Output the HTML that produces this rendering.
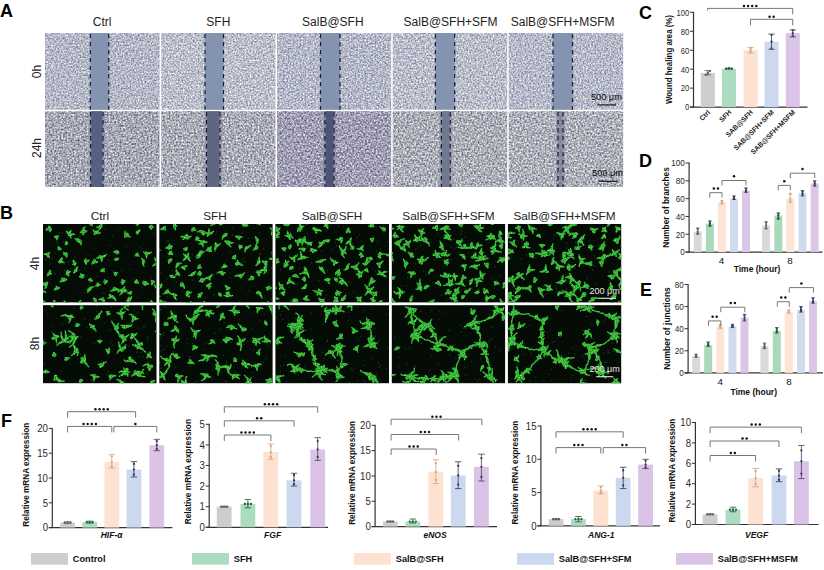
<!DOCTYPE html>
<html><head><meta charset="utf-8"><style>
html,body{margin:0;padding:0;background:#fff;}
body{width:824px;height:570px;overflow:hidden;}
svg{display:block;font-family:"Liberation Sans", sans-serif;}
</style></head><body>
<svg width="824" height="570" viewBox="0 0 824 570">
<defs>
<filter id="ta0" x="0" y="0" width="100%" height="100%" color-interpolation-filters="sRGB">
<feTurbulence type="fractalNoise" baseFrequency="0.6" numOctaves="2" seed="1" result="n"/>
<feColorMatrix in="n" type="matrix" values="0.8 0 0 0 0.306  0.8 0 0 0 0.322  0.680 0 0 0 0.440  0 0 0 0 1"/>
<feGaussianBlur stdDeviation="0.5"/>
<feComposite in2="SourceGraphic" operator="in"/>
</filter>
<filter id="ta1" x="0" y="0" width="100%" height="100%" color-interpolation-filters="sRGB">
<feTurbulence type="fractalNoise" baseFrequency="0.6" numOctaves="2" seed="8" result="n"/>
<feColorMatrix in="n" type="matrix" values="0.8 0 0 0 0.337  0.8 0 0 0 0.349  0.680 0 0 0 0.456  0 0 0 0 1"/>
<feGaussianBlur stdDeviation="0.5"/>
<feComposite in2="SourceGraphic" operator="in"/>
</filter>
<filter id="ta2" x="0" y="0" width="100%" height="100%" color-interpolation-filters="sRGB">
<feTurbulence type="fractalNoise" baseFrequency="0.6" numOctaves="2" seed="15" result="n"/>
<feColorMatrix in="n" type="matrix" values="0.8 0 0 0 0.306  0.8 0 0 0 0.322  0.680 0 0 0 0.444  0 0 0 0 1"/>
<feGaussianBlur stdDeviation="0.5"/>
<feComposite in2="SourceGraphic" operator="in"/>
</filter>
<filter id="ta3" x="0" y="0" width="100%" height="100%" color-interpolation-filters="sRGB">
<feTurbulence type="fractalNoise" baseFrequency="0.6" numOctaves="2" seed="22" result="n"/>
<feColorMatrix in="n" type="matrix" values="0.8 0 0 0 0.329  0.8 0 0 0 0.345  0.680 0 0 0 0.456  0 0 0 0 1"/>
<feGaussianBlur stdDeviation="0.5"/>
<feComposite in2="SourceGraphic" operator="in"/>
</filter>
<filter id="ta4" x="0" y="0" width="100%" height="100%" color-interpolation-filters="sRGB">
<feTurbulence type="fractalNoise" baseFrequency="0.6" numOctaves="2" seed="29" result="n"/>
<feColorMatrix in="n" type="matrix" values="0.8 0 0 0 0.314  0.8 0 0 0 0.329  0.680 0 0 0 0.448  0 0 0 0 1"/>
<feGaussianBlur stdDeviation="0.5"/>
<feComposite in2="SourceGraphic" operator="in"/>
</filter>
<filter id="ta5" x="0" y="0" width="100%" height="100%" color-interpolation-filters="sRGB">
<feTurbulence type="fractalNoise" baseFrequency="0.55" numOctaves="2" seed="36" result="n"/>
<feColorMatrix in="n" type="matrix" values="0.95 0 0 0 0.176  0.95 0 0 0 0.184  0.807 0 0 0 0.306  0 0 0 0 1"/>
<feGaussianBlur stdDeviation="0.5"/>
<feComposite in2="SourceGraphic" operator="in"/>
</filter>
<filter id="ta6" x="0" y="0" width="100%" height="100%" color-interpolation-filters="sRGB">
<feTurbulence type="fractalNoise" baseFrequency="0.55" numOctaves="2" seed="43" result="n"/>
<feColorMatrix in="n" type="matrix" values="0.95 0 0 0 0.192  0.95 0 0 0 0.200  0.807 0 0 0 0.314  0 0 0 0 1"/>
<feGaussianBlur stdDeviation="0.5"/>
<feComposite in2="SourceGraphic" operator="in"/>
</filter>
<filter id="ta7" x="0" y="0" width="100%" height="100%" color-interpolation-filters="sRGB">
<feTurbulence type="fractalNoise" baseFrequency="0.55" numOctaves="2" seed="50" result="n"/>
<feColorMatrix in="n" type="matrix" values="0.95 0 0 0 0.152  0.95 0 0 0 0.145  0.807 0 0 0 0.302  0 0 0 0 1"/>
<feGaussianBlur stdDeviation="0.5"/>
<feComposite in2="SourceGraphic" operator="in"/>
</filter>
<filter id="ta8" x="0" y="0" width="100%" height="100%" color-interpolation-filters="sRGB">
<feTurbulence type="fractalNoise" baseFrequency="0.55" numOctaves="2" seed="57" result="n"/>
<feColorMatrix in="n" type="matrix" values="0.95 0 0 0 0.200  0.95 0 0 0 0.207  0.807 0 0 0 0.318  0 0 0 0 1"/>
<feGaussianBlur stdDeviation="0.5"/>
<feComposite in2="SourceGraphic" operator="in"/>
</filter>
<filter id="ta9" x="0" y="0" width="100%" height="100%" color-interpolation-filters="sRGB">
<feTurbulence type="fractalNoise" baseFrequency="0.55" numOctaves="2" seed="64" result="n"/>
<feColorMatrix in="n" type="matrix" values="0.95 0 0 0 0.207  0.95 0 0 0 0.215  0.807 0 0 0 0.326  0 0 0 0 1"/>
<feGaussianBlur stdDeviation="0.5"/>
<feComposite in2="SourceGraphic" operator="in"/>
</filter>
<filter id="tb0" x="0" y="0" width="100%" height="100%" color-interpolation-filters="sRGB">
<feTurbulence type="fractalNoise" baseFrequency="0.11" numOctaves="3" seed="5" result="n"/>
<feColorMatrix in="n" type="matrix" values="0 0 0 0 0  1 0 0 0 0  0 0 0 0 0  0 0 0 0 1" result="g"/>
<feComponentTransfer in="g" result="t">
<feFuncG type="linear" slope="7" intercept="-3.85"/>
</feComponentTransfer>
<feColorMatrix in="t" type="matrix" values="0 0.3 0 0 0.01  0 0.9 0 0 0.03  0 0.25 0 0 0.01  0 0 0 0 1"/>
<feComposite in2="SourceGraphic" operator="in"/>
</filter>
<filter id="tb1" x="0" y="0" width="100%" height="100%" color-interpolation-filters="sRGB">
<feTurbulence type="fractalNoise" baseFrequency="0.11" numOctaves="3" seed="18" result="n"/>
<feColorMatrix in="n" type="matrix" values="0 0 0 0 0  1 0 0 0 0  0 0 0 0 0  0 0 0 0 1" result="g"/>
<feComponentTransfer in="g" result="t">
<feFuncG type="linear" slope="7" intercept="-3.85"/>
</feComponentTransfer>
<feColorMatrix in="t" type="matrix" values="0 0.3 0 0 0.01  0 0.9 0 0 0.03  0 0.25 0 0 0.01  0 0 0 0 1"/>
<feComposite in2="SourceGraphic" operator="in"/>
</filter>
<filter id="tb2" x="0" y="0" width="100%" height="100%" color-interpolation-filters="sRGB">
<feTurbulence type="fractalNoise" baseFrequency="0.11" numOctaves="3" seed="31" result="n"/>
<feColorMatrix in="n" type="matrix" values="0 0 0 0 0  1 0 0 0 0  0 0 0 0 0  0 0 0 0 1" result="g"/>
<feComponentTransfer in="g" result="t">
<feFuncG type="linear" slope="7" intercept="-3.85"/>
</feComponentTransfer>
<feColorMatrix in="t" type="matrix" values="0 0.3 0 0 0.01  0 0.9 0 0 0.03  0 0.25 0 0 0.01  0 0 0 0 1"/>
<feComposite in2="SourceGraphic" operator="in"/>
</filter>
<filter id="tb3" x="0" y="0" width="100%" height="100%" color-interpolation-filters="sRGB">
<feTurbulence type="fractalNoise" baseFrequency="0.11" numOctaves="3" seed="44" result="n"/>
<feColorMatrix in="n" type="matrix" values="0 0 0 0 0  1 0 0 0 0  0 0 0 0 0  0 0 0 0 1" result="g"/>
<feComponentTransfer in="g" result="t">
<feFuncG type="linear" slope="7" intercept="-3.85"/>
</feComponentTransfer>
<feColorMatrix in="t" type="matrix" values="0 0.3 0 0 0.01  0 0.9 0 0 0.03  0 0.25 0 0 0.01  0 0 0 0 1"/>
<feComposite in2="SourceGraphic" operator="in"/>
</filter>
<filter id="tb4" x="0" y="0" width="100%" height="100%" color-interpolation-filters="sRGB">
<feTurbulence type="fractalNoise" baseFrequency="0.11" numOctaves="3" seed="57" result="n"/>
<feColorMatrix in="n" type="matrix" values="0 0 0 0 0  1 0 0 0 0  0 0 0 0 0  0 0 0 0 1" result="g"/>
<feComponentTransfer in="g" result="t">
<feFuncG type="linear" slope="7" intercept="-3.85"/>
</feComponentTransfer>
<feColorMatrix in="t" type="matrix" values="0 0.3 0 0 0.01  0 0.9 0 0 0.03  0 0.25 0 0 0.01  0 0 0 0 1"/>
<feComposite in2="SourceGraphic" operator="in"/>
</filter>
<filter id="tb5" x="0" y="0" width="100%" height="100%" color-interpolation-filters="sRGB">
<feTurbulence type="fractalNoise" baseFrequency="0.11" numOctaves="3" seed="70" result="n"/>
<feColorMatrix in="n" type="matrix" values="0 0 0 0 0  1 0 0 0 0  0 0 0 0 0  0 0 0 0 1" result="g"/>
<feComponentTransfer in="g" result="t">
<feFuncG type="linear" slope="7" intercept="-3.85"/>
</feComponentTransfer>
<feColorMatrix in="t" type="matrix" values="0 0.3 0 0 0.01  0 0.9 0 0 0.03  0 0.25 0 0 0.01  0 0 0 0 1"/>
<feComposite in2="SourceGraphic" operator="in"/>
</filter>
<filter id="tb6" x="0" y="0" width="100%" height="100%" color-interpolation-filters="sRGB">
<feTurbulence type="fractalNoise" baseFrequency="0.11" numOctaves="3" seed="83" result="n"/>
<feColorMatrix in="n" type="matrix" values="0 0 0 0 0  1 0 0 0 0  0 0 0 0 0  0 0 0 0 1" result="g"/>
<feComponentTransfer in="g" result="t">
<feFuncG type="linear" slope="7" intercept="-3.85"/>
</feComponentTransfer>
<feColorMatrix in="t" type="matrix" values="0 0.3 0 0 0.01  0 0.9 0 0 0.03  0 0.25 0 0 0.01  0 0 0 0 1"/>
<feComposite in2="SourceGraphic" operator="in"/>
</filter>
<filter id="tb7" x="0" y="0" width="100%" height="100%" color-interpolation-filters="sRGB">
<feTurbulence type="fractalNoise" baseFrequency="0.11" numOctaves="3" seed="96" result="n"/>
<feColorMatrix in="n" type="matrix" values="0 0 0 0 0  1 0 0 0 0  0 0 0 0 0  0 0 0 0 1" result="g"/>
<feComponentTransfer in="g" result="t">
<feFuncG type="linear" slope="7" intercept="-3.85"/>
</feComponentTransfer>
<feColorMatrix in="t" type="matrix" values="0 0.3 0 0 0.01  0 0.9 0 0 0.03  0 0.25 0 0 0.01  0 0 0 0 1"/>
<feComposite in2="SourceGraphic" operator="in"/>
</filter>
<filter id="tb8" x="0" y="0" width="100%" height="100%" color-interpolation-filters="sRGB">
<feTurbulence type="fractalNoise" baseFrequency="0.11" numOctaves="3" seed="109" result="n"/>
<feColorMatrix in="n" type="matrix" values="0 0 0 0 0  1 0 0 0 0  0 0 0 0 0  0 0 0 0 1" result="g"/>
<feComponentTransfer in="g" result="t">
<feFuncG type="linear" slope="7" intercept="-3.85"/>
</feComponentTransfer>
<feColorMatrix in="t" type="matrix" values="0 0.3 0 0 0.01  0 0.9 0 0 0.03  0 0.25 0 0 0.01  0 0 0 0 1"/>
<feComposite in2="SourceGraphic" operator="in"/>
</filter>
<filter id="tb9" x="0" y="0" width="100%" height="100%" color-interpolation-filters="sRGB">
<feTurbulence type="fractalNoise" baseFrequency="0.11" numOctaves="3" seed="122" result="n"/>
<feColorMatrix in="n" type="matrix" values="0 0 0 0 0  1 0 0 0 0  0 0 0 0 0  0 0 0 0 1" result="g"/>
<feComponentTransfer in="g" result="t">
<feFuncG type="linear" slope="7" intercept="-3.85"/>
</feComponentTransfer>
<feColorMatrix in="t" type="matrix" values="0 0.3 0 0 0.01  0 0.9 0 0 0.03  0 0.25 0 0 0.01  0 0 0 0 1"/>
<feComposite in2="SourceGraphic" operator="in"/>
</filter>
<filter id="cb" x="0" y="0" width="100%" height="100%" filterUnits="userSpaceOnUse" color-interpolation-filters="sRGB">
<feGaussianBlur in="SourceGraphic" stdDeviation="0.45" result="b"/>
<feTurbulence type="fractalNoise" baseFrequency="0.8" numOctaves="1" seed="9" result="n"/>
<feColorMatrix in="n" type="matrix" values="1.4 0 0 0 -0.2  1.4 0 0 0 -0.2  1.4 0 0 0 -0.2  0 0 0 0 1" result="nc"/>
<feComposite in="b" in2="nc" operator="arithmetic" k1="0.8" k2="0.5" k3="0" k4="0"/>
</filter>
</defs>
<text x="0.00" y="16.60" font-size="18" font-weight="bold" text-anchor="start" fill="#000">A</text>
<text x="0.00" y="218.60" font-size="18" font-weight="bold" text-anchor="start" fill="#000">B</text>
<text x="639.00" y="19.10" font-size="18" font-weight="bold" text-anchor="start" fill="#000">C</text>
<text x="639.00" y="167.10" font-size="18" font-weight="bold" text-anchor="start" fill="#000">D</text>
<text x="640.00" y="295.60" font-size="18" font-weight="bold" text-anchor="start" fill="#000">E</text>
<text x="1.00" y="426.60" font-size="18" font-weight="bold" text-anchor="start" fill="#000">F</text>
<text x="102.20" y="25.60" font-size="12" text-anchor="middle" fill="#222">Ctrl</text>
<text x="218.30" y="25.60" font-size="12" text-anchor="middle" fill="#222">SFH</text>
<text x="332.80" y="25.60" font-size="12" text-anchor="middle" fill="#222">SalB@SFH</text>
<text x="450.50" y="25.60" font-size="12" text-anchor="middle" fill="#222">SalB@SFH+SFM</text>
<text x="562.70" y="25.60" font-size="12" text-anchor="middle" fill="#222">SalB@SFH+MSFM</text>
<text x="41.00" y="71.50" font-size="12" text-anchor="middle" fill="#222" transform="rotate(-90 41 71.5)">0h</text>
<text x="41.00" y="148.00" font-size="12" text-anchor="middle" fill="#222" transform="rotate(-90 41 148)">24h</text>
<rect x="45.00" y="33.00" width="114.60" height="76.70" fill="#b9bed2" filter="url(#ta0)"/>
<rect x="90.30" y="33.00" width="18.50" height="76.70" fill="#8493b0"/>
<line x1="90.30" y1="33.00" x2="90.30" y2="109.70" stroke="#161b36" stroke-width="1.2" stroke-dasharray="4.3 3.7" stroke-dashoffset="-0.9"/>
<line x1="108.80" y1="33.00" x2="108.80" y2="109.70" stroke="#161b36" stroke-width="1.2" stroke-dasharray="4.3 3.7" stroke-dashoffset="-0.9"/>
<rect x="161.20" y="33.00" width="114.30" height="76.70" fill="#b9bed2" filter="url(#ta1)"/>
<rect x="205.00" y="33.00" width="18.50" height="76.70" fill="#8493b0"/>
<line x1="205.00" y1="33.00" x2="205.00" y2="109.70" stroke="#161b36" stroke-width="1.2" stroke-dasharray="4.3 3.7" stroke-dashoffset="-0.9"/>
<line x1="223.50" y1="33.00" x2="223.50" y2="109.70" stroke="#161b36" stroke-width="1.2" stroke-dasharray="4.3 3.7" stroke-dashoffset="-0.9"/>
<rect x="277.00" y="33.00" width="114.20" height="76.70" fill="#b9bed2" filter="url(#ta2)"/>
<rect x="320.50" y="33.00" width="19.50" height="76.70" fill="#8493b0"/>
<line x1="320.50" y1="33.00" x2="320.50" y2="109.70" stroke="#161b36" stroke-width="1.2" stroke-dasharray="4.3 3.7" stroke-dashoffset="-0.9"/>
<line x1="340.00" y1="33.00" x2="340.00" y2="109.70" stroke="#161b36" stroke-width="1.2" stroke-dasharray="4.3 3.7" stroke-dashoffset="-0.9"/>
<rect x="392.70" y="33.00" width="114.50" height="76.70" fill="#b9bed2" filter="url(#ta3)"/>
<rect x="435.40" y="33.00" width="19.30" height="76.70" fill="#8493b0"/>
<line x1="435.40" y1="33.00" x2="435.40" y2="109.70" stroke="#161b36" stroke-width="1.2" stroke-dasharray="4.3 3.7" stroke-dashoffset="-0.9"/>
<line x1="454.70" y1="33.00" x2="454.70" y2="109.70" stroke="#161b36" stroke-width="1.2" stroke-dasharray="4.3 3.7" stroke-dashoffset="-0.9"/>
<rect x="508.70" y="33.00" width="114.50" height="76.70" fill="#b9bed2" filter="url(#ta4)"/>
<rect x="553.00" y="33.00" width="19.50" height="76.70" fill="#8493b0"/>
<line x1="553.00" y1="33.00" x2="553.00" y2="109.70" stroke="#161b36" stroke-width="1.2" stroke-dasharray="4.3 3.7" stroke-dashoffset="-0.9"/>
<line x1="572.50" y1="33.00" x2="572.50" y2="109.70" stroke="#161b36" stroke-width="1.2" stroke-dasharray="4.3 3.7" stroke-dashoffset="-0.9"/>
<rect x="45.00" y="111.20" width="114.60" height="75.80" fill="#b9bed2" filter="url(#ta5)"/>
<rect x="88.70" y="111.20" width="16.30" height="75.80" fill="#80869c" opacity="0.45"/>
<rect x="91.30" y="111.20" width="11.10" height="75.80" fill="#566080" opacity="1"/>
<line x1="90.70" y1="111.20" x2="90.70" y2="187.00" stroke="#161b36" stroke-width="1.2" stroke-dasharray="4.3 3.7" stroke-dashoffset="-0.9"/>
<line x1="103.00" y1="111.20" x2="103.00" y2="187.00" stroke="#161b36" stroke-width="1.2" stroke-dasharray="4.3 3.7" stroke-dashoffset="-0.9"/>
<rect x="161.20" y="111.20" width="114.30" height="75.80" fill="#b9bed2" filter="url(#ta6)"/>
<rect x="204.50" y="111.20" width="17.50" height="75.80" fill="#80869c" opacity="0.45"/>
<rect x="207.10" y="111.20" width="12.30" height="75.80" fill="#5e6684" opacity="1"/>
<line x1="206.50" y1="111.20" x2="206.50" y2="187.00" stroke="#161b36" stroke-width="1.2" stroke-dasharray="4.3 3.7" stroke-dashoffset="-0.9"/>
<line x1="220.00" y1="111.20" x2="220.00" y2="187.00" stroke="#161b36" stroke-width="1.2" stroke-dasharray="4.3 3.7" stroke-dashoffset="-0.9"/>
<rect x="277.00" y="111.20" width="114.20" height="75.80" fill="#b9bed2" filter="url(#ta7)"/>
<rect x="323.00" y="111.20" width="13.00" height="75.80" fill="#80869c" opacity="0.45"/>
<rect x="325.60" y="111.20" width="7.80" height="75.80" fill="#4e5476" opacity="1"/>
<line x1="325.00" y1="111.20" x2="325.00" y2="187.00" stroke="#161b36" stroke-width="1.2" stroke-dasharray="4.3 3.7" stroke-dashoffset="-0.9"/>
<line x1="334.00" y1="111.20" x2="334.00" y2="187.00" stroke="#161b36" stroke-width="1.2" stroke-dasharray="4.3 3.7" stroke-dashoffset="-0.9"/>
<rect x="392.70" y="111.20" width="114.50" height="75.80" fill="#b9bed2" filter="url(#ta8)"/>
<rect x="439.40" y="111.20" width="12.80" height="75.80" fill="#80869c" opacity="0.45"/>
<rect x="442.00" y="111.20" width="7.60" height="75.80" fill="#727890" opacity="1"/>
<line x1="441.40" y1="111.20" x2="441.40" y2="187.00" stroke="#161b36" stroke-width="1.2" stroke-dasharray="4.3 3.7" stroke-dashoffset="-0.9"/>
<line x1="450.20" y1="111.20" x2="450.20" y2="187.00" stroke="#161b36" stroke-width="1.2" stroke-dasharray="4.3 3.7" stroke-dashoffset="-0.9"/>
<rect x="508.70" y="111.20" width="114.50" height="75.80" fill="#b9bed2" filter="url(#ta9)"/>
<rect x="556.00" y="111.20" width="9.00" height="75.80" fill="#80869c" opacity="0.45"/>
<rect x="558.60" y="111.20" width="3.80" height="75.80" fill="#6e748e" opacity="0.45"/>
<line x1="558.00" y1="111.20" x2="558.00" y2="187.00" stroke="#161b36" stroke-width="1.2" stroke-dasharray="4.3 3.7" stroke-dashoffset="-0.9"/>
<line x1="563.00" y1="111.20" x2="563.00" y2="187.00" stroke="#161b36" stroke-width="1.2" stroke-dasharray="4.3 3.7" stroke-dashoffset="-0.9"/>
<text x="621.80" y="100.30" font-size="9.2" text-anchor="end" fill="#0a0a0a">500 μm</text>
<line x1="597.20" y1="104.90" x2="615.90" y2="104.90" stroke="#111" stroke-width="1.1"/>
<text x="623.00" y="176.40" font-size="9.2" text-anchor="end" fill="#0a0a0a">500 μm</text>
<line x1="598.80" y1="181.30" x2="617.50" y2="181.30" stroke="#111" stroke-width="1.1"/>
<text x="100.00" y="219.80" font-size="11.8" text-anchor="middle" fill="#222">Ctrl</text>
<text x="215.00" y="219.80" font-size="11.8" text-anchor="middle" fill="#222">SFH</text>
<text x="332.00" y="219.80" font-size="11.8" text-anchor="middle" fill="#222">SalB@SFH</text>
<text x="448.50" y="219.80" font-size="11.8" text-anchor="middle" fill="#222">SalB@SFH+SFM</text>
<text x="564.50" y="219.80" font-size="11.8" text-anchor="middle" fill="#222">SalB@SFH+MSFM</text>
<text x="39.00" y="263.50" font-size="12" text-anchor="middle" fill="#222" transform="rotate(-90 39 263.5)">4h</text>
<text x="39.00" y="343.50" font-size="12" text-anchor="middle" fill="#222" transform="rotate(-90 39 343.5)">8h</text>
<rect x="43.00" y="224.00" width="113.50" height="78.40" fill="#050b05"/>
<svg x="43.00" y="224.00" width="113.50" height="78.40" overflow="hidden"><path d="M37 12h0M74 6h0M61 29h0M7 40h0M4 34h0M8 7h0M48 65h0M14 18h0M71 74h0M66 31h0M111 4h0M97 23h0M16 9h0M35 64h0M21 46h0M73 29h0M62 5h0M7 16h0M77 34h0M36 46h0M51 24h0M90 55h0M28 45h0M60 69h0M83 23h0M111 9h0M47 59h0M17 38h0M4 52h0M87 45h0M99 25h0M79 47h0M66 36h0M95 74h0M54 52h0M7 55h0M73 78h0M93 22h0M44 52h0M3 36h0M19 9h0M7 60h0M15 19h0M44 68h0M9 35h0M62 69h0M93 68h0M32 33h0M41 69h0M109 12h0M20 18h0M26 38h0M67 21h0M0 33h0M42 44h0M108 54h0M59 48h0M77 4h0M102 61h0M99 63h0M45 31h0M12 50h0M7 5h0M24 13h0M39 4h0M0 12h0M12 29h0M3 69h0M70 12h0M29 27h0" stroke="#3d5a3d" stroke-width="1.4" stroke-linecap="round" opacity="0.6"/><g filter="url(#cb)" fill="none" stroke="#40cc40" stroke-linecap="round" stroke-linejoin="round"><path d="M40.5 7.4L39.4 7.7L38.3 8.1L37.3 8.4M40.5 7.4L40.4 6.1L40.5 5.1L40.8 4.2L41.5 3.3L42.4 2.8M40.5 7.4L41.7 7.3L42.9 7.3L43.8 7.6M40.5 7.4L40.5 8.3L40.4 9.5L39.8 10.6M93.6 58.0L94.7 58.4L95.5 59.2M93.6 58.0L92.5 58.3L91.6 58.2M93.6 58.0L93.5 56.8L93.4 55.6M110.1 57.9L109.0 57.2L108.5 56.4M110.1 57.9L109.5 58.8L109.0 59.6L108.8 60.8M59.9 75.8L59.9 74.8L60.0 73.8M59.9 75.8L60.5 76.7L61.2 77.6M59.9 75.8L58.9 75.5L57.8 75.2L56.7 75.4L56.0 75.8M17.6 37.0L18.7 37.4L19.4 38.1L20.2 38.5L21.2 38.6M17.6 37.0L17.5 38.0L16.9 38.9M17.6 37.0L16.5 37.6L15.6 38.0M17.6 37.0L18.0 35.8L18.6 35.0L19.3 34.2M17.6 37.0L18.2 36.1L18.6 35.2L18.6 33.9M73.9 27.9L75.0 28.2L75.9 29.0M73.9 27.9L73.6 28.9L73.7 29.9M73.9 27.9L72.9 27.6L71.9 27.7L70.7 27.8M114.7 63.5L115.6 64.3L116.3 65.4L116.8 66.6M114.7 63.5L113.8 62.9L112.9 62.5L112.1 61.9L111.7 61.0M23.6 19.3L22.9 20.0L22.1 20.6M23.6 19.3L23.3 18.4L22.8 17.5M31.7 39.2L30.9 38.4L30.7 37.3L30.2 36.3M31.7 39.2L32.1 40.2L32.0 41.5M31.7 39.2L31.0 39.9L29.9 40.4M115.2 79.9L116.2 79.7L117.4 79.9L118.3 80.2L119.4 80.3M115.2 79.9L114.2 79.9L113.1 79.3L112.2 78.9M42.6 37.1L42.8 38.0L42.9 39.1L43.2 40.2M42.6 37.1L42.5 36.1L42.7 34.9M42.6 37.1L43.7 37.1L44.8 36.8L45.9 36.1M58.3 33.2L58.7 34.4L58.8 35.5L58.3 36.6M58.3 33.2L58.5 34.2L58.9 35.0L58.9 36.2L58.8 37.3M58.3 33.2L57.1 33.5L56.0 33.6L54.9 33.5L53.8 34.0M58.3 33.2L57.4 32.4L56.4 31.9M58.3 33.2L59.3 32.7L60.4 32.3L61.5 32.1L62.3 31.5L63.1 30.6M64.8 -1.9L65.9 -2.5L66.7 -3.3M64.8 -1.9L64.0 -1.4L63.4 -0.5M64.8 -1.9L63.6 -2.4L62.9 -3.2M108.2 3.3L107.9 4.3L107.9 5.3M108.2 3.3L107.2 3.2L106.2 2.6M108.2 3.3L107.8 2.3L107.1 1.6M108.2 3.3L108.7 2.1L108.8 1.2M108.2 3.3L109.2 2.9L110.1 3.0M87.3 69.1L88.0 68.4L88.7 67.7M87.3 69.1L86.1 69.2L84.8 69.2M62.6 57.7L61.8 58.0L60.8 58.0M62.6 57.7L61.9 56.8L61.6 55.8M62.6 57.7L63.6 57.2L64.2 56.5M62.6 57.7L62.5 58.7L61.8 59.8M13.7 13.2L12.8 12.8L11.6 12.7M13.7 13.2L14.5 12.6L15.5 12.1M13.7 13.2L13.9 14.3L13.7 15.6M104.2 29.5L105.0 29.2L106.3 29.0L107.4 28.9L108.3 28.2M104.2 29.5L103.6 30.6L103.4 31.5L103.6 32.6L103.5 33.9M104.2 29.5L103.1 29.3L102.2 29.1L101.3 28.7L100.6 27.7M104.2 29.5L103.2 28.8L102.5 28.2M59.7 46.2L60.4 45.5L61.1 44.5M59.7 46.2L60.3 46.9L61.1 47.7M59.7 46.2L58.5 46.5L57.8 47.1M80.2 57.6L80.2 58.6L79.8 59.5L79.1 60.3M80.2 57.6L78.9 57.9L78.0 58.1M80.2 57.6L79.8 56.4L79.2 55.5M80.2 57.6L81.1 57.5L82.0 57.0M102.6 58.8L101.7 59.1L100.7 59.3L99.7 59.5M102.6 58.8L101.6 58.6L100.8 58.1L100.4 57.2M102.6 58.8L103.4 59.5L104.5 59.8L105.7 59.9M46.1 65.5L45.5 66.3L45.1 67.4L45.0 68.4M46.1 65.5L46.6 64.5L47.4 63.9L48.5 63.4L49.7 63.2L50.8 62.5M94.4 8.2L95.3 7.6L96.1 6.9L96.8 5.9M94.4 8.2L94.2 9.2L94.4 10.1M35.9 79.7L36.4 80.8L36.8 81.7M35.9 79.7L36.4 78.6L37.2 77.8L37.7 76.6M26.3 9.9L27.2 10.6L27.9 11.3M26.3 9.9L26.5 11.2L27.0 12.1L27.7 13.2L28.4 13.8M26.3 9.9L25.6 9.4L24.8 8.8L23.9 8.0L23.4 7.2M26.3 9.9L26.6 9.1L26.8 8.2L27.4 7.5L28.4 6.7M26.3 9.9L27.3 10.2L28.2 10.5L29.3 10.3L30.4 10.2L31.5 10.3M3.1 59.9L2.2 60.0L1.2 59.8L0.0 60.2L-1.1 60.7L-2.2 61.3M3.1 59.9L2.0 59.7L0.8 59.4L-0.3 59.5L-1.4 59.8M3.1 59.9L4.1 59.0L4.5 58.0M3.1 59.9L3.4 60.8L3.2 62.1L3.0 63.0L2.5 63.9L1.5 64.5M23.1 30.7L22.1 30.7L20.9 30.3M23.1 30.7L22.3 30.1L21.3 29.3L20.6 28.3M23.1 30.7L23.3 29.7L23.6 28.8M23.1 30.7L23.4 31.8L23.7 33.0M93.9 30.8L93.1 31.2L92.2 31.6M93.9 30.8L94.2 30.0L94.7 29.0M93.9 30.8L95.0 31.4L95.9 32.3M114.3 38.5L113.9 37.5L113.2 36.6L112.6 35.6L112.0 34.7L111.9 33.6M114.3 38.5L115.4 38.5L116.4 38.2L117.4 38.0L118.4 37.7M114.3 38.5L113.8 39.3L112.7 40.0L111.8 40.6L110.7 41.2L109.8 41.9M24.5 48.9L25.5 48.4L26.5 48.1L27.1 47.4M24.5 48.9L25.1 49.9L25.2 50.8L25.7 51.9M24.5 48.9L23.9 49.6L23.3 50.5M53.8 8.4L52.7 7.9L51.5 7.7L50.8 7.1L50.1 6.1M53.8 8.4L54.7 8.9L55.6 9.3L56.5 9.2L57.4 8.7M53.8 8.4L52.9 9.1L52.0 9.6L51.1 10.3M57.8 2.4L58.2 1.4L58.9 0.6M57.8 2.4L58.3 1.6L58.8 0.5M57.8 2.4L57.4 3.3L56.9 4.3L56.1 5.1L55.6 6.1M57.8 2.4L56.9 2.5L56.0 3.0L54.7 3.2L53.7 3.1M36.3 17.2L35.3 16.8L34.4 16.1L33.5 15.7L32.7 15.2L32.1 14.4M36.3 17.2L35.7 16.3L35.0 15.7M36.3 17.2L37.3 16.7L38.2 16.5M36.3 17.2L37.3 17.9L37.8 18.6L38.1 19.9L37.9 20.8M36.3 17.2L37.2 18.0L37.7 19.0L37.9 20.2M47.6 -1.2L48.2 -0.2L48.7 0.6L49.0 1.8M47.6 -1.2L47.2 -0.3L47.2 0.9M47.6 -1.2L47.9 -2.2L48.1 -3.3L48.1 -4.5M80.1 66.7L79.4 67.4L78.8 68.4L78.4 69.3L77.9 70.0L76.9 70.8M80.1 66.7L79.1 66.3L77.8 66.1L76.6 66.4L75.8 67.0L75.1 68.0M80.1 66.7L80.3 65.7L80.5 64.6L81.0 63.5L81.6 62.6M80.1 66.7L81.1 66.2L82.1 66.0L83.3 65.8M80.1 66.7L81.2 67.2L82.2 67.4L83.4 67.3L84.3 67.6M16.2 24.7L17.1 25.0L18.2 25.1M16.2 24.7L15.7 23.9L15.4 22.8M23.6 79.8L24.2 80.9L24.9 81.8M23.6 79.8L22.6 79.2L21.8 78.2L21.2 77.1M73.7 35.3L74.5 34.8L75.5 34.5M73.7 35.3L72.5 35.6L71.3 35.4M-1.7 67.2L-0.5 67.4L0.5 67.5L1.6 67.7L2.6 68.2M-1.7 67.2L-2.6 66.6L-3.0 65.7L-3.3 64.7L-3.3 63.7M85.6 76.3L86.8 75.8L87.6 74.9L88.0 73.8L88.8 72.8M85.6 76.3L84.6 77.0L83.5 77.8M85.6 76.3L85.5 75.2L85.7 74.3L86.1 73.2M39.8 52.2L38.6 52.7L37.7 52.8L36.5 52.4M39.8 52.2L39.2 51.2L38.4 50.8L37.8 49.8M39.8 52.2L40.1 51.3L40.6 50.4M39.8 52.2L39.5 53.1L38.7 54.0M20.6 55.5L19.5 54.8L18.5 54.3M20.6 55.5L21.6 55.7L22.7 55.5L23.7 55.6M20.6 55.5L20.9 56.5L21.2 57.5M20.6 55.5L19.7 56.1L18.9 56.5L18.2 57.4L17.1 57.9M54.9 60.9L54.8 59.9L54.8 58.8M54.9 60.9L55.9 60.8L57.2 60.8M54.9 60.9L53.9 61.4L53.0 62.0M32.8 46.5L31.9 47.2L31.5 48.0L30.7 48.7M32.8 46.5L33.2 45.5L33.5 44.5L34.0 43.5L34.7 42.9M72.7 49.8L73.3 49.1L74.1 48.6M72.7 49.8L72.4 50.7L72.6 51.6M72.7 49.8L71.9 49.0L71.0 48.2M47.3 55.7L48.4 56.5L49.2 57.1M47.3 55.7L46.4 55.7L45.6 56.2M11.5 78.6L12.4 79.4L13.2 79.9M11.5 78.6L11.4 77.4L10.7 76.4M52.0 75.7L51.3 74.7L50.4 74.2M52.0 75.7L52.3 76.8L53.0 77.6L53.6 78.4M14.3 64.3L13.6 63.2L13.2 62.2M14.3 64.3L15.4 64.0L16.5 64.0M14.3 64.3L13.3 64.7L12.4 65.3L11.3 65.5M68.9 72.6L67.8 72.0L67.0 71.1L66.2 70.5M68.9 72.6L70.1 73.1L71.0 73.8L71.6 74.7L72.3 75.6L72.9 76.5M68.9 72.6L67.9 72.8L67.0 73.4L65.9 73.9L65.0 74.2M4.5 30.6L5.3 30.0L5.8 29.2L6.6 28.5M4.5 30.6L4.8 31.5L5.7 32.5L6.4 33.1M4.5 30.6L3.4 30.2L2.3 30.1L1.4 30.3M100.5 38.0L101.1 37.1L101.7 36.3M100.5 38.0L100.1 39.0L100.2 39.9L100.5 41.1L100.9 42.3M100.5 38.0L100.0 36.9L99.8 36.0L99.4 35.1L98.5 34.2M83.1 11.5L84.1 11.8L85.3 12.0L86.2 12.6L87.2 12.7M83.1 11.5L82.3 12.3L81.6 13.2M83.1 11.5L82.7 10.6L82.1 9.6L81.9 8.4L82.0 7.3M6.3 49.2L6.8 48.5L7.0 47.2L6.9 46.2M6.3 49.2L7.4 49.6L8.5 49.7M6.3 49.2L5.5 50.0L5.1 50.7L4.5 51.6M51.5 37.7L52.6 38.0L53.6 38.1L54.6 37.8M51.5 37.7L50.7 38.2L49.7 39.0L49.3 40.1M51.5 37.7L50.3 37.9L49.4 38.3M51.5 37.7L51.4 36.8L51.1 35.5M51.5 37.7L51.9 36.8L52.6 35.9M6.5 4.4L6.2 3.2L5.8 2.4M6.5 4.4L7.6 4.8L8.5 5.5M6.5 4.4L6.5 5.7L7.0 6.6L7.2 7.5M6.5 4.4L5.2 4.6L4.2 5.3L3.2 6.0M108.4 78.8L108.4 77.6L108.3 76.4M108.4 78.8L108.8 79.8L109.2 80.8M108.4 78.8L107.7 79.5L107.4 80.4M94.6 -0.5L94.5 0.5L94.3 1.5M94.6 -0.5L93.6 -0.4L92.4 -0.5M94.6 -0.5L95.6 -1.0L96.3 -1.7M1.3 78.9L1.0 80.1L0.2 81.2M1.3 78.9L0.8 78.0L0.7 76.7M1.3 78.9L2.4 79.0L3.3 79.1M72.7 65.3L73.7 65.4L74.9 65.6L75.9 65.9L76.9 66.2M72.7 65.3L71.5 65.6L70.6 66.2L69.5 66.4L68.5 66.8L67.6 67.2" stroke-width="1.4"/><path d="M40.5 7.4L39.4 7.7L38.3 8.1M40.5 7.4L40.4 6.1L40.5 5.1L40.8 4.2M40.5 7.4L41.7 7.3L42.9 7.3M40.5 7.4L40.5 8.3L40.4 9.5M93.6 58.0L94.7 58.4M93.6 58.0L92.5 58.3M93.6 58.0L93.5 56.8M110.1 57.9L109.0 57.2M110.1 57.9L109.5 58.8L109.0 59.6M59.9 75.8L59.9 74.8M59.9 75.8L60.5 76.7M59.9 75.8L58.9 75.5L57.8 75.2M17.6 37.0L18.7 37.4L19.4 38.1M17.6 37.0L17.5 38.0M17.6 37.0L16.5 37.6M17.6 37.0L18.0 35.8L18.6 35.0M17.6 37.0L18.2 36.1L18.6 35.2M73.9 27.9L75.0 28.2M73.9 27.9L73.6 28.9M73.9 27.9L72.9 27.6L71.9 27.7M114.7 63.5L115.6 64.3L116.3 65.4M114.7 63.5L113.8 62.9L112.9 62.5M23.6 19.3L22.9 20.0M23.6 19.3L23.3 18.4M31.7 39.2L30.9 38.4L30.7 37.3M31.7 39.2L32.1 40.2M31.7 39.2L31.0 39.9M115.2 79.9L116.2 79.7L117.4 79.9M115.2 79.9L114.2 79.9L113.1 79.3M42.6 37.1L42.8 38.0L42.9 39.1M42.6 37.1L42.5 36.1M42.6 37.1L43.7 37.1L44.8 36.8M58.3 33.2L58.7 34.4L58.8 35.5M58.3 33.2L58.5 34.2L58.9 35.0M58.3 33.2L57.1 33.5L56.0 33.6M58.3 33.2L57.4 32.4M58.3 33.2L59.3 32.7L60.4 32.3L61.5 32.1M64.8 -1.9L65.9 -2.5M64.8 -1.9L64.0 -1.4M64.8 -1.9L63.6 -2.4M108.2 3.3L107.9 4.3M108.2 3.3L107.2 3.2M108.2 3.3L107.8 2.3M108.2 3.3L108.7 2.1M108.2 3.3L109.2 2.9M87.3 69.1L88.0 68.4M87.3 69.1L86.1 69.2M62.6 57.7L61.8 58.0M62.6 57.7L61.9 56.8M62.6 57.7L63.6 57.2M62.6 57.7L62.5 58.7M13.7 13.2L12.8 12.8M13.7 13.2L14.5 12.6M13.7 13.2L13.9 14.3M104.2 29.5L105.0 29.2L106.3 29.0M104.2 29.5L103.6 30.6L103.4 31.5M104.2 29.5L103.1 29.3L102.2 29.1M104.2 29.5L103.2 28.8M59.7 46.2L60.4 45.5M59.7 46.2L60.3 46.9M59.7 46.2L58.5 46.5M80.2 57.6L80.2 58.6L79.8 59.5M80.2 57.6L78.9 57.9M80.2 57.6L79.8 56.4M80.2 57.6L81.1 57.5M102.6 58.8L101.7 59.1L100.7 59.3M102.6 58.8L101.6 58.6L100.8 58.1M102.6 58.8L103.4 59.5L104.5 59.8M46.1 65.5L45.5 66.3L45.1 67.4M46.1 65.5L46.6 64.5L47.4 63.9L48.5 63.4M94.4 8.2L95.3 7.6L96.1 6.9M94.4 8.2L94.2 9.2M35.9 79.7L36.4 80.8M35.9 79.7L36.4 78.6L37.2 77.8M26.3 9.9L27.2 10.6M26.3 9.9L26.5 11.2L27.0 12.1M26.3 9.9L25.6 9.4L24.8 8.8M26.3 9.9L26.6 9.1L26.8 8.2M26.3 9.9L27.3 10.2L28.2 10.5L29.3 10.3M3.1 59.9L2.2 60.0L1.2 59.8L0.0 60.2M3.1 59.9L2.0 59.7L0.8 59.4M3.1 59.9L4.1 59.0M3.1 59.9L3.4 60.8L3.2 62.1L3.0 63.0M23.1 30.7L22.1 30.7M23.1 30.7L22.3 30.1L21.3 29.3M23.1 30.7L23.3 29.7M23.1 30.7L23.4 31.8M93.9 30.8L93.1 31.2M93.9 30.8L94.2 30.0M93.9 30.8L95.0 31.4M114.3 38.5L113.9 37.5L113.2 36.6L112.6 35.6M114.3 38.5L115.4 38.5L116.4 38.2M114.3 38.5L113.8 39.3L112.7 40.0L111.8 40.6M24.5 48.9L25.5 48.4L26.5 48.1M24.5 48.9L25.1 49.9L25.2 50.8M24.5 48.9L23.9 49.6M53.8 8.4L52.7 7.9L51.5 7.7M53.8 8.4L54.7 8.9L55.6 9.3M53.8 8.4L52.9 9.1L52.0 9.6M57.8 2.4L58.2 1.4M57.8 2.4L58.3 1.6M57.8 2.4L57.4 3.3L56.9 4.3M57.8 2.4L56.9 2.5L56.0 3.0M36.3 17.2L35.3 16.8L34.4 16.1L33.5 15.7M36.3 17.2L35.7 16.3M36.3 17.2L37.3 16.7M36.3 17.2L37.3 17.9L37.8 18.6M36.3 17.2L37.2 18.0L37.7 19.0M47.6 -1.2L48.2 -0.2L48.7 0.6M47.6 -1.2L47.2 -0.3M47.6 -1.2L47.9 -2.2L48.1 -3.3M80.1 66.7L79.4 67.4L78.8 68.4L78.4 69.3M80.1 66.7L79.1 66.3L77.8 66.1L76.6 66.4M80.1 66.7L80.3 65.7L80.5 64.6M80.1 66.7L81.1 66.2L82.1 66.0M80.1 66.7L81.2 67.2L82.2 67.4M16.2 24.7L17.1 25.0M16.2 24.7L15.7 23.9M23.6 79.8L24.2 80.9M23.6 79.8L22.6 79.2L21.8 78.2M73.7 35.3L74.5 34.8M73.7 35.3L72.5 35.6M-1.7 67.2L-0.5 67.4L0.5 67.5M-1.7 67.2L-2.6 66.6L-3.0 65.7M85.6 76.3L86.8 75.8L87.6 74.9M85.6 76.3L84.6 77.0M85.6 76.3L85.5 75.2L85.7 74.3M39.8 52.2L38.6 52.7L37.7 52.8M39.8 52.2L39.2 51.2L38.4 50.8M39.8 52.2L40.1 51.3M39.8 52.2L39.5 53.1M20.6 55.5L19.5 54.8M20.6 55.5L21.6 55.7L22.7 55.5M20.6 55.5L20.9 56.5M20.6 55.5L19.7 56.1L18.9 56.5M54.9 60.9L54.8 59.9M54.9 60.9L55.9 60.8M54.9 60.9L53.9 61.4M32.8 46.5L31.9 47.2L31.5 48.0M32.8 46.5L33.2 45.5L33.5 44.5M72.7 49.8L73.3 49.1M72.7 49.8L72.4 50.7M72.7 49.8L71.9 49.0M47.3 55.7L48.4 56.5M47.3 55.7L46.4 55.7M11.5 78.6L12.4 79.4M11.5 78.6L11.4 77.4M52.0 75.7L51.3 74.7M52.0 75.7L52.3 76.8L53.0 77.6M14.3 64.3L13.6 63.2M14.3 64.3L15.4 64.0M14.3 64.3L13.3 64.7L12.4 65.3M68.9 72.6L67.8 72.0L67.0 71.1M68.9 72.6L70.1 73.1L71.0 73.8L71.6 74.7M68.9 72.6L67.9 72.8L67.0 73.4M4.5 30.6L5.3 30.0L5.8 29.2M4.5 30.6L4.8 31.5L5.7 32.5M4.5 30.6L3.4 30.2L2.3 30.1M100.5 38.0L101.1 37.1M100.5 38.0L100.1 39.0L100.2 39.9M100.5 38.0L100.0 36.9L99.8 36.0M83.1 11.5L84.1 11.8L85.3 12.0M83.1 11.5L82.3 12.3M83.1 11.5L82.7 10.6L82.1 9.6M6.3 49.2L6.8 48.5L7.0 47.2M6.3 49.2L7.4 49.6M6.3 49.2L5.5 50.0L5.1 50.7M51.5 37.7L52.6 38.0L53.6 38.1M51.5 37.7L50.7 38.2L49.7 39.0M51.5 37.7L50.3 37.9M51.5 37.7L51.4 36.8M51.5 37.7L51.9 36.8M6.5 4.4L6.2 3.2M6.5 4.4L7.6 4.8M6.5 4.4L6.5 5.7L7.0 6.6M6.5 4.4L5.2 4.6L4.2 5.3M108.4 78.8L108.4 77.6M108.4 78.8L108.8 79.8M108.4 78.8L107.7 79.5M94.6 -0.5L94.5 0.5M94.6 -0.5L93.6 -0.4M94.6 -0.5L95.6 -1.0M1.3 78.9L1.0 80.1M1.3 78.9L0.8 78.0M1.3 78.9L2.4 79.0M72.7 65.3L73.7 65.4L74.9 65.6M72.7 65.3L71.5 65.6L70.6 66.2L69.5 66.4" stroke-width="2.3"/><path d="M40.5 7.4h0M39.5 7.7h0M93.6 58.0h0M110.1 57.9h0M59.9 75.8h0M17.6 37.0h0M73.9 27.9h0M114.7 63.5h0M113.3 62.7h0M23.6 19.3h0M31.7 39.2h0M115.2 79.9h0M114.6 79.4h0M42.6 37.1h0M58.3 33.2h0M64.8 -1.9h0M108.2 3.3h0M87.3 69.1h0M62.6 57.7h0M13.7 13.2h0M104.2 29.5h0M59.7 46.2h0M80.2 57.6h0M102.6 58.8h0M102.1 60.2h0M46.1 65.5h0M46.7 65.4h0M94.4 8.2h0M35.9 79.7h0M36.1 79.3h0M26.3 9.9h0M26.4 10.4h0M3.1 59.9h0M2.0 60.8h0M23.1 30.7h0M93.9 30.8h0M114.3 38.5h0M115.1 38.1h0M24.5 48.9h0M24.8 47.9h0M53.8 8.4h0M54.2 8.1h0M57.8 2.4h0M36.3 17.2h0M34.9 15.9h0M47.6 -1.2h0M80.1 66.7h0M79.2 66.1h0M16.2 24.7h0M23.6 79.8h0M73.7 35.3h0M-1.7 67.2h0M-2.2 65.7h0M85.6 76.3h0M39.8 52.2h0M20.6 55.5h0M54.9 60.9h0M32.8 46.5h0M72.7 49.8h0M47.3 55.7h0M11.5 78.6h0M52.0 75.7h0M14.3 64.3h0M68.9 72.6h0M69.0 72.7h0M4.5 30.6h0M100.5 38.0h0M83.1 11.5h0M84.1 10.4h0M6.3 49.2h0M51.5 37.7h0M6.5 4.4h0M108.4 78.8h0M94.6 -0.5h0M1.3 78.9h0M72.7 65.3h0M71.5 64.6h0" stroke-width="3.6"/></g></svg>
<rect x="159.30" y="224.00" width="113.30" height="78.40" fill="#050b05"/>
<svg x="159.30" y="224.00" width="113.30" height="78.40" overflow="hidden"><path d="M15 64h0M100 30h0M31 15h0M9 17h0M23 67h0M22 15h0M105 72h0M12 25h0M112 31h0M71 54h0M73 4h0M82 64h0M51 27h0M82 78h0M107 16h0M86 38h0M112 76h0M55 71h0M100 9h0M46 74h0M27 34h0M71 28h0M89 14h0M68 43h0M3 62h0M90 67h0M22 42h0M17 58h0M70 70h0M15 20h0M8 73h0M73 11h0M84 35h0M46 61h0M83 38h0M33 30h0M44 15h0M20 44h0M110 46h0M46 2h0M104 25h0M33 56h0M100 9h0M8 17h0M113 40h0M12 51h0M57 8h0M8 29h0M110 34h0M112 29h0M37 8h0M69 13h0M108 49h0M2 49h0M54 52h0M68 9h0M54 50h0M10 69h0M81 15h0M9 32h0M71 49h0M13 47h0M62 14h0M57 49h0M83 9h0M8 55h0M112 44h0M101 30h0M18 52h0M31 67h0" stroke="#3d5a3d" stroke-width="1.4" stroke-linecap="round" opacity="0.6"/><g filter="url(#cb)" fill="none" stroke="#40cc40" stroke-linecap="round" stroke-linejoin="round"><path d="M86.1 1.3L87.4 1.3L88.6 1.5M86.1 1.3L84.9 1.7L84.1 2.3M86.1 1.3L85.2 0.8L84.0 0.8L83.0 0.7M86.1 1.3L86.9 1.1L88.0 0.4M99.4 38.0L98.9 39.2L98.3 39.9L97.4 40.6L96.8 41.6M99.4 38.0L99.5 37.0L99.8 35.8L99.9 34.6L99.9 33.3M99.4 38.0L100.3 37.9L101.5 37.7M109.0 63.9L108.5 65.0L107.8 65.9M109.0 63.9L108.1 63.9L107.0 63.4M109.0 63.9L109.6 62.9L110.5 62.3M109.0 63.9L110.1 64.0L111.0 64.2L112.1 63.9M81.7 51.7L81.6 52.7L81.6 54.0M81.7 51.7L80.8 51.9L79.8 51.6M81.7 51.7L80.6 51.4L79.4 51.4L78.1 51.6L77.0 51.8L76.0 52.2M81.7 51.7L82.6 51.2L83.4 50.7L84.2 50.0L85.1 49.1M99.3 48.8L99.4 49.8L99.6 50.8L100.1 51.9M99.3 48.8L98.2 48.4L97.0 48.1M99.3 48.8L98.9 47.7L98.1 47.0M99.3 48.8L100.2 48.5L101.3 48.1L102.5 47.7M40.6 70.7L41.0 71.6L41.3 72.8M40.6 70.7L40.2 71.7L39.4 72.6L39.2 73.6M40.6 70.7L39.7 70.9L38.7 70.8M40.6 70.7L41.2 69.9L42.0 69.3L43.1 68.9M65.2 11.4L64.4 12.0L63.7 13.0L63.3 13.9L63.1 15.1M65.2 11.4L66.0 10.6L66.9 10.3L68.0 9.9M105.9 38.4L107.1 37.9L108.1 37.9M105.9 38.4L106.2 39.4L106.9 40.4L107.0 41.5L107.7 42.5M105.9 38.4L104.9 38.2L104.0 37.6L103.5 36.9M97.4 23.7L96.3 24.1L95.7 24.8L94.9 25.6L94.0 26.1M97.4 23.7L97.2 22.7L97.0 21.6L97.0 20.4L97.4 19.4M24.5 43.6L23.3 43.6L22.2 43.5M24.5 43.6L25.4 43.1L26.0 42.4L26.9 42.0L28.1 42.1M24.5 43.6L24.9 44.6L25.8 45.4M12.6 52.3L13.6 52.9L14.8 53.0L15.9 52.6M12.6 52.3L11.4 52.1L10.5 51.7M61.4 -1.0L62.4 -0.4L62.9 0.5M61.4 -1.0L61.2 -0.1L61.0 1.2M61.4 -1.0L61.2 -2.1L61.4 -3.0L61.3 -4.1M11.2 29.5L11.9 28.5L12.1 27.3M11.2 29.5L12.1 29.9L13.3 29.8M11.2 29.5L12.3 29.9L13.4 30.5M11.2 29.5L10.3 29.6L9.2 29.7M11.2 29.5L10.8 28.6L10.8 27.4M18.4 49.4L17.4 50.0L16.6 50.9M18.4 49.4L17.9 48.3L17.3 47.4L16.9 46.6L16.9 45.3M18.4 49.4L19.1 50.0L19.7 50.7L20.3 51.6M4.5 4.4L5.0 3.4L5.8 2.7M4.5 4.4L5.5 5.2L6.4 5.9M4.5 4.4L3.5 4.7L2.7 5.1L1.8 5.2L0.6 5.7M11.0 36.4L11.7 35.5L12.5 35.1M11.0 36.4L10.4 37.1L9.7 38.1L9.5 39.2M11.0 36.4L9.8 36.3L8.9 36.5M-1.3 26.0L-0.4 25.9L0.7 26.2M-1.3 26.0L-2.2 26.6L-3.3 27.0M-1.3 26.0L-0.9 24.9L-0.8 24.0L-1.2 22.9M108.1 79.9L108.6 78.7L108.7 77.7M108.1 79.9L107.8 80.8L107.5 82.0L107.0 83.0M15.3 1.8L15.6 0.8L15.9 -0.5L15.7 -1.5L15.5 -2.5M15.3 1.8L16.5 1.8L17.6 1.8M15.3 1.8L15.2 3.0L15.5 4.0L16.1 5.0L16.4 5.9M15.3 1.8L15.1 0.8L14.8 -0.3L14.1 -1.3M57.0 21.9L56.5 21.0L56.4 19.8L56.2 18.8M57.0 21.9L58.0 21.6L58.9 21.2L59.8 20.4L60.8 19.6M57.0 21.9L56.5 22.7L56.2 23.7L56.1 24.7L55.8 25.7L55.6 26.9M65.3 42.1L65.1 41.1L65.2 40.1M65.3 42.1L66.5 42.4L67.7 42.3M65.3 42.1L64.3 42.7L63.3 43.2L62.3 43.6M40.4 49.3L41.4 49.3L42.4 49.8M40.4 49.3L40.7 50.6L40.8 51.7M40.4 49.3L39.5 50.1L38.8 50.8M40.4 49.3L39.4 49.6L38.4 49.7M40.4 49.3L40.4 48.2L40.2 47.3M68.5 64.3L69.6 64.3L70.7 63.8M68.5 64.3L67.8 65.2L67.3 66.0M68.5 64.3L67.8 63.4L67.0 62.5L66.0 61.7M92.4 54.1L91.5 54.7L90.7 55.2L89.6 55.8M92.4 54.1L92.1 53.2L92.1 52.1M92.4 54.1L93.0 54.8L93.8 55.5M15.5 71.4L14.9 70.6L14.1 70.1L13.1 69.9L11.9 70.2M15.5 71.4L16.5 71.4L17.5 71.1M15.5 71.4L15.3 72.6L15.5 73.6L16.1 74.5L16.9 75.4M78.3 39.3L79.6 39.5L80.6 40.0L81.4 40.5L82.3 40.8L83.4 41.4M78.3 39.3L77.9 40.5L77.5 41.4M78.3 39.3L78.2 38.4L78.4 37.5L78.2 36.4M40.7 29.8L40.8 31.0L40.4 32.1L39.6 33.1L38.4 33.7L37.5 34.3M40.7 29.8L39.6 30.4L38.8 31.0L38.0 31.6L36.9 32.3M40.7 29.8L41.2 29.0L42.1 28.2L43.1 27.8L44.1 27.7L45.3 27.5M40.7 29.8L41.6 29.4L42.7 28.8L43.4 28.0M60.8 70.5L60.9 71.4L61.6 72.4M60.8 70.5L60.0 69.7L59.3 68.9M33.9 5.3L34.7 5.8L35.7 5.8L36.6 5.8M33.9 5.3L33.2 6.2L32.6 7.1M33.9 5.3L34.3 4.4L35.3 3.7M43.6 18.2L44.7 18.2L45.7 18.1L46.9 18.3L47.9 17.9M43.6 18.2L43.1 19.3L43.1 20.5L43.6 21.6L44.0 22.8M43.6 18.2L42.6 18.8L41.9 19.4L40.6 19.8L39.6 19.9M43.6 18.2L42.7 17.8L41.7 17.1L40.7 17.0L39.8 17.1M43.6 18.2L44.2 17.5L45.1 16.7M49.9 9.3L49.2 10.1L48.5 11.1L48.2 12.3M49.9 9.3L48.9 9.4L47.8 9.1L46.6 9.0L45.6 8.7M49.9 9.3L49.7 8.1L49.8 7.2L49.8 5.9L49.5 4.9M49.9 9.3L51.2 9.4L52.4 9.0L53.2 8.1L54.1 7.3M1.1 61.7L0.7 62.8L0.3 63.9L-0.1 64.7M1.1 61.7L0.1 60.9L-1.0 60.8M1.1 61.7L0.4 60.9L-0.5 60.3M1.1 61.7L1.8 61.0L2.6 60.0M1.1 61.7L1.2 62.7L1.5 63.6M113.6 8.7L114.7 8.1L115.9 7.5L116.5 6.9L116.9 5.9L117.0 5.0M113.6 8.7L113.6 9.8L113.7 10.7L113.7 11.9L113.1 13.0M113.6 8.7L112.8 9.6L112.3 10.7M113.6 8.7L113.7 7.4L113.4 6.3L112.9 5.2L111.9 4.5L110.9 4.2M97.9 15.7L97.8 16.6L98.1 17.8L98.3 19.1M97.9 15.7L97.4 14.8L96.7 13.8L96.1 13.0M113.7 34.8L112.4 34.6L111.4 34.8L110.2 34.9M113.7 34.8L114.8 34.3L115.5 33.7M87.6 23.6L86.6 24.3L86.1 25.5L85.8 26.7L85.4 27.7M87.6 23.6L88.7 23.1L89.4 22.5L90.5 22.1L91.3 21.4M115.6 28.5L115.7 27.6L115.7 26.6M115.6 28.5L116.6 28.9L117.6 28.9L118.6 28.4M115.6 28.5L114.7 28.6L113.7 28.3L112.7 28.4M33.7 49.8L34.5 49.2L35.3 48.5L36.4 47.8M33.7 49.8L32.9 50.7L31.8 51.3L30.5 51.5L29.6 51.4M26.6 25.3L25.8 25.7L24.8 26.3M26.6 25.3L25.5 24.7L24.5 24.6M26.6 25.3L27.2 24.2L27.7 23.3M8.1 67.8L7.1 67.4L6.0 67.2M8.1 67.8L8.2 66.6L8.5 65.5M8.1 67.8L9.3 68.2L10.3 68.7L11.0 69.2L11.8 70.0M8.1 67.8L7.0 68.6L6.0 68.8L5.0 69.5L4.0 70.1M8.1 67.8L7.1 68.5L6.1 69.0M62.2 48.4L61.1 48.2L60.1 48.2L59.1 48.4L58.3 49.0M62.2 48.4L63.2 48.6L64.2 48.8L65.1 48.7L66.0 48.8M106.0 45.4L104.8 45.7L103.5 45.8L102.5 45.8L101.4 46.4L100.5 46.8M106.0 45.4L105.6 44.3L105.5 43.3L105.4 42.4M106.0 45.4L106.4 44.3L106.2 43.3M106.0 45.4L106.6 46.4L106.6 47.5M106.0 45.4L106.1 46.6L105.8 47.8L105.5 48.7L104.8 49.5M79.5 13.4L80.4 13.1L81.7 13.1L82.7 13.0M79.5 13.4L79.8 14.4L79.7 15.4M79.5 13.4L78.4 13.1L77.4 12.6L76.3 12.4M44.5 79.6L45.5 80.1L46.3 80.6M44.5 79.6L43.7 80.3L43.0 80.9M44.5 79.6L44.5 78.6L45.0 77.6M28.0 69.9L28.8 70.8L29.2 72.0L29.8 72.9M28.0 69.9L27.5 70.7L27.3 71.9M28.0 69.9L28.1 68.9L28.3 67.8L28.2 66.9M28.0 69.9L29.1 69.4L30.0 68.5L31.1 68.3L32.2 68.5M37.9 14.9L37.1 15.6L36.2 16.1M37.9 14.9L37.6 13.7L37.7 12.6M37.9 14.9L38.9 14.5L39.8 13.9M37.9 14.9L38.7 15.9L39.8 16.3M69.0 71.0L70.2 71.6L71.3 71.6L72.4 71.7L73.4 71.5M69.0 71.0L68.6 72.0L68.1 73.0M69.0 71.0L68.0 71.7L66.9 71.8L65.9 71.7L64.7 71.4M69.0 71.0L68.3 70.0L67.5 69.5L66.7 68.9M69.0 71.0L69.1 70.1L69.4 69.0L69.5 67.9M100.4 69.2L100.9 69.9L101.3 71.1L101.7 72.0L102.2 72.9L102.8 73.9M100.4 69.2L99.3 69.0L98.1 69.0L97.2 68.8M23.2 60.4L23.8 61.2L24.2 62.4L24.9 63.3L25.1 64.3M23.2 60.4L22.4 59.4L21.8 58.4M30.3 80.5L29.2 79.7L28.2 79.2L27.1 78.9M30.3 80.5L30.5 79.5L31.3 78.6L31.6 77.6M30.3 80.5L31.5 80.7L32.6 80.7L33.5 80.2M30.3 80.5L29.6 81.1L28.7 81.3M98.7 -1.9L98.5 -3.0L98.1 -3.9L98.0 -5.1L97.4 -6.2M98.7 -1.9L99.3 -2.7L100.1 -3.5M98.7 -1.9L99.5 -1.0L100.2 -0.0L100.6 0.8M98.7 -1.9L98.2 -0.9L97.5 -0.2M98.7 -1.9L97.8 -1.3L97.2 -0.4M68.7 18.0L69.3 19.1L69.7 20.3L70.1 21.1L70.8 21.9L71.6 22.7M68.7 18.0L67.5 17.8L66.4 17.6L65.4 16.9M68.7 18.0L69.6 18.0L70.5 18.3L71.4 18.7L72.3 18.8L73.3 18.7L74.2 18.9M27.6 32.7L26.6 32.3L25.7 31.3L25.0 30.8L24.2 29.9M27.6 32.7L28.2 31.7L28.6 30.9L28.9 30.0L29.5 29.2M27.6 32.7L28.4 33.3L29.2 34.1L29.6 35.3L30.1 36.3L31.1 37.1M27.6 32.7L26.9 33.7L25.9 34.4L25.1 35.3L24.6 36.0L23.7 36.5M49.8 53.8L50.4 52.9L51.2 52.3L52.1 51.6L52.7 50.5M49.8 53.8L50.0 54.9L50.6 55.9M49.8 53.8L48.7 54.0L47.5 54.2L46.5 54.4L45.6 55.0M18.1 40.7L17.8 41.6L17.2 42.6L16.6 43.3M18.1 40.7L18.7 39.9L19.9 39.5L21.0 39.5L22.1 39.1M39.9 42.9L41.0 43.4L42.0 43.6M39.9 42.9L39.4 43.6L38.5 44.4M39.9 42.9L40.3 41.7L40.7 40.7M10.1 23.1L11.2 23.1L12.3 22.6L13.1 22.3M10.1 23.1L10.9 23.9L11.9 24.6M10.1 23.1L9.9 24.3L10.0 25.4M10.1 23.1L8.9 23.3L7.7 23.7L6.5 24.0M10.1 23.1L9.9 22.2L10.1 21.3L10.4 20.1M43.0 56.2L42.0 56.9L41.2 57.1L40.1 57.4M43.0 56.2L42.3 55.5L41.6 54.7M43.0 56.2L43.8 55.4L44.7 55.1L45.5 54.5M43.0 56.2L44.1 56.3L45.2 56.4M43.0 56.2L43.1 57.5L43.2 58.5M27.2 12.4L28.4 12.6L29.6 12.8L30.7 12.5L31.9 12.4M27.2 12.4L26.5 13.1L25.8 14.1L24.8 14.8L23.8 15.5M27.2 12.4L26.0 12.8L24.7 12.8L23.8 12.9L22.6 12.7L21.6 12.5M27.2 12.4L27.2 11.4L27.6 10.3M27.2 12.4L28.1 12.6L28.9 13.3M1.1 78.9L1.0 77.7L0.5 76.5L-0.1 75.8M1.1 78.9L2.3 78.8L3.2 78.9L4.2 78.4L5.3 78.3L6.2 77.8M1.1 78.9L0.5 79.7L-0.5 80.3L-1.0 81.2M83.0 80.6L83.7 81.3L84.3 82.3M83.0 80.6L82.1 80.4L81.3 79.8L80.8 79.0L80.0 78.3M83.0 80.6L83.6 79.8L84.6 79.1L85.6 78.8M49.3 61.7L50.4 62.3L51.5 62.4M49.3 61.7L49.5 62.6L50.0 63.7L50.0 64.9M49.3 61.7L48.2 62.0L47.5 62.6M49.3 61.7L48.5 61.4L47.5 61.4M49.3 61.7L50.0 60.6L50.9 59.7L51.9 59.3M-2.3 73.1L-1.4 72.7L-0.4 72.3L0.6 72.3M-2.3 73.1L-1.4 74.0L-0.4 74.5M-2.3 73.1L-3.4 73.4L-4.4 74.2M75.0 33.1L75.3 32.1L76.1 31.2M75.0 33.1L75.7 32.5L76.7 32.1M75.0 33.1L75.6 34.3L76.1 35.0M75.0 33.1L73.8 33.7L73.1 34.5M81.0 22.9L82.1 23.0L83.0 23.1M81.0 22.9L80.8 24.0L80.4 24.9M81.0 22.9L80.4 21.9L80.0 21.0M81.0 22.9L81.9 22.3L82.8 21.5M53.2 -1.2L52.6 -2.1L51.8 -2.7M53.2 -1.2L52.8 -2.1L52.3 -3.0L52.1 -4.2M53.2 -1.2L54.2 -1.2L55.2 -1.6L56.0 -2.4M53.2 -1.2L54.0 -0.3L55.1 0.3M53.2 -1.2L52.9 -0.3L52.5 0.9L51.8 1.7M50.5 26.1L49.3 26.3L48.2 26.4L47.1 26.2M50.5 26.1L51.0 24.9L51.3 23.7L51.7 22.5M50.5 26.1L51.3 26.8L52.0 27.4M43.7 8.3L42.8 7.5L41.7 7.2L40.5 7.3L39.3 7.5L38.4 7.7M43.7 8.3L44.9 8.2L45.9 8.4M43.7 8.3L44.7 9.1L45.1 10.3M43.7 8.3L43.1 8.9L42.4 9.6" stroke-width="1.4"/><path d="M86.1 1.3L87.4 1.3M86.1 1.3L84.9 1.7M86.1 1.3L85.2 0.8L84.0 0.8M86.1 1.3L86.9 1.1M99.4 38.0L98.9 39.2L98.3 39.9M99.4 38.0L99.5 37.0L99.8 35.8M99.4 38.0L100.3 37.9M109.0 63.9L108.5 65.0M109.0 63.9L108.1 63.9M109.0 63.9L109.6 62.9M109.0 63.9L110.1 64.0L111.0 64.2M81.7 51.7L81.6 52.7M81.7 51.7L80.8 51.9M81.7 51.7L80.6 51.4L79.4 51.4L78.1 51.6M81.7 51.7L82.6 51.2L83.4 50.7M99.3 48.8L99.4 49.8L99.6 50.8M99.3 48.8L98.2 48.4M99.3 48.8L98.9 47.7M99.3 48.8L100.2 48.5L101.3 48.1M40.6 70.7L41.0 71.6M40.6 70.7L40.2 71.7L39.4 72.6M40.6 70.7L39.7 70.9M40.6 70.7L41.2 69.9L42.0 69.3M65.2 11.4L64.4 12.0L63.7 13.0M65.2 11.4L66.0 10.6L66.9 10.3M105.9 38.4L107.1 37.9M105.9 38.4L106.2 39.4L106.9 40.4M105.9 38.4L104.9 38.2L104.0 37.6M97.4 23.7L96.3 24.1L95.7 24.8M97.4 23.7L97.2 22.7L97.0 21.6M24.5 43.6L23.3 43.6M24.5 43.6L25.4 43.1L26.0 42.4M24.5 43.6L24.9 44.6M12.6 52.3L13.6 52.9L14.8 53.0M12.6 52.3L11.4 52.1M61.4 -1.0L62.4 -0.4M61.4 -1.0L61.2 -0.1M61.4 -1.0L61.2 -2.1L61.4 -3.0M11.2 29.5L11.9 28.5M11.2 29.5L12.1 29.9M11.2 29.5L12.3 29.9M11.2 29.5L10.3 29.6M11.2 29.5L10.8 28.6M18.4 49.4L17.4 50.0M18.4 49.4L17.9 48.3L17.3 47.4M18.4 49.4L19.1 50.0L19.7 50.7M4.5 4.4L5.0 3.4M4.5 4.4L5.5 5.2M4.5 4.4L3.5 4.7L2.7 5.1M11.0 36.4L11.7 35.5M11.0 36.4L10.4 37.1L9.7 38.1M11.0 36.4L9.8 36.3M-1.3 26.0L-0.4 25.9M-1.3 26.0L-2.2 26.6M-1.3 26.0L-0.9 24.9L-0.8 24.0M108.1 79.9L108.6 78.7M108.1 79.9L107.8 80.8L107.5 82.0M15.3 1.8L15.6 0.8L15.9 -0.5M15.3 1.8L16.5 1.8M15.3 1.8L15.2 3.0L15.5 4.0M15.3 1.8L15.1 0.8L14.8 -0.3M57.0 21.9L56.5 21.0L56.4 19.8M57.0 21.9L58.0 21.6L58.9 21.2M57.0 21.9L56.5 22.7L56.2 23.7L56.1 24.7M65.3 42.1L65.1 41.1M65.3 42.1L66.5 42.4M65.3 42.1L64.3 42.7L63.3 43.2M40.4 49.3L41.4 49.3M40.4 49.3L40.7 50.6M40.4 49.3L39.5 50.1M40.4 49.3L39.4 49.6M40.4 49.3L40.4 48.2M68.5 64.3L69.6 64.3M68.5 64.3L67.8 65.2M68.5 64.3L67.8 63.4L67.0 62.5M92.4 54.1L91.5 54.7L90.7 55.2M92.4 54.1L92.1 53.2M92.4 54.1L93.0 54.8M15.5 71.4L14.9 70.6L14.1 70.1M15.5 71.4L16.5 71.4M15.5 71.4L15.3 72.6L15.5 73.6M78.3 39.3L79.6 39.5L80.6 40.0L81.4 40.5M78.3 39.3L77.9 40.5M78.3 39.3L78.2 38.4L78.4 37.5M40.7 29.8L40.8 31.0L40.4 32.1L39.6 33.1M40.7 29.8L39.6 30.4L38.8 31.0M40.7 29.8L41.2 29.0L42.1 28.2L43.1 27.8M40.7 29.8L41.6 29.4L42.7 28.8M60.8 70.5L60.9 71.4M60.8 70.5L60.0 69.7M33.9 5.3L34.7 5.8L35.7 5.8M33.9 5.3L33.2 6.2M33.9 5.3L34.3 4.4M43.6 18.2L44.7 18.2L45.7 18.1M43.6 18.2L43.1 19.3L43.1 20.5M43.6 18.2L42.6 18.8L41.9 19.4M43.6 18.2L42.7 17.8L41.7 17.1M43.6 18.2L44.2 17.5M49.9 9.3L49.2 10.1L48.5 11.1M49.9 9.3L48.9 9.4L47.8 9.1M49.9 9.3L49.7 8.1L49.8 7.2M49.9 9.3L51.2 9.4L52.4 9.0M1.1 61.7L0.7 62.8L0.3 63.9M1.1 61.7L0.1 60.9M1.1 61.7L0.4 60.9M1.1 61.7L1.8 61.0M1.1 61.7L1.2 62.7M113.6 8.7L114.7 8.1L115.9 7.5L116.5 6.9M113.6 8.7L113.6 9.8L113.7 10.7M113.6 8.7L112.8 9.6M113.6 8.7L113.7 7.4L113.4 6.3L112.9 5.2M97.9 15.7L97.8 16.6L98.1 17.8M97.9 15.7L97.4 14.8L96.7 13.8M113.7 34.8L112.4 34.6L111.4 34.8M113.7 34.8L114.8 34.3M87.6 23.6L86.6 24.3L86.1 25.5M87.6 23.6L88.7 23.1L89.4 22.5M115.6 28.5L115.7 27.6M115.6 28.5L116.6 28.9L117.6 28.9M115.6 28.5L114.7 28.6L113.7 28.3M33.7 49.8L34.5 49.2L35.3 48.5M33.7 49.8L32.9 50.7L31.8 51.3M26.6 25.3L25.8 25.7M26.6 25.3L25.5 24.7M26.6 25.3L27.2 24.2M8.1 67.8L7.1 67.4M8.1 67.8L8.2 66.6M8.1 67.8L9.3 68.2L10.3 68.7M8.1 67.8L7.0 68.6L6.0 68.8M8.1 67.8L7.1 68.5M62.2 48.4L61.1 48.2L60.1 48.2M62.2 48.4L63.2 48.6L64.2 48.8M106.0 45.4L104.8 45.7L103.5 45.8L102.5 45.8M106.0 45.4L105.6 44.3L105.5 43.3M106.0 45.4L106.4 44.3M106.0 45.4L106.6 46.4M106.0 45.4L106.1 46.6L105.8 47.8M79.5 13.4L80.4 13.1L81.7 13.1M79.5 13.4L79.8 14.4M79.5 13.4L78.4 13.1L77.4 12.6M44.5 79.6L45.5 80.1M44.5 79.6L43.7 80.3M44.5 79.6L44.5 78.6M28.0 69.9L28.8 70.8L29.2 72.0M28.0 69.9L27.5 70.7M28.0 69.9L28.1 68.9L28.3 67.8M28.0 69.9L29.1 69.4L30.0 68.5M37.9 14.9L37.1 15.6M37.9 14.9L37.6 13.7M37.9 14.9L38.9 14.5M37.9 14.9L38.7 15.9M69.0 71.0L70.2 71.6L71.3 71.6M69.0 71.0L68.6 72.0M69.0 71.0L68.0 71.7L66.9 71.8M69.0 71.0L68.3 70.0L67.5 69.5M69.0 71.0L69.1 70.1L69.4 69.0M100.4 69.2L100.9 69.9L101.3 71.1L101.7 72.0M100.4 69.2L99.3 69.0L98.1 69.0M23.2 60.4L23.8 61.2L24.2 62.4M23.2 60.4L22.4 59.4M30.3 80.5L29.2 79.7L28.2 79.2M30.3 80.5L30.5 79.5L31.3 78.6M30.3 80.5L31.5 80.7L32.6 80.7M30.3 80.5L29.6 81.1M98.7 -1.9L98.5 -3.0L98.1 -3.9M98.7 -1.9L99.3 -2.7M98.7 -1.9L99.5 -1.0L100.2 -0.0M98.7 -1.9L98.2 -0.9M98.7 -1.9L97.8 -1.3M68.7 18.0L69.3 19.1L69.7 20.3L70.1 21.1M68.7 18.0L67.5 17.8L66.4 17.6M68.7 18.0L69.6 18.0L70.5 18.3L71.4 18.7M27.6 32.7L26.6 32.3L25.7 31.3M27.6 32.7L28.2 31.7L28.6 30.9M27.6 32.7L28.4 33.3L29.2 34.1L29.6 35.3M27.6 32.7L26.9 33.7L25.9 34.4L25.1 35.3M49.8 53.8L50.4 52.9L51.2 52.3M49.8 53.8L50.0 54.9M49.8 53.8L48.7 54.0L47.5 54.2M18.1 40.7L17.8 41.6L17.2 42.6M18.1 40.7L18.7 39.9L19.9 39.5M39.9 42.9L41.0 43.4M39.9 42.9L39.4 43.6M39.9 42.9L40.3 41.7M10.1 23.1L11.2 23.1L12.3 22.6M10.1 23.1L10.9 23.9M10.1 23.1L9.9 24.3M10.1 23.1L8.9 23.3L7.7 23.7M10.1 23.1L9.9 22.2L10.1 21.3M43.0 56.2L42.0 56.9L41.2 57.1M43.0 56.2L42.3 55.5M43.0 56.2L43.8 55.4L44.7 55.1M43.0 56.2L44.1 56.3M43.0 56.2L43.1 57.5M27.2 12.4L28.4 12.6L29.6 12.8M27.2 12.4L26.5 13.1L25.8 14.1M27.2 12.4L26.0 12.8L24.7 12.8L23.8 12.9M27.2 12.4L27.2 11.4M27.2 12.4L28.1 12.6M1.1 78.9L1.0 77.7L0.5 76.5M1.1 78.9L2.3 78.8L3.2 78.9L4.2 78.4M1.1 78.9L0.5 79.7L-0.5 80.3M83.0 80.6L83.7 81.3M83.0 80.6L82.1 80.4L81.3 79.8M83.0 80.6L83.6 79.8L84.6 79.1M49.3 61.7L50.4 62.3M49.3 61.7L49.5 62.6L50.0 63.7M49.3 61.7L48.2 62.0M49.3 61.7L48.5 61.4M49.3 61.7L50.0 60.6L50.9 59.7M-2.3 73.1L-1.4 72.7L-0.4 72.3M-2.3 73.1L-1.4 74.0M-2.3 73.1L-3.4 73.4M75.0 33.1L75.3 32.1M75.0 33.1L75.7 32.5M75.0 33.1L75.6 34.3M75.0 33.1L73.8 33.7M81.0 22.9L82.1 23.0M81.0 22.9L80.8 24.0M81.0 22.9L80.4 21.9M81.0 22.9L81.9 22.3M53.2 -1.2L52.6 -2.1M53.2 -1.2L52.8 -2.1L52.3 -3.0M53.2 -1.2L54.2 -1.2L55.2 -1.6M53.2 -1.2L54.0 -0.3M53.2 -1.2L52.9 -0.3L52.5 0.9M50.5 26.1L49.3 26.3L48.2 26.4M50.5 26.1L51.0 24.9L51.3 23.7M50.5 26.1L51.3 26.8M43.7 8.3L42.8 7.5L41.7 7.2L40.5 7.3M43.7 8.3L44.9 8.2M43.7 8.3L44.7 9.1M43.7 8.3L43.1 8.9" stroke-width="2.3"/><path d="M86.1 1.3h0M99.4 38.0h0M109.0 63.9h0M81.7 51.7h0M81.6 52.3h0M99.3 48.8h0M40.6 70.7h0M65.2 11.4h0M66.4 10.7h0M105.9 38.4h0M106.4 39.7h0M97.4 23.7h0M96.9 24.3h0M24.5 43.6h0M12.6 52.3h0M61.4 -1.0h0M11.2 29.5h0M18.4 49.4h0M4.5 4.4h0M11.0 36.4h0M-1.3 26.0h0M108.1 79.9h0M15.3 1.8h0M57.0 21.9h0M57.2 21.1h0M65.3 42.1h0M40.4 49.3h0M68.5 64.3h0M92.4 54.1h0M93.4 53.8h0M15.5 71.4h0M78.3 39.3h0M77.3 39.7h0M40.7 29.8h0M41.4 28.1h0M60.8 70.5h0M33.9 5.3h0M43.6 18.2h0M49.9 9.3h0M1.1 61.7h0M113.6 8.7h0M113.9 7.5h0M97.9 15.7h0M113.7 34.8h0M87.6 23.6h0M115.6 28.5h0M116.0 27.9h0M33.7 49.8h0M33.4 50.3h0M26.6 25.3h0M8.1 67.8h0M62.2 48.4h0M63.2 49.9h0M106.0 45.4h0M79.5 13.4h0M44.5 79.6h0M28.0 69.9h0M37.9 14.9h0M69.0 71.0h0M68.3 69.6h0M100.4 69.2h0M98.8 68.6h0M23.2 60.4h0M22.2 61.3h0M30.3 80.5h0M98.7 -1.9h0M68.7 18.0h0M68.4 19.1h0M27.6 32.7h0M27.7 32.9h0M49.8 53.8h0M18.1 40.7h0M18.5 40.4h0M39.9 42.9h0M10.1 23.1h0M43.0 56.2h0M27.2 12.4h0M28.3 13.9h0M1.1 78.9h0M2.0 77.9h0M83.0 80.6h0M82.2 81.8h0M49.3 61.7h0M-2.3 73.1h0M75.0 33.1h0M81.0 22.9h0M53.2 -1.2h0M50.5 26.1h0M49.4 24.7h0M43.7 8.3h0M44.2 9.7h0" stroke-width="3.6"/></g></svg>
<rect x="275.40" y="224.00" width="113.60" height="78.40" fill="#050b05"/>
<svg x="275.40" y="224.00" width="113.60" height="78.40" overflow="hidden"><path d="M63 2h0M110 22h0M73 14h0M42 56h0M105 25h0M23 5h0M56 25h0M3 11h0M64 51h0M74 58h0M32 10h0M80 48h0M68 3h0M12 60h0M14 31h0M79 45h0M83 0h0M61 22h0M77 20h0M101 27h0M24 44h0M14 63h0M5 46h0M83 25h0M31 59h0M63 15h0M104 32h0M46 27h0M94 39h0M86 17h0M4 70h0M30 13h0M32 23h0M51 71h0M66 15h0M15 76h0M12 40h0M24 13h0M42 35h0M102 18h0M60 18h0M100 47h0M78 68h0M36 39h0M44 57h0M110 7h0M34 19h0M51 7h0M9 25h0M71 46h0M27 7h0M84 11h0M81 43h0M108 2h0M12 2h0M96 35h0M15 8h0M52 46h0M18 44h0M22 60h0M73 25h0M64 59h0M22 4h0M63 54h0M47 40h0M10 32h0M31 43h0M112 18h0M57 54h0M82 14h0" stroke="#3d5a3d" stroke-width="1.4" stroke-linecap="round" opacity="0.6"/><g filter="url(#cb)" fill="none" stroke="#40cc40" stroke-linecap="round" stroke-linejoin="round"><path d="M104.0 31.1L104.1 30.1L104.5 29.2L104.6 28.1M104.0 31.1L104.9 30.5L106.1 30.0L107.2 30.1L108.1 29.9M104.0 31.1L104.5 32.1L104.6 33.1L104.8 34.0M83.8 50.6L83.9 51.7L83.8 52.7L83.8 53.9M83.8 50.6L82.5 50.6L81.3 50.3M83.8 50.6L84.2 49.6L84.3 48.6L84.0 47.7L83.4 47.0L82.6 46.3M83.8 50.6L84.6 50.1L85.5 49.5L86.2 48.8L86.9 48.1L87.7 47.2M20.0 51.6L19.0 51.9L18.0 52.0L16.9 51.9M20.0 51.6L21.0 52.1L22.1 52.8L23.1 53.0M83.8 75.0L84.4 74.2L85.2 73.6L86.2 73.3M83.8 75.0L84.7 75.9L85.0 77.2L85.4 78.2M83.8 75.0L82.9 75.9L82.5 77.0M83.8 75.0L83.3 74.3L82.2 73.8L81.1 73.6M59.5 38.2L58.6 37.3L57.5 37.0L56.5 36.1L55.6 35.2L55.1 34.1M59.5 38.2L60.5 38.5L61.4 38.6L62.6 38.4M59.5 38.2L59.0 39.4L58.7 40.3L58.6 41.4M63.1 47.6L61.9 47.9L61.2 48.5L60.4 49.5L60.1 50.5M63.1 47.6L63.5 46.5L64.1 45.6M63.1 47.6L63.9 48.3L64.5 49.3L64.7 50.3L64.4 51.2M63.1 47.6L63.2 48.7L63.1 49.9L62.7 51.0L62.0 52.0M95.1 34.2L93.9 34.4L93.0 34.4M95.1 34.2L96.0 34.9L96.8 35.4M96.1 57.2L96.1 56.1L96.0 54.9L96.5 53.7M96.1 57.2L97.0 56.3L97.8 55.3M96.1 57.2L97.0 57.7L98.0 57.8L99.0 57.3L99.9 56.6M96.1 57.2L95.4 58.1L94.8 59.2L94.2 60.0L93.8 61.2L93.7 62.2M77.9 80.8L78.7 81.5L79.7 82.1L80.9 82.4M77.9 80.8L77.2 79.9L76.8 79.0M77.9 80.8L78.8 80.1L79.7 79.4M46.7 45.7L47.5 46.5L48.1 47.5L48.5 48.4L49.3 49.2M46.7 45.7L45.8 45.2L44.9 44.5L44.2 43.8L43.9 42.8M91.1 46.2L91.8 47.1L92.7 48.0M91.1 46.2L89.8 46.2L88.9 46.0M91.1 46.2L91.2 45.1L91.3 44.2M1.2 12.3L2.3 12.8L3.5 13.0M1.2 12.3L0.3 13.1L-0.5 13.6M1.2 12.3L0.2 12.7L-0.6 13.3L-1.4 14.2M1.2 12.3L1.5 11.4L2.0 10.3L2.3 9.3M14.3 57.6L14.2 56.5L13.9 55.6L14.1 54.7L14.6 53.9M14.3 57.6L15.4 58.0L16.6 58.2L17.5 58.8L18.2 59.5L19.2 60.1M14.3 57.6L13.6 58.2L12.5 58.8L11.7 59.7M7.6 69.1L6.6 69.3L5.6 69.0M7.6 69.1L8.6 68.5L9.5 67.9M7.6 69.1L7.9 70.3L8.4 71.5M65.5 -3.0L66.5 -2.2L67.6 -2.0M65.5 -3.0L64.2 -3.2L63.4 -3.6M65.5 -3.0L65.4 -4.2L65.7 -5.0M86.1 31.5L85.5 30.8L85.2 29.7M86.1 31.5L86.0 30.3L85.5 29.5L84.7 28.7M86.1 31.5L86.8 32.1L88.0 32.3M86.1 31.5L86.1 32.5L85.7 33.5M86.1 31.5L85.3 30.9L84.0 30.7M1.7 36.8L2.0 35.7L2.6 34.9M1.7 36.8L2.7 37.5L3.5 38.3M1.7 36.8L1.4 38.0L1.3 39.2M1.7 36.8L1.0 35.7L0.2 35.2M68.5 74.5L67.9 75.4L66.8 76.1L65.6 76.5M68.5 74.5L68.8 73.4L69.6 72.4L70.2 71.2M108.8 5.0L109.4 5.8L110.0 6.5M108.8 5.0L107.9 4.5L106.7 4.3L105.8 3.8L104.8 3.0M74.1 17.8L74.5 19.0L74.8 20.2L75.4 21.0L76.2 21.5M74.1 17.8L72.9 17.9L72.1 18.5L71.5 19.3L70.6 19.8M74.1 17.8L74.8 16.7L75.2 15.6L75.5 14.8L75.9 13.8M97.8 76.4L98.9 76.5L100.1 76.6M97.8 76.4L98.3 77.5L98.4 78.5L98.2 79.7L98.1 80.6M97.8 76.4L97.1 75.7L96.2 75.1L95.6 74.5M97.8 76.4L97.6 75.2L97.6 74.1L97.9 73.0M11.4 0.3L12.1 1.0L12.8 1.6M11.4 0.3L10.2 0.6L9.1 0.6L8.2 0.2M11.4 0.3L11.5 -0.7L11.5 -1.8L11.9 -2.8M11.4 0.3L12.6 0.1L13.5 -0.2L14.4 -0.8L15.5 -0.9L16.8 -1.1M96.7 15.7L95.9 15.1L95.0 14.5M96.7 15.7L97.4 14.9L98.0 13.8M96.7 15.7L96.7 16.7L96.6 17.9M67.3 27.4L66.7 28.3L66.5 29.6L66.9 30.7L67.4 31.6L68.1 32.5L68.9 33.4M67.3 27.4L66.7 26.4L65.8 25.7L65.4 24.7L64.9 23.8L64.2 22.8L64.0 21.8M67.3 27.4L68.1 26.9L69.0 26.3L69.8 25.6L70.1 24.4L70.6 23.3L70.8 22.1M67.3 27.4L68.4 27.9L69.3 28.3L70.1 28.9L70.9 29.8M30.5 47.9L30.7 46.9L30.6 45.7L30.3 44.7L29.5 43.8M30.5 47.9L31.4 48.7L32.1 49.7L32.7 50.5L32.9 51.5L33.3 52.5L33.5 53.4M30.5 47.9L29.7 48.4L28.4 48.5L27.4 48.8L26.6 49.4L25.4 49.6L24.4 50.0M30.5 47.9L30.0 47.0L29.6 46.1L29.6 45.0L29.2 44.1L29.0 43.2M104.0 40.5L104.0 41.5L104.1 42.8L104.4 43.6M104.0 40.5L103.1 40.1L102.2 39.6L101.3 39.3M104.0 40.5L104.6 39.5L105.6 38.8L106.7 38.2L107.5 37.3M1.8 5.8L2.8 5.3L3.7 5.0L4.5 4.3M1.8 5.8L2.2 7.0L2.9 7.9L3.3 8.7L3.4 9.6L3.6 10.5M1.8 5.8L0.9 6.0L-0.3 6.2L-1.5 5.9M1.8 5.8L0.9 5.0L0.2 4.0L-0.6 3.1L-1.3 2.5M46.1 19.7L45.9 20.6L45.3 21.4L44.3 22.2L43.7 23.0L42.9 23.8M46.1 19.7L45.2 19.5L44.4 18.9L43.6 18.2M46.1 19.7L47.2 19.4L48.1 18.7L48.8 17.7L49.6 16.8L50.1 16.0M52.5 55.6L51.5 55.5L50.3 55.7L49.2 55.8M52.5 55.6L53.5 55.2L54.7 55.5M52.5 55.6L52.8 56.4L52.9 57.5L53.3 58.6L54.0 59.5M93.4 65.8L92.6 66.7L92.4 67.7L91.6 68.7L91.2 69.6L90.5 70.3L89.8 70.9M93.4 65.8L92.5 65.0L91.8 64.2L91.5 63.1L90.9 62.3L90.2 61.7L89.6 60.8M93.4 65.8L94.5 65.1L95.3 64.8L96.6 64.6L97.6 63.8L98.5 63.0M93.4 65.8L94.3 66.3L95.2 67.2L95.8 68.0L96.8 68.7M93.4 65.8L93.4 66.7L93.9 67.9L94.5 68.6L95.4 69.4L96.4 70.2L96.9 71.0M14.4 22.9L14.1 23.9L14.2 24.9M14.4 22.9L14.8 21.8L15.5 20.9M100.0 69.7L99.2 69.2L98.5 68.6L97.4 68.0M100.0 69.7L100.6 68.8L101.6 68.2M100.0 69.7L100.4 70.6L100.8 71.5M100.0 69.7L99.3 70.3L98.6 71.3L97.9 72.3M77.3 23.3L76.2 22.7L75.2 22.0M77.3 23.3L77.7 24.3L77.8 25.5M77.3 23.3L76.4 24.2L75.8 24.9M40.4 5.9L41.5 5.9L42.6 6.0L43.9 6.2L44.8 6.6L45.9 7.1M40.4 5.9L40.8 6.9L40.9 8.1L40.8 9.2M40.4 5.9L39.7 5.2L38.6 4.8M18.3 34.6L18.9 35.5L19.1 36.6L18.9 37.7M18.3 34.6L17.1 34.8L16.2 34.5L15.1 33.9L14.4 33.1M18.3 34.6L18.7 33.6L19.6 32.7L20.4 32.1L21.2 31.4L21.9 30.9M19.7 76.1L18.7 75.8L17.6 75.5M19.7 76.1L20.6 76.4L21.5 76.3M19.7 76.1L18.9 76.6L18.2 77.3L17.2 77.8L16.3 78.2L15.5 79.1M-1.6 64.2L-0.4 64.4L0.8 64.6M-1.6 64.2L-1.5 65.3L-1.4 66.4M-1.6 64.2L-2.6 64.1L-3.9 64.1M-1.6 64.2L-0.4 64.0L0.6 63.3M52.6 16.9L51.6 17.0L50.5 16.7L49.2 16.8L48.0 16.8M52.6 16.9L53.4 16.3L54.1 15.8M29.0 55.2L28.0 55.0L26.8 55.4M29.0 55.2L28.6 54.0L28.6 53.0M29.0 55.2L29.1 54.2L29.3 53.1M29.0 55.2L29.2 56.4L29.2 57.5M72.9 6.0L71.9 6.8L71.4 7.7L71.4 8.9M72.9 6.0L73.0 5.0L73.0 3.9M72.9 6.0L73.3 7.0L74.1 7.8L74.9 8.6M-0.1 74.6L-0.6 73.6L-1.1 72.8L-1.1 71.7M-0.1 74.6L1.0 74.6L2.2 74.7L3.4 74.6M-0.1 74.6L-1.0 75.1L-1.6 76.1L-1.8 77.1M38.0 26.5L37.4 25.6L36.4 24.9L35.5 24.6M38.0 26.5L39.2 26.4L40.2 26.4L41.3 26.8M38.0 26.5L38.8 27.1L39.9 27.3M38.0 26.5L37.8 27.6L37.2 28.5M38.0 26.5L37.0 26.6L36.0 26.7L34.8 26.6M45.9 76.7L47.1 76.5L47.8 75.9L48.5 75.2M45.9 76.7L46.9 77.5L48.0 77.9L49.2 77.9M45.9 76.7L45.5 77.7L45.5 78.9L45.7 79.8M45.9 76.7L45.0 76.0L44.1 75.1L43.7 74.1M8.6 24.9L7.5 24.8L6.4 24.1M8.6 24.9L9.5 24.3L10.6 24.2M8.6 24.9L8.9 25.9L9.6 27.0M105.3 78.3L105.8 77.1L106.2 76.3M105.3 78.3L105.7 79.1L105.6 80.2M105.3 78.3L104.3 78.3L103.2 78.2M91.1 38.9L90.1 39.5L88.9 39.6L88.1 39.9L86.8 39.9M91.1 38.9L91.1 37.8L91.4 36.6L91.6 35.6L91.8 34.6L91.7 33.5M91.1 38.9L92.1 38.2L92.9 37.7L94.0 37.2L95.0 36.7M91.1 38.9L90.8 39.9L89.9 40.8L89.3 41.6M79.0 43.2L79.6 42.5L80.5 41.8L81.4 41.4L82.2 40.7L82.9 39.9L83.5 38.8M79.0 43.2L79.8 43.9L80.9 44.2L82.0 44.8L82.6 45.7L82.7 46.9L83.0 48.1M79.0 43.2L77.8 43.1L76.6 42.7L75.6 42.7M29.3 -2.5L30.4 -1.8L31.0 -1.1L31.5 0.0M29.3 -2.5L28.6 -1.7L27.9 -0.9M29.3 -2.5L29.3 -3.8L29.6 -5.0L30.1 -5.9M65.7 15.7L65.9 16.6L65.9 17.6L65.6 18.7M65.7 15.7L64.5 15.6L63.3 15.6L62.2 15.5L61.0 15.4M65.7 15.7L66.3 14.9L67.2 14.0M60.9 75.6L61.8 76.4L62.3 77.4L62.4 78.6M60.9 75.6L61.6 76.5L62.4 77.5M60.9 75.6L60.2 76.6L59.3 77.1L58.3 77.3M60.9 75.6L60.3 74.8L59.8 73.6L59.6 72.7M60.9 75.6L61.4 74.7L62.2 73.7M29.4 63.4L29.9 62.6L30.3 61.5L30.7 60.4M29.4 63.4L28.5 63.8L27.5 64.2L26.6 64.5M96.8 1.2L95.6 1.4L94.4 1.9L93.6 2.4M96.8 1.2L97.3 0.0L97.8 -1.1L98.3 -2.3M96.8 1.2L97.7 1.9L98.4 2.6M96.8 1.2L96.2 2.3L95.8 3.2M26.9 33.8L26.2 32.9L26.0 31.9L25.8 30.6L25.6 29.6L25.4 28.5L25.2 27.6M26.9 33.8L27.7 33.5L28.9 33.5L30.0 33.6L31.1 33.4L32.4 33.4M26.9 33.8L25.8 34.2L25.0 34.7L24.0 34.8L23.2 35.2L22.5 35.8M45.1 37.2L46.1 37.0L47.2 36.4L48.1 36.0L49.1 35.8L50.3 35.7M45.1 37.2L44.0 37.2L42.9 37.6L41.6 37.7L40.6 38.2M22.4 18.1L22.9 16.9L23.6 16.2L24.1 15.1M22.4 18.1L23.4 18.1L24.7 17.8L25.8 17.4M22.4 18.1L22.6 19.3L22.7 20.4L22.6 21.7M22.4 18.1L21.4 17.6L20.6 17.0L20.0 16.2M22.4 18.1L22.0 17.3L21.7 16.3M60.8 55.5L60.1 54.9L59.5 53.8M60.8 55.5L61.1 56.5L61.6 57.4M51.2 1.5L51.7 0.6L52.0 -0.4M51.2 1.5L51.4 2.5L52.0 3.4L52.4 4.6M51.2 1.5L50.0 2.0L48.9 2.5M51.2 1.5L50.4 0.5L49.4 -0.2M43.5 68.3L44.2 69.1L45.0 70.0L45.4 71.0M43.5 68.3L42.8 69.2L42.2 70.1L41.8 71.1M43.5 68.3L42.6 67.9L41.7 67.8L40.6 67.7L39.6 67.5L38.9 66.8L37.7 66.4M43.5 68.3L43.4 67.1L43.7 66.1L43.3 64.9M43.5 68.3L44.3 67.9L45.3 67.1L46.4 66.7L47.6 66.6M28.9 16.0L29.6 17.0L30.2 18.1L30.8 19.2M28.9 16.0L28.2 17.0L27.5 17.9L27.0 18.9L26.8 20.0L26.7 21.1M28.9 16.0L28.0 15.8L26.8 15.9L25.9 15.9L24.6 15.8L23.7 15.6M28.9 16.0L27.8 15.8L26.7 15.5L25.5 15.3L24.6 14.9M28.9 16.0L29.0 15.0L29.2 13.7L29.0 12.4M34.5 19.5L35.7 19.1L36.5 18.3M34.5 19.5L35.3 20.2L35.9 21.3M34.5 19.5L33.7 20.2L32.6 20.5M34.5 19.5L33.8 19.1L32.7 19.0L31.4 18.7M28.1 25.2L29.0 25.0L29.9 24.5M28.1 25.2L28.1 26.4L28.5 27.3M28.1 25.2L27.1 24.8L25.8 24.6L24.6 24.8L23.7 25.0M106.4 49.8L105.4 50.0L104.4 49.9L103.2 50.1L102.0 50.2M106.4 49.8L105.7 49.0L104.6 48.5L103.8 47.7L103.3 46.9M106.4 49.8L107.5 49.2L108.3 48.3L109.2 47.9L110.4 47.7L111.3 47.8M106.4 49.8L107.2 50.3L108.0 51.2L108.8 51.7L109.9 52.2L110.8 52.6M116.4 31.7L115.4 31.9L114.3 31.8L113.2 31.2L112.0 30.8L110.9 30.5L109.9 30.2L109.0 30.2M116.4 31.7L117.5 31.9L118.7 32.2L119.9 32.4M15.9 43.9L17.0 43.9L17.9 43.5M15.9 43.9L14.9 44.3L14.2 45.0M15.9 43.9L16.5 43.2L17.3 42.7M62.1 68.6L63.2 68.5L64.5 68.7L65.7 68.4M62.1 68.6L62.6 69.4L63.5 70.3L64.2 71.1M62.1 68.6L61.6 69.4L61.2 70.2L60.8 71.2M62.1 68.6L61.1 68.8L60.2 69.4M62.1 68.6L61.9 67.6L61.2 66.8M86.0 24.1L86.4 23.3L87.2 22.7L87.9 21.6M86.0 24.1L86.4 25.0L87.1 25.9L87.4 26.9M86.0 24.1L85.0 24.9L84.1 25.1L82.9 25.0L81.7 24.6M72.1 43.6L72.2 42.5L72.6 41.5L73.3 40.7L73.9 39.6M72.1 43.6L71.6 44.6L70.8 45.2L69.9 45.5L68.7 45.7M30.1 74.8L30.5 73.6L31.0 72.6L31.6 71.5M30.1 74.8L31.1 75.4L32.0 75.8L32.9 75.8L33.9 75.9M30.1 74.8L29.1 74.5L28.0 74.8M14.1 12.0L13.1 11.9L12.1 12.1L10.9 11.8L9.6 11.6M14.1 12.0L13.3 11.4L12.7 10.3L12.3 9.3L12.4 8.2L12.1 7.2M14.1 12.0L14.7 10.9L15.4 9.8M14.1 12.0L15.1 12.2L16.3 12.7L17.1 13.3L17.7 14.1M14.1 12.0L14.0 13.1L14.2 14.4L14.7 15.3M6.0 62.8L5.2 62.2L4.5 61.2L4.1 60.0L3.8 58.8M6.0 62.8L6.5 61.8L7.3 61.2M6.0 62.8L6.6 61.8L7.1 60.8M6.0 62.8L6.9 63.7L7.7 64.7L8.7 65.3L9.7 66.1M6.0 62.8L5.6 63.7L4.7 64.4L4.1 65.3M67.4 57.6L68.2 58.3L69.3 58.6L70.1 59.3L70.6 60.0L71.2 61.0L72.0 61.8M67.4 57.6L66.3 57.4L65.2 57.4L64.1 58.0L63.5 58.8M67.4 57.6L67.4 56.6L66.9 55.6L66.1 54.8L65.0 54.3L64.0 53.5M89.2 80.1L88.2 80.8L87.7 81.8L87.2 82.8L86.6 83.6M89.2 80.1L88.6 79.4L87.7 79.0L86.5 78.5L85.4 78.5M89.2 80.1L90.3 79.6L91.5 79.5L92.7 79.6L93.9 79.3L94.9 79.3M89.2 80.1L90.5 80.2L91.5 80.1L92.5 79.6M89.2 80.1L89.6 81.3L90.1 82.4L90.5 83.6L91.3 84.6M24.7 3.9L25.0 2.7L25.0 1.4L24.5 0.4L24.3 -0.6L24.0 -1.8M24.7 3.9L25.6 3.3L26.5 3.0L27.6 2.5L28.5 2.0M24.7 3.9L24.2 5.1L24.3 6.1L24.6 7.3M24.7 3.9L23.7 4.7L22.8 5.6L22.5 6.5L22.2 7.6M10.5 40.5L10.5 41.5L10.1 42.4L9.5 43.1M10.5 40.5L9.6 41.0L9.2 41.9L9.0 42.8M10.5 40.5L9.6 40.4L8.7 39.8M10.5 40.5L10.5 39.5L10.6 38.4L10.5 37.3L10.2 36.1M10.5 40.5L11.2 39.6L11.8 38.5L12.6 37.9L13.3 37.1" stroke-width="1.4"/><path d="M104.0 31.1L104.1 30.1L104.5 29.2M104.0 31.1L104.9 30.5L106.1 30.0M104.0 31.1L104.5 32.1L104.6 33.1M83.8 50.6L83.9 51.7L83.8 52.7M83.8 50.6L82.5 50.6M83.8 50.6L84.2 49.6L84.3 48.6L84.0 47.7M83.8 50.6L84.6 50.1L85.5 49.5L86.2 48.8M20.0 51.6L19.0 51.9L18.0 52.0M20.0 51.6L21.0 52.1L22.1 52.8M83.8 75.0L84.4 74.2L85.2 73.6M83.8 75.0L84.7 75.9L85.0 77.2M83.8 75.0L82.9 75.9M83.8 75.0L83.3 74.3L82.2 73.8M59.5 38.2L58.6 37.3L57.5 37.0L56.5 36.1M59.5 38.2L60.5 38.5L61.4 38.6M59.5 38.2L59.0 39.4L58.7 40.3M63.1 47.6L61.9 47.9L61.2 48.5M63.1 47.6L63.5 46.5M63.1 47.6L63.9 48.3L64.5 49.3M63.1 47.6L63.2 48.7L63.1 49.9M95.1 34.2L93.9 34.4M95.1 34.2L96.0 34.9M96.1 57.2L96.1 56.1L96.0 54.9M96.1 57.2L97.0 56.3M96.1 57.2L97.0 57.7L98.0 57.8M96.1 57.2L95.4 58.1L94.8 59.2L94.2 60.0M77.9 80.8L78.7 81.5L79.7 82.1M77.9 80.8L77.2 79.9M77.9 80.8L78.8 80.1M46.7 45.7L47.5 46.5L48.1 47.5M46.7 45.7L45.8 45.2L44.9 44.5M91.1 46.2L91.8 47.1M91.1 46.2L89.8 46.2M91.1 46.2L91.2 45.1M1.2 12.3L2.3 12.8M1.2 12.3L0.3 13.1M1.2 12.3L0.2 12.7L-0.6 13.3M1.2 12.3L1.5 11.4L2.0 10.3M14.3 57.6L14.2 56.5L13.9 55.6M14.3 57.6L15.4 58.0L16.6 58.2L17.5 58.8M14.3 57.6L13.6 58.2L12.5 58.8M7.6 69.1L6.6 69.3M7.6 69.1L8.6 68.5M7.6 69.1L7.9 70.3M65.5 -3.0L66.5 -2.2M65.5 -3.0L64.2 -3.2M65.5 -3.0L65.4 -4.2M86.1 31.5L85.5 30.8M86.1 31.5L86.0 30.3L85.5 29.5M86.1 31.5L86.8 32.1M86.1 31.5L86.1 32.5M86.1 31.5L85.3 30.9M1.7 36.8L2.0 35.7M1.7 36.8L2.7 37.5M1.7 36.8L1.4 38.0M1.7 36.8L1.0 35.7M68.5 74.5L67.9 75.4L66.8 76.1M68.5 74.5L68.8 73.4L69.6 72.4M108.8 5.0L109.4 5.8M108.8 5.0L107.9 4.5L106.7 4.3M74.1 17.8L74.5 19.0L74.8 20.2M74.1 17.8L72.9 17.9L72.1 18.5M74.1 17.8L74.8 16.7L75.2 15.6M97.8 76.4L98.9 76.5M97.8 76.4L98.3 77.5L98.4 78.5M97.8 76.4L97.1 75.7L96.2 75.1M97.8 76.4L97.6 75.2L97.6 74.1M11.4 0.3L12.1 1.0M11.4 0.3L10.2 0.6L9.1 0.6M11.4 0.3L11.5 -0.7L11.5 -1.8M11.4 0.3L12.6 0.1L13.5 -0.2L14.4 -0.8M96.7 15.7L95.9 15.1M96.7 15.7L97.4 14.9M96.7 15.7L96.7 16.7M67.3 27.4L66.7 28.3L66.5 29.6L66.9 30.7M67.3 27.4L66.7 26.4L65.8 25.7L65.4 24.7M67.3 27.4L68.1 26.9L69.0 26.3L69.8 25.6M67.3 27.4L68.4 27.9L69.3 28.3M30.5 47.9L30.7 46.9L30.6 45.7M30.5 47.9L31.4 48.7L32.1 49.7L32.7 50.5M30.5 47.9L29.7 48.4L28.4 48.5L27.4 48.8M30.5 47.9L30.0 47.0L29.6 46.1L29.6 45.0M104.0 40.5L104.0 41.5L104.1 42.8M104.0 40.5L103.1 40.1L102.2 39.6M104.0 40.5L104.6 39.5L105.6 38.8M1.8 5.8L2.8 5.3L3.7 5.0M1.8 5.8L2.2 7.0L2.9 7.9L3.3 8.7M1.8 5.8L0.9 6.0L-0.3 6.2M1.8 5.8L0.9 5.0L0.2 4.0M46.1 19.7L45.9 20.6L45.3 21.4L44.3 22.2M46.1 19.7L45.2 19.5L44.4 18.9M46.1 19.7L47.2 19.4L48.1 18.7L48.8 17.7M52.5 55.6L51.5 55.5L50.3 55.7M52.5 55.6L53.5 55.2M52.5 55.6L52.8 56.4L52.9 57.5M93.4 65.8L92.6 66.7L92.4 67.7L91.6 68.7M93.4 65.8L92.5 65.0L91.8 64.2L91.5 63.1M93.4 65.8L94.5 65.1L95.3 64.8L96.6 64.6M93.4 65.8L94.3 66.3L95.2 67.2M93.4 65.8L93.4 66.7L93.9 67.9L94.5 68.6M14.4 22.9L14.1 23.9M14.4 22.9L14.8 21.8M100.0 69.7L99.2 69.2L98.5 68.6M100.0 69.7L100.6 68.8M100.0 69.7L100.4 70.6M100.0 69.7L99.3 70.3L98.6 71.3M77.3 23.3L76.2 22.7M77.3 23.3L77.7 24.3M77.3 23.3L76.4 24.2M40.4 5.9L41.5 5.9L42.6 6.0L43.9 6.2M40.4 5.9L40.8 6.9L40.9 8.1M40.4 5.9L39.7 5.2M18.3 34.6L18.9 35.5L19.1 36.6M18.3 34.6L17.1 34.8L16.2 34.5M18.3 34.6L18.7 33.6L19.6 32.7L20.4 32.1M19.7 76.1L18.7 75.8M19.7 76.1L20.6 76.4M19.7 76.1L18.9 76.6L18.2 77.3L17.2 77.8M-1.6 64.2L-0.4 64.4M-1.6 64.2L-1.5 65.3M-1.6 64.2L-2.6 64.1M-1.6 64.2L-0.4 64.0M52.6 16.9L51.6 17.0L50.5 16.7M52.6 16.9L53.4 16.3M29.0 55.2L28.0 55.0M29.0 55.2L28.6 54.0M29.0 55.2L29.1 54.2M29.0 55.2L29.2 56.4M72.9 6.0L71.9 6.8L71.4 7.7M72.9 6.0L73.0 5.0M72.9 6.0L73.3 7.0L74.1 7.8M-0.1 74.6L-0.6 73.6L-1.1 72.8M-0.1 74.6L1.0 74.6L2.2 74.7M-0.1 74.6L-1.0 75.1L-1.6 76.1M38.0 26.5L37.4 25.6L36.4 24.9M38.0 26.5L39.2 26.4L40.2 26.4M38.0 26.5L38.8 27.1M38.0 26.5L37.8 27.6M38.0 26.5L37.0 26.6L36.0 26.7M45.9 76.7L47.1 76.5L47.8 75.9M45.9 76.7L46.9 77.5L48.0 77.9M45.9 76.7L45.5 77.7L45.5 78.9M45.9 76.7L45.0 76.0L44.1 75.1M8.6 24.9L7.5 24.8M8.6 24.9L9.5 24.3M8.6 24.9L8.9 25.9M105.3 78.3L105.8 77.1M105.3 78.3L105.7 79.1M105.3 78.3L104.3 78.3M91.1 38.9L90.1 39.5L88.9 39.6M91.1 38.9L91.1 37.8L91.4 36.6L91.6 35.6M91.1 38.9L92.1 38.2L92.9 37.7M91.1 38.9L90.8 39.9L89.9 40.8M79.0 43.2L79.6 42.5L80.5 41.8L81.4 41.4M79.0 43.2L79.8 43.9L80.9 44.2L82.0 44.8M79.0 43.2L77.8 43.1L76.6 42.7M29.3 -2.5L30.4 -1.8L31.0 -1.1M29.3 -2.5L28.6 -1.7M29.3 -2.5L29.3 -3.8L29.6 -5.0M65.7 15.7L65.9 16.6L65.9 17.6M65.7 15.7L64.5 15.6L63.3 15.6M65.7 15.7L66.3 14.9M60.9 75.6L61.8 76.4L62.3 77.4M60.9 75.6L61.6 76.5M60.9 75.6L60.2 76.6L59.3 77.1M60.9 75.6L60.3 74.8L59.8 73.6M60.9 75.6L61.4 74.7M29.4 63.4L29.9 62.6L30.3 61.5M29.4 63.4L28.5 63.8L27.5 64.2M96.8 1.2L95.6 1.4L94.4 1.9M96.8 1.2L97.3 0.0L97.8 -1.1M96.8 1.2L97.7 1.9M96.8 1.2L96.2 2.3M26.9 33.8L26.2 32.9L26.0 31.9L25.8 30.6M26.9 33.8L27.7 33.5L28.9 33.5L30.0 33.6M26.9 33.8L25.8 34.2L25.0 34.7L24.0 34.8M45.1 37.2L46.1 37.0L47.2 36.4L48.1 36.0M45.1 37.2L44.0 37.2L42.9 37.6M22.4 18.1L22.9 16.9L23.6 16.2M22.4 18.1L23.4 18.1L24.7 17.8M22.4 18.1L22.6 19.3L22.7 20.4M22.4 18.1L21.4 17.6L20.6 17.0M22.4 18.1L22.0 17.3M60.8 55.5L60.1 54.9M60.8 55.5L61.1 56.5M51.2 1.5L51.7 0.6M51.2 1.5L51.4 2.5L52.0 3.4M51.2 1.5L50.0 2.0M51.2 1.5L50.4 0.5M43.5 68.3L44.2 69.1L45.0 70.0M43.5 68.3L42.8 69.2L42.2 70.1M43.5 68.3L42.6 67.9L41.7 67.8L40.6 67.7M43.5 68.3L43.4 67.1L43.7 66.1M43.5 68.3L44.3 67.9L45.3 67.1M28.9 16.0L29.6 17.0L30.2 18.1M28.9 16.0L28.2 17.0L27.5 17.9L27.0 18.9M28.9 16.0L28.0 15.8L26.8 15.9L25.9 15.9M28.9 16.0L27.8 15.8L26.7 15.5M28.9 16.0L29.0 15.0L29.2 13.7M34.5 19.5L35.7 19.1M34.5 19.5L35.3 20.2M34.5 19.5L33.7 20.2M34.5 19.5L33.8 19.1L32.7 19.0M28.1 25.2L29.0 25.0M28.1 25.2L28.1 26.4M28.1 25.2L27.1 24.8L25.8 24.6M106.4 49.8L105.4 50.0L104.4 49.9M106.4 49.8L105.7 49.0L104.6 48.5M106.4 49.8L107.5 49.2L108.3 48.3L109.2 47.9M106.4 49.8L107.2 50.3L108.0 51.2L108.8 51.7M116.4 31.7L115.4 31.9L114.3 31.8L113.2 31.2L112.0 30.8M116.4 31.7L117.5 31.9L118.7 32.2M15.9 43.9L17.0 43.9M15.9 43.9L14.9 44.3M15.9 43.9L16.5 43.2M62.1 68.6L63.2 68.5L64.5 68.7M62.1 68.6L62.6 69.4L63.5 70.3M62.1 68.6L61.6 69.4L61.2 70.2M62.1 68.6L61.1 68.8M62.1 68.6L61.9 67.6M86.0 24.1L86.4 23.3L87.2 22.7M86.0 24.1L86.4 25.0L87.1 25.9M86.0 24.1L85.0 24.9L84.1 25.1M72.1 43.6L72.2 42.5L72.6 41.5M72.1 43.6L71.6 44.6L70.8 45.2M30.1 74.8L30.5 73.6L31.0 72.6M30.1 74.8L31.1 75.4L32.0 75.8M30.1 74.8L29.1 74.5M14.1 12.0L13.1 11.9L12.1 12.1M14.1 12.0L13.3 11.4L12.7 10.3L12.3 9.3M14.1 12.0L14.7 10.9M14.1 12.0L15.1 12.2L16.3 12.7M14.1 12.0L14.0 13.1L14.2 14.4M6.0 62.8L5.2 62.2L4.5 61.2M6.0 62.8L6.5 61.8M6.0 62.8L6.6 61.8M6.0 62.8L6.9 63.7L7.7 64.7M6.0 62.8L5.6 63.7L4.7 64.4M67.4 57.6L68.2 58.3L69.3 58.6L70.1 59.3M67.4 57.6L66.3 57.4L65.2 57.4M67.4 57.6L67.4 56.6L66.9 55.6L66.1 54.8M89.2 80.1L88.2 80.8L87.7 81.8M89.2 80.1L88.6 79.4L87.7 79.0M89.2 80.1L90.3 79.6L91.5 79.5L92.7 79.6M89.2 80.1L90.5 80.2L91.5 80.1M89.2 80.1L89.6 81.3L90.1 82.4M24.7 3.9L25.0 2.7L25.0 1.4L24.5 0.4M24.7 3.9L25.6 3.3L26.5 3.0M24.7 3.9L24.2 5.1L24.3 6.1M24.7 3.9L23.7 4.7L22.8 5.6M10.5 40.5L10.5 41.5L10.1 42.4M10.5 40.5L9.6 41.0L9.2 41.9M10.5 40.5L9.6 40.4M10.5 40.5L10.5 39.5L10.6 38.4M10.5 40.5L11.2 39.6L11.8 38.5" stroke-width="2.3"/><path d="M104.0 31.1h0M103.9 32.4h0M83.8 50.6h0M85.1 51.7h0M20.0 51.6h0M83.8 75.0h0M59.5 38.2h0M59.7 38.3h0M63.1 47.6h0M95.1 34.2h0M96.1 57.2h0M95.8 58.5h0M77.9 80.8h0M46.7 45.7h0M46.0 44.2h0M91.1 46.2h0M1.2 12.3h0M14.3 57.6h0M13.9 57.5h0M7.6 69.1h0M65.5 -3.0h0M86.1 31.5h0M1.7 36.8h0M68.5 74.5h0M67.2 75.3h0M108.8 5.0h0M108.4 5.7h0M74.1 17.8h0M97.8 76.4h0M11.4 0.3h0M11.6 -0.8h0M96.7 15.7h0M67.3 27.4h0M67.2 29.0h0M30.5 47.9h0M30.4 48.7h0M104.0 40.5h0M1.8 5.8h0M0.9 4.2h0M46.1 19.7h0M46.6 19.3h0M52.5 55.6h0M93.4 65.8h0M93.4 66.4h0M14.4 22.9h0M100.0 69.7h0M77.3 23.3h0M40.4 5.9h0M38.6 4.5h0M18.3 34.6h0M19.7 76.1h0M21.1 76.4h0M-1.6 64.2h0M52.6 16.9h0M29.0 55.2h0M72.9 6.0h0M-0.1 74.6h0M38.0 26.5h0M45.9 76.7h0M8.6 24.9h0M105.3 78.3h0M91.1 38.9h0M79.0 43.2h0M80.3 44.4h0M29.3 -2.5h0M65.7 15.7h0M65.4 14.6h0M60.9 75.6h0M29.4 63.4h0M96.8 1.2h0M26.9 33.8h0M28.2 33.2h0M45.1 37.2h0M45.5 37.3h0M22.4 18.1h0M60.8 55.5h0M51.2 1.5h0M43.5 68.3h0M44.6 69.6h0M28.9 16.0h0M27.1 16.7h0M34.5 19.5h0M28.1 25.2h0M106.4 49.8h0M105.2 49.2h0M116.4 31.7h0M116.2 32.1h0M15.9 43.9h0M62.1 68.6h0M62.2 69.6h0M86.0 24.1h0M72.1 43.6h0M30.1 74.8h0M14.1 12.0h0M6.0 62.8h0M67.4 57.6h0M66.4 59.1h0M89.2 80.1h0M88.2 80.3h0M24.7 3.9h0M25.4 4.6h0M10.5 40.5h0M11.5 40.6h0" stroke-width="3.6"/></g></svg>
<rect x="391.80" y="224.00" width="113.30" height="78.40" fill="#050b05"/>
<svg x="391.80" y="224.00" width="113.30" height="78.40" overflow="hidden"><path d="M62 15h0M29 22h0M67 68h0M60 62h0M36 33h0M84 67h0M18 24h0M16 17h0M73 13h0M80 65h0M109 52h0M64 24h0M77 29h0M33 37h0M11 4h0M10 62h0M104 37h0M86 57h0M47 63h0M32 47h0M57 39h0M53 51h0M67 28h0M105 57h0M16 54h0M55 76h0M57 8h0M91 57h0M103 43h0M88 48h0M42 3h0M40 46h0M54 50h0M75 22h0M74 65h0M87 65h0M25 58h0M46 9h0M24 25h0M87 3h0M24 40h0M52 5h0M9 67h0M101 55h0M27 59h0M80 32h0M35 51h0M43 36h0M17 20h0M59 35h0M59 12h0M69 10h0M67 22h0M65 23h0M11 3h0M87 18h0M59 23h0M0 59h0M70 7h0M15 62h0M75 76h0M50 71h0M20 70h0M30 14h0M72 17h0M58 75h0M14 28h0M92 2h0M30 39h0M1 4h0" stroke="#3d5a3d" stroke-width="1.4" stroke-linecap="round" opacity="0.6"/><g filter="url(#cb)" fill="none" stroke="#40cc40" stroke-linecap="round" stroke-linejoin="round"><path d="M86.3 3.9L87.5 3.8L88.7 4.0L89.7 4.0L90.6 3.8L91.7 4.0M86.3 3.9L86.8 5.0L87.3 6.1L88.2 6.8L89.0 7.4L90.0 7.8M86.3 3.9L85.1 3.6L84.0 2.8L83.1 2.5L82.5 1.7M86.3 3.9L85.5 3.3L84.8 2.3L84.4 1.2M86.3 3.9L86.8 2.8L87.6 2.2L88.1 1.4L88.4 0.5L88.8 -0.7M104.0 58.9L103.3 58.2L102.3 57.7M104.0 58.9L105.0 58.9L106.2 59.4L107.3 60.0M104.0 58.9L103.5 60.1L103.6 61.1M54.1 37.7L53.2 37.2L52.4 36.2M54.1 37.7L54.6 36.9L55.5 36.1L56.3 35.7M54.1 37.7L55.0 37.8L55.9 38.5L56.9 38.9M54.1 37.7L54.2 38.6L54.7 39.3L54.9 40.2L55.3 41.2M54.1 37.7L53.4 38.6L52.7 39.4M39.4 78.4L40.2 77.4L40.9 76.8L41.8 76.3L42.7 76.3M39.4 78.4L39.4 79.5L38.9 80.6L38.7 81.8L38.4 83.1M39.4 78.4L38.2 78.2L37.3 78.2L36.3 78.7M9.0 3.4L10.2 3.2L11.1 2.8L12.3 2.6M9.0 3.4L9.1 4.3L9.3 5.3L9.9 6.2L10.6 7.3L11.4 7.9M9.0 3.4L8.0 3.5L7.0 4.2L6.0 4.9L5.4 5.6M9.0 3.4L8.3 2.8L7.5 2.3L6.3 2.1L5.3 2.4M29.6 8.0L30.6 8.1L31.8 8.6L32.8 9.1M29.6 8.0L29.4 9.3L29.8 10.3L29.9 11.4M29.6 8.0L29.3 9.1L29.0 10.4M29.6 8.0L28.5 7.3L27.5 6.4L26.7 6.0M29.6 8.0L29.8 6.9L30.4 6.1L31.2 5.4L32.0 4.5M-1.6 32.6L-1.1 33.7L-0.1 34.4L0.6 35.3L1.2 36.4L1.6 37.3M-1.6 32.6L-2.5 33.2L-3.3 33.8L-3.7 34.6L-4.0 35.8L-4.4 36.7L-4.8 37.6L-5.7 38.3M-1.6 32.6L-1.0 31.8L-0.4 30.6L0.0 29.7L0.6 28.7M79.2 57.6L78.9 58.7L78.6 59.6L78.0 60.4M79.2 57.6L79.7 56.5L80.3 55.6L81.1 54.9M50.1 22.6L48.9 22.8L48.0 23.0M50.1 22.6L49.5 21.7L49.3 20.7L48.8 19.9M50.1 22.6L50.3 21.3L49.9 20.1L49.1 19.2L48.8 18.2L48.3 17.2M50.1 22.6L50.6 23.4L50.9 24.4L51.2 25.4L52.1 26.4M50.1 22.6L50.2 23.6L50.5 24.6L50.8 25.5M0.1 54.0L0.8 53.4L1.9 53.0L3.1 52.7M0.1 54.0L1.0 54.6L2.3 54.8M0.1 54.0L-0.6 53.4L-1.0 52.3L-0.9 51.2M1.2 77.8L0.9 76.6L0.3 75.5L-0.2 74.6L-0.8 73.5L-1.4 72.7L-1.5 71.6M1.2 77.8L2.2 78.3L3.4 78.5L4.3 78.9L5.1 79.8M1.2 77.8L0.6 78.7L-0.2 79.6L-1.4 80.0L-2.6 79.9L-3.6 79.7M10.9 24.4L9.7 24.3L8.6 24.8M10.9 24.4L11.2 23.5L12.0 22.7L12.9 22.0L13.7 21.1M10.9 24.4L11.9 24.7L12.9 25.5L13.7 25.9M10.9 24.4L11.5 25.1L12.5 26.0L13.0 26.8L13.8 27.4M102.6 25.3L102.2 26.5L102.2 27.4L101.9 28.3L101.0 29.2L100.3 30.2M102.6 25.3L101.9 24.7L100.9 24.3L99.7 24.2L98.8 24.0M102.6 25.3L102.6 24.4L102.8 23.2L103.1 22.2L103.6 21.2L103.7 20.1L103.7 18.8L104.0 17.6M102.6 25.3L103.0 26.2L103.9 26.8L104.9 27.2L106.1 27.5L107.4 27.4L108.6 27.6L109.4 28.2M73.0 23.1L74.0 23.7L75.1 23.9L76.4 23.8L77.4 24.0L78.4 23.8M73.0 23.1L72.1 23.7L71.0 23.9L70.1 24.0L69.0 23.6L67.8 23.7L66.7 23.3M73.0 23.1L72.7 22.2L72.5 20.9M16.0 19.4L16.8 18.7L17.6 18.1L18.4 17.3L18.7 16.4M16.0 19.4L16.1 20.3L16.5 21.3L16.9 22.2L17.5 23.2M16.0 19.4L14.9 19.8L13.7 20.2L12.7 20.4L11.4 20.4M16.0 19.4L15.5 18.2L14.7 17.5L14.0 16.9M71.6 31.7L70.4 31.4L69.3 30.9L68.1 30.9M71.6 31.7L72.3 32.5L73.2 33.1M71.6 31.7L71.5 32.7L71.9 33.6L72.6 34.5L73.3 35.1M6.0 19.1L4.9 18.7L3.8 18.8L2.8 19.0M6.0 19.1L7.2 18.6L7.9 17.9L8.4 16.8L9.1 16.2L10.0 15.9L10.9 15.3L11.8 15.0L12.8 14.8M6.0 19.1L6.3 20.1L6.8 20.8L7.6 21.4L8.1 22.4L8.8 23.1L9.8 23.5L11.1 23.7M8.1 68.6L8.8 68.1L9.6 67.7L10.9 67.5M8.1 68.6L9.3 68.8L10.3 68.8L11.4 68.8L12.4 68.2M8.1 68.6L7.9 69.8L8.0 70.9L8.0 71.9L7.8 72.9L7.7 74.1M8.1 68.6L6.8 68.8L5.8 69.3L4.8 69.5L3.7 69.2L2.8 68.3L2.2 67.5M8.1 68.6L8.3 67.5L8.1 66.3L7.8 65.4L7.2 64.5L6.2 63.8M55.7 13.3L54.8 12.4L53.8 11.7L52.7 11.3M55.7 13.3L56.0 12.4L56.1 11.5L55.8 10.3L55.7 9.4L55.1 8.7L53.9 8.1M55.7 13.3L56.8 13.0L57.8 12.2L58.7 11.4M55.7 13.3L56.5 13.9L57.1 14.7L58.1 15.4L59.2 15.7M55.7 13.3L54.6 13.9L53.5 14.1L52.3 13.8M29.6 37.1L30.6 36.7L31.9 36.5L32.7 36.2L33.7 35.7L34.6 35.0L35.2 34.3L36.3 33.7M29.6 37.1L30.1 38.2L30.2 39.1L29.9 40.1M29.6 37.1L28.6 36.5L27.7 35.7L26.6 35.4L25.6 35.3M29.6 37.1L29.4 35.9L29.4 34.8L29.7 33.7L30.4 32.8L31.2 32.2M62.1 74.4L62.2 73.4L62.8 72.3L62.9 71.0L63.1 70.1L63.8 69.3M62.1 74.4L62.9 75.4L63.6 76.0L64.5 76.4L65.7 76.7M62.1 74.4L62.4 75.5L63.0 76.6L63.4 77.5L64.2 78.2L64.6 79.1L65.3 79.7M62.1 74.4L60.9 74.5L60.0 74.6L59.0 74.2L58.3 73.6M62.1 74.4L61.5 73.5L61.2 72.6L61.3 71.6L61.3 70.3L61.6 69.3M62.6 52.5L62.3 51.5L62.4 50.5L62.4 49.6M62.6 52.5L63.8 52.4L64.8 52.0L65.8 51.6M62.6 52.5L62.7 53.4L63.3 54.4L63.3 55.3L63.6 56.5M82.4 32.8L83.4 33.2L84.6 33.5L85.7 34.0L86.4 34.7M82.4 32.8L81.6 33.2L80.5 33.3L79.5 33.3M82.4 32.8L82.3 31.6L82.6 30.6L83.4 29.7L84.0 28.8M82.4 32.8L83.1 32.1L83.4 31.1L84.1 30.2M72.4 42.0L72.6 42.9L73.1 44.0L73.0 45.2L72.7 46.3M72.4 42.0L71.5 41.6L70.4 41.6L69.4 41.9M72.4 42.0L73.6 41.6L74.7 41.1M89.6 50.9L89.0 50.0L88.8 48.9L88.5 47.8L88.4 46.8M89.6 50.9L90.5 51.0L91.4 50.8L92.3 50.0L93.3 49.7M89.6 50.9L89.9 51.8L90.6 52.7L91.0 54.0L90.9 55.0M89.6 50.9L89.2 52.2L89.2 53.2L89.5 54.1M112.2 35.4L111.1 35.8L110.2 35.8L109.0 35.9L107.9 36.1L107.0 36.8L106.3 37.6L105.8 38.4M112.2 35.4L111.3 35.1L110.2 34.7L109.4 34.2L108.3 33.9L107.4 33.6M112.2 35.4L112.8 34.6L113.4 33.8L114.3 33.0M99.4 12.3L98.7 13.0L97.9 13.4L97.1 14.4L96.2 14.9L95.3 15.2L94.5 15.9M99.4 12.3L98.4 12.4L97.5 12.1L96.2 12.2L94.9 12.2M99.4 12.3L99.2 11.1L99.1 10.1L99.1 9.1M99.4 12.3L100.2 12.9L101.1 13.3L102.0 14.1L102.9 14.5L103.6 15.3M99.4 12.3L99.8 13.1L100.7 13.7L101.6 14.4L102.6 14.6L103.7 15.0M93.6 67.0L94.8 67.2L95.7 67.9L96.4 68.9M93.6 67.0L93.5 67.9L93.4 68.9L93.0 69.8M93.6 67.0L92.6 67.6L91.9 68.5M93.6 67.0L93.0 66.3L92.6 65.2L92.3 64.3M93.6 67.0L94.6 66.4L95.7 66.1M44.3 3.3L45.1 3.8L45.9 4.7M44.3 3.3L44.8 4.2L45.1 5.3L45.1 6.3M44.3 3.3L43.0 3.6L41.8 3.7L40.8 4.1M44.3 3.3L44.7 2.1L45.3 1.4M56.4 68.8L55.4 68.8L54.4 69.1L53.6 70.0M56.4 68.8L57.6 68.6L58.5 68.0L59.3 67.5M94.7 41.1L95.1 42.1L95.8 43.0L96.2 43.8M94.7 41.1L93.8 40.2L93.0 39.3M95.7 -2.8L94.8 -2.1L94.1 -1.5L92.9 -1.0M95.7 -2.8L94.5 -2.9L93.3 -2.7L92.2 -2.6L91.3 -2.7L90.2 -2.9L89.1 -2.9M95.7 -2.8L96.0 -3.6L95.9 -4.7L95.5 -6.0L95.6 -6.9L95.2 -8.1L94.3 -8.9M95.7 -2.8L96.6 -2.5L97.5 -1.9L98.4 -1.4L99.0 -0.4L100.0 0.2L101.3 0.4M39.6 46.2L40.7 46.1L41.6 46.4M39.6 46.2L38.8 46.9L37.8 47.6L37.3 48.5L37.2 49.8M34.9 62.6L36.2 62.2L37.4 61.9M34.9 62.6L34.2 63.6L33.1 64.4L32.2 64.6M34.9 62.6L33.9 62.8L32.8 62.6M24.7 15.7L25.4 14.8L26.4 14.1L27.3 13.4L28.3 13.2L29.2 12.6M24.7 15.7L25.5 15.5L26.7 15.6L27.7 16.0L28.6 16.1L29.7 16.3M24.7 15.7L25.2 16.6L25.7 17.7M24.7 15.7L23.5 16.1L22.5 16.4L21.7 16.7M24.7 15.7L24.4 14.6L24.3 13.7L23.7 12.7L23.3 11.8L23.1 10.8M68.8 1.1L69.9 0.6L70.6 -0.3L71.2 -1.1L71.4 -2.4M68.8 1.1L69.3 2.0L70.3 2.7M68.8 1.1L67.9 0.7L67.1 -0.2L66.9 -1.4L66.3 -2.3M71.6 53.2L70.9 53.8L70.3 54.9L69.9 55.9M71.6 53.2L71.3 52.1L71.2 51.1M71.6 53.2L72.7 53.2L73.6 53.6L74.4 54.0M32.4 16.5L33.5 17.0L34.3 17.7L35.3 18.5L36.4 18.8L37.0 19.5L37.4 20.5L37.4 21.7M32.4 16.5L31.6 15.9L30.8 15.4L30.1 14.4L29.3 13.4L28.8 12.7L28.0 12.2M94.9 75.1L94.6 74.0L94.8 72.8L94.6 71.8M94.9 75.1L95.8 74.4L96.7 74.0L97.4 73.4M94.9 75.1L94.6 76.3L94.9 77.5M28.4 63.4L27.6 64.4L26.7 64.9L25.5 65.2L24.2 65.1M28.4 63.4L27.9 62.4L27.1 61.5L26.6 60.7L26.0 59.9L25.2 59.4M28.4 63.4L28.5 62.3L28.4 61.3L28.4 60.2L28.0 59.0L28.0 58.1L28.1 57.1L28.0 56.0L28.2 55.1M28.4 63.4L28.8 64.5L29.3 65.7L29.2 66.8M113.5 61.0L113.0 59.9L112.9 58.9M113.5 61.0L114.2 61.8L114.6 62.9L114.7 64.2M113.5 61.0L112.5 61.8L111.8 62.8L111.4 63.9M44.8 30.6L46.0 30.2L46.7 29.7L47.2 28.9M44.8 30.6L45.5 31.3L46.2 31.9L47.2 32.5L48.1 33.2L49.3 33.4M44.8 30.6L44.9 31.8L45.2 32.7L45.1 33.6M44.8 30.6L43.6 30.5L42.4 30.7L41.3 31.2M44.8 30.6L44.7 29.7L44.2 28.8L43.6 27.9L43.4 26.7M3.4 11.6L3.2 10.5L2.9 9.3L2.9 8.1M3.4 11.6L4.6 11.9L5.5 12.4L6.7 12.7M3.4 11.6L3.0 12.4L2.5 13.4M3.4 11.6L3.5 12.5L4.1 13.3M3.4 11.6L2.2 11.7L1.1 12.0M19.1 75.4L18.9 76.5L18.7 77.6M19.1 75.4L19.3 74.3L19.5 73.4L20.0 72.6L20.8 72.0M67.0 18.8L67.7 19.8L68.4 20.8L69.1 21.4L69.8 22.3M67.0 18.8L65.9 18.6L64.9 18.3M67.0 18.8L66.4 18.1L65.5 17.2L64.8 16.5M67.0 18.8L67.9 18.6L68.8 18.0L69.6 17.3L70.1 16.1L70.2 15.2M71.1 72.7L72.0 72.4L72.9 71.7M71.1 72.7L70.7 73.7L70.1 74.6M20.4 49.6L21.4 49.5L22.5 49.3L23.7 49.5M20.4 49.6L19.9 50.4L19.6 51.4L19.2 52.5L18.8 53.4M20.4 49.6L19.5 49.4L18.6 48.8L17.3 48.5L16.3 48.5M20.4 49.6L19.5 48.7L18.3 48.2L17.2 48.0M110.0 78.9L109.7 77.9L109.2 76.8L108.6 76.0L108.1 75.0M110.0 78.9L110.8 79.3L111.6 80.1L111.9 81.0L112.8 81.9M115.1 0.0L114.5 -0.8L113.7 -1.3L112.8 -1.7M115.1 0.0L115.8 -1.0L116.7 -1.5M115.1 0.0L115.8 0.8L116.3 1.6L117.0 2.4M115.1 0.0L114.5 0.8L114.1 2.0M100.6 72.8L100.7 73.9L101.2 75.0M100.6 72.8L99.7 73.1L98.6 73.2L97.6 73.9L96.8 74.8M100.6 72.8L101.7 72.8L102.6 72.4L103.5 72.5M79.9 21.7L80.6 22.3L81.5 23.2L82.6 23.5L83.6 24.2L84.3 24.9M79.9 21.7L79.6 20.6L79.8 19.4L79.9 18.5M89.8 34.8L88.9 34.2L88.1 33.4L87.5 32.6L87.0 31.8M89.8 34.8L90.2 33.9L90.9 33.4L92.1 32.8L92.9 32.3L94.1 32.0M89.8 34.8L90.8 35.2L91.9 35.3L92.8 35.1L93.9 34.6L95.0 34.3L96.2 34.5M89.8 34.8L88.9 35.5L87.7 35.9L86.6 36.3L85.7 36.7L84.7 36.8L83.8 36.9M64.5 67.9L65.0 66.8L65.4 65.8L66.1 65.1L66.6 64.2L67.2 63.3M64.5 67.9L64.2 68.8L64.0 70.0L63.4 71.1L63.0 72.3L62.5 73.1M52.6 30.7L53.2 29.9L53.9 28.9L54.3 27.7L54.4 26.8M52.6 30.7L53.8 31.0L54.9 31.3L55.8 31.5L56.7 31.3L57.4 30.7L58.4 30.2M52.6 30.7L51.4 31.1L50.4 30.9L49.3 30.4L48.5 29.8M19.8 32.0L21.0 32.2L21.9 32.8M19.8 32.0L19.1 31.3L18.7 30.4L18.0 29.6L17.2 29.1L16.4 28.3M15.0 39.2L14.6 40.0L14.2 40.9L13.6 41.9L13.4 42.8L13.8 43.9M15.0 39.2L14.3 38.4L13.4 37.9L12.7 37.2L12.3 36.3L11.7 35.3M46.6 59.0L47.5 59.7L48.3 60.7L48.7 61.7M46.6 59.0L45.7 59.3L44.8 59.2L43.7 59.2M46.6 59.0L46.5 57.9L46.5 57.0M52.7 4.4L53.3 3.3L53.8 2.5M52.7 4.4L53.3 3.7L54.1 2.8L55.0 2.4L55.9 2.5L56.8 2.4M52.7 4.4L53.8 4.4L54.9 4.1L56.2 4.3L57.2 4.9L58.4 5.4M52.7 4.4L53.0 5.4L53.2 6.3L53.5 7.2L54.0 8.4L54.9 9.4M52.7 4.4L51.5 4.5L50.2 4.7L49.1 5.0L48.2 5.6M82.3 42.3L81.2 42.3L80.0 42.3L79.0 42.5L78.0 43.2M82.3 42.3L83.2 42.1L84.3 42.2L85.5 41.8L86.4 41.0L87.6 40.7M82.3 42.3L83.0 43.1L83.7 43.8L84.6 44.5L85.5 44.9M85.2 68.5L84.2 68.7L83.0 68.7M85.2 68.5L86.1 67.6L86.9 66.8M85.2 68.5L86.4 68.3L87.4 68.4M109.5 22.5L108.3 21.9L107.4 21.4M109.5 22.5L109.6 21.3L109.4 20.0M109.5 22.5L110.0 21.5L110.3 20.5L110.6 19.6M109.5 22.5L109.8 23.6L109.7 24.7M86.0 21.2L85.5 22.2L85.0 23.1L84.7 24.2M86.0 21.2L86.0 20.0L85.8 19.0M86.0 21.2L87.1 21.6L88.1 21.5L89.1 21.3L90.1 21.5M89.5 28.6L89.3 27.7L89.3 26.8L89.5 25.5L89.7 24.5M89.5 28.6L90.5 28.6L91.5 28.6M89.5 28.6L89.5 29.8L89.8 30.7L90.4 31.8L91.1 32.7M108.6 9.1L108.2 8.1L108.0 7.0M108.6 9.1L109.4 9.8L110.3 10.3M108.6 9.1L107.9 10.2L107.7 11.3L107.1 12.4L107.0 13.3M58.3 59.1L57.8 58.3L57.4 57.1L57.4 56.1L57.0 55.3L56.7 54.3L56.2 53.4M58.3 59.1L59.1 58.1L59.8 57.2L60.4 56.4L60.7 55.2M58.3 59.1L59.4 59.4L60.4 60.1L61.6 60.4M58.3 59.1L57.8 59.8L56.7 60.5L56.0 61.4M58.3 59.1L57.3 59.3L56.3 59.9L55.1 60.2L54.2 60.9L53.3 61.4L52.1 61.6M86.1 56.4L86.5 55.5L87.4 54.5L88.2 53.8L88.8 53.1M86.1 56.4L87.0 56.8L88.2 56.9L89.3 57.4L90.3 57.5M86.1 56.4L85.5 57.1L85.1 58.2L85.0 59.4L85.3 60.3L85.2 61.3L84.6 62.3M74.6 67.6L75.5 67.1L76.6 66.4L77.6 65.8L78.2 65.0L78.8 64.3M74.6 67.6L73.5 67.7L72.7 68.2M55.0 52.0L56.0 52.3L57.2 52.3L58.2 52.1L59.4 52.1L60.6 51.8L61.8 51.7M55.0 52.0L53.9 52.0L53.0 52.4L51.7 52.3L50.5 52.2L49.5 52.0L48.6 51.3M69.0 59.1L70.1 59.4L70.9 60.1L71.4 61.0L72.3 61.7L73.4 62.1M69.0 59.1L68.2 59.6L67.2 59.8L66.1 59.6L64.8 59.7L63.7 59.9M69.0 59.1L69.2 58.0L69.9 56.9L70.4 56.0L71.1 55.4L71.5 54.3M-1.3 4.3L-2.1 3.7L-3.0 3.2M-1.3 4.3L-0.2 4.6L0.8 4.6L1.9 4.8M80.1 80.7L79.2 81.3L78.2 81.7L77.3 81.8L76.2 81.8L75.1 81.6M80.1 80.7L80.8 79.9L81.1 78.9M80.1 80.7L80.2 81.7L80.5 82.9L80.4 84.0L80.0 84.9L79.3 85.5L78.8 86.7M108.4 16.2L107.1 16.3L106.0 16.7L104.8 17.0L103.6 17.5M108.4 16.2L108.5 15.1L109.0 13.9L109.2 13.0M108.4 16.2L109.5 16.5L110.7 17.0L111.5 17.5L112.2 18.2" stroke-width="1.4"/><path d="M86.3 3.9L87.5 3.8L88.7 4.0L89.7 4.0M86.3 3.9L86.8 5.0L87.3 6.1L88.2 6.8M86.3 3.9L85.1 3.6L84.0 2.8M86.3 3.9L85.5 3.3L84.8 2.3M86.3 3.9L86.8 2.8L87.6 2.2L88.1 1.4M104.0 58.9L103.3 58.2M104.0 58.9L105.0 58.9L106.2 59.4M104.0 58.9L103.5 60.1M54.1 37.7L53.2 37.2M54.1 37.7L54.6 36.9L55.5 36.1M54.1 37.7L55.0 37.8L55.9 38.5M54.1 37.7L54.2 38.6L54.7 39.3M54.1 37.7L53.4 38.6M39.4 78.4L40.2 77.4L40.9 76.8M39.4 78.4L39.4 79.5L38.9 80.6M39.4 78.4L38.2 78.2L37.3 78.2M9.0 3.4L10.2 3.2L11.1 2.8M9.0 3.4L9.1 4.3L9.3 5.3L9.9 6.2M9.0 3.4L8.0 3.5L7.0 4.2M9.0 3.4L8.3 2.8L7.5 2.3M29.6 8.0L30.6 8.1L31.8 8.6M29.6 8.0L29.4 9.3L29.8 10.3M29.6 8.0L29.3 9.1M29.6 8.0L28.5 7.3L27.5 6.4M29.6 8.0L29.8 6.9L30.4 6.1M-1.6 32.6L-1.1 33.7L-0.1 34.4L0.6 35.3M-1.6 32.6L-2.5 33.2L-3.3 33.8L-3.7 34.6L-4.0 35.8M-1.6 32.6L-1.0 31.8L-0.4 30.6M79.2 57.6L78.9 58.7L78.6 59.6M79.2 57.6L79.7 56.5L80.3 55.6M50.1 22.6L48.9 22.8M50.1 22.6L49.5 21.7L49.3 20.7M50.1 22.6L50.3 21.3L49.9 20.1L49.1 19.2M50.1 22.6L50.6 23.4L50.9 24.4M50.1 22.6L50.2 23.6L50.5 24.6M0.1 54.0L0.8 53.4L1.9 53.0M0.1 54.0L1.0 54.6M0.1 54.0L-0.6 53.4L-1.0 52.3M1.2 77.8L0.9 76.6L0.3 75.5L-0.2 74.6M1.2 77.8L2.2 78.3L3.4 78.5M1.2 77.8L0.6 78.7L-0.2 79.6L-1.4 80.0M10.9 24.4L9.7 24.3M10.9 24.4L11.2 23.5L12.0 22.7M10.9 24.4L11.9 24.7L12.9 25.5M10.9 24.4L11.5 25.1L12.5 26.0M102.6 25.3L102.2 26.5L102.2 27.4L101.9 28.3M102.6 25.3L101.9 24.7L100.9 24.3M102.6 25.3L102.6 24.4L102.8 23.2L103.1 22.2L103.6 21.2M102.6 25.3L103.0 26.2L103.9 26.8L104.9 27.2L106.1 27.5M73.0 23.1L74.0 23.7L75.1 23.9L76.4 23.8M73.0 23.1L72.1 23.7L71.0 23.9L70.1 24.0M73.0 23.1L72.7 22.2M16.0 19.4L16.8 18.7L17.6 18.1M16.0 19.4L16.1 20.3L16.5 21.3M16.0 19.4L14.9 19.8L13.7 20.2M16.0 19.4L15.5 18.2L14.7 17.5M71.6 31.7L70.4 31.4L69.3 30.9M71.6 31.7L72.3 32.5M71.6 31.7L71.5 32.7L71.9 33.6M6.0 19.1L4.9 18.7L3.8 18.8M6.0 19.1L7.2 18.6L7.9 17.9L8.4 16.8L9.1 16.2M6.0 19.1L6.3 20.1L6.8 20.8L7.6 21.4L8.1 22.4M8.1 68.6L8.8 68.1L9.6 67.7M8.1 68.6L9.3 68.8L10.3 68.8M8.1 68.6L7.9 69.8L8.0 70.9L8.0 71.9M8.1 68.6L6.8 68.8L5.8 69.3L4.8 69.5M8.1 68.6L8.3 67.5L8.1 66.3L7.8 65.4M55.7 13.3L54.8 12.4L53.8 11.7M55.7 13.3L56.0 12.4L56.1 11.5L55.8 10.3M55.7 13.3L56.8 13.0L57.8 12.2M55.7 13.3L56.5 13.9L57.1 14.7M55.7 13.3L54.6 13.9L53.5 14.1M29.6 37.1L30.6 36.7L31.9 36.5L32.7 36.2L33.7 35.7M29.6 37.1L30.1 38.2L30.2 39.1M29.6 37.1L28.6 36.5L27.7 35.7M29.6 37.1L29.4 35.9L29.4 34.8L29.7 33.7M62.1 74.4L62.2 73.4L62.8 72.3L62.9 71.0M62.1 74.4L62.9 75.4L63.6 76.0M62.1 74.4L62.4 75.5L63.0 76.6L63.4 77.5M62.1 74.4L60.9 74.5L60.0 74.6M62.1 74.4L61.5 73.5L61.2 72.6L61.3 71.6M62.6 52.5L62.3 51.5L62.4 50.5M62.6 52.5L63.8 52.4L64.8 52.0M62.6 52.5L62.7 53.4L63.3 54.4M82.4 32.8L83.4 33.2L84.6 33.5M82.4 32.8L81.6 33.2L80.5 33.3M82.4 32.8L82.3 31.6L82.6 30.6M82.4 32.8L83.1 32.1L83.4 31.1M72.4 42.0L72.6 42.9L73.1 44.0M72.4 42.0L71.5 41.6L70.4 41.6M72.4 42.0L73.6 41.6M89.6 50.9L89.0 50.0L88.8 48.9M89.6 50.9L90.5 51.0L91.4 50.8M89.6 50.9L89.9 51.8L90.6 52.7M89.6 50.9L89.2 52.2L89.2 53.2M112.2 35.4L111.1 35.8L110.2 35.8L109.0 35.9L107.9 36.1M112.2 35.4L111.3 35.1L110.2 34.7L109.4 34.2M112.2 35.4L112.8 34.6L113.4 33.8M99.4 12.3L98.7 13.0L97.9 13.4L97.1 14.4M99.4 12.3L98.4 12.4L97.5 12.1M99.4 12.3L99.2 11.1L99.1 10.1M99.4 12.3L100.2 12.9L101.1 13.3L102.0 14.1M99.4 12.3L99.8 13.1L100.7 13.7L101.6 14.4M93.6 67.0L94.8 67.2L95.7 67.9M93.6 67.0L93.5 67.9L93.4 68.9M93.6 67.0L92.6 67.6M93.6 67.0L93.0 66.3L92.6 65.2M93.6 67.0L94.6 66.4M44.3 3.3L45.1 3.8M44.3 3.3L44.8 4.2L45.1 5.3M44.3 3.3L43.0 3.6L41.8 3.7M44.3 3.3L44.7 2.1M56.4 68.8L55.4 68.8L54.4 69.1M56.4 68.8L57.6 68.6L58.5 68.0M94.7 41.1L95.1 42.1L95.8 43.0M94.7 41.1L93.8 40.2M95.7 -2.8L94.8 -2.1L94.1 -1.5M95.7 -2.8L94.5 -2.9L93.3 -2.7L92.2 -2.6M95.7 -2.8L96.0 -3.6L95.9 -4.7L95.5 -6.0M95.7 -2.8L96.6 -2.5L97.5 -1.9L98.4 -1.4M39.6 46.2L40.7 46.1M39.6 46.2L38.8 46.9L37.8 47.6M34.9 62.6L36.2 62.2M34.9 62.6L34.2 63.6L33.1 64.4M34.9 62.6L33.9 62.8M24.7 15.7L25.4 14.8L26.4 14.1L27.3 13.4M24.7 15.7L25.5 15.5L26.7 15.6L27.7 16.0M24.7 15.7L25.2 16.6M24.7 15.7L23.5 16.1L22.5 16.4M24.7 15.7L24.4 14.6L24.3 13.7L23.7 12.7M68.8 1.1L69.9 0.6L70.6 -0.3M68.8 1.1L69.3 2.0M68.8 1.1L67.9 0.7L67.1 -0.2M71.6 53.2L70.9 53.8L70.3 54.9M71.6 53.2L71.3 52.1M71.6 53.2L72.7 53.2L73.6 53.6M32.4 16.5L33.5 17.0L34.3 17.7L35.3 18.5L36.4 18.8M32.4 16.5L31.6 15.9L30.8 15.4L30.1 14.4M94.9 75.1L94.6 74.0L94.8 72.8M94.9 75.1L95.8 74.4L96.7 74.0M94.9 75.1L94.6 76.3M28.4 63.4L27.6 64.4L26.7 64.9M28.4 63.4L27.9 62.4L27.1 61.5L26.6 60.7M28.4 63.4L28.5 62.3L28.4 61.3L28.4 60.2L28.0 59.0M28.4 63.4L28.8 64.5L29.3 65.7M113.5 61.0L113.0 59.9M113.5 61.0L114.2 61.8L114.6 62.9M113.5 61.0L112.5 61.8L111.8 62.8M44.8 30.6L46.0 30.2L46.7 29.7M44.8 30.6L45.5 31.3L46.2 31.9L47.2 32.5M44.8 30.6L44.9 31.8L45.2 32.7M44.8 30.6L43.6 30.5L42.4 30.7M44.8 30.6L44.7 29.7L44.2 28.8M3.4 11.6L3.2 10.5L2.9 9.3M3.4 11.6L4.6 11.9L5.5 12.4M3.4 11.6L3.0 12.4M3.4 11.6L3.5 12.5M3.4 11.6L2.2 11.7M19.1 75.4L18.9 76.5M19.1 75.4L19.3 74.3L19.5 73.4M67.0 18.8L67.7 19.8L68.4 20.8M67.0 18.8L65.9 18.6M67.0 18.8L66.4 18.1L65.5 17.2M67.0 18.8L67.9 18.6L68.8 18.0L69.6 17.3M71.1 72.7L72.0 72.4M71.1 72.7L70.7 73.7M20.4 49.6L21.4 49.5L22.5 49.3M20.4 49.6L19.9 50.4L19.6 51.4M20.4 49.6L19.5 49.4L18.6 48.8M20.4 49.6L19.5 48.7L18.3 48.2M110.0 78.9L109.7 77.9L109.2 76.8M110.0 78.9L110.8 79.3L111.6 80.1M115.1 0.0L114.5 -0.8L113.7 -1.3M115.1 0.0L115.8 -1.0M115.1 0.0L115.8 0.8L116.3 1.6M115.1 0.0L114.5 0.8M100.6 72.8L100.7 73.9M100.6 72.8L99.7 73.1L98.6 73.2M100.6 72.8L101.7 72.8L102.6 72.4M79.9 21.7L80.6 22.3L81.5 23.2L82.6 23.5M79.9 21.7L79.6 20.6L79.8 19.4M89.8 34.8L88.9 34.2L88.1 33.4M89.8 34.8L90.2 33.9L90.9 33.4L92.1 32.8M89.8 34.8L90.8 35.2L91.9 35.3L92.8 35.1M89.8 34.8L88.9 35.5L87.7 35.9L86.6 36.3M64.5 67.9L65.0 66.8L65.4 65.8L66.1 65.1M64.5 67.9L64.2 68.8L64.0 70.0L63.4 71.1M52.6 30.7L53.2 29.9L53.9 28.9M52.6 30.7L53.8 31.0L54.9 31.3L55.8 31.5M52.6 30.7L51.4 31.1L50.4 30.9M19.8 32.0L21.0 32.2M19.8 32.0L19.1 31.3L18.7 30.4L18.0 29.6M15.0 39.2L14.6 40.0L14.2 40.9L13.6 41.9M15.0 39.2L14.3 38.4L13.4 37.9L12.7 37.2M46.6 59.0L47.5 59.7L48.3 60.7M46.6 59.0L45.7 59.3L44.8 59.2M46.6 59.0L46.5 57.9M52.7 4.4L53.3 3.3M52.7 4.4L53.3 3.7L54.1 2.8L55.0 2.4M52.7 4.4L53.8 4.4L54.9 4.1L56.2 4.3M52.7 4.4L53.0 5.4L53.2 6.3L53.5 7.2M52.7 4.4L51.5 4.5L50.2 4.7M82.3 42.3L81.2 42.3L80.0 42.3M82.3 42.3L83.2 42.1L84.3 42.2L85.5 41.8M82.3 42.3L83.0 43.1L83.7 43.8M85.2 68.5L84.2 68.7M85.2 68.5L86.1 67.6M85.2 68.5L86.4 68.3M109.5 22.5L108.3 21.9M109.5 22.5L109.6 21.3M109.5 22.5L110.0 21.5L110.3 20.5M109.5 22.5L109.8 23.6M86.0 21.2L85.5 22.2L85.0 23.1M86.0 21.2L86.0 20.0M86.0 21.2L87.1 21.6L88.1 21.5M89.5 28.6L89.3 27.7L89.3 26.8M89.5 28.6L90.5 28.6M89.5 28.6L89.5 29.8L89.8 30.7M108.6 9.1L108.2 8.1M108.6 9.1L109.4 9.8M108.6 9.1L107.9 10.2L107.7 11.3M58.3 59.1L57.8 58.3L57.4 57.1L57.4 56.1M58.3 59.1L59.1 58.1L59.8 57.2M58.3 59.1L59.4 59.4L60.4 60.1M58.3 59.1L57.8 59.8L56.7 60.5M58.3 59.1L57.3 59.3L56.3 59.9L55.1 60.2M86.1 56.4L86.5 55.5L87.4 54.5M86.1 56.4L87.0 56.8L88.2 56.9M86.1 56.4L85.5 57.1L85.1 58.2L85.0 59.4M74.6 67.6L75.5 67.1L76.6 66.4L77.6 65.8M74.6 67.6L73.5 67.7M55.0 52.0L56.0 52.3L57.2 52.3L58.2 52.1M55.0 52.0L53.9 52.0L53.0 52.4L51.7 52.3M69.0 59.1L70.1 59.4L70.9 60.1L71.4 61.0M69.0 59.1L68.2 59.6L67.2 59.8L66.1 59.6M69.0 59.1L69.2 58.0L69.9 56.9L70.4 56.0M-1.3 4.3L-2.1 3.7M-1.3 4.3L-0.2 4.6L0.8 4.6M80.1 80.7L79.2 81.3L78.2 81.7L77.3 81.8M80.1 80.7L80.8 79.9M80.1 80.7L80.2 81.7L80.5 82.9L80.4 84.0M108.4 16.2L107.1 16.3L106.0 16.7M108.4 16.2L108.5 15.1L109.0 13.9M108.4 16.2L109.5 16.5L110.7 17.0" stroke-width="2.3"/><path d="M86.3 3.9h0M85.8 2.8h0M104.0 58.9h0M54.1 37.7h0M39.4 78.4h0M37.9 79.2h0M9.0 3.4h0M29.6 8.0h0M-1.6 32.6h0M-3.9 30.4h0M-0.5 33.1h0M79.2 57.6h0M50.1 22.6h0M49.5 22.8h0M0.1 54.0h0M1.2 77.8h0M1.0 77.4h0M10.9 24.4h0M102.6 25.3h0M100.3 27.5h0M101.6 23.5h0M73.0 23.1h0M72.7 21.5h0M16.0 19.4h0M71.6 31.7h0M6.0 19.1h0M5.1 19.6h0M6.2 18.1h0M8.1 68.6h0M7.7 69.1h0M9.2 67.8h0M55.7 13.3h0M57.1 14.5h0M29.6 37.1h0M30.7 35.7h0M28.2 38.1h0M62.1 74.4h0M63.8 74.1h0M62.6 52.5h0M82.4 32.8h0M72.4 42.0h0M89.6 50.9h0M112.2 35.4h0M112.1 34.7h0M110.4 37.1h0M99.4 12.3h0M101.5 12.4h0M98.6 14.1h0M93.6 67.0h0M44.3 3.3h0M56.4 68.8h0M57.4 69.0h0M56.3 66.9h0M94.7 41.1h0M95.5 40.3h0M95.7 -2.8h0M94.8 -3.3h0M94.8 -4.0h0M39.6 46.2h0M34.9 62.6h0M24.7 15.7h0M26.0 14.8h0M68.8 1.1h0M71.6 53.2h0M32.4 16.5h0M34.2 15.5h0M33.2 14.9h0M94.9 75.1h0M28.4 63.4h0M27.1 63.7h0M29.0 63.5h0M113.5 61.0h0M112.5 59.9h0M44.8 30.6h0M43.4 30.6h0M45.9 30.3h0M3.4 11.6h0M19.1 75.4h0M67.0 18.8h0M67.8 17.9h0M71.1 72.7h0M20.4 49.6h0M21.5 48.9h0M110.0 78.9h0M115.1 0.0h0M100.6 72.8h0M79.9 21.7h0M79.3 23.2h0M89.8 34.8h0M88.5 33.9h0M64.5 67.9h0M66.2 68.1h0M63.9 66.4h0M52.6 30.7h0M51.0 30.1h0M51.9 29.9h0M19.8 32.0h0M19.9 30.1h0M15.0 39.2h0M13.9 40.4h0M46.6 59.0h0M52.7 4.4h0M54.0 3.7h0M82.3 42.3h0M83.0 42.1h0M85.2 68.5h0M109.5 22.5h0M86.0 21.2h0M89.5 28.6h0M88.7 28.7h0M108.6 9.1h0M58.3 59.1h0M59.4 57.5h0M58.4 61.0h0M86.1 56.4h0M86.0 56.9h0M84.2 55.5h0M74.6 67.6h0M74.6 68.2h0M55.0 52.0h0M57.0 51.2h0M53.2 50.1h0M69.0 59.1h0M69.8 58.9h0M-1.3 4.3h0M80.1 80.7h0M80.3 82.3h0M108.4 16.2h0M109.4 17.7h0M108.7 17.3h0" stroke-width="3.6"/></g></svg>
<rect x="507.90" y="224.00" width="113.30" height="78.40" fill="#050b05"/>
<svg x="507.90" y="224.00" width="113.30" height="78.40" overflow="hidden"><path d="M25 26h0M68 18h0M101 32h0M24 1h0M105 53h0M89 60h0M82 17h0M101 48h0M79 55h0M85 46h0M5 63h0M67 43h0M62 1h0M11 53h0M59 54h0M29 5h0M37 21h0M72 23h0M97 37h0M39 70h0M78 64h0M14 17h0M59 19h0M62 68h0M44 36h0M86 17h0M4 34h0M6 72h0M10 17h0M67 44h0M65 12h0M61 11h0M95 76h0M68 19h0M63 28h0M56 10h0M13 35h0M43 60h0M16 64h0M87 35h0M112 5h0M59 65h0M77 20h0M58 1h0M35 62h0M44 33h0M101 57h0M72 17h0M86 42h0M48 64h0M19 31h0M63 41h0M59 58h0M76 15h0M36 71h0M46 11h0M49 67h0M17 12h0M28 34h0M15 20h0M52 10h0M53 53h0M61 38h0M86 32h0M4 59h0M72 30h0M83 64h0M59 24h0M59 52h0M22 64h0" stroke="#3d5a3d" stroke-width="1.4" stroke-linecap="round" opacity="0.6"/><g filter="url(#cb)" fill="none" stroke="#40cc40" stroke-linecap="round" stroke-linejoin="round"><path d="M33.6 21.5L34.3 22.5L34.6 23.6M33.6 21.5L32.6 21.1L31.8 20.4M33.6 21.5L34.5 21.3L35.6 21.2L36.8 21.0M3.9 56.3L4.4 55.3L4.7 54.1L5.1 53.0L5.3 52.1M3.9 56.3L4.5 57.3L4.7 58.3L5.1 59.4L5.5 60.6L6.1 61.5L6.6 62.6M3.9 56.3L3.0 56.8L2.2 57.2L1.2 57.3L0.1 57.2L-0.9 57.0M3.9 56.3L2.6 56.6L1.4 56.4L0.4 56.8L-0.8 57.2L-1.7 57.1L-2.8 56.7L-3.9 56.3M3.9 56.3L3.6 55.1L3.6 54.0L4.2 53.0L4.9 52.1M113.5 45.2L112.3 45.6L111.3 45.4M113.5 45.2L113.8 44.0L114.0 43.0L114.7 41.9L115.4 41.0M113.5 45.2L114.5 45.0L115.2 44.3L115.8 43.3M113.5 45.2L112.7 46.0L111.6 46.2L110.6 46.8M-0.5 9.9L-1.5 9.8L-2.6 9.8L-3.5 9.5L-4.3 8.7L-5.1 7.7L-5.6 6.8L-6.1 6.0M-0.5 9.9L0.2 9.3L1.4 8.9L2.4 8.6L3.5 8.9L4.6 9.0L5.7 9.1L6.9 9.2M-0.5 9.9L-0.1 11.2L0.4 12.3L1.1 13.2L2.2 13.7L3.3 13.7M105.7 73.1L106.5 73.9L107.2 74.6M105.7 73.1L104.9 73.9L104.2 74.7L103.0 75.2L102.1 75.3M105.7 73.1L104.8 72.8L103.5 72.9M105.7 73.1L106.0 71.8L106.4 70.9L107.1 69.9L107.4 68.9M105.7 73.1L106.5 72.6L107.5 71.8L108.1 70.9M113.3 34.0L114.1 34.5L115.1 34.9M113.3 34.0L113.9 35.1L114.8 36.1L115.3 37.3L115.7 38.5M113.3 34.0L112.3 34.0L111.3 33.6L110.1 33.6M113.3 34.0L113.1 32.8L112.6 31.7L112.3 30.7L111.6 29.9L110.7 29.5M37.4 46.2L37.9 45.2L37.9 44.0L37.8 43.1L37.9 41.9L37.8 40.8M37.4 46.2L38.2 47.1L39.4 47.6L40.4 48.2M37.4 46.2L36.2 46.7L35.3 47.4L34.3 47.6L33.2 47.8L32.1 47.7M23.7 4.6L22.7 3.9L21.8 3.2L21.3 2.4L20.9 1.4L20.1 0.6M23.7 4.6L24.6 4.5L25.8 4.5L27.0 4.7L28.1 5.3M23.7 4.6L24.2 5.7L24.4 6.6L24.7 7.5L24.8 8.7L25.1 9.6M96.2 33.5L95.9 34.4L95.6 35.2L95.0 35.9L94.1 36.7L93.3 37.0L92.5 37.5L91.8 38.1L91.4 39.0M96.2 33.5L95.2 33.4L94.2 33.4L93.2 33.9L91.9 34.1L90.8 33.8L89.9 34.0L89.2 34.5M96.2 33.5L97.3 33.1L98.0 32.4L98.9 32.1L100.1 31.9L101.1 31.3L101.8 30.7L102.4 29.8M30.9 11.5L29.6 11.6L28.7 11.9M30.9 11.5L31.7 12.4L32.4 13.3M64.2 -0.1L63.4 0.6L62.5 1.3L61.7 1.6L60.8 2.1M64.2 -0.1L63.9 -1.1L63.1 -2.0L62.4 -2.9L62.0 -3.8M64.2 -0.1L64.7 -0.9L65.5 -1.8L66.1 -2.7L66.7 -3.7L67.0 -4.7M64.2 -0.1L65.2 0.5L66.1 1.0L67.4 1.1L68.6 0.8M41.1 64.0L42.1 64.7L43.1 65.4L44.3 65.7M41.1 64.0L40.5 64.7L39.4 65.2L38.5 66.1M41.1 64.0L40.5 63.2L39.8 62.4L39.1 61.6L38.2 61.2L36.9 61.1M41.1 64.0L41.7 63.3L42.1 62.1L42.5 61.3M114.3 57.7L114.9 58.8L115.6 59.5L116.6 60.3L117.6 60.8M114.3 57.7L113.4 58.4L112.7 59.2L112.1 60.1L111.5 61.0L111.4 62.2L111.7 63.1L112.1 64.4L112.5 65.3M114.3 57.7L113.6 56.7L113.0 55.6L112.2 54.9L111.6 53.8L111.0 53.1M50.8 42.2L50.1 41.4L49.4 40.7L48.6 39.6M50.8 42.2L51.9 42.2L53.1 42.5L54.2 42.4L55.1 42.5L56.3 42.9M50.8 42.2L51.3 43.3L51.3 44.2L51.2 45.3L51.5 46.5M106.7 29.1L107.3 30.2L107.9 31.2L108.3 32.4M106.7 29.1L105.9 29.5L105.0 29.9L104.3 30.9L103.2 31.4L102.2 31.5M106.7 29.1L105.9 28.3L105.5 27.4L104.9 26.5L104.5 25.6M106.7 29.1L107.8 28.5L108.9 27.9L109.5 27.1L110.4 26.4L111.6 25.9M42.6 -0.1L41.6 0.4L40.5 0.7M42.6 -0.1L42.0 -1.0L41.6 -1.9L41.2 -2.9L40.5 -3.9M42.6 -0.1L43.6 -0.2L44.6 -0.4M42.6 -0.1L42.4 0.8L41.9 1.7M101.3 -1.1L101.1 0.2L100.4 1.2L99.4 2.0M101.3 -1.1L101.2 -2.0L101.0 -3.0L100.6 -4.0L100.3 -5.0M81.3 39.7L80.3 39.6L79.1 39.3L78.0 39.6L76.9 39.4L76.1 38.9L75.4 38.3M81.3 39.7L82.1 39.1L83.1 38.5L83.9 37.8M-1.4 35.1L-1.6 36.2L-2.0 37.1L-2.4 38.3L-2.6 39.2L-2.8 40.3L-3.1 41.5M-1.4 35.1L-2.2 35.8L-3.1 36.4L-3.5 37.2L-4.5 38.1M-1.4 35.1L-2.2 34.2L-3.0 33.4L-3.5 32.5L-4.3 31.9L-5.4 31.5L-6.4 30.8M-1.4 35.1L-0.9 34.0L-0.8 32.9L-1.1 31.9L-1.4 30.9L-1.7 30.0M111.6 78.5L112.4 78.0L113.5 77.8L114.4 77.5L115.5 77.7M111.6 78.5L112.5 78.4L113.6 78.8M111.6 78.5L110.4 78.8L109.2 78.7M27.0 56.2L28.0 55.6L29.1 55.0M27.0 56.2L28.1 55.9L29.1 55.3M27.0 56.2L26.3 57.1L25.8 57.9M27.0 56.2L26.8 57.2L26.9 58.5M27.0 56.2L27.0 55.1L26.9 54.2L26.4 53.5M5.4 19.7L4.6 19.3L3.6 18.6L2.7 18.3L1.7 17.8M5.4 19.7L5.8 18.5L6.0 17.2L6.8 16.2M5.4 19.7L5.8 20.6L6.7 21.4L7.8 21.9L8.6 22.8M17.5 22.0L17.6 21.0L18.0 19.9L18.6 19.0L18.7 17.9M17.5 22.0L18.6 22.6L19.7 23.2L21.0 23.5L22.0 23.7M17.5 22.0L16.8 22.7L15.6 23.2L14.5 23.3M9.8 72.9L11.0 72.7L11.8 72.2L12.5 71.3M9.8 72.9L8.6 72.8L7.7 73.0L7.0 73.7M108.4 16.4L109.5 16.0L110.6 15.4L111.3 14.4L111.7 13.3L111.7 12.1M108.4 16.4L107.5 16.3L106.5 16.3L105.6 16.7M15.0 11.5L15.0 12.6L15.4 13.7L15.7 14.7L15.7 16.0M15.0 11.5L13.9 11.4L12.9 11.1L11.8 10.6L10.9 9.9M15.0 11.5L13.9 11.4L13.1 11.0L12.1 10.7M15.0 11.5L15.2 10.4L15.6 9.5L15.7 8.4L15.4 7.3L15.1 6.3L14.7 5.4M15.0 11.5L15.7 12.0L16.9 12.3L18.2 12.3L19.3 11.9M96.1 12.2L95.3 12.9L94.5 13.9L93.6 14.3M96.1 12.2L96.4 11.1L96.6 10.1M96.1 12.2L96.9 13.0L97.6 13.9M66.8 63.6L66.9 64.7L66.4 65.8L66.4 67.1L66.2 68.3L65.7 69.5M66.8 63.6L65.8 62.8L65.0 62.2L64.4 61.2L63.6 60.5L63.3 59.6M66.8 63.6L67.5 62.8L68.6 62.0L69.3 61.3L70.1 60.7M66.8 63.6L67.9 63.6L68.9 63.8L70.2 63.8L71.4 63.3M23.0 31.8L22.4 31.1L22.0 30.2L21.8 29.2M23.0 31.8L23.3 30.9L23.9 30.1L24.7 29.2M23.0 31.8L23.9 32.1L24.6 32.7L25.6 33.5M62.2 29.9L63.1 30.1L63.8 30.7L64.5 31.4M62.2 29.9L62.4 30.8L62.9 31.8L63.8 32.7L64.6 33.2L65.6 33.9L66.1 34.8M62.2 29.9L61.0 29.5L60.0 29.2L59.0 29.3L58.0 28.9L57.0 28.1M62.2 29.9L62.0 28.8L61.6 27.7L61.3 26.5L60.9 25.6M62.2 29.9L62.5 28.8L63.0 27.7L63.1 26.7L62.9 25.6L62.7 24.7M59.7 4.3L58.9 3.7L58.0 3.3L56.8 3.3L55.7 3.4L54.5 3.8M59.7 4.3L60.6 3.8L61.6 3.3L62.4 2.6L63.2 1.9L64.1 1.1L64.8 0.3M59.7 4.3L60.5 3.5L61.5 2.6L62.2 1.6L62.9 0.7L63.2 -0.4M59.7 4.3L59.8 5.6L59.8 6.5L59.9 7.4L60.5 8.3L61.2 9.2L62.0 9.8L63.3 10.1M59.7 4.3L59.0 5.0L58.1 5.9L57.4 6.6L56.7 7.4L56.1 8.1L55.2 8.9L54.7 10.1M115.3 22.2L116.0 21.5L116.3 20.4L116.4 19.5M115.3 22.2L115.9 23.2L116.1 24.2L116.4 25.3M115.3 22.2L115.2 23.2L115.7 24.3L115.9 25.6L116.5 26.3L117.4 26.9L118.1 27.8M32.9 65.9L33.9 65.9L34.8 65.9L35.8 65.7L36.9 66.1M32.9 65.9L32.5 67.1L32.3 68.0L32.6 69.0L33.2 69.9L33.8 70.6L34.4 71.3L34.7 72.2L35.1 73.4M32.9 65.9L32.1 65.1L31.2 64.6L30.2 64.0M2.7 27.5L1.8 28.0L0.9 28.8L0.3 29.7M2.7 27.5L2.2 26.6L1.5 25.8L0.8 25.2M2.7 27.5L3.7 26.7L4.7 26.1M2.7 27.5L3.8 27.4L4.7 27.7L5.6 28.5M2.7 27.5L2.2 28.4L1.4 29.2M10.9 3.7L9.9 4.0L8.7 4.4M10.9 3.7L9.6 3.6L8.5 3.9L7.5 4.3M10.9 3.7L10.6 2.7L10.6 1.7M10.9 3.7L11.8 3.2L12.6 2.8M10.9 3.7L10.7 4.9L10.9 5.8L11.3 7.0L11.8 8.0M11.7 51.5L10.8 52.3L10.1 53.2L9.0 53.6L8.1 54.4L7.3 55.1L6.6 55.7L5.5 56.3M11.7 51.5L11.1 50.5L10.9 49.4L11.0 48.5M11.7 51.5L12.9 51.1L13.6 50.5L14.6 50.0L15.5 49.6M11.7 51.5L12.6 51.8L13.3 52.5L13.7 53.4L14.4 54.0L15.5 54.7L16.1 55.7M103.5 52.9L103.6 54.0L103.8 55.0M103.5 52.9L102.3 52.5L101.1 52.2L100.1 52.4M103.5 52.9L102.4 52.6L101.3 51.9M103.5 52.9L103.5 51.8L103.7 50.7M103.5 52.9L104.6 52.8L105.6 52.5L106.6 52.0M94.9 23.2L94.9 24.4L95.1 25.4L94.9 26.7M94.9 23.2L94.0 23.6L93.0 23.9L91.9 24.4L90.9 25.1M94.9 23.2L95.1 22.0L95.5 20.8L95.6 19.8L95.8 18.9L96.6 17.9M94.9 23.2L95.5 22.1L96.3 21.5L97.3 21.0M60.4 44.1L60.8 45.0L61.5 45.7L62.3 46.3M60.4 44.1L60.1 43.2L60.3 42.1L60.6 41.0L60.5 40.1M60.4 44.1L61.5 43.8L62.5 43.4L63.7 42.9L64.8 42.5L65.8 41.7L66.6 41.2L67.6 40.5M45.5 37.7L46.6 38.1L47.6 38.4L48.6 39.1L49.0 39.9M45.5 37.7L44.9 38.8L44.1 39.5L43.8 40.3M45.5 37.7L45.1 36.6L45.0 35.6L45.3 34.4L46.0 33.5M71.1 59.1L70.1 59.0L69.0 59.0L67.8 58.7M71.1 59.1L71.1 60.3L71.2 61.3L71.6 62.2L71.7 63.4L72.0 64.4L72.6 65.5L72.6 66.7M53.3 11.4L54.3 10.8L55.1 10.2L56.0 10.1L57.1 9.7M53.3 11.4L53.6 12.6L53.6 13.6L53.5 14.5L53.2 15.6M53.3 11.4L52.5 10.3L51.8 9.8L50.7 9.3L49.6 9.2L48.6 8.9M78.0 62.4L77.8 61.4L77.4 60.5L77.1 59.5L76.5 58.4M78.0 62.4L78.9 62.7L79.9 62.7L81.0 62.1M78.0 62.4L78.6 63.2L79.5 63.9L80.1 64.5M78.0 62.4L77.0 62.7L75.9 62.8L75.0 63.1L73.8 63.5M78.0 62.4L77.1 61.9L76.0 61.6M75.5 70.9L75.2 70.0L75.0 68.7M75.5 70.9L76.3 70.2L77.0 69.5M75.5 70.9L76.5 71.6L77.4 71.8M75.5 70.9L74.7 71.8L74.1 72.7L73.4 73.6L72.5 74.1L71.5 74.8M73.6 36.3L74.1 35.5L74.9 35.0L76.0 34.8L77.1 34.5M73.6 36.3L73.6 37.3L73.2 38.5L72.5 39.4L71.8 40.2L71.4 41.0L71.3 42.1M73.6 36.3L72.7 35.5L71.9 34.5L71.7 33.5L71.3 32.3L70.9 31.2M54.3 57.6L55.4 57.4L56.3 57.1L57.2 56.6L57.8 55.9M54.3 57.6L53.3 57.6L52.1 58.0L51.0 58.5L49.8 58.8L48.5 58.5M54.3 57.6L54.5 56.3L54.6 55.4L54.7 54.4L54.6 53.4L54.9 52.3L55.3 51.5M1.2 70.9L1.4 72.0L2.0 73.0L2.5 73.7L3.1 74.7L3.7 75.5L4.5 76.0M1.2 70.9L0.9 70.0L0.4 69.2M1.2 70.9L2.3 71.0L3.3 71.5L4.5 71.6L5.3 71.9M103.6 62.6L103.1 61.5L102.8 60.7L102.6 59.6L102.4 58.6M103.6 62.6L103.8 63.7L103.8 64.7L103.8 65.6M103.6 62.6L102.7 63.3L101.8 63.8L101.1 64.9M5.5 77.6L5.5 78.6L5.2 79.7L5.3 80.8L5.5 82.0L5.1 83.2L4.6 84.3L4.4 85.2L4.3 86.2M5.5 77.6L4.5 77.8L3.6 78.3L2.9 79.3M5.5 77.6L6.5 76.8L7.4 76.0L8.3 75.6L9.1 74.8L10.1 74.4M96.5 5.4L95.6 4.7L94.7 4.2M96.5 5.4L97.0 4.6L97.6 3.5M96.5 5.4L97.1 6.4L97.8 7.1L98.8 7.8M96.5 5.4L95.7 6.0L95.0 6.8L94.0 7.4M73.0 15.6L73.4 16.5L73.7 17.6L74.1 18.6L74.7 19.4L75.2 20.5L75.8 21.3M73.0 15.6L72.1 16.0L71.4 16.9L70.7 17.6L70.3 18.7L70.3 19.9L70.4 20.9M73.0 15.6L73.3 14.7L73.9 13.9L74.6 13.4L75.4 12.4L76.0 11.5L76.7 10.9M92.8 81.0L93.3 82.0L93.9 82.8L94.1 83.7M92.8 81.0L91.7 81.5L90.6 81.4L89.3 81.5M92.8 81.0L93.8 81.0L94.7 81.4M61.0 70.7L60.1 69.8L59.2 69.1L58.3 68.2L57.5 67.7L56.3 67.4L55.4 67.1L54.3 66.6M61.0 70.7L61.3 69.9L61.9 69.1L62.9 68.6L63.9 68.0L64.7 67.6M61.0 70.7L62.1 70.3L63.3 70.1L64.5 70.4L65.7 70.5L66.8 70.8L67.7 71.6L68.4 72.7L69.2 73.3M61.0 70.7L61.2 72.0L61.8 72.9L61.9 74.0L62.3 75.0L62.7 76.1L63.2 77.0L63.9 77.6L64.9 78.2M61.0 70.7L60.2 71.3L59.2 71.9L58.0 72.1L57.1 72.4M85.9 6.2L85.2 5.5L84.4 5.1L83.5 4.7L82.7 3.7M85.9 6.2L86.9 6.0L87.7 5.5L89.0 5.2L89.8 4.6M85.9 6.2L86.4 7.1L86.5 8.0L86.7 9.3M85.9 6.2L85.4 7.3L85.0 8.2M85.9 6.2L84.8 5.9L83.7 5.3L82.5 5.0M11.2 65.2L12.0 64.4L13.2 63.9L14.4 63.6L15.3 63.5M11.2 65.2L10.5 66.3L9.5 67.1L8.6 67.8L7.9 68.5L7.5 69.4M11.2 65.2L10.2 65.0L9.1 64.9L8.0 64.7M85.1 75.8L85.9 74.9L87.0 74.2L88.1 73.8L89.1 74.0M85.1 75.8L84.0 76.2L83.0 76.8L81.9 77.0L80.9 77.4M20.8 64.4L21.5 63.7L22.3 62.9L23.1 62.3M20.8 64.4L21.6 65.2L22.2 66.0L22.6 67.0L23.4 68.0M20.8 64.4L19.7 64.4L18.4 64.4L17.2 64.3L16.0 64.5L14.8 65.1M109.8 4.9L109.5 6.0L108.7 7.0L108.2 7.9M109.8 4.9L109.3 4.0L108.6 3.3L107.8 2.8M109.8 4.9L110.8 4.9L111.7 5.2L112.9 5.3L114.0 5.6L114.9 5.9L115.7 6.5M70.5 75.9L69.8 75.3L68.8 74.5M70.5 75.9L71.7 75.6L72.7 75.8L73.5 76.4M70.5 75.9L69.9 76.7L69.6 77.6L69.5 78.7M51.5 69.1L50.7 69.8L50.3 70.6L50.3 71.8M51.5 69.1L52.4 68.8L53.3 68.8L54.5 69.0L55.5 68.8M35.1 30.0L34.6 30.8L34.1 31.7L33.7 32.6M35.1 30.0L34.2 29.8L32.9 29.9L31.7 29.6L30.4 29.7L29.4 29.4L28.4 29.1L27.4 29.2M35.1 30.0L35.0 29.0L34.6 27.8L34.1 26.6L33.7 25.5M35.1 30.0L36.0 29.4L37.1 28.7L38.2 28.6L39.1 28.8L40.1 28.9M35.1 30.0L36.2 30.5L37.2 30.7L38.2 30.9L39.1 31.3L40.2 31.3M103.4 80.1L102.5 80.5L101.2 80.8L100.0 81.1M103.4 80.1L104.4 79.4L105.5 79.1M103.4 80.1L104.6 80.6L105.5 81.4L106.5 81.7L107.6 81.7M82.7 22.9L81.7 23.4L80.7 23.6M82.7 22.9L81.8 22.2L80.6 21.6M82.7 22.9L82.6 21.8L82.8 20.6M82.7 22.9L84.0 22.9L85.1 22.3M82.7 22.9L83.0 23.9L83.4 24.9L83.8 26.0M-1.5 78.2L-0.9 77.5L-0.3 76.6L0.4 75.8L1.3 75.4M-1.5 78.2L-0.3 78.2L0.5 78.5L1.7 78.4L2.8 78.0L3.8 77.5L4.7 77.5M-1.5 78.2L-1.1 79.0L-0.3 79.8L0.5 80.3L1.2 81.1M-1.5 78.2L-2.4 77.4L-3.0 76.4L-3.2 75.5L-3.2 74.4L-2.7 73.2M-1.5 78.2L-1.3 77.2L-0.6 76.3L0.1 75.6L0.6 74.4L1.1 73.7M108.1 48.7L108.6 47.7L109.2 46.7L110.2 45.9L111.1 45.0L112.2 44.5L112.9 44.0M108.1 48.7L108.8 49.6L109.3 50.7L109.3 51.7L109.7 52.6L110.0 53.5L110.8 54.3M108.1 48.7L107.4 49.4L107.1 50.3L106.6 51.5L106.0 52.6L105.7 53.8L105.1 54.7M108.1 48.7L107.1 48.3L106.5 47.7L105.9 46.7M56.7 35.1L55.9 35.6L55.0 35.9L54.3 36.5L53.3 36.7M56.7 35.1L56.1 34.4L55.8 33.6L55.4 32.4L55.4 31.3L55.1 30.4L55.1 29.3L55.4 28.2M56.7 35.1L56.4 34.1L56.5 32.8L56.9 31.8L56.9 30.7L56.5 29.7L56.0 28.8M56.7 35.1L57.9 35.2L59.1 34.9L59.8 34.3L60.6 33.6L61.6 33.3L62.4 32.9L63.2 32.0M56.7 35.1L56.9 36.3L57.1 37.6L56.9 38.6L57.0 39.7M63.0 53.9L61.9 53.4L60.9 53.1L60.0 53.0L59.0 53.2L57.8 53.4M63.0 53.9L63.1 52.8L62.8 51.7L62.3 50.6L61.7 49.5M63.0 53.9L63.9 54.2L64.8 55.0L65.4 55.7L66.4 56.5L67.1 57.4L67.9 57.9M63.0 53.9L63.1 54.8L63.0 56.1L62.9 57.3L62.4 58.4L61.9 59.1M21.0 45.9L20.9 45.0L21.0 44.0L21.4 42.9L21.6 42.0L21.6 40.8M21.0 45.9L22.2 46.2L23.2 46.0L24.4 46.1L25.6 45.7L26.6 45.8M21.0 45.9L20.2 46.6L19.8 47.6L19.8 48.6L19.2 49.5L18.5 50.4M66.8 10.6L66.4 11.5L66.0 12.5L65.7 13.4L64.9 14.2M66.8 10.6L66.0 10.0L65.0 9.7L64.0 9.7L63.0 10.0L62.2 10.6L61.3 11.3M66.8 10.6L67.8 10.1L68.8 9.9L69.8 10.1M69.2 24.3L68.1 24.7L67.2 24.8M69.2 24.3L68.2 23.6L67.1 22.9M69.2 24.3L70.2 23.6L71.1 23.0L72.3 22.8L73.1 22.2M69.2 24.3L70.5 24.6L71.5 25.2M43.7 25.8L42.7 25.6L41.5 26.0L40.4 26.5L39.6 27.1L38.9 27.8L38.3 28.9M43.7 25.8L43.8 24.7L44.1 23.8L44.0 22.8L44.4 21.8L44.8 20.7L45.2 19.8M43.7 25.8L44.6 26.1L45.7 26.8L46.5 27.7M43.7 25.8L44.4 26.5L44.8 27.7L44.8 28.6L45.3 29.6L45.6 30.8M43.7 25.8L43.6 26.7L43.1 27.6L42.9 28.8L42.4 29.9L41.8 30.9M93.6 39.3L92.8 38.5L92.0 38.1M93.6 39.3L93.6 38.2L94.2 37.2M93.6 39.3L94.7 38.7L95.4 38.1M93.6 39.3L93.7 40.3L93.8 41.4L93.7 42.3" stroke-width="1.4"/><path d="M33.6 21.5L34.3 22.5M33.6 21.5L32.6 21.1M33.6 21.5L34.5 21.3L35.6 21.2M3.9 56.3L4.4 55.3L4.7 54.1M3.9 56.3L4.5 57.3L4.7 58.3L5.1 59.4M3.9 56.3L3.0 56.8L2.2 57.2L1.2 57.3M3.9 56.3L2.6 56.6L1.4 56.4L0.4 56.8L-0.8 57.2M3.9 56.3L3.6 55.1L3.6 54.0M113.5 45.2L112.3 45.6M113.5 45.2L113.8 44.0L114.0 43.0M113.5 45.2L114.5 45.0L115.2 44.3M113.5 45.2L112.7 46.0L111.6 46.2M-0.5 9.9L-1.5 9.8L-2.6 9.8L-3.5 9.5L-4.3 8.7M-0.5 9.9L0.2 9.3L1.4 8.9L2.4 8.6L3.5 8.9M-0.5 9.9L-0.1 11.2L0.4 12.3L1.1 13.2M105.7 73.1L106.5 73.9M105.7 73.1L104.9 73.9L104.2 74.7M105.7 73.1L104.8 72.8M105.7 73.1L106.0 71.8L106.4 70.9M105.7 73.1L106.5 72.6L107.5 71.8M113.3 34.0L114.1 34.5M113.3 34.0L113.9 35.1L114.8 36.1M113.3 34.0L112.3 34.0L111.3 33.6M113.3 34.0L113.1 32.8L112.6 31.7L112.3 30.7M37.4 46.2L37.9 45.2L37.9 44.0L37.8 43.1M37.4 46.2L38.2 47.1L39.4 47.6M37.4 46.2L36.2 46.7L35.3 47.4L34.3 47.6M23.7 4.6L22.7 3.9L21.8 3.2L21.3 2.4M23.7 4.6L24.6 4.5L25.8 4.5M23.7 4.6L24.2 5.7L24.4 6.6L24.7 7.5M96.2 33.5L95.9 34.4L95.6 35.2L95.0 35.9L94.1 36.7M96.2 33.5L95.2 33.4L94.2 33.4L93.2 33.9L91.9 34.1M96.2 33.5L97.3 33.1L98.0 32.4L98.9 32.1L100.1 31.9M30.9 11.5L29.6 11.6M30.9 11.5L31.7 12.4M64.2 -0.1L63.4 0.6L62.5 1.3M64.2 -0.1L63.9 -1.1L63.1 -2.0M64.2 -0.1L64.7 -0.9L65.5 -1.8L66.1 -2.7M64.2 -0.1L65.2 0.5L66.1 1.0M41.1 64.0L42.1 64.7L43.1 65.4M41.1 64.0L40.5 64.7L39.4 65.2M41.1 64.0L40.5 63.2L39.8 62.4L39.1 61.6M41.1 64.0L41.7 63.3L42.1 62.1M114.3 57.7L114.9 58.8L115.6 59.5M114.3 57.7L113.4 58.4L112.7 59.2L112.1 60.1L111.5 61.0M114.3 57.7L113.6 56.7L113.0 55.6L112.2 54.9M50.8 42.2L50.1 41.4L49.4 40.7M50.8 42.2L51.9 42.2L53.1 42.5L54.2 42.4M50.8 42.2L51.3 43.3L51.3 44.2M106.7 29.1L107.3 30.2L107.9 31.2M106.7 29.1L105.9 29.5L105.0 29.9L104.3 30.9M106.7 29.1L105.9 28.3L105.5 27.4M106.7 29.1L107.8 28.5L108.9 27.9L109.5 27.1M42.6 -0.1L41.6 0.4M42.6 -0.1L42.0 -1.0L41.6 -1.9M42.6 -0.1L43.6 -0.2M42.6 -0.1L42.4 0.8M101.3 -1.1L101.1 0.2L100.4 1.2M101.3 -1.1L101.2 -2.0L101.0 -3.0M81.3 39.7L80.3 39.6L79.1 39.3L78.0 39.6M81.3 39.7L82.1 39.1L83.1 38.5M-1.4 35.1L-1.6 36.2L-2.0 37.1L-2.4 38.3M-1.4 35.1L-2.2 35.8L-3.1 36.4M-1.4 35.1L-2.2 34.2L-3.0 33.4L-3.5 32.5M-1.4 35.1L-0.9 34.0L-0.8 32.9L-1.1 31.9M111.6 78.5L112.4 78.0L113.5 77.8M111.6 78.5L112.5 78.4M111.6 78.5L110.4 78.8M27.0 56.2L28.0 55.6M27.0 56.2L28.1 55.9M27.0 56.2L26.3 57.1M27.0 56.2L26.8 57.2M27.0 56.2L27.0 55.1L26.9 54.2M5.4 19.7L4.6 19.3L3.6 18.6M5.4 19.7L5.8 18.5L6.0 17.2M5.4 19.7L5.8 20.6L6.7 21.4M17.5 22.0L17.6 21.0L18.0 19.9M17.5 22.0L18.6 22.6L19.7 23.2M17.5 22.0L16.8 22.7L15.6 23.2M9.8 72.9L11.0 72.7L11.8 72.2M9.8 72.9L8.6 72.8L7.7 73.0M108.4 16.4L109.5 16.0L110.6 15.4L111.3 14.4M108.4 16.4L107.5 16.3L106.5 16.3M15.0 11.5L15.0 12.6L15.4 13.7M15.0 11.5L13.9 11.4L12.9 11.1M15.0 11.5L13.9 11.4L13.1 11.0M15.0 11.5L15.2 10.4L15.6 9.5L15.7 8.4M15.0 11.5L15.7 12.0L16.9 12.3M96.1 12.2L95.3 12.9L94.5 13.9M96.1 12.2L96.4 11.1M96.1 12.2L96.9 13.0M66.8 63.6L66.9 64.7L66.4 65.8L66.4 67.1M66.8 63.6L65.8 62.8L65.0 62.2L64.4 61.2M66.8 63.6L67.5 62.8L68.6 62.0M66.8 63.6L67.9 63.6L68.9 63.8M23.0 31.8L22.4 31.1L22.0 30.2M23.0 31.8L23.3 30.9L23.9 30.1M23.0 31.8L23.9 32.1L24.6 32.7M62.2 29.9L63.1 30.1L63.8 30.7M62.2 29.9L62.4 30.8L62.9 31.8L63.8 32.7M62.2 29.9L61.0 29.5L60.0 29.2L59.0 29.3M62.2 29.9L62.0 28.8L61.6 27.7M62.2 29.9L62.5 28.8L63.0 27.7L63.1 26.7M59.7 4.3L58.9 3.7L58.0 3.3L56.8 3.3M59.7 4.3L60.6 3.8L61.6 3.3L62.4 2.6M59.7 4.3L60.5 3.5L61.5 2.6L62.2 1.6M59.7 4.3L59.8 5.6L59.8 6.5L59.9 7.4L60.5 8.3M59.7 4.3L59.0 5.0L58.1 5.9L57.4 6.6L56.7 7.4M115.3 22.2L116.0 21.5L116.3 20.4M115.3 22.2L115.9 23.2L116.1 24.2M115.3 22.2L115.2 23.2L115.7 24.3L115.9 25.6M32.9 65.9L33.9 65.9L34.8 65.9M32.9 65.9L32.5 67.1L32.3 68.0L32.6 69.0L33.2 69.9M32.9 65.9L32.1 65.1L31.2 64.6M2.7 27.5L1.8 28.0L0.9 28.8M2.7 27.5L2.2 26.6L1.5 25.8M2.7 27.5L3.7 26.7M2.7 27.5L3.8 27.4L4.7 27.7M2.7 27.5L2.2 28.4M10.9 3.7L9.9 4.0M10.9 3.7L9.6 3.6L8.5 3.9M10.9 3.7L10.6 2.7M10.9 3.7L11.8 3.2M10.9 3.7L10.7 4.9L10.9 5.8M11.7 51.5L10.8 52.3L10.1 53.2L9.0 53.6L8.1 54.4M11.7 51.5L11.1 50.5L10.9 49.4M11.7 51.5L12.9 51.1L13.6 50.5M11.7 51.5L12.6 51.8L13.3 52.5L13.7 53.4M103.5 52.9L103.6 54.0M103.5 52.9L102.3 52.5L101.1 52.2M103.5 52.9L102.4 52.6M103.5 52.9L103.5 51.8M103.5 52.9L104.6 52.8L105.6 52.5M94.9 23.2L94.9 24.4L95.1 25.4M94.9 23.2L94.0 23.6L93.0 23.9M94.9 23.2L95.1 22.0L95.5 20.8L95.6 19.8M94.9 23.2L95.5 22.1L96.3 21.5M60.4 44.1L60.8 45.0L61.5 45.7M60.4 44.1L60.1 43.2L60.3 42.1M60.4 44.1L61.5 43.8L62.5 43.4L63.7 42.9L64.8 42.5M45.5 37.7L46.6 38.1L47.6 38.4M45.5 37.7L44.9 38.8L44.1 39.5M45.5 37.7L45.1 36.6L45.0 35.6M71.1 59.1L70.1 59.0L69.0 59.0M71.1 59.1L71.1 60.3L71.2 61.3L71.6 62.2L71.7 63.4M53.3 11.4L54.3 10.8L55.1 10.2M53.3 11.4L53.6 12.6L53.6 13.6M53.3 11.4L52.5 10.3L51.8 9.8L50.7 9.3M78.0 62.4L77.8 61.4L77.4 60.5M78.0 62.4L78.9 62.7L79.9 62.7M78.0 62.4L78.6 63.2L79.5 63.9M78.0 62.4L77.0 62.7L75.9 62.8M78.0 62.4L77.1 61.9M75.5 70.9L75.2 70.0M75.5 70.9L76.3 70.2M75.5 70.9L76.5 71.6M75.5 70.9L74.7 71.8L74.1 72.7L73.4 73.6M73.6 36.3L74.1 35.5L74.9 35.0M73.6 36.3L73.6 37.3L73.2 38.5L72.5 39.4M73.6 36.3L72.7 35.5L71.9 34.5L71.7 33.5M54.3 57.6L55.4 57.4L56.3 57.1M54.3 57.6L53.3 57.6L52.1 58.0L51.0 58.5M54.3 57.6L54.5 56.3L54.6 55.4L54.7 54.4M1.2 70.9L1.4 72.0L2.0 73.0L2.5 73.7M1.2 70.9L0.9 70.0M1.2 70.9L2.3 71.0L3.3 71.5M103.6 62.6L103.1 61.5L102.8 60.7M103.6 62.6L103.8 63.7L103.8 64.7M103.6 62.6L102.7 63.3L101.8 63.8M5.5 77.6L5.5 78.6L5.2 79.7L5.3 80.8L5.5 82.0M5.5 77.6L4.5 77.8L3.6 78.3M5.5 77.6L6.5 76.8L7.4 76.0L8.3 75.6M96.5 5.4L95.6 4.7M96.5 5.4L97.0 4.6M96.5 5.4L97.1 6.4L97.8 7.1M96.5 5.4L95.7 6.0L95.0 6.8M73.0 15.6L73.4 16.5L73.7 17.6L74.1 18.6M73.0 15.6L72.1 16.0L71.4 16.9L70.7 17.6M73.0 15.6L73.3 14.7L73.9 13.9L74.6 13.4M92.8 81.0L93.3 82.0L93.9 82.8M92.8 81.0L91.7 81.5L90.6 81.4M92.8 81.0L93.8 81.0M61.0 70.7L60.1 69.8L59.2 69.1L58.3 68.2L57.5 67.7M61.0 70.7L61.3 69.9L61.9 69.1L62.9 68.6M61.0 70.7L62.1 70.3L63.3 70.1L64.5 70.4L65.7 70.5M61.0 70.7L61.2 72.0L61.8 72.9L61.9 74.0L62.3 75.0M61.0 70.7L60.2 71.3L59.2 71.9M85.9 6.2L85.2 5.5L84.4 5.1M85.9 6.2L86.9 6.0L87.7 5.5M85.9 6.2L86.4 7.1L86.5 8.0M85.9 6.2L85.4 7.3M85.9 6.2L84.8 5.9L83.7 5.3M11.2 65.2L12.0 64.4L13.2 63.9M11.2 65.2L10.5 66.3L9.5 67.1L8.6 67.8M11.2 65.2L10.2 65.0L9.1 64.9M85.1 75.8L85.9 74.9L87.0 74.2M85.1 75.8L84.0 76.2L83.0 76.8M20.8 64.4L21.5 63.7L22.3 62.9M20.8 64.4L21.6 65.2L22.2 66.0M20.8 64.4L19.7 64.4L18.4 64.4L17.2 64.3M109.8 4.9L109.5 6.0L108.7 7.0M109.8 4.9L109.3 4.0L108.6 3.3M109.8 4.9L110.8 4.9L111.7 5.2L112.9 5.3M70.5 75.9L69.8 75.3M70.5 75.9L71.7 75.6L72.7 75.8M70.5 75.9L69.9 76.7L69.6 77.6M51.5 69.1L50.7 69.8L50.3 70.6M51.5 69.1L52.4 68.8L53.3 68.8M35.1 30.0L34.6 30.8L34.1 31.7M35.1 30.0L34.2 29.8L32.9 29.9L31.7 29.6L30.4 29.7M35.1 30.0L35.0 29.0L34.6 27.8M35.1 30.0L36.0 29.4L37.1 28.7L38.2 28.6M35.1 30.0L36.2 30.5L37.2 30.7L38.2 30.9M103.4 80.1L102.5 80.5L101.2 80.8M103.4 80.1L104.4 79.4M103.4 80.1L104.6 80.6L105.5 81.4M82.7 22.9L81.7 23.4M82.7 22.9L81.8 22.2M82.7 22.9L82.6 21.8M82.7 22.9L84.0 22.9M82.7 22.9L83.0 23.9L83.4 24.9M-1.5 78.2L-0.9 77.5L-0.3 76.6M-1.5 78.2L-0.3 78.2L0.5 78.5L1.7 78.4M-1.5 78.2L-1.1 79.0L-0.3 79.8M-1.5 78.2L-2.4 77.4L-3.0 76.4L-3.2 75.5M-1.5 78.2L-1.3 77.2L-0.6 76.3L0.1 75.6M108.1 48.7L108.6 47.7L109.2 46.7L110.2 45.9M108.1 48.7L108.8 49.6L109.3 50.7L109.3 51.7M108.1 48.7L107.4 49.4L107.1 50.3L106.6 51.5M108.1 48.7L107.1 48.3L106.5 47.7M56.7 35.1L55.9 35.6L55.0 35.9M56.7 35.1L56.1 34.4L55.8 33.6L55.4 32.4L55.4 31.3M56.7 35.1L56.4 34.1L56.5 32.8L56.9 31.8M56.7 35.1L57.9 35.2L59.1 34.9L59.8 34.3L60.6 33.6M56.7 35.1L56.9 36.3L57.1 37.6M63.0 53.9L61.9 53.4L60.9 53.1L60.0 53.0M63.0 53.9L63.1 52.8L62.8 51.7M63.0 53.9L63.9 54.2L64.8 55.0L65.4 55.7M63.0 53.9L63.1 54.8L63.0 56.1L62.9 57.3M21.0 45.9L20.9 45.0L21.0 44.0L21.4 42.9M21.0 45.9L22.2 46.2L23.2 46.0L24.4 46.1M21.0 45.9L20.2 46.6L19.8 47.6L19.8 48.6M66.8 10.6L66.4 11.5L66.0 12.5M66.8 10.6L66.0 10.0L65.0 9.7L64.0 9.7M66.8 10.6L67.8 10.1L68.8 9.9M69.2 24.3L68.1 24.7M69.2 24.3L68.2 23.6M69.2 24.3L70.2 23.6L71.1 23.0M69.2 24.3L70.5 24.6M43.7 25.8L42.7 25.6L41.5 26.0L40.4 26.5M43.7 25.8L43.8 24.7L44.1 23.8L44.0 22.8M43.7 25.8L44.6 26.1L45.7 26.8M43.7 25.8L44.4 26.5L44.8 27.7L44.8 28.6M43.7 25.8L43.6 26.7L43.1 27.6L42.9 28.8M93.6 39.3L92.8 38.5M93.6 39.3L93.6 38.2M93.6 39.3L94.7 38.7M93.6 39.3L93.7 40.3L93.8 41.4" stroke-width="2.3"/><path d="M33.6 21.5h0M3.9 56.3h0M2.0 54.7h0M5.4 57.0h0M113.5 45.2h0M-0.5 9.9h0M-2.0 9.1h0M0.1 9.6h0M105.7 73.1h0M113.3 34.0h0M37.4 46.2h0M38.2 47.3h0M23.7 4.6h0M22.3 4.4h0M96.2 33.5h0M96.3 31.5h0M96.0 32.4h0M30.9 11.5h0M64.2 -0.1h0M63.9 0.8h0M41.1 64.0h0M40.8 65.5h0M114.3 57.7h0M113.9 58.0h0M115.9 57.4h0M50.8 42.2h0M49.3 43.8h0M106.7 29.1h0M106.3 29.8h0M42.6 -0.1h0M101.3 -1.1h0M102.3 -1.9h0M81.3 39.7h0M82.8 40.4h0M-1.4 35.1h0M0.4 34.3h0M111.6 78.5h0M27.0 56.2h0M5.4 19.7h0M17.5 22.0h0M19.5 20.0h0M17.6 20.4h0M9.8 72.9h0M108.4 16.4h0M108.2 15.5h0M109.4 18.3h0M15.0 11.5h0M13.7 13.3h0M96.1 12.2h0M66.8 63.6h0M67.4 64.9h0M23.0 31.8h0M24.7 31.1h0M62.2 29.9h0M60.9 30.0h0M64.4 30.6h0M59.7 4.3h0M58.6 5.6h0M58.0 3.2h0M115.3 22.2h0M116.3 21.6h0M114.4 22.2h0M32.9 65.9h0M33.2 67.8h0M31.5 65.0h0M2.7 27.5h0M10.9 3.7h0M11.7 51.5h0M10.1 50.2h0M103.5 52.9h0M94.9 23.2h0M94.3 21.8h0M92.8 24.1h0M60.4 44.1h0M60.2 43.2h0M61.1 42.0h0M45.5 37.7h0M71.1 59.1h0M70.8 58.7h0M71.6 58.0h0M53.3 11.4h0M54.3 12.5h0M54.7 10.2h0M78.0 62.4h0M79.3 61.8h0M75.5 70.9h0M76.9 69.7h0M73.6 36.3h0M74.3 38.3h0M73.3 38.1h0M54.3 57.6h0M53.5 58.7h0M52.8 58.2h0M1.2 70.9h0M2.5 69.3h0M103.6 62.6h0M102.5 64.1h0M5.5 77.6h0M5.4 78.8h0M4.5 79.6h0M96.5 5.4h0M73.0 15.6h0M72.8 17.6h0M74.7 13.8h0M92.8 81.0h0M61.0 70.7h0M59.3 70.1h0M62.0 72.6h0M85.9 6.2h0M11.2 65.2h0M10.9 63.8h0M85.1 75.8h0M84.5 74.8h0M20.8 64.4h0M22.2 62.9h0M109.8 4.9h0M109.7 4.9h0M110.8 4.8h0M70.5 75.9h0M51.5 69.1h0M35.1 30.0h0M37.1 31.5h0M36.4 27.8h0M103.4 80.1h0M104.0 80.4h0M82.7 22.9h0M-1.5 78.2h0M0.3 79.4h0M108.1 48.7h0M106.7 48.0h0M56.7 35.1h0M58.2 35.5h0M55.0 37.1h0M63.0 53.9h0M61.4 53.2h0M65.2 55.8h0M21.0 45.9h0M21.1 47.0h0M66.8 10.6h0M67.3 12.4h0M67.9 9.9h0M69.2 24.3h0M43.7 25.8h0M42.4 27.0h0M93.6 39.3h0" stroke-width="3.6"/></g></svg>
<rect x="43.00" y="305.20" width="113.50" height="78.00" fill="#050b05"/>
<svg x="43.00" y="305.20" width="113.50" height="78.00" overflow="hidden"><path d="M2 34h0M38 32h0M105 32h0M19 19h0M1 58h0M57 32h0M59 56h0M101 21h0M95 7h0M97 52h0M2 5h0M24 56h0M51 38h0M68 2h0M95 66h0M88 35h0M86 41h0M48 75h0M25 13h0M54 6h0M9 27h0M100 51h0M18 66h0M107 66h0M61 18h0M74 8h0M105 57h0M110 62h0M98 47h0M42 14h0M95 23h0M104 68h0M101 70h0M27 53h0M88 18h0M90 40h0M8 21h0M9 26h0M64 69h0M27 48h0M65 66h0M5 8h0M48 19h0M59 7h0M91 5h0M29 38h0M101 22h0M104 33h0M77 58h0M50 21h0M82 77h0M67 25h0M83 63h0M94 47h0M66 72h0M111 53h0M31 3h0M87 70h0M63 3h0M38 49h0M33 77h0M70 40h0M105 35h0M83 69h0M68 37h0M99 77h0M44 22h0M88 18h0M32 20h0M52 73h0" stroke="#3d5a3d" stroke-width="1.4" stroke-linecap="round" opacity="0.6"/><g filter="url(#cb)" fill="none" stroke="#40cc40" stroke-linecap="round" stroke-linejoin="round"><path d="M107.2 62.0L107.1 63.2L106.6 64.3L106.0 65.3M107.2 62.0L106.8 60.9L106.0 60.1L105.3 59.5L104.4 59.2L103.2 59.3L102.0 59.5L101.0 60.2L99.9 60.6M55.4 11.6L54.6 12.5L53.5 13.0L52.6 13.4L51.6 13.8M55.4 11.6L55.5 10.6L56.0 9.6L56.5 8.8L57.4 7.9L58.1 6.9L58.6 6.0M59.0 60.0L59.6 59.4L60.3 58.6L61.1 57.6L62.1 57.1L63.2 56.5M59.0 60.0L58.5 60.9L57.6 61.5L56.6 61.7M59.0 60.0L58.2 59.6L57.3 59.4L56.1 59.5L55.0 59.1M82.4 66.7L82.1 65.6L81.9 64.6L81.2 63.8L80.7 62.9M82.4 66.7L83.5 66.7L84.6 66.6L85.6 66.7L86.8 66.7M82.4 66.7L83.3 67.3L84.0 67.9L84.4 69.1L84.6 70.2L84.7 71.2M82.4 66.7L81.8 67.5L81.2 68.3L80.1 68.8L79.0 69.5L78.2 70.2L77.2 70.5L76.3 71.4M82.4 66.7L81.3 66.5L80.2 66.3L79.1 65.9L78.0 66.0L77.1 66.4L76.3 67.1M49.5 21.6L48.7 20.9L47.9 20.4L47.3 19.4L46.5 18.9M49.5 21.6L50.5 21.1L51.1 20.1M49.5 21.6L50.2 22.6L50.8 23.4L51.8 24.0L52.5 24.7L52.9 25.8M49.5 21.6L48.6 21.7L47.5 22.3M90.5 13.6L90.2 12.6L89.7 11.4L89.4 10.5L88.6 9.6L87.6 9.2L86.4 9.3M90.5 13.6L91.7 14.0L92.8 13.9L93.9 13.6L95.1 13.5M90.5 13.6L90.2 14.8L89.5 15.8L89.3 16.7M90.4 30.7L90.1 29.6L89.5 28.9L88.7 28.5M90.4 30.7L91.3 30.0L92.3 29.4L93.3 28.8L93.9 28.1M90.4 30.7L89.5 31.1L88.6 32.1L88.1 32.9M68.8 71.1L68.0 71.7L67.6 72.6L67.5 73.8L67.0 74.5M68.8 71.1L69.7 70.8L70.7 70.7L71.6 70.5L72.9 70.5M30.4 32.5L29.7 33.6L29.0 34.3L28.5 35.4L27.7 36.2L27.0 37.0L26.5 38.0M30.4 32.5L29.2 32.1L28.2 31.7L27.1 31.2L26.1 31.0M30.4 32.5L31.1 31.8L31.5 30.6L31.2 29.5L30.7 28.8L29.7 28.2L28.8 27.4L27.7 26.7L26.6 26.3L25.8 25.5M30.4 32.5L31.3 32.0L32.5 32.0L33.5 32.1L34.4 31.7L35.4 31.6M30.4 32.5L31.2 33.4L31.6 34.6L31.6 35.9L31.0 36.9L30.5 38.0L30.1 39.0L29.1 39.8L28.2 40.6L27.3 41.0L26.6 41.7M13.7 73.6L14.6 73.9L15.6 74.6L16.7 75.3L17.5 75.6L18.4 75.9L19.4 76.0L20.4 76.0L21.3 75.8M13.7 73.6L12.6 73.9L11.7 74.3L10.6 74.3M51.9 71.8L51.1 72.7L50.7 73.9L50.8 74.9L50.4 75.8M51.9 71.8L50.9 71.1L50.1 70.4L49.0 70.0L47.8 69.7M51.9 71.8L51.9 70.9L52.4 69.8M51.9 71.8L52.3 70.8L52.4 69.8M51.9 71.8L53.2 71.6L54.1 71.7L55.3 71.8L56.2 71.5M87.2 55.0L86.1 55.4L85.0 55.7L83.9 56.1L82.9 56.2L81.9 55.6L81.3 54.9M87.2 55.0L88.5 54.9L89.5 55.3L90.4 55.9L91.2 56.9L92.2 57.3L93.1 58.3M98.7 -2.7L98.4 -3.7L98.4 -4.9L98.8 -6.0M98.7 -2.7L99.0 -1.6L99.3 -0.3L99.4 0.8L99.5 1.9L99.3 3.2L99.6 4.3M41.3 54.7L41.6 53.7L41.5 52.6L41.6 51.6L41.8 50.4L41.8 49.3M41.3 54.7L41.3 55.8L41.7 56.7L42.3 57.7L43.1 58.3L43.6 59.1L44.4 60.0L44.9 60.9L45.6 61.6M95.8 39.9L96.4 39.2L97.1 38.5L98.1 38.0L99.0 37.6M95.8 39.9L96.0 41.1L96.5 42.0L97.1 42.6L97.9 43.3L99.0 43.6L99.8 44.1L100.5 44.9L101.2 45.8L101.8 46.4L102.7 47.1M95.8 39.9L94.7 40.2L93.6 40.5L92.6 40.3L91.7 40.3L90.5 39.8L89.6 39.3M95.8 39.9L95.7 39.0L95.1 37.9L94.6 36.9L94.1 36.1L93.6 35.3L92.7 34.4L92.1 33.5L91.5 32.8M32.6 44.5L33.5 45.2L34.4 46.0L34.9 47.1L34.9 48.3L34.6 49.3L34.2 50.4M32.6 44.5L32.2 45.3L32.0 46.2L31.7 47.3L31.1 48.3L30.4 48.9L29.4 49.4L28.6 50.3M32.6 44.5L32.2 43.5L32.1 42.5L31.5 41.5L30.9 40.8L30.7 39.9M78.4 8.8L79.3 8.2L80.5 7.7L81.2 6.9L82.1 6.3M78.4 8.8L78.8 10.0L78.7 10.9L78.7 11.9L79.0 13.0L79.3 13.9M78.4 8.8L77.1 8.7L75.9 8.4L74.9 8.0L73.9 7.6M78.4 8.8L78.0 7.9L77.8 7.0L78.0 6.0L78.3 4.9L79.0 3.9L79.7 3.2M78.9 43.8L78.2 43.0L77.3 42.2L76.6 41.1L76.5 40.0L76.3 38.7L75.7 37.6L75.4 36.6M78.9 43.8L79.9 43.2L80.9 42.6L81.7 41.7L82.3 40.6L82.9 39.6M78.9 43.8L77.9 44.4L77.0 44.6L76.0 45.3L75.3 45.9L74.7 47.0L74.2 47.9M83.2 -2.9L82.8 -1.8L82.3 -1.0L81.8 -0.2L81.6 0.9L81.9 2.1L82.4 3.0L83.3 3.9L84.4 4.3L85.3 4.8M83.2 -2.9L82.6 -3.7L82.0 -4.4L81.0 -5.3L80.7 -6.3M83.2 -2.9L84.1 -3.2L84.9 -3.9L85.6 -4.7L86.5 -5.0L87.6 -5.3M72.7 23.6L73.4 24.3L73.8 25.4L74.3 26.3L75.1 26.9L75.6 27.8L76.3 28.7L76.9 29.4L77.4 30.6M72.7 23.6L72.2 22.8L71.9 21.6L71.3 20.5L71.0 19.4L70.4 18.7L69.6 18.0L69.0 16.9L68.8 15.9M72.7 23.6L73.3 22.6L73.9 21.7L74.3 20.7L74.5 19.8L75.1 18.9L75.5 18.1M12.8 31.5L12.2 30.7L11.3 29.9L10.8 29.0L10.2 28.2M12.8 31.5L12.7 32.6L12.7 33.6L12.9 34.4L13.5 35.5L13.6 36.5L13.6 37.6M113.3 10.2L114.2 10.6L115.3 11.0L116.1 12.0L116.8 12.7M113.3 10.2L113.3 11.4L113.3 12.4L113.0 13.7L112.8 14.7L112.8 15.8L112.8 16.9M113.3 10.2L112.6 9.5L112.1 8.4L111.7 7.4L111.2 6.5L111.0 5.4L110.4 4.5L109.4 3.8M26.7 11.8L27.6 11.7L28.7 11.7L29.6 11.8L30.8 12.0M26.7 11.8L27.2 12.7L27.2 13.6L27.1 14.6L26.8 15.7L26.3 16.6L26.0 17.5M26.7 11.8L25.9 11.5L25.1 10.9L24.1 10.6L23.3 10.2L22.1 10.0L21.1 10.0L20.0 10.3L19.0 10.7L18.1 10.7M21.4 35.5L20.7 36.1L19.7 36.4L18.4 36.7L17.5 37.4L16.3 37.8L15.5 38.5L14.7 39.3L14.0 40.2M21.4 35.5L20.4 35.6L19.3 36.2L18.4 37.0L17.4 37.5L16.5 38.1L15.4 38.6M21.4 35.5L20.6 34.9L19.9 34.2L19.5 33.4L18.9 32.3L18.4 31.2L18.4 30.3L18.5 29.1L18.2 27.9L18.0 26.8M21.4 35.5L22.2 34.8L22.7 33.6L23.0 32.4L22.9 31.4L22.8 30.1L22.8 29.2L22.6 28.1L22.4 27.0L22.4 25.8M21.4 35.5L22.5 36.0L23.4 36.5L24.6 36.8L25.5 36.7L26.5 36.3L27.4 35.4L28.2 34.5M80.9 33.2L79.8 33.0L78.7 32.5L77.8 31.7L76.9 30.9L76.3 30.0L76.2 29.0L75.6 27.9M80.9 33.2L81.8 32.7L82.7 32.0L83.5 31.4L84.2 30.8L85.1 30.0L85.9 29.2M80.9 33.2L80.6 34.4L80.3 35.5L80.0 36.5L79.4 37.5L78.6 37.9M78.2 77.7L78.0 76.7L77.4 75.8L76.6 75.3L75.9 74.8L74.8 74.7L73.8 74.2M78.2 77.7L78.3 78.7L78.1 80.0L77.7 81.2L77.9 82.1L78.2 83.4L78.2 84.6L78.0 85.7M-2.2 37.0L-2.4 38.3L-3.1 39.2L-3.3 40.1L-4.1 41.0L-5.1 41.7L-6.2 42.0L-7.2 42.3L-8.2 42.4L-9.4 42.6M-2.2 37.0L-3.0 36.3L-3.5 35.2L-4.2 34.3L-5.0 33.5L-6.0 32.8L-7.2 32.4M-2.2 37.0L-1.1 36.9L-0.0 37.0L0.9 37.2L1.8 37.5L3.0 37.7M94.2 68.7L95.0 67.9L96.1 67.3L97.2 67.0L98.4 67.0L99.5 67.6L100.6 67.8M94.2 68.7L95.4 68.9L96.3 68.8L97.2 68.3L98.0 67.9L98.7 67.0L99.3 65.9L99.9 64.9L100.8 64.2M94.2 68.7L94.6 69.5L95.3 70.2L96.2 70.7L97.4 70.8L98.4 70.9L99.5 71.3L100.7 71.5L101.8 71.6M94.2 68.7L93.0 68.5L91.8 68.6L90.9 69.3L89.7 69.9L88.8 70.8M82.4 21.8L81.5 21.3L80.3 20.8L79.3 20.6L78.1 20.1M82.4 21.8L83.4 21.3L84.3 20.6L85.5 20.4L86.7 20.5L87.8 20.1L88.8 19.3M82.4 21.8L83.4 21.8L84.3 21.5L85.3 21.4L86.3 21.1L87.2 21.1L88.1 21.4M82.4 21.8L81.1 22.1L80.2 22.1L79.2 22.2M3.0 66.4L3.9 66.8L5.1 67.0L6.2 67.0M3.0 66.4L1.9 66.9L1.0 66.8L0.1 67.1L-0.8 67.4M38.7 2.2L37.9 3.0L37.5 4.1M38.7 2.2L38.8 1.2L38.4 0.2M37.6 75.5L37.4 76.4L37.3 77.7M37.6 75.5L38.6 75.1L39.7 75.1M56.6 36.0L57.7 36.0L58.8 35.8M56.6 36.0L56.7 37.0L56.7 37.9M56.6 36.0L55.7 35.8L54.5 35.9M53.7 -2.3L53.4 -3.4L53.0 -4.5M53.7 -2.3L54.6 -2.5L55.9 -2.7M53.7 -2.3L54.1 -1.1L54.1 -0.2M53.7 -2.3L53.5 -1.1L53.4 -0.0M53.7 -2.3L52.8 -3.1L52.3 -3.9M11.1 49.4L10.2 50.0L9.8 50.8M11.1 49.4L11.1 48.2L10.6 47.3M11.1 49.4L12.2 49.3L13.1 49.6M11.1 49.4L11.7 50.2L11.8 51.2M8.8 -0.3L9.4 0.6L9.6 1.7M8.8 -0.3L9.0 -1.2L9.5 -2.2M108.7 77.0L108.2 77.8L107.5 78.9M108.7 77.0L109.6 76.2L110.6 75.8L111.6 75.2M114.8 41.5L115.0 42.7L114.6 43.8M114.8 41.5L115.0 40.2L114.9 39.2M114.8 41.5L114.8 40.3L114.6 39.1M114.8 41.5L115.5 42.1L116.7 42.6M114.7 26.2L114.8 25.0L115.3 24.0M114.7 26.2L115.5 26.8L116.5 26.9M114.7 26.2L113.4 25.9L112.5 26.2M-2.9 16.9L-2.5 15.8L-2.4 14.8M-2.9 16.9L-3.0 18.2L-3.3 19.3M-2.9 16.9L-3.2 16.0L-3.4 15.0M65.4 46.4L65.1 47.5L65.3 48.6M65.4 46.4L64.5 45.7L63.8 44.9L62.9 44.0M65.4 46.4L65.7 45.3L66.1 44.1L66.2 43.1M65.4 8.0L64.5 7.3L63.4 6.7M65.4 8.0L65.5 7.0L65.7 6.0M65.4 8.0L66.2 8.4L67.1 9.0M65.4 8.0L65.0 8.9L64.6 9.7M106.2 50.1L105.3 50.9L104.6 51.7L104.1 52.8M106.2 50.1L105.4 49.3L104.4 48.9M106.2 50.1L106.5 48.9L106.8 47.8L106.9 46.9M106.2 50.1L107.0 51.0L107.6 51.8L108.4 52.3M23.8 53.6L24.9 53.1L26.1 52.6M23.8 53.6L22.8 54.4L21.8 54.8M23.8 53.6L23.1 52.9L22.0 52.4M34.6 20.0L33.8 20.5L32.8 21.1M34.6 20.0L33.9 19.0L33.3 18.4M34.6 20.0L35.6 19.6L36.7 19.4M70.2 -2.8L69.3 -3.6L68.5 -4.2L67.5 -4.4M70.2 -2.8L70.6 -1.8L71.0 -0.9" stroke-width="1.4"/><path d="M107.2 62.0L107.1 63.2L106.6 64.3M107.2 62.0L106.8 60.9L106.0 60.1L105.3 59.5L104.4 59.2M55.4 11.6L54.6 12.5L53.5 13.0M55.4 11.6L55.5 10.6L56.0 9.6L56.5 8.8M59.0 60.0L59.6 59.4L60.3 58.6L61.1 57.6M59.0 60.0L58.5 60.9L57.6 61.5M59.0 60.0L58.2 59.6L57.3 59.4M82.4 66.7L82.1 65.6L81.9 64.6M82.4 66.7L83.5 66.7L84.6 66.6M82.4 66.7L83.3 67.3L84.0 67.9L84.4 69.1M82.4 66.7L81.8 67.5L81.2 68.3L80.1 68.8L79.0 69.5M82.4 66.7L81.3 66.5L80.2 66.3L79.1 65.9M49.5 21.6L48.7 20.9L47.9 20.4M49.5 21.6L50.5 21.1M49.5 21.6L50.2 22.6L50.8 23.4L51.8 24.0M49.5 21.6L48.6 21.7M90.5 13.6L90.2 12.6L89.7 11.4L89.4 10.5M90.5 13.6L91.7 14.0L92.8 13.9M90.5 13.6L90.2 14.8L89.5 15.8M90.4 30.7L90.1 29.6L89.5 28.9M90.4 30.7L91.3 30.0L92.3 29.4M90.4 30.7L89.5 31.1L88.6 32.1M68.8 71.1L68.0 71.7L67.6 72.6M68.8 71.1L69.7 70.8L70.7 70.7M30.4 32.5L29.7 33.6L29.0 34.3L28.5 35.4M30.4 32.5L29.2 32.1L28.2 31.7M30.4 32.5L31.1 31.8L31.5 30.6L31.2 29.5L30.7 28.8L29.7 28.2M30.4 32.5L31.3 32.0L32.5 32.0L33.5 32.1M30.4 32.5L31.2 33.4L31.6 34.6L31.6 35.9L31.0 36.9L30.5 38.0M13.7 73.6L14.6 73.9L15.6 74.6L16.7 75.3L17.5 75.6M13.7 73.6L12.6 73.9L11.7 74.3M51.9 71.8L51.1 72.7L50.7 73.9M51.9 71.8L50.9 71.1L50.1 70.4M51.9 71.8L51.9 70.9M51.9 71.8L52.3 70.8M51.9 71.8L53.2 71.6L54.1 71.7M87.2 55.0L86.1 55.4L85.0 55.7L83.9 56.1M87.2 55.0L88.5 54.9L89.5 55.3L90.4 55.9M98.7 -2.7L98.4 -3.7L98.4 -4.9M98.7 -2.7L99.0 -1.6L99.3 -0.3L99.4 0.8M41.3 54.7L41.6 53.7L41.5 52.6L41.6 51.6M41.3 54.7L41.3 55.8L41.7 56.7L42.3 57.7L43.1 58.3M95.8 39.9L96.4 39.2L97.1 38.5M95.8 39.9L96.0 41.1L96.5 42.0L97.1 42.6L97.9 43.3L99.0 43.6M95.8 39.9L94.7 40.2L93.6 40.5L92.6 40.3M95.8 39.9L95.7 39.0L95.1 37.9L94.6 36.9L94.1 36.1M32.6 44.5L33.5 45.2L34.4 46.0L34.9 47.1M32.6 44.5L32.2 45.3L32.0 46.2L31.7 47.3L31.1 48.3M32.6 44.5L32.2 43.5L32.1 42.5L31.5 41.5M78.4 8.8L79.3 8.2L80.5 7.7M78.4 8.8L78.8 10.0L78.7 10.9L78.7 11.9M78.4 8.8L77.1 8.7L75.9 8.4M78.4 8.8L78.0 7.9L77.8 7.0L78.0 6.0M78.9 43.8L78.2 43.0L77.3 42.2L76.6 41.1L76.5 40.0M78.9 43.8L79.9 43.2L80.9 42.6L81.7 41.7M78.9 43.8L77.9 44.4L77.0 44.6L76.0 45.3M83.2 -2.9L82.8 -1.8L82.3 -1.0L81.8 -0.2L81.6 0.9L81.9 2.1M83.2 -2.9L82.6 -3.7L82.0 -4.4M83.2 -2.9L84.1 -3.2L84.9 -3.9L85.6 -4.7M72.7 23.6L73.4 24.3L73.8 25.4L74.3 26.3L75.1 26.9M72.7 23.6L72.2 22.8L71.9 21.6L71.3 20.5L71.0 19.4M72.7 23.6L73.3 22.6L73.9 21.7L74.3 20.7M12.8 31.5L12.2 30.7L11.3 29.9M12.8 31.5L12.7 32.6L12.7 33.6L12.9 34.4M113.3 10.2L114.2 10.6L115.3 11.0M113.3 10.2L113.3 11.4L113.3 12.4L113.0 13.7M113.3 10.2L112.6 9.5L112.1 8.4L111.7 7.4L111.2 6.5M26.7 11.8L27.6 11.7L28.7 11.7M26.7 11.8L27.2 12.7L27.2 13.6L27.1 14.6M26.7 11.8L25.9 11.5L25.1 10.9L24.1 10.6L23.3 10.2L22.1 10.0M21.4 35.5L20.7 36.1L19.7 36.4L18.4 36.7L17.5 37.4M21.4 35.5L20.4 35.6L19.3 36.2L18.4 37.0M21.4 35.5L20.6 34.9L19.9 34.2L19.5 33.4L18.9 32.3L18.4 31.2M21.4 35.5L22.2 34.8L22.7 33.6L23.0 32.4L22.9 31.4L22.8 30.1M21.4 35.5L22.5 36.0L23.4 36.5L24.6 36.8L25.5 36.7M80.9 33.2L79.8 33.0L78.7 32.5L77.8 31.7L76.9 30.9M80.9 33.2L81.8 32.7L82.7 32.0L83.5 31.4M80.9 33.2L80.6 34.4L80.3 35.5L80.0 36.5M78.2 77.7L78.0 76.7L77.4 75.8L76.6 75.3M78.2 77.7L78.3 78.7L78.1 80.0L77.7 81.2L77.9 82.1M-2.2 37.0L-2.4 38.3L-3.1 39.2L-3.3 40.1L-4.1 41.0L-5.1 41.7M-2.2 37.0L-3.0 36.3L-3.5 35.2L-4.2 34.3M-2.2 37.0L-1.1 36.9L-0.0 37.0L0.9 37.2M94.2 68.7L95.0 67.9L96.1 67.3L97.2 67.0M94.2 68.7L95.4 68.9L96.3 68.8L97.2 68.3L98.0 67.9M94.2 68.7L94.6 69.5L95.3 70.2L96.2 70.7L97.4 70.8M94.2 68.7L93.0 68.5L91.8 68.6L90.9 69.3M82.4 21.8L81.5 21.3L80.3 20.8M82.4 21.8L83.4 21.3L84.3 20.6L85.5 20.4M82.4 21.8L83.4 21.8L84.3 21.5L85.3 21.4M82.4 21.8L81.1 22.1L80.2 22.1M3.0 66.4L3.9 66.8L5.1 67.0M3.0 66.4L1.9 66.9L1.0 66.8M38.7 2.2L37.9 3.0M38.7 2.2L38.8 1.2M37.6 75.5L37.4 76.4M37.6 75.5L38.6 75.1M56.6 36.0L57.7 36.0M56.6 36.0L56.7 37.0M56.6 36.0L55.7 35.8M53.7 -2.3L53.4 -3.4M53.7 -2.3L54.6 -2.5M53.7 -2.3L54.1 -1.1M53.7 -2.3L53.5 -1.1M53.7 -2.3L52.8 -3.1M11.1 49.4L10.2 50.0M11.1 49.4L11.1 48.2M11.1 49.4L12.2 49.3M11.1 49.4L11.7 50.2M8.8 -0.3L9.4 0.6M8.8 -0.3L9.0 -1.2M108.7 77.0L108.2 77.8M108.7 77.0L109.6 76.2L110.6 75.8M114.8 41.5L115.0 42.7M114.8 41.5L115.0 40.2M114.8 41.5L114.8 40.3M114.8 41.5L115.5 42.1M114.7 26.2L114.8 25.0M114.7 26.2L115.5 26.8M114.7 26.2L113.4 25.9M-2.9 16.9L-2.5 15.8M-2.9 16.9L-3.0 18.2M-2.9 16.9L-3.2 16.0M65.4 46.4L65.1 47.5M65.4 46.4L64.5 45.7L63.8 44.9M65.4 46.4L65.7 45.3L66.1 44.1M65.4 8.0L64.5 7.3M65.4 8.0L65.5 7.0M65.4 8.0L66.2 8.4M65.4 8.0L65.0 8.9M106.2 50.1L105.3 50.9L104.6 51.7M106.2 50.1L105.4 49.3M106.2 50.1L106.5 48.9L106.8 47.8M106.2 50.1L107.0 51.0L107.6 51.8M23.8 53.6L24.9 53.1M23.8 53.6L22.8 54.4M23.8 53.6L23.1 52.9M34.6 20.0L33.8 20.5M34.6 20.0L33.9 19.0M34.6 20.0L35.6 19.6M70.2 -2.8L69.3 -3.6L68.5 -4.2M70.2 -2.8L70.6 -1.8" stroke-width="2.3"/><path d="M107.2 62.0h0M108.4 61.0h0M105.8 62.0h0M55.4 11.6h0M54.1 12.0h0M55.3 11.4h0M59.0 60.0h0M58.6 59.4h0M82.4 66.7h0M82.0 68.5h0M84.0 64.3h0M49.5 21.6h0M48.8 21.1h0M90.5 13.6h0M91.5 12.7h0M91.6 12.6h0M90.4 30.7h0M89.2 29.7h0M88.6 32.3h0M68.8 71.1h0M67.3 71.2h0M30.4 32.5h0M32.4 33.4h0M30.0 30.6h0M13.7 73.6h0M12.5 71.2h0M16.2 75.5h0M51.9 71.8h0M50.9 70.5h0M87.2 55.0h0M89.1 55.8h0M87.0 52.9h0M98.7 -2.7h0M98.7 -4.1h0M98.0 -2.2h0M41.3 54.7h0M39.1 53.3h0M38.8 56.7h0M95.8 39.9h0M94.9 42.4h0M98.4 39.1h0M32.6 44.5h0M33.8 44.5h0M32.4 46.7h0M78.4 8.8h0M77.9 7.9h0M78.9 43.8h0M78.9 44.9h0M81.5 42.6h0M83.2 -2.9h0M81.1 -2.0h0M84.8 -0.2h0M72.7 23.6h0M73.2 22.6h0M74.5 22.5h0M12.8 31.5h0M14.4 31.3h0M10.2 33.0h0M113.3 10.2h0M114.1 8.4h0M111.1 8.7h0M26.7 11.8h0M26.9 12.9h0M28.3 10.9h0M21.4 35.5h0M24.2 33.1h0M21.1 35.2h0M80.9 33.2h0M82.0 34.5h0M79.5 30.6h0M78.2 77.7h0M79.3 79.5h0M79.5 77.7h0M-2.2 37.0h0M-1.2 35.8h0M-0.2 38.6h0M94.2 68.7h0M92.3 66.6h0M95.1 67.2h0M82.4 21.8h0M80.8 21.5h0M80.6 21.2h0M3.0 66.4h0M2.4 66.2h0M38.7 2.2h0M37.6 75.5h0M56.6 36.0h0M53.7 -2.3h0M11.1 49.4h0M8.8 -0.3h0M108.7 77.0h0M114.8 41.5h0M114.7 26.2h0M-2.9 16.9h0M65.4 46.4h0M65.4 8.0h0M106.2 50.1h0M23.8 53.6h0M34.6 20.0h0M70.2 -2.8h0" stroke-width="3.6"/></g></svg>
<rect x="159.30" y="305.20" width="113.30" height="78.00" fill="#050b05"/>
<svg x="159.30" y="305.20" width="113.30" height="78.00" overflow="hidden"><path d="M31 61h0M88 36h0M53 74h0M94 7h0M85 39h0M53 65h0M67 58h0M67 78h0M2 46h0M47 51h0M4 30h0M94 71h0M58 53h0M101 0h0M66 76h0M30 51h0M4 28h0M84 22h0M76 67h0M16 62h0M104 57h0M7 41h0M93 23h0M107 53h0M65 17h0M102 60h0M28 38h0M5 44h0M105 9h0M38 3h0M43 56h0M72 37h0M31 52h0M64 50h0M14 47h0M67 76h0M96 40h0M60 24h0M56 28h0M62 68h0M74 5h0M44 44h0M94 45h0M55 35h0M2 40h0M108 39h0M84 33h0M33 38h0M1 32h0M46 73h0M52 58h0M91 35h0M101 16h0M75 21h0M67 56h0M47 38h0M96 39h0M45 1h0M93 67h0M91 44h0M34 7h0M37 76h0M20 29h0M33 0h0M2 63h0M28 34h0M92 62h0M7 2h0M21 72h0M62 37h0" stroke="#3d5a3d" stroke-width="1.4" stroke-linecap="round" opacity="0.6"/><g filter="url(#cb)" fill="none" stroke="#40cc40" stroke-linecap="round" stroke-linejoin="round"><path d="M16.6 23.5L16.6 22.5L16.2 21.6L15.5 20.7M16.6 23.5L17.3 24.5L17.9 25.6L18.7 26.2L19.2 27.2M16.6 23.5L15.5 23.9L14.5 24.7L13.8 25.4L12.8 25.8L11.7 25.8M13.6 11.0L14.3 11.9L14.6 12.9L15.1 14.0L15.6 14.9L16.4 15.8L17.5 16.4L18.4 17.1M13.6 11.0L12.8 11.7L11.7 12.3L10.5 12.6L9.4 13.3L8.6 13.8M13.6 11.0L13.2 9.9L13.0 9.0L12.4 7.9L12.0 6.8L11.8 5.8M36.3 42.4L37.4 42.1L38.4 41.8M36.3 42.4L35.5 42.7L34.6 43.3L33.8 43.8L33.1 44.6M33.9 14.4L34.2 13.3L34.6 12.2L35.4 11.4L36.4 11.0L37.6 10.5L38.3 9.8L39.0 9.0M33.9 14.4L35.0 14.0L36.0 13.2L36.7 12.5L37.3 11.5L38.1 10.6L38.8 9.8L39.9 9.3M33.9 14.4L33.9 15.4L33.5 16.3L33.6 17.3L33.5 18.4L33.8 19.4M33.9 14.4L32.9 14.6L31.8 14.2L30.7 14.3L29.7 13.9L28.9 13.3L28.1 12.5L27.4 11.7L27.1 10.7L26.7 9.8M3.8 69.5L2.9 68.9L2.3 68.1L1.7 67.4L1.0 66.4M3.8 69.5L4.8 68.8L5.6 68.1L6.4 67.2L7.0 66.2L7.5 65.2L8.2 64.3L8.6 63.4L9.3 62.5M3.8 69.5L4.2 70.5L4.5 71.6L4.8 72.6L5.0 73.8L5.8 74.8M3.8 69.5L2.9 70.2L2.1 71.0L1.4 71.6L0.2 71.8L-0.6 72.4L-1.4 73.0L-2.3 73.2L-3.3 73.8M87.5 -2.8L87.5 -1.7L87.3 -0.8L87.4 0.5L88.0 1.3M87.5 -2.8L86.7 -3.3L86.0 -4.4L85.1 -5.0L84.0 -5.3L83.1 -5.8M87.5 -2.8L88.2 -3.7L88.4 -4.8L88.2 -5.7L88.3 -7.0M87.5 -2.8L88.7 -2.9L89.7 -2.8L90.7 -2.5L91.6 -2.0L92.8 -1.8L93.8 -2.1M87.5 -2.8L87.4 -1.8L87.3 -0.5L87.8 0.7L88.6 1.5L89.5 2.3L89.8 3.1M96.8 34.9L96.8 36.1L96.9 37.0L96.8 38.1L96.7 39.2L97.1 40.4M96.8 34.9L96.0 34.2L95.1 34.0L94.2 33.4L93.2 32.8M96.8 34.9L97.9 34.6L98.8 34.4L99.7 34.2L100.5 33.7L101.6 33.2L102.7 32.8L103.8 32.4M96.8 34.9L97.9 35.3L98.6 36.0L99.4 36.8L100.1 37.7L100.9 38.2M48.1 51.5L47.3 52.0L46.5 52.6L45.5 53.3L44.8 54.0L43.9 54.6L42.7 55.1L41.7 55.1L40.5 55.3L39.5 55.7M48.1 51.5L47.2 50.6L46.2 50.2L45.2 49.9L44.3 49.9L43.3 50.0L42.1 49.6M48.1 51.5L49.1 51.1L50.2 51.1L51.4 51.0L52.6 51.0L53.6 50.8L54.6 51.0L55.5 51.0L56.7 51.3L57.6 51.7M48.1 51.5L49.2 51.6L50.3 51.4L51.2 50.7L52.4 50.4L53.3 50.1L54.5 50.3L55.6 50.6L56.7 50.5M48.1 51.5L48.5 52.5L48.7 53.5L48.5 54.4L47.9 55.3L47.1 55.9M9.2 56.3L9.4 57.2L9.5 58.3L9.7 59.4L9.9 60.6L9.7 61.8L9.2 62.6L8.5 63.6L8.2 64.6M9.2 56.3L8.4 56.8L7.7 57.7L6.8 58.2L6.0 59.0L5.5 60.1M9.2 56.3L8.6 55.5L7.9 54.9L6.8 54.7L5.9 54.2L4.7 53.8L3.5 53.4L2.6 52.9L2.0 52.2L1.7 50.9M9.2 56.3L9.9 55.3L10.5 54.3L10.9 53.3L11.0 52.1L10.9 51.1L11.3 50.3L12.2 49.6M60.1 61.9L59.6 63.0L59.7 64.0L59.5 64.9L59.2 66.1L59.1 67.2L58.8 68.5L58.7 69.7M60.1 61.9L59.3 61.2L58.8 60.0L58.6 59.1L58.5 57.9L58.0 56.8L57.2 56.1L56.7 55.3L55.8 54.5M60.1 61.9L61.3 62.0L62.3 62.0L63.5 61.6L64.6 61.0L65.7 60.8L66.7 60.6M69.1 62.4L69.0 63.7L68.7 64.8L68.8 65.8L69.2 67.0L69.8 68.0L70.6 68.6L71.1 69.5M69.1 62.4L67.8 62.3L66.9 61.8L65.9 61.7L64.8 62.0L63.6 61.9L62.6 62.2M69.1 62.4L70.1 62.2L71.1 61.4L71.6 60.5L71.7 59.3M16.5 51.2L15.5 50.8L14.9 50.0L14.2 49.3L13.3 48.7L12.2 48.5M16.5 51.2L17.4 51.5L18.6 51.8L19.6 52.0L20.5 52.3M15.2 35.9L15.7 34.9L16.2 33.9L16.7 33.0L17.0 32.2L16.9 30.9M15.2 35.9L16.2 35.6L17.3 35.7L18.4 35.4L19.4 34.7L20.0 33.7M15.2 35.9L15.3 37.0L15.1 38.0L14.6 39.2L14.4 40.3L14.7 41.5L15.0 42.6M15.2 35.9L14.1 35.3L13.1 34.6L12.6 33.8M74.7 70.9L74.2 71.9L73.6 72.6L73.2 73.8M74.7 70.9L73.8 70.6L73.2 69.9L72.3 69.6L71.5 69.2M74.7 70.9L75.7 70.1L76.7 69.8L77.7 69.9L78.7 69.6L79.7 69.8L80.7 69.9M74.7 70.9L75.9 71.1L77.0 71.4L78.1 72.1L79.1 72.7L80.0 73.5M108.1 35.0L107.4 34.5L106.4 34.0L105.6 33.0L105.4 32.0L104.9 30.9M108.1 35.0L109.1 35.3L110.2 35.8L111.1 36.6M108.1 35.0L107.8 36.1L107.7 37.3M108.1 35.0L107.1 35.2L106.1 35.8L105.3 36.3L104.1 36.4L103.0 36.2M74.8 6.4L73.7 5.6L72.6 5.4L71.3 5.4L70.1 5.2M74.8 6.4L74.7 5.2L74.6 4.0L74.6 3.1L75.0 2.2L75.5 1.1L76.2 0.1L76.5 -0.8M74.8 6.4L76.0 6.3L76.9 6.2L77.8 6.1L78.7 5.9L79.7 5.5M74.8 6.4L75.8 6.9L76.9 7.2L78.0 7.3L79.2 7.4L80.2 7.1M74.8 6.4L75.2 7.4L75.2 8.3L75.5 9.3L75.4 10.3M48.7 7.4L49.1 8.4L49.3 9.6L49.6 10.5L49.9 11.6M48.7 7.4L47.9 8.2L47.5 9.4L47.1 10.6M48.7 7.4L48.1 6.3L47.1 5.6L46.3 4.9M48.7 7.4L49.5 6.5L50.5 6.1L51.6 5.9L52.4 5.3M48.7 7.4L49.7 7.5L50.9 7.6L52.0 8.0L52.8 8.4L53.7 8.5L54.8 8.0M89.7 77.5L89.0 76.7L88.7 75.5L88.4 74.3L88.2 73.3L87.7 72.5L86.9 71.8L86.3 71.2L85.5 70.2M89.7 77.5L90.1 76.5L90.3 75.5L90.8 74.6L91.2 73.5L91.8 72.7M89.7 77.5L89.6 78.4L89.4 79.5L89.2 80.7L88.7 81.7L87.9 82.5L87.2 83.4L86.4 83.9L85.5 84.6M62.7 10.9L62.3 12.1L62.0 13.1L61.1 14.0L60.3 14.8M62.7 10.9L61.9 11.6L61.5 12.5M62.7 10.9L62.2 9.9L61.7 8.9M62.7 10.9L63.4 9.9L63.7 9.0L63.6 7.8M62.7 10.9L63.4 11.5L64.5 12.2L65.5 12.8M83.7 24.8L84.7 25.0L85.7 24.9L86.7 24.3M83.7 24.8L83.4 23.9L82.7 22.9L81.9 22.0L81.0 21.1L80.6 20.3L79.8 19.8L79.2 18.8M38.5 5.6L38.6 4.6L39.2 3.7L39.8 3.1L40.4 2.2L41.4 1.4L42.3 1.1L43.2 1.2M38.5 5.6L38.8 4.5L39.3 3.7L40.2 2.8L41.0 2.3L41.9 1.7L42.8 1.5M38.5 5.6L39.7 5.7L40.9 5.9L41.8 5.5L43.0 5.3L44.2 5.2L45.3 5.4L46.3 5.4M38.5 5.6L37.5 6.3L36.6 7.0L35.9 7.5L35.1 8.5L34.3 9.2M46.0 70.6L45.3 69.9L44.5 69.3L43.5 68.9L42.6 68.9L41.4 68.4M46.0 70.6L46.8 70.0L47.8 69.5L49.1 69.5M46.0 70.6L47.1 71.0L48.0 71.2L49.2 71.6L50.3 71.5L51.5 71.9M46.0 70.6L46.1 71.7L45.6 73.0L44.9 73.7L44.2 74.5L43.3 75.0L42.2 75.2M81.1 36.5L81.0 37.4L81.3 38.4L81.7 39.5L82.0 40.7L82.0 42.0L81.7 42.9L81.3 44.0L81.2 45.3M81.1 36.5L80.7 35.6L80.5 34.6L80.2 33.7L79.8 32.7L79.2 31.6L78.3 30.8M81.1 36.5L82.1 35.6L83.0 35.3L84.2 35.1L85.3 34.3L85.9 33.2M97.0 60.7L97.6 60.0L98.7 59.4L99.9 59.0L100.9 59.0L101.9 58.9M97.0 60.7L97.2 62.0L97.5 63.0L97.8 64.3L97.8 65.4M97.0 60.7L95.8 60.3L94.5 60.4L93.6 60.8M85.9 59.5L85.5 58.5L84.9 57.8L84.4 56.8L84.1 55.9L83.2 55.0M85.9 59.5L87.0 59.5L87.9 59.2L89.0 58.9L89.9 59.2L91.0 59.6L91.9 60.1L92.8 60.9M85.9 59.5L86.0 60.6L86.8 61.6L87.7 62.3L88.6 62.6M67.1 34.5L67.8 33.6L68.9 33.0L70.0 33.0L71.1 33.1L72.1 33.5L73.1 34.3M67.1 34.5L68.2 34.5L69.2 34.7L70.1 34.5L70.9 33.9L72.0 33.6M67.1 34.5L65.8 34.6L64.7 34.8L63.6 34.7M-2.6 27.3L-1.7 27.9L-0.6 28.5L0.4 28.9L1.6 29.4M-2.6 27.3L-3.2 28.2L-3.6 29.2L-3.8 30.2L-4.4 31.3L-4.7 32.5L-5.0 33.4M-2.6 27.3L-3.3 27.9L-4.0 28.7L-4.5 29.5L-4.6 30.5L-4.2 31.7M-2.6 27.3L-3.0 26.1L-3.5 25.3L-4.3 24.6L-4.9 23.5M-2.6 27.3L-2.6 26.3L-2.9 25.3L-2.6 24.1L-2.7 22.9L-2.7 21.7L-3.2 20.6L-3.2 19.5M110.4 75.6L109.3 75.5L108.2 75.2L107.2 74.7L106.2 74.7M110.4 75.6L111.3 76.0L112.3 76.7L113.4 76.8L114.7 76.8L115.6 76.7L116.6 76.8M19.6 71.8L19.6 72.7L19.3 73.9L19.0 74.8L18.6 76.0L18.7 77.0L18.7 78.0M19.6 71.8L18.8 71.4L17.6 71.0L16.7 70.7M19.6 71.8L20.7 71.2L21.8 71.0L22.8 70.7L23.9 70.9M43.4 -2.5L44.2 -2.2L45.3 -1.9L46.2 -1.8M43.4 -2.5L44.4 -2.1L45.4 -1.6L46.4 -1.0L47.4 -0.9L48.3 -0.9M43.4 -2.5L42.5 -1.7L41.6 -1.2L40.5 -1.0L39.3 -1.2L38.2 -0.9M43.4 -2.5L42.6 -3.5L41.6 -4.3L40.7 -4.7L40.0 -5.3M112.2 4.2L113.0 5.1L113.3 6.1L113.3 7.2L113.1 8.1L113.1 9.2L113.3 10.2M112.2 4.2L112.2 3.1L112.5 2.1L113.1 1.1L113.9 0.6L114.5 -0.4L115.2 -1.3L115.4 -2.4L115.3 -3.3M27.2 80.2L26.0 80.0L25.0 79.6L24.0 79.2L23.1 78.6L22.4 77.6L22.1 76.7M27.2 80.2L26.3 79.2L25.3 78.5L24.8 77.6L24.1 76.9L23.4 76.4L22.9 75.6L22.1 75.0M27.2 80.2L27.2 79.2L27.0 78.0L26.6 76.9L26.5 75.7L26.5 74.7L26.4 73.6L26.7 72.4L27.4 71.4M27.2 80.2L28.2 80.7L28.8 81.5L29.5 82.0M27.2 80.2L27.4 81.2L27.8 82.4L28.6 83.2M36.1 27.4L35.4 26.7L34.4 25.9L33.6 25.2L33.0 24.6L32.3 23.6L31.8 22.7M36.1 27.4L36.8 26.7L37.5 26.1L38.8 25.8M36.1 27.4L37.1 27.0L38.0 26.4L38.9 25.7L39.8 25.5L40.9 25.1M36.1 27.4L36.1 28.4L36.4 29.5L36.3 30.7L36.5 31.9L36.5 33.0M36.1 27.4L35.7 28.3L35.0 29.1L34.7 30.1L34.3 31.3M71.4 21.2L70.4 21.1L69.3 21.3L68.3 22.0L67.4 22.3M71.4 21.2L72.3 21.6L73.5 21.9L74.5 22.4L75.2 23.0L76.4 23.4L77.4 23.5M115.2 47.3L116.4 47.5L117.4 47.4L118.4 47.0M115.2 47.3L115.4 48.2L115.5 49.2L116.0 50.1M115.2 47.3L115.0 46.3L115.2 45.3M106.3 17.9L106.0 16.9L105.6 15.7M106.3 17.9L107.2 18.8L107.5 19.9M99.2 3.5L100.3 3.3L101.5 3.0L102.7 3.0L103.5 3.4M99.2 3.5L98.6 4.4L98.3 5.5L98.0 6.6L98.2 7.5M99.2 3.5L98.3 3.1L97.2 2.4M-1.3 4.4L-1.5 5.4L-2.1 6.3M-1.3 4.4L-2.4 4.2L-3.1 3.7M-1.3 4.4L-0.4 4.3L0.8 4.4M31.6 57.3L32.8 57.2L33.7 57.6L34.6 58.5M31.6 57.3L30.5 57.6L29.5 57.5L28.3 57.5M31.6 57.3L31.5 56.2L31.0 55.2L30.2 54.2M53.1 35.8L53.9 36.2L54.7 37.2L55.5 37.9M53.1 35.8L52.7 36.8L52.0 37.6L50.8 38.2L49.6 38.6M53.1 35.8L52.1 35.5L51.3 34.9M13.0 -2.5L12.5 -3.3L11.5 -3.8M13.0 -2.5L14.2 -2.9L15.2 -2.9L16.1 -3.2M13.0 -2.5L12.4 -1.6L11.7 -0.9M38.9 80.2L38.7 79.2L38.0 78.2M38.9 80.2L39.0 81.3L38.9 82.6M38.9 80.2L38.0 80.5L36.9 80.3L36.1 79.9M75.8 54.5L76.5 55.2L77.2 56.2M75.8 54.5L75.2 55.3L74.6 56.3M75.8 54.5L75.4 53.5L75.0 52.6M99.3 47.8L99.7 48.7L100.2 49.8M99.3 47.8L98.2 47.9L97.1 47.5M99.3 47.8L99.3 46.8L99.7 45.9L100.2 45.0L100.7 44.0M-2.3 57.7L-3.0 56.8L-3.4 55.9M-2.3 57.7L-1.1 57.4L-0.0 57.2M-2.3 57.7L-1.2 58.1L-0.1 58.7M-2.3 57.7L-3.0 58.2L-3.8 59.0M116.1 66.2L117.1 65.7L118.3 65.8L119.6 66.0M116.1 66.2L116.3 67.4L116.1 68.3M116.1 66.2L114.9 66.2L113.8 65.7M116.1 66.2L117.1 65.4L117.9 64.6L118.3 63.6M6.8 18.8L5.8 18.1L5.4 17.2M6.8 18.8L7.5 18.2L8.3 17.5M6.8 18.8L7.7 19.3L8.9 19.3M6.8 18.8L5.7 19.3L4.5 19.3M59.6 -0.2L60.4 -1.1L61.1 -1.8M59.6 -0.2L58.9 0.7L58.3 1.7L57.5 2.4" stroke-width="1.4"/><path d="M16.6 23.5L16.6 22.5L16.2 21.6M16.6 23.5L17.3 24.5L17.9 25.6M16.6 23.5L15.5 23.9L14.5 24.7L13.8 25.4M13.6 11.0L14.3 11.9L14.6 12.9L15.1 14.0L15.6 14.9M13.6 11.0L12.8 11.7L11.7 12.3L10.5 12.6M13.6 11.0L13.2 9.9L13.0 9.0L12.4 7.9M36.3 42.4L37.4 42.1M36.3 42.4L35.5 42.7L34.6 43.3M33.9 14.4L34.2 13.3L34.6 12.2L35.4 11.4L36.4 11.0M33.9 14.4L35.0 14.0L36.0 13.2L36.7 12.5L37.3 11.5M33.9 14.4L33.9 15.4L33.5 16.3L33.6 17.3M33.9 14.4L32.9 14.6L31.8 14.2L30.7 14.3L29.7 13.9L28.9 13.3M3.8 69.5L2.9 68.9L2.3 68.1M3.8 69.5L4.8 68.8L5.6 68.1L6.4 67.2L7.0 66.2M3.8 69.5L4.2 70.5L4.5 71.6L4.8 72.6M3.8 69.5L2.9 70.2L2.1 71.0L1.4 71.6L0.2 71.8M87.5 -2.8L87.5 -1.7L87.3 -0.8M87.5 -2.8L86.7 -3.3L86.0 -4.4L85.1 -5.0M87.5 -2.8L88.2 -3.7L88.4 -4.8M87.5 -2.8L88.7 -2.9L89.7 -2.8L90.7 -2.5M87.5 -2.8L87.4 -1.8L87.3 -0.5L87.8 0.7M96.8 34.9L96.8 36.1L96.9 37.0L96.8 38.1M96.8 34.9L96.0 34.2L95.1 34.0M96.8 34.9L97.9 34.6L98.8 34.4L99.7 34.2L100.5 33.7M96.8 34.9L97.9 35.3L98.6 36.0L99.4 36.8M48.1 51.5L47.3 52.0L46.5 52.6L45.5 53.3L44.8 54.0L43.9 54.6M48.1 51.5L47.2 50.6L46.2 50.2L45.2 49.9M48.1 51.5L49.1 51.1L50.2 51.1L51.4 51.0L52.6 51.0L53.6 50.8M48.1 51.5L49.2 51.6L50.3 51.4L51.2 50.7L52.4 50.4M48.1 51.5L48.5 52.5L48.7 53.5L48.5 54.4M9.2 56.3L9.4 57.2L9.5 58.3L9.7 59.4L9.9 60.6M9.2 56.3L8.4 56.8L7.7 57.7L6.8 58.2M9.2 56.3L8.6 55.5L7.9 54.9L6.8 54.7L5.9 54.2L4.7 53.8M9.2 56.3L9.9 55.3L10.5 54.3L10.9 53.3L11.0 52.1M60.1 61.9L59.6 63.0L59.7 64.0L59.5 64.9L59.2 66.1M60.1 61.9L59.3 61.2L58.8 60.0L58.6 59.1L58.5 57.9M60.1 61.9L61.3 62.0L62.3 62.0L63.5 61.6M69.1 62.4L69.0 63.7L68.7 64.8L68.8 65.8L69.2 67.0M69.1 62.4L67.8 62.3L66.9 61.8L65.9 61.7M69.1 62.4L70.1 62.2L71.1 61.4M16.5 51.2L15.5 50.8L14.9 50.0L14.2 49.3M16.5 51.2L17.4 51.5L18.6 51.8M15.2 35.9L15.7 34.9L16.2 33.9L16.7 33.0M15.2 35.9L16.2 35.6L17.3 35.7L18.4 35.4M15.2 35.9L15.3 37.0L15.1 38.0L14.6 39.2M15.2 35.9L14.1 35.3L13.1 34.6M74.7 70.9L74.2 71.9L73.6 72.6M74.7 70.9L73.8 70.6L73.2 69.9M74.7 70.9L75.7 70.1L76.7 69.8L77.7 69.9M74.7 70.9L75.9 71.1L77.0 71.4L78.1 72.1M108.1 35.0L107.4 34.5L106.4 34.0L105.6 33.0M108.1 35.0L109.1 35.3L110.2 35.8M108.1 35.0L107.8 36.1M108.1 35.0L107.1 35.2L106.1 35.8L105.3 36.3M74.8 6.4L73.7 5.6L72.6 5.4M74.8 6.4L74.7 5.2L74.6 4.0L74.6 3.1L75.0 2.2M74.8 6.4L76.0 6.3L76.9 6.2L77.8 6.1M74.8 6.4L75.8 6.9L76.9 7.2L78.0 7.3M74.8 6.4L75.2 7.4L75.2 8.3M48.7 7.4L49.1 8.4L49.3 9.6M48.7 7.4L47.9 8.2L47.5 9.4M48.7 7.4L48.1 6.3L47.1 5.6M48.7 7.4L49.5 6.5L50.5 6.1M48.7 7.4L49.7 7.5L50.9 7.6L52.0 8.0M89.7 77.5L89.0 76.7L88.7 75.5L88.4 74.3L88.2 73.3M89.7 77.5L90.1 76.5L90.3 75.5L90.8 74.6M89.7 77.5L89.6 78.4L89.4 79.5L89.2 80.7L88.7 81.7M62.7 10.9L62.3 12.1L62.0 13.1M62.7 10.9L61.9 11.6M62.7 10.9L62.2 9.9M62.7 10.9L63.4 9.9L63.7 9.0M62.7 10.9L63.4 11.5L64.5 12.2M83.7 24.8L84.7 25.0L85.7 24.9M83.7 24.8L83.4 23.9L82.7 22.9L81.9 22.0L81.0 21.1M38.5 5.6L38.6 4.6L39.2 3.7L39.8 3.1L40.4 2.2M38.5 5.6L38.8 4.5L39.3 3.7L40.2 2.8M38.5 5.6L39.7 5.7L40.9 5.9L41.8 5.5L43.0 5.3M38.5 5.6L37.5 6.3L36.6 7.0L35.9 7.5M46.0 70.6L45.3 69.9L44.5 69.3L43.5 68.9M46.0 70.6L46.8 70.0L47.8 69.5M46.0 70.6L47.1 71.0L48.0 71.2L49.2 71.6M46.0 70.6L46.1 71.7L45.6 73.0L44.9 73.7M81.1 36.5L81.0 37.4L81.3 38.4L81.7 39.5L82.0 40.7M81.1 36.5L80.7 35.6L80.5 34.6L80.2 33.7M81.1 36.5L82.1 35.6L83.0 35.3L84.2 35.1M97.0 60.7L97.6 60.0L98.7 59.4L99.9 59.0M97.0 60.7L97.2 62.0L97.5 63.0M97.0 60.7L95.8 60.3L94.5 60.4M85.9 59.5L85.5 58.5L84.9 57.8L84.4 56.8M85.9 59.5L87.0 59.5L87.9 59.2L89.0 58.9L89.9 59.2M85.9 59.5L86.0 60.6L86.8 61.6M67.1 34.5L67.8 33.6L68.9 33.0L70.0 33.0M67.1 34.5L68.2 34.5L69.2 34.7L70.1 34.5M67.1 34.5L65.8 34.6L64.7 34.8M-2.6 27.3L-1.7 27.9L-0.6 28.5M-2.6 27.3L-3.2 28.2L-3.6 29.2L-3.8 30.2M-2.6 27.3L-3.3 27.9L-4.0 28.7L-4.5 29.5M-2.6 27.3L-3.0 26.1L-3.5 25.3M-2.6 27.3L-2.6 26.3L-2.9 25.3L-2.6 24.1L-2.7 22.9M110.4 75.6L109.3 75.5L108.2 75.2M110.4 75.6L111.3 76.0L112.3 76.7L113.4 76.8M19.6 71.8L19.6 72.7L19.3 73.9L19.0 74.8M19.6 71.8L18.8 71.4L17.6 71.0M19.6 71.8L20.7 71.2L21.8 71.0M43.4 -2.5L44.2 -2.2L45.3 -1.9M43.4 -2.5L44.4 -2.1L45.4 -1.6L46.4 -1.0M43.4 -2.5L42.5 -1.7L41.6 -1.2L40.5 -1.0M43.4 -2.5L42.6 -3.5L41.6 -4.3M112.2 4.2L113.0 5.1L113.3 6.1L113.3 7.2M112.2 4.2L112.2 3.1L112.5 2.1L113.1 1.1L113.9 0.6M27.2 80.2L26.0 80.0L25.0 79.6L24.0 79.2M27.2 80.2L26.3 79.2L25.3 78.5L24.8 77.6L24.1 76.9M27.2 80.2L27.2 79.2L27.0 78.0L26.6 76.9L26.5 75.7M27.2 80.2L28.2 80.7L28.8 81.5M27.2 80.2L27.4 81.2L27.8 82.4M36.1 27.4L35.4 26.7L34.4 25.9L33.6 25.2M36.1 27.4L36.8 26.7L37.5 26.1M36.1 27.4L37.1 27.0L38.0 26.4L38.9 25.7M36.1 27.4L36.1 28.4L36.4 29.5L36.3 30.7M36.1 27.4L35.7 28.3L35.0 29.1M71.4 21.2L70.4 21.1L69.3 21.3M71.4 21.2L72.3 21.6L73.5 21.9L74.5 22.4M115.2 47.3L116.4 47.5L117.4 47.4M115.2 47.3L115.4 48.2L115.5 49.2M115.2 47.3L115.0 46.3M106.3 17.9L106.0 16.9M106.3 17.9L107.2 18.8M99.2 3.5L100.3 3.3L101.5 3.0M99.2 3.5L98.6 4.4L98.3 5.5M99.2 3.5L98.3 3.1M-1.3 4.4L-1.5 5.4M-1.3 4.4L-2.4 4.2M-1.3 4.4L-0.4 4.3M31.6 57.3L32.8 57.2L33.7 57.6M31.6 57.3L30.5 57.6L29.5 57.5M31.6 57.3L31.5 56.2L31.0 55.2M53.1 35.8L53.9 36.2L54.7 37.2M53.1 35.8L52.7 36.8L52.0 37.6M53.1 35.8L52.1 35.5M13.0 -2.5L12.5 -3.3M13.0 -2.5L14.2 -2.9L15.2 -2.9M13.0 -2.5L12.4 -1.6M38.9 80.2L38.7 79.2M38.9 80.2L39.0 81.3M38.9 80.2L38.0 80.5L36.9 80.3M75.8 54.5L76.5 55.2M75.8 54.5L75.2 55.3M75.8 54.5L75.4 53.5M99.3 47.8L99.7 48.7M99.3 47.8L98.2 47.9M99.3 47.8L99.3 46.8L99.7 45.9M-2.3 57.7L-3.0 56.8M-2.3 57.7L-1.1 57.4M-2.3 57.7L-1.2 58.1M-2.3 57.7L-3.0 58.2M116.1 66.2L117.1 65.7L118.3 65.8M116.1 66.2L116.3 67.4M116.1 66.2L114.9 66.2M116.1 66.2L117.1 65.4L117.9 64.6M6.8 18.8L5.8 18.1M6.8 18.8L7.5 18.2M6.8 18.8L7.7 19.3M6.8 18.8L5.7 19.3M59.6 -0.2L60.4 -1.1M59.6 -0.2L58.9 0.7L58.3 1.7" stroke-width="2.3"/><path d="M16.6 23.5h0M18.2 25.0h0M13.6 11.0h0M16.0 11.0h0M15.9 13.3h0M36.3 42.4h0M34.8 41.4h0M33.9 14.4h0M35.1 12.7h0M31.7 15.1h0M3.8 69.5h0M3.3 70.7h0M3.5 70.0h0M87.5 -2.8h0M86.4 -4.1h0M86.1 -4.8h0M96.8 34.9h0M95.2 34.4h0M94.6 36.6h0M48.1 51.5h0M45.9 51.2h0M46.5 51.5h0M9.2 56.3h0M10.7 56.3h0M7.4 54.3h0M60.1 61.9h0M57.7 63.2h0M57.7 59.8h0M69.1 62.4h0M67.8 61.7h0M69.9 62.8h0M16.5 51.2h0M17.1 49.9h0M17.7 52.4h0M15.2 35.9h0M15.2 34.5h0M14.7 34.4h0M74.7 70.9h0M74.2 71.1h0M108.1 35.0h0M107.4 34.7h0M74.8 6.4h0M74.2 4.8h0M74.9 5.9h0M48.7 7.4h0M48.5 8.3h0M47.7 9.0h0M89.7 77.5h0M87.6 78.1h0M91.2 78.0h0M62.7 10.9h0M63.4 11.1h0M83.7 24.8h0M85.4 23.9h0M85.7 24.1h0M38.5 5.6h0M37.9 6.9h0M36.5 6.1h0M46.0 70.6h0M46.6 69.9h0M81.1 36.5h0M80.3 38.5h0M78.8 38.5h0M97.0 60.7h0M98.6 60.0h0M85.9 59.5h0M85.4 58.4h0M83.6 58.6h0M67.1 34.5h0M66.7 36.5h0M67.5 33.1h0M-2.6 27.3h0M-4.4 28.9h0M-4.6 26.6h0M110.4 75.6h0M110.8 74.4h0M108.8 77.1h0M19.6 71.8h0M17.5 70.2h0M20.0 72.4h0M43.4 -2.5h0M43.1 -0.6h0M112.2 4.2h0M110.7 1.5h0M114.7 5.3h0M27.2 80.2h0M26.0 81.7h0M29.5 80.8h0M36.1 27.4h0M36.0 27.9h0M71.4 21.2h0M72.1 23.3h0M73.2 21.9h0M115.2 47.3h0M106.3 17.9h0M99.2 3.5h0M-1.3 4.4h0M31.6 57.3h0M53.1 35.8h0M13.0 -2.5h0M38.9 80.2h0M75.8 54.5h0M99.3 47.8h0M-2.3 57.7h0M116.1 66.2h0M6.8 18.8h0M59.6 -0.2h0" stroke-width="3.6"/></g></svg>
<rect x="275.40" y="305.20" width="113.60" height="78.00" fill="#050b05"/>
<svg x="275.40" y="305.20" width="113.60" height="78.00" overflow="hidden"><path d="M88 5h0M36 24h0M91 69h0M112 43h0M7 14h0M74 77h0M76 63h0M47 47h0M4 71h0M82 2h0M86 31h0M73 15h0M82 75h0M62 55h0M105 60h0M95 16h0M17 78h0M1 13h0M90 76h0M111 63h0M5 61h0M5 10h0M63 35h0M20 69h0M100 31h0M7 6h0M39 59h0M52 36h0M87 20h0M89 60h0M10 50h0M104 62h0M88 75h0M101 73h0M15 1h0M96 53h0M37 43h0M73 7h0M8 60h0M20 13h0M5 66h0M36 8h0M24 19h0M48 19h0M52 35h0M68 47h0M29 61h0M41 66h0M103 57h0M99 24h0M97 20h0M79 63h0M23 51h0M77 65h0M55 52h0M101 69h0M37 35h0M27 37h0M38 33h0M103 37h0M29 37h0M31 25h0M111 9h0M76 25h0M104 35h0M96 4h0M11 76h0M49 53h0M50 67h0M83 35h0" stroke="#3d5a3d" stroke-width="1.4" stroke-linecap="round" opacity="0.6"/><g filter="url(#cb)" fill="none" stroke="#40cc40" stroke-linecap="round" stroke-linejoin="round"><path d="M23.7 17.4L23.6 19.0L22.9 20.9L21.9 23.4L22.7 24.8L22.1 27.0L23.1 29.5M22.4 20.3L23.2 19.4L24.0 18.9L24.6 17.9L24.9 17.0M22.4 20.3L23.0 21.4L23.8 22.1L25.0 22.4M22.4 20.3L21.3 20.2L20.1 20.4M22.4 28.8L24.2 31.8L25.9 33.1L26.5 34.3L28.3 35.5L30.5 38.0L32.2 38.9L32.8 40.9L35.2 41.2M28.7 35.9L29.3 36.7L30.0 37.4L30.9 37.7M28.7 35.9L27.6 35.4L26.7 35.0L25.8 34.5L24.7 34.3L23.9 34.1M28.7 35.9L29.0 34.8L28.8 33.9M20.4 63.9L22.2 63.4L23.5 64.6L25.8 65.2L28.1 65.1L30.0 65.2L31.8 66.0L34.2 66.1L35.4 65.7L37.8 66.6L40.3 65.8L42.2 65.7L43.5 65.6M26.0 65.2L25.9 66.3L26.1 67.5M26.0 65.2L25.3 64.3L24.6 63.3L23.9 62.5M26.0 65.2L26.7 64.7L27.2 63.6M52.3 8.1L53.5 5.8L55.9 5.9L58.3 5.2L60.7 4.2L61.9 5.0M59.5 4.7L60.4 4.0L60.9 3.2L61.0 2.0L61.2 0.8M59.5 4.7L58.8 5.4L58.0 6.0L56.9 6.6M59.5 4.7L58.8 4.0L57.8 3.2L57.2 2.3M35.3 41.2L35.0 44.1L36.9 46.0L36.7 47.0L37.1 49.9L38.3 51.1L39.6 53.4L39.1 56.0L40.0 57.1L40.8 59.6L43.0 62.0L42.8 63.6L43.4 65.0M39.1 53.6L40.0 53.8L41.3 53.6M39.1 53.6L38.2 54.1L37.5 54.8M39.1 53.6L39.5 52.4L39.4 51.2L39.7 50.3M41.4 59.4L42.3 60.2L43.4 60.7M41.4 59.4L40.4 59.4L39.3 59.0L38.5 58.6L37.8 57.8M41.4 59.4L42.4 59.0L43.3 58.2M43.4 64.7L45.7 64.6L47.6 65.3L49.8 64.6L51.7 65.2L54.6 65.2L56.6 64.8L58.2 65.5L59.4 66.5L62.0 68.1M48.7 64.4L49.8 64.1L50.8 63.7L51.8 63.1M48.7 64.4L49.4 65.0L49.8 66.0L50.6 66.7L51.5 67.4M48.7 64.4L48.8 65.5L48.7 66.4M48.7 64.4L47.8 63.9L46.9 63.2L46.1 62.3L45.7 61.5M48.7 64.4L48.7 63.4L48.7 62.4L48.6 61.5L48.8 60.3M62.1 42.0L63.0 44.6L65.0 46.6L64.5 48.7L66.2 51.5L66.7 52.5L66.5 54.4L66.4 56.8L65.0 58.9L65.3 62.0L64.0 63.4L63.0 66.0L62.4 67.9M92.2 18.4L93.2 20.2L93.9 23.2L95.5 25.4L95.9 26.6L95.5 28.9L96.1 30.6L95.2 33.2L95.6 36.1L95.9 37.6L95.5 40.6M96.0 34.5L95.5 35.5L95.5 36.5L95.5 37.6M96.0 34.5L95.1 34.2L94.3 33.4L93.3 32.7M96.0 34.5L96.9 33.8L98.1 33.5M96.0 34.5L97.1 34.1L97.9 33.6L98.7 32.8M23.8 17.3L23.2 16.6L22.5 15.5L22.5 14.3L23.0 13.2L23.5 12.2L23.5 10.9L23.1 10.1L22.4 9.2L21.6 8.4L20.5 7.9M23.8 17.3L24.3 16.3L25.0 15.5L25.6 14.4L25.8 13.3L26.0 12.3L26.4 11.2L26.7 10.3M23.8 17.3L24.3 18.2L24.4 19.5L25.1 20.5L25.9 21.5L26.7 22.0L27.7 22.6M20.6 20.0L21.5 20.5L22.2 21.3L22.7 22.3L23.5 23.0L24.6 23.6L25.5 23.9L26.6 24.0M20.6 20.0L20.9 21.0L21.4 22.1L21.2 23.4L21.2 24.3L21.5 25.5L21.2 26.6L21.4 27.8M20.6 20.0L20.1 20.9L19.2 21.6L18.8 22.7L18.7 23.7L18.5 24.9L18.5 26.0M20.6 20.0L19.5 19.4L18.4 19.0L17.2 18.8L16.0 18.9L14.8 18.9L13.6 18.9L12.7 19.0M20.6 20.0L21.2 19.2L22.1 18.3L22.9 17.8L23.5 17.0L24.4 16.3L25.1 15.6L25.9 14.7M23.1 29.5L22.3 30.5L21.6 31.2L20.4 31.8L19.4 32.6M23.1 29.5L23.8 28.4L24.5 27.5L25.5 26.9L26.6 26.6L27.6 25.9L28.6 25.2M20.1 63.3L19.2 62.6L18.3 61.8L17.8 60.9L17.1 60.0L16.2 59.5L15.2 59.0L14.1 59.0L12.9 59.4L12.1 60.1M20.1 63.3L20.7 62.2L21.3 61.5L22.1 60.9L22.9 60.3L23.7 59.2M20.1 63.3L20.0 64.4L19.8 65.3L19.4 66.5L19.3 67.6M20.1 63.3L19.2 64.0L18.3 64.8L17.5 65.5L16.5 65.7L15.4 66.1M19.2 62.8L18.3 62.5L17.4 61.9L16.7 61.0M19.2 62.8L19.6 64.1L20.1 65.1M52.4 7.8L51.2 7.4L50.5 6.8L49.9 6.1L49.6 5.2L49.8 4.1L50.2 3.2L51.2 2.5M52.4 7.8L53.2 7.2L53.6 6.1L54.1 4.9L54.9 3.9M52.4 7.8L52.3 9.0L51.6 10.1L51.3 11.3L51.4 12.4L51.0 13.7L50.7 14.9L50.2 15.7L50.0 16.9M51.4 9.8L51.7 10.7L51.6 12.0L51.1 13.0L50.6 13.7L50.3 14.9M51.4 9.8L51.1 8.7L50.9 7.5L50.4 6.6L49.7 5.6M35.0 41.7L34.3 42.4L34.0 43.2L33.5 44.2L33.4 45.2M35.0 41.7L34.1 40.9L33.5 39.8L32.5 39.2L31.9 38.4L30.8 37.9M35.0 41.7L36.0 41.2L36.8 40.3L37.6 39.3M33.9 41.9L33.5 41.0L32.6 40.3L31.6 39.7L30.8 39.1M33.9 41.9L34.7 42.4L35.5 43.0M33.9 41.9L34.1 43.0L34.7 43.9M33.9 41.9L32.8 41.3L32.0 40.4M44.1 65.2L44.7 66.0L45.5 66.9L46.4 67.8L47.3 68.3L47.9 69.0L48.9 69.4L50.0 69.4M44.1 65.2L43.5 65.9L42.5 66.7L42.0 67.4L41.3 68.2L40.5 68.9L39.7 69.7L38.8 70.6L37.7 71.1L37.0 71.8M44.1 65.2L43.3 64.4L42.8 63.5L42.7 62.6L43.0 61.4L43.6 60.3L44.0 59.1M44.1 65.2L45.0 64.6L46.2 64.4L47.0 64.0L48.2 64.0M43.6 69.0L43.3 67.9L42.7 67.0L41.9 66.5L41.2 65.4L40.7 64.3L40.7 63.0M43.6 69.0L44.5 68.9L45.7 68.9L46.8 68.4M43.6 69.0L43.8 70.1L44.0 71.3L44.7 72.2L45.3 73.3L46.0 74.3L47.0 74.9M62.3 5.1L61.8 4.3L61.4 3.3L60.8 2.2L60.4 1.0L59.7 0.2L59.1 -0.7L58.3 -1.4L57.8 -2.2L57.5 -3.2M62.3 5.1L63.1 4.5L63.9 3.8L64.7 3.1L65.3 2.1L65.4 1.1L65.3 -0.1L65.2 -1.2L64.9 -2.1L64.9 -3.2M62.3 5.1L63.3 5.4L64.2 5.4L65.4 5.4L66.5 5.6L67.5 6.0L68.6 6.6M62.3 5.1L61.5 6.1L60.6 6.8L59.9 7.7L59.6 8.8M62.3 5.1L61.3 5.8L60.7 6.9L60.6 7.8L61.0 8.9M62.6 42.2L62.7 43.5L63.1 44.6L63.0 45.7L62.6 46.8L62.1 48.0L62.1 49.3L61.9 50.3M62.6 42.2L61.7 42.8L61.0 43.5L60.6 44.5L59.7 45.3L58.8 46.0L57.9 46.7L57.4 47.7M62.6 42.2L63.5 41.4L64.4 40.7L65.5 40.3L66.6 40.3L67.7 40.7L68.7 40.9L69.6 41.1M62.6 42.2L63.4 43.1L64.1 44.2L64.7 44.9L65.5 45.6L66.4 46.4M62.3 41.0L61.3 41.5L60.1 41.5L59.1 41.4L58.1 41.1L57.3 40.6L56.5 40.3M62.3 41.0L62.7 40.1L63.3 39.2L64.0 38.5L64.7 37.9M62.3 41.0L63.5 41.5L64.4 41.5L65.3 41.4L66.2 40.9M61.9 67.7L62.2 68.6L62.4 69.9L62.2 71.1L62.2 72.2L62.4 73.3L62.2 74.3L61.7 75.2L60.7 76.0M61.9 67.7L61.6 68.9L61.3 70.1L61.2 71.2L61.7 72.1M61.9 67.7L61.9 66.7L61.9 65.7L61.9 64.6L62.1 63.4L62.0 62.5M61.9 67.7L62.0 66.5L62.4 65.4L62.2 64.3L62.1 63.2L61.7 62.3L61.3 61.2M61.9 67.7L63.0 68.3L63.7 69.2L64.6 70.1L65.5 70.4L66.5 71.2L67.6 71.9L68.6 72.1M64.5 71.6L64.3 70.7L63.9 69.8L63.4 68.8L62.4 68.0L61.5 67.7M64.5 71.6L63.7 72.5L62.8 72.8L61.7 72.7L60.8 72.6M92.9 18.7L91.8 18.2L90.9 18.1L89.7 18.1L88.6 18.5L87.5 18.5L86.5 18.2L85.5 17.5L85.0 16.5L84.6 15.6M92.9 18.7L94.0 18.5L95.2 18.7L96.2 18.9L97.1 18.5L98.1 18.6L98.9 18.2M92.9 18.7L92.7 19.7L92.2 20.8L91.6 21.9L91.0 23.0M92.6 21.1L93.2 20.0L93.5 18.8L94.3 17.9L95.2 17.4L96.4 17.3L97.6 17.6L98.5 18.3L99.0 19.2M92.6 21.1L93.0 22.0L93.3 23.0L93.9 23.8M92.6 21.1L91.7 21.5L90.6 22.1L89.6 22.3L88.8 22.9L87.8 23.1L86.8 23.1L85.8 23.4M92.6 21.1L92.2 19.9L91.6 18.8L91.3 17.6L91.6 16.5L92.3 15.4L93.1 14.8L93.9 14.3M92.6 21.1L92.7 19.8L92.6 18.9L92.6 17.6L92.6 16.6L92.3 15.4L91.8 14.6L91.3 13.7L91.2 12.8M95.2 40.0L96.2 40.2L97.2 40.4L98.1 40.7L99.0 41.5L99.7 42.0L100.5 42.6L101.4 43.2M95.2 40.0L94.2 40.1L93.2 39.9L92.2 40.0L91.2 40.6L90.5 41.1L89.6 41.3L88.5 41.6M95.2 40.0L95.1 39.0L94.7 37.8L94.1 36.8L93.5 35.8L93.1 34.9L92.6 33.7M96.3 39.4L95.1 39.6L94.2 39.7L93.2 39.6L92.3 39.3M96.3 39.4L97.6 39.5L98.5 39.2L99.4 38.4L100.4 38.1L101.6 37.8M94.6 70.3L95.6 70.2L96.7 70.4L97.9 70.7L99.2 70.8L100.4 71.2M94.6 70.3L94.9 71.2L95.4 72.0L96.2 72.6L97.1 73.5L97.6 74.4L97.8 75.6L97.8 76.6L98.1 77.5L98.2 78.5L98.5 79.6L98.4 80.8L98.3 81.9M94.6 70.3L94.1 71.1L93.9 72.2L94.0 73.1L94.0 74.1L94.4 75.0M94.6 70.3L93.7 69.8L92.7 69.2L91.6 68.8L90.7 68.6L89.8 67.9L88.9 67.5L87.8 67.2L86.7 66.7L85.7 65.9L85.2 65.2M47.8 -1.5L47.2 -2.4L46.6 -3.6L46.5 -4.6M47.8 -1.5L48.5 -2.1L49.2 -2.7L49.6 -3.9M47.8 -1.5L47.4 -0.6L46.9 0.5L46.1 1.2M55.9 46.9L56.8 47.7L57.4 48.6L57.7 49.8L58.4 50.8L59.2 51.8L59.9 52.7M55.9 46.9L55.0 47.1L54.2 47.6L53.0 47.9L51.8 48.3L50.9 48.8L50.1 49.7M68.0 59.4L66.8 59.4L65.9 59.4M68.0 59.4L66.9 59.7L65.7 59.8M68.0 59.4L69.0 58.9L70.2 58.5M68.0 59.4L69.0 59.6L70.1 59.5L71.1 59.2L72.1 58.9M68.0 59.4L67.6 60.4L67.1 61.6L66.6 62.6M25.8 48.8L26.8 48.9L27.8 48.5L28.8 48.1L29.6 47.6M25.8 48.8L24.6 48.9L23.6 48.7L22.6 48.5L21.6 48.3L20.7 47.5L19.5 47.1L18.5 46.7M75.8 -1.7L76.8 -2.4L77.5 -3.0L78.4 -3.2L79.2 -3.6L80.2 -4.2L81.0 -4.8L82.1 -5.3M75.8 -1.7L76.0 -0.6L76.0 0.7L76.0 1.7L76.2 3.0L76.3 3.9L76.3 5.1M75.8 -1.7L74.7 -1.2L74.1 -0.4L73.7 0.6L72.9 1.4L71.9 2.0M75.8 -1.7L75.2 -2.4L74.6 -3.2L74.4 -4.2M75.8 -1.7L75.6 -2.6L75.6 -3.7L75.6 -4.9L76.0 -6.0L76.7 -6.8M2.0 72.7L1.3 72.0L0.6 71.3L0.0 70.3M2.0 72.7L3.0 71.9L3.9 71.3L4.9 70.8L6.1 70.7L7.2 70.7L8.3 70.6M2.0 72.7L2.8 73.6L3.5 74.3L3.9 75.2L4.3 76.3L4.6 77.3M2.0 72.7L1.8 73.8L2.1 74.7L2.6 75.9L3.2 76.7M2.0 72.7L1.0 72.3L-0.3 72.4L-1.3 72.3M99.6 73.7L100.3 74.5L101.0 75.5L101.6 76.2L102.1 76.9L102.8 77.6L103.5 78.7M99.6 73.7L98.5 74.1L97.3 73.9L96.4 73.8L95.3 73.6L94.5 72.9L93.6 72.5M99.6 73.7L98.9 72.9L98.3 72.2L97.6 71.5L96.7 70.6L96.1 69.8L95.4 69.0M46.9 63.8L45.8 64.3L45.2 65.1L44.9 66.0L44.7 67.1L44.4 68.1M46.9 63.8L47.4 62.9L48.2 61.9L48.7 60.7L48.6 59.8M60.4 19.5L60.3 18.6L60.5 17.6L60.7 16.4L61.3 15.3M60.4 19.5L61.0 20.2L62.0 20.6L62.8 21.3M7.0 -2.2L7.5 -1.2L8.0 -0.5L9.0 0.3L10.1 1.0L10.9 1.8L11.8 2.7L12.5 3.7L13.3 4.3M7.0 -2.2L6.1 -1.9L5.2 -1.6L4.5 -1.0L3.8 -0.0L3.7 1.0L3.8 2.2L3.8 3.3M7.0 -2.2L7.6 -3.2L8.2 -4.0L8.6 -5.0L9.1 -5.8L10.0 -6.3M65.2 31.9L65.9 30.9L66.5 30.0L67.2 29.2M65.2 31.9L66.1 32.8L67.1 33.4M65.2 31.9L64.4 32.7L63.4 33.1L62.5 33.4L61.3 33.8M65.2 31.9L65.1 30.6L65.0 29.4L65.3 28.5M80.3 43.2L80.8 42.4L81.8 41.8L82.5 40.9L83.4 40.5M80.3 43.2L81.0 43.9L81.3 44.8L82.0 45.7L82.4 46.9M80.3 43.2L79.2 43.8L78.2 44.3M33.6 37.2L33.8 38.3L33.6 39.4L32.9 40.4L31.9 40.9L30.7 41.2M33.6 37.2L32.5 37.4L31.3 37.6L30.5 38.3M33.6 37.2L33.3 36.0L32.5 35.2L31.9 34.5M33.6 37.2L34.4 36.5L35.3 36.1L36.2 35.3L37.5 34.9M33.6 37.2L34.3 37.8L35.3 38.2L36.0 38.8M1.8 35.3L2.0 36.5L2.0 37.6L2.3 38.8M1.8 35.3L0.5 35.5L-0.5 36.1L-1.5 36.8L-2.7 37.4L-3.8 37.5L-4.8 37.9L-5.9 37.7M1.8 35.3L2.3 34.2L3.0 33.3L3.8 32.7L5.0 32.5L6.2 32.2L7.2 32.2L8.2 32.0M1.8 35.3L2.8 35.8L3.6 36.3L4.4 37.2L5.2 37.7L6.3 37.8M78.9 25.7L77.8 26.1L77.0 27.0M78.9 25.7L78.5 24.5L78.0 23.7L77.1 22.8L76.2 22.4M78.9 25.7L80.1 25.8L81.1 26.0L82.2 25.9M16.3 21.9L17.0 21.3L18.0 20.9L19.0 20.5L20.2 20.4L21.2 20.5M16.3 21.9L16.0 23.1L16.1 24.2L16.0 25.4L15.8 26.4M16.3 21.9L16.0 23.1L16.0 24.2L16.4 25.1L16.3 26.0L16.5 27.1L16.9 28.1M16.3 21.9L15.3 21.4L14.3 21.4L13.3 21.1L12.2 21.0M16.3 21.9L17.1 21.0L17.5 20.0L17.6 19.0L17.4 18.0" stroke-width="1.4"/><path d="M22.9 20.9L21.9 23.4L22.7 24.8L22.1 27.0M22.4 20.3L23.2 19.4L24.0 18.9M22.4 20.3L23.0 21.4L23.8 22.1M22.4 20.3L21.3 20.2M25.9 33.1L26.5 34.3L28.3 35.5L30.5 38.0M28.7 35.9L29.3 36.7L30.0 37.4M28.7 35.9L27.6 35.4L26.7 35.0L25.8 34.5M28.7 35.9L29.0 34.8M22.2 63.4L23.5 64.6L25.8 65.2L28.1 65.1M26.0 65.2L25.9 66.3M26.0 65.2L25.3 64.3L24.6 63.3M26.0 65.2L26.7 64.7M53.5 5.8L55.9 5.9L58.3 5.2L60.7 4.2M59.5 4.7L60.4 4.0L60.9 3.2M59.5 4.7L58.8 5.4L58.0 6.0M59.5 4.7L58.8 4.0L57.8 3.2M36.9 46.0L36.7 47.0L37.1 49.9L38.3 51.1M39.1 53.6L40.0 53.8M39.1 53.6L38.2 54.1M39.1 53.6L39.5 52.4L39.4 51.2M41.4 59.4L42.3 60.2M41.4 59.4L40.4 59.4L39.3 59.0M41.4 59.4L42.4 59.0M54.6 65.2L56.6 64.8L58.2 65.5L59.4 66.5M48.7 64.4L49.8 64.1L50.8 63.7M48.7 64.4L49.4 65.0L49.8 66.0M48.7 64.4L48.8 65.5M48.7 64.4L47.8 63.9L46.9 63.2M48.7 64.4L48.7 63.4L48.7 62.4M65.0 46.6L64.5 48.7L66.2 51.5L66.7 52.5M96.1 30.6L95.2 33.2L95.6 36.1L95.9 37.6M96.0 34.5L95.5 35.5L95.5 36.5M96.0 34.5L95.1 34.2L94.3 33.4M96.0 34.5L96.9 33.8M96.0 34.5L97.1 34.1L97.9 33.6M23.8 17.3L23.2 16.6L22.5 15.5L22.5 14.3L23.0 13.2L23.5 12.2M23.8 17.3L24.3 16.3L25.0 15.5L25.6 14.4L25.8 13.3M23.8 17.3L24.3 18.2L24.4 19.5L25.1 20.5M20.6 20.0L21.5 20.5L22.2 21.3L22.7 22.3L23.5 23.0M20.6 20.0L20.9 21.0L21.4 22.1L21.2 23.4L21.2 24.3M20.6 20.0L20.1 20.9L19.2 21.6L18.8 22.7M20.6 20.0L19.5 19.4L18.4 19.0L17.2 18.8L16.0 18.9M20.6 20.0L21.2 19.2L22.1 18.3L22.9 17.8L23.5 17.0M23.1 29.5L22.3 30.5L21.6 31.2M23.1 29.5L23.8 28.4L24.5 27.5L25.5 26.9M20.1 63.3L19.2 62.6L18.3 61.8L17.8 60.9L17.1 60.0L16.2 59.5M20.1 63.3L20.7 62.2L21.3 61.5L22.1 60.9M20.1 63.3L20.0 64.4L19.8 65.3M20.1 63.3L19.2 64.0L18.3 64.8L17.5 65.5M19.2 62.8L18.3 62.5L17.4 61.9M19.2 62.8L19.6 64.1M52.4 7.8L51.2 7.4L50.5 6.8L49.9 6.1L49.6 5.2M52.4 7.8L53.2 7.2L53.6 6.1M52.4 7.8L52.3 9.0L51.6 10.1L51.3 11.3L51.4 12.4M51.4 9.8L51.7 10.7L51.6 12.0L51.1 13.0M51.4 9.8L51.1 8.7L50.9 7.5M35.0 41.7L34.3 42.4L34.0 43.2M35.0 41.7L34.1 40.9L33.5 39.8L32.5 39.2M35.0 41.7L36.0 41.2L36.8 40.3M33.9 41.9L33.5 41.0L32.6 40.3M33.9 41.9L34.7 42.4M33.9 41.9L34.1 43.0M33.9 41.9L32.8 41.3M44.1 65.2L44.7 66.0L45.5 66.9L46.4 67.8L47.3 68.3M44.1 65.2L43.5 65.9L42.5 66.7L42.0 67.4L41.3 68.2L40.5 68.9M44.1 65.2L43.3 64.4L42.8 63.5L42.7 62.6M44.1 65.2L45.0 64.6L46.2 64.4M43.6 69.0L43.3 67.9L42.7 67.0L41.9 66.5M43.6 69.0L44.5 68.9L45.7 68.9M43.6 69.0L43.8 70.1L44.0 71.3L44.7 72.2M62.3 5.1L61.8 4.3L61.4 3.3L60.8 2.2L60.4 1.0L59.7 0.2M62.3 5.1L63.1 4.5L63.9 3.8L64.7 3.1L65.3 2.1L65.4 1.1M62.3 5.1L63.3 5.4L64.2 5.4L65.4 5.4M62.3 5.1L61.5 6.1L60.6 6.8M62.3 5.1L61.3 5.8L60.7 6.9M62.6 42.2L62.7 43.5L63.1 44.6L63.0 45.7L62.6 46.8M62.6 42.2L61.7 42.8L61.0 43.5L60.6 44.5L59.7 45.3M62.6 42.2L63.5 41.4L64.4 40.7L65.5 40.3L66.6 40.3M62.6 42.2L63.4 43.1L64.1 44.2L64.7 44.9M62.3 41.0L61.3 41.5L60.1 41.5L59.1 41.4M62.3 41.0L62.7 40.1L63.3 39.2M62.3 41.0L63.5 41.5L64.4 41.5M61.9 67.7L62.2 68.6L62.4 69.9L62.2 71.1L62.2 72.2M61.9 67.7L61.6 68.9L61.3 70.1M61.9 67.7L61.9 66.7L61.9 65.7L61.9 64.6M61.9 67.7L62.0 66.5L62.4 65.4L62.2 64.3M61.9 67.7L63.0 68.3L63.7 69.2L64.6 70.1L65.5 70.4M64.5 71.6L64.3 70.7L63.9 69.8L63.4 68.8M64.5 71.6L63.7 72.5L62.8 72.8M92.9 18.7L91.8 18.2L90.9 18.1L89.7 18.1L88.6 18.5L87.5 18.5M92.9 18.7L94.0 18.5L95.2 18.7L96.2 18.9M92.9 18.7L92.7 19.7L92.2 20.8M92.6 21.1L93.2 20.0L93.5 18.8L94.3 17.9L95.2 17.4M92.6 21.1L93.0 22.0L93.3 23.0M92.6 21.1L91.7 21.5L90.6 22.1L89.6 22.3L88.8 22.9M92.6 21.1L92.2 19.9L91.6 18.8L91.3 17.6L91.6 16.5M92.6 21.1L92.7 19.8L92.6 18.9L92.6 17.6L92.6 16.6M95.2 40.0L96.2 40.2L97.2 40.4L98.1 40.7L99.0 41.5M95.2 40.0L94.2 40.1L93.2 39.9L92.2 40.0L91.2 40.6M95.2 40.0L95.1 39.0L94.7 37.8L94.1 36.8M96.3 39.4L95.1 39.6L94.2 39.7M96.3 39.4L97.6 39.5L98.5 39.2L99.4 38.4M94.6 70.3L95.6 70.2L96.7 70.4L97.9 70.7M94.6 70.3L94.9 71.2L95.4 72.0L96.2 72.6L97.1 73.5L97.6 74.4L97.8 75.6M94.6 70.3L94.1 71.1L93.9 72.2L94.0 73.1M94.6 70.3L93.7 69.8L92.7 69.2L91.6 68.8L90.7 68.6L89.8 67.9M47.8 -1.5L47.2 -2.4L46.6 -3.6M47.8 -1.5L48.5 -2.1L49.2 -2.7M47.8 -1.5L47.4 -0.6L46.9 0.5M55.9 46.9L56.8 47.7L57.4 48.6L57.7 49.8M55.9 46.9L55.0 47.1L54.2 47.6L53.0 47.9M68.0 59.4L66.8 59.4M68.0 59.4L66.9 59.7M68.0 59.4L69.0 58.9M68.0 59.4L69.0 59.6L70.1 59.5M68.0 59.4L67.6 60.4L67.1 61.6M25.8 48.8L26.8 48.9L27.8 48.5M25.8 48.8L24.6 48.9L23.6 48.7L22.6 48.5L21.6 48.3M75.8 -1.7L76.8 -2.4L77.5 -3.0L78.4 -3.2L79.2 -3.6M75.8 -1.7L76.0 -0.6L76.0 0.7L76.0 1.7M75.8 -1.7L74.7 -1.2L74.1 -0.4L73.7 0.6M75.8 -1.7L75.2 -2.4L74.6 -3.2M75.8 -1.7L75.6 -2.6L75.6 -3.7L75.6 -4.9M2.0 72.7L1.3 72.0L0.6 71.3M2.0 72.7L3.0 71.9L3.9 71.3L4.9 70.8M2.0 72.7L2.8 73.6L3.5 74.3L3.9 75.2M2.0 72.7L1.8 73.8L2.1 74.7M2.0 72.7L1.0 72.3L-0.3 72.4M99.6 73.7L100.3 74.5L101.0 75.5L101.6 76.2M99.6 73.7L98.5 74.1L97.3 73.9L96.4 73.8M99.6 73.7L98.9 72.9L98.3 72.2L97.6 71.5M46.9 63.8L45.8 64.3L45.2 65.1L44.9 66.0M46.9 63.8L47.4 62.9L48.2 61.9M60.4 19.5L60.3 18.6L60.5 17.6M60.4 19.5L61.0 20.2L62.0 20.6M7.0 -2.2L7.5 -1.2L8.0 -0.5L9.0 0.3L10.1 1.0M7.0 -2.2L6.1 -1.9L5.2 -1.6L4.5 -1.0L3.8 -0.0M7.0 -2.2L7.6 -3.2L8.2 -4.0L8.6 -5.0M65.2 31.9L65.9 30.9L66.5 30.0M65.2 31.9L66.1 32.8M65.2 31.9L64.4 32.7L63.4 33.1M65.2 31.9L65.1 30.6L65.0 29.4M80.3 43.2L80.8 42.4L81.8 41.8M80.3 43.2L81.0 43.9L81.3 44.8M80.3 43.2L79.2 43.8M33.6 37.2L33.8 38.3L33.6 39.4L32.9 40.4M33.6 37.2L32.5 37.4L31.3 37.6M33.6 37.2L33.3 36.0L32.5 35.2M33.6 37.2L34.4 36.5L35.3 36.1M33.6 37.2L34.3 37.8L35.3 38.2M1.8 35.3L2.0 36.5L2.0 37.6M1.8 35.3L0.5 35.5L-0.5 36.1L-1.5 36.8L-2.7 37.4M1.8 35.3L2.3 34.2L3.0 33.3L3.8 32.7L5.0 32.5M1.8 35.3L2.8 35.8L3.6 36.3L4.4 37.2M78.9 25.7L77.8 26.1M78.9 25.7L78.5 24.5L78.0 23.7M78.9 25.7L80.1 25.8L81.1 26.0M16.3 21.9L17.0 21.3L18.0 20.9L19.0 20.5M16.3 21.9L16.0 23.1L16.1 24.2M16.3 21.9L16.0 23.1L16.0 24.2L16.4 25.1M16.3 21.9L15.3 21.4L14.3 21.4M16.3 21.9L17.1 21.0L17.5 20.0" stroke-width="2.3"/><path d="M22.4 20.3h0M28.7 35.9h0M26.0 65.2h0M59.5 4.7h0M39.1 53.6h0M41.4 59.4h0M48.7 64.4h0M96.0 34.5h0M23.8 17.3h0M25.6 15.2h0M26.2 19.3h0M26.8 15.3h0M20.6 20.0h0M20.7 19.3h0M22.1 18.8h0M23.1 29.5h0M22.0 30.0h0M22.3 30.4h0M20.1 63.3h0M21.1 65.2h0M18.0 65.5h0M19.2 62.8h0M52.4 7.8h0M52.4 5.9h0M53.4 6.3h0M51.4 9.8h0M52.8 8.1h0M35.0 41.7h0M35.4 41.0h0M36.7 43.2h0M33.9 41.9h0M44.1 65.2h0M45.3 62.8h0M46.0 62.8h0M43.6 69.0h0M43.1 67.3h0M42.0 67.9h0M62.3 5.1h0M62.0 4.0h0M63.6 4.3h0M62.6 42.2h0M65.4 42.0h0M62.4 43.7h0M62.3 41.0h0M61.9 40.6h0M64.6 43.2h0M61.9 67.7h0M62.2 67.4h0M61.3 66.9h0M64.5 71.6h0M65.8 71.5h0M92.9 18.7h0M93.1 17.4h0M94.8 18.7h0M92.6 21.1h0M92.4 23.2h0M94.9 21.4h0M95.2 40.0h0M98.0 39.0h0M98.3 38.0h0M94.8 39.4h0M96.3 39.4h0M99.0 41.2h0M95.3 41.4h0M94.6 70.3h0M94.7 68.9h0M94.0 71.9h0M92.1 68.9h0M47.8 -1.5h0M55.9 46.9h0M54.1 46.4h0M56.4 46.8h0M68.0 59.4h0M25.8 48.8h0M27.8 49.5h0M23.8 50.5h0M75.8 -1.7h0M74.3 -1.7h0M2.0 72.7h0M2.6 71.9h0M99.6 73.7h0M98.4 75.1h0M99.8 74.5h0M46.9 63.8h0M45.0 65.3h0M46.9 62.2h0M60.4 19.5h0M58.8 17.6h0M59.3 18.1h0M7.0 -2.2h0M6.0 -3.8h0M8.5 -3.5h0M65.2 31.9h0M80.3 43.2h0M81.1 43.9h0M33.6 37.2h0M1.8 35.3h0M-0.3 36.3h0M1.6 37.2h0M78.9 25.7h0M78.2 27.0h0M16.3 21.9h0M17.7 19.6h0M15.6 21.4h0" stroke-width="3.6"/></g></svg>
<rect x="391.80" y="305.20" width="113.30" height="78.00" fill="#050b05"/>
<svg x="391.80" y="305.20" width="113.30" height="78.00" overflow="hidden"><path d="M101 22h0M70 27h0M14 44h0M73 62h0M23 61h0M47 14h0M40 5h0M104 42h0M20 11h0M86 76h0M30 38h0M29 14h0M68 55h0M46 42h0M63 65h0M97 42h0M15 58h0M23 62h0M97 37h0M112 1h0M47 73h0M59 64h0M46 40h0M7 61h0M38 77h0M83 74h0M43 39h0M51 34h0M113 17h0M74 70h0M93 45h0M100 34h0M88 74h0M89 53h0M64 53h0M101 70h0M38 65h0M104 77h0M69 20h0M40 51h0M18 73h0M48 6h0M29 6h0M108 45h0M72 23h0M80 56h0M77 50h0M45 75h0M71 77h0M82 5h0M49 78h0M7 52h0M18 43h0M20 16h0M51 7h0M63 39h0M98 9h0M98 35h0M63 61h0M104 75h0M113 17h0M98 5h0M46 58h0M74 42h0M5 42h0M3 32h0M75 52h0M74 23h0M58 50h0M57 25h0" stroke="#3d5a3d" stroke-width="1.4" stroke-linecap="round" opacity="0.6"/><g filter="url(#cb)" fill="none" stroke="#40cc40" stroke-linecap="round" stroke-linejoin="round"><path d="M17.7 4.5L18.1 7.1L20.0 9.7L19.3 11.4L19.7 12.7L20.3 15.0L21.4 17.2L21.8 19.1L21.7 20.9L22.2 23.8L23.3 26.4L22.9 28.3L24.0 29.5M21.1 17.4L21.8 16.7L22.4 16.1L23.5 15.5L24.1 14.7L24.9 13.8M21.1 17.4L21.7 18.4L22.5 19.4M21.1 17.4L20.3 16.8L19.1 16.6L18.2 16.8L17.1 17.5L16.5 18.6M18.5 5.2L19.3 6.5L21.5 7.5L21.6 10.0L23.8 11.1L24.7 12.6L27.2 14.0L27.8 15.2L29.5 16.2L31.7 18.1L33.0 18.8L35.1 20.2M23.5 29.7L24.7 28.0L24.8 25.5L26.5 23.7L27.8 21.4L29.8 20.4L32.7 21.1L35.2 20.1M30.4 20.6L30.7 21.6L30.6 22.9L30.1 23.9L29.9 24.9M30.4 20.6L30.2 21.7L30.3 22.8L30.7 23.7M30.4 20.6L29.5 20.3L28.6 19.8M30.4 20.6L31.5 20.0L32.3 19.6L32.8 18.8L33.4 17.9M23.5 30.3L25.8 31.3L27.4 31.3L29.1 31.8L31.2 33.3L33.4 34.7L34.8 34.8L37.1 35.0L39.1 36.5L41.4 37.0L42.1 37.7L44.8 38.1L47.0 39.2M18.9 72.0L21.4 72.9L23.1 72.6L25.6 73.2L26.8 73.5L29.6 72.6L30.9 73.5L33.4 73.5L35.5 73.4L37.6 73.4L39.8 73.4L41.3 73.5L44.2 73.5L45.8 73.6L47.8 73.9L49.3 72.9M34.3 73.3L34.6 72.4L35.4 71.7M34.3 73.3L35.3 74.0L36.2 74.5M34.3 73.3L33.8 74.1L33.2 75.0L32.4 76.0M34.3 73.3L33.4 73.3L32.2 72.9L31.0 73.0M34.3 73.3L33.9 72.4L33.9 71.2L33.8 70.2M42.1 73.7L42.6 74.5L43.5 75.4L43.9 76.5M42.1 73.7L41.3 74.3L40.2 74.7L39.5 75.5L39.2 76.7M42.1 73.7L41.1 73.2L40.3 72.2M42.1 73.7L42.5 72.6L42.7 71.3L43.4 70.3M42.1 73.7L42.9 74.3L43.5 75.3L44.1 76.3M34.3 19.7L36.2 22.2L37.2 22.5L39.2 24.3L40.4 26.6L41.6 28.1L42.4 29.6L43.3 30.9L44.3 33.1L45.2 35.9L46.2 37.9L46.8 38.8M41.9 29.0L42.4 29.8L43.0 30.5L44.0 31.1M41.9 29.0L41.4 30.1L40.7 31.0L39.7 31.6L38.8 31.8M41.9 29.0L41.6 28.0L41.3 26.9M46.3 39.7L48.3 40.2L51.4 40.0L52.2 40.8L54.5 41.0L56.9 42.4L59.6 43.2L61.3 43.4L63.5 44.4L65.4 44.5L67.4 45.9L68.4 47.2L70.4 47.5M59.0 43.0L57.9 43.6L57.0 44.4L55.9 44.9M59.0 43.0L58.7 41.9L58.4 40.8M59.0 43.0L59.5 42.2L60.2 41.5L61.1 41.0M59.0 43.0L59.7 44.1L60.3 44.8L60.8 45.7M49.9 73.3L51.5 73.3L54.4 72.0L56.6 70.9L59.1 71.7L60.7 71.3L63.5 70.6M56.6 71.7L57.4 72.4L58.2 73.3L59.0 74.1M56.6 71.7L55.8 72.2L54.5 72.5M56.6 71.7L55.6 70.9L54.5 70.3M60.0 71.1L59.8 72.0L60.1 73.0M60.0 71.1L59.7 70.1L59.6 69.0M81.4 18.0L83.3 17.5L84.9 16.3L87.6 16.4L88.9 16.7L91.4 15.1L92.7 15.7L94.4 14.3L96.3 13.3L98.1 12.4L100.3 12.3L101.9 10.6L103.6 9.9L105.5 8.2L106.8 7.4L108.9 5.5M81.4 18.1L82.0 18.8L83.3 21.3L84.0 22.3L85.9 24.5L85.8 27.2L87.7 28.2L88.3 30.2L88.7 32.4L88.0 34.6L88.3 37.0L89.2 39.1M84.5 22.4L83.4 23.0L82.4 23.2L81.2 23.2L80.3 23.6M84.5 22.4L84.2 21.3L83.7 20.4L83.0 19.5L82.8 18.3L82.5 17.3M84.5 22.4L85.7 22.1L86.8 22.3L88.0 22.7M84.5 22.4L85.6 22.7L86.4 23.5L87.0 24.4M84.5 22.4L84.5 23.7L84.8 24.7M71.7 47.3L70.3 48.9L68.6 51.3L67.6 52.5L67.3 54.0L66.4 56.9L65.1 58.7L64.8 60.1L64.6 62.6L63.4 64.6L64.1 66.6L63.9 68.8L63.6 71.6M63.7 64.5L63.4 65.6L62.8 66.6L62.5 67.7M63.7 64.5L62.7 64.0L61.7 63.4L60.7 63.0M63.7 64.5L64.2 63.3L64.4 62.3M63.7 64.5L64.7 65.3L65.3 66.4L65.9 67.5M71.3 47.0L72.3 45.6L74.5 44.5L76.4 43.7L77.7 41.7L80.4 40.7L81.4 40.2L84.6 40.0L86.4 39.5L88.5 39.9M89.0 38.8L88.9 41.6L90.8 43.1L91.3 44.5L92.1 46.8L93.2 48.5L94.4 50.4L94.6 51.7L95.7 54.4L95.5 56.5L96.4 57.3L97.2 60.1L97.8 62.2L97.9 63.6L97.0 66.7L97.4 68.6L98.0 69.9L97.0 72.7M93.0 46.9L93.8 47.7L94.6 48.6L95.6 49.0L96.6 49.0M93.0 46.9L92.3 47.8L91.6 48.6L90.5 49.0L89.2 49.1M93.0 46.9L92.3 46.2L91.8 45.1L90.9 44.2L90.1 43.8M93.0 46.9L93.9 46.7L95.1 46.1M93.0 46.9L94.0 46.3L94.5 45.3L94.7 44.3M97.5 63.4L98.3 64.2L98.8 65.3M97.5 63.4L96.7 62.9L95.5 62.5M18.2 5.0L17.5 4.0L16.9 3.0L15.9 2.5L14.7 2.1L13.6 1.6M18.2 5.0L17.6 6.1L17.4 7.1L16.9 7.9L16.4 8.8L15.9 9.6L15.1 10.2L14.4 11.3L13.4 11.9M23.5 30.0L24.6 30.1L25.4 29.8L26.3 29.0L27.2 28.5L27.9 27.5L28.6 26.7L29.2 26.0L29.6 24.8L30.4 24.0L31.1 22.9L31.9 22.0M23.5 30.0L22.6 30.8L21.7 31.5L21.3 32.5L21.1 33.8L20.7 34.7L20.0 35.7L19.8 36.8L20.0 37.8M23.5 30.0L23.3 28.9L22.7 28.0L22.6 27.0L22.8 26.1L23.4 25.2L24.1 24.2M23.8 32.3L22.6 32.5L21.3 32.5L20.2 32.1L19.4 31.6L18.8 30.9M23.8 32.3L24.6 31.7L25.2 31.0L25.9 30.1L26.9 29.4L27.9 29.2M23.8 32.3L24.5 32.9L25.2 33.6L26.1 34.4L26.6 35.3L26.8 36.4M18.8 72.0L20.0 71.5L20.7 70.9L21.8 70.4L22.9 70.0L23.9 70.2L24.9 69.8L26.1 69.5M18.8 72.0L19.8 72.7L20.5 73.3L21.3 74.0L21.8 74.8L22.8 75.5L23.8 75.9L25.1 76.2L26.1 76.3L27.1 76.2M18.8 72.0L18.0 71.4L16.9 71.2L15.7 70.6L14.6 70.1L13.5 70.1L12.4 70.1L11.2 70.2L10.0 69.8L9.0 69.1M17.8 70.9L18.0 72.1L18.6 73.0L18.8 74.2L18.6 75.5L17.9 76.5L17.0 77.0M17.8 70.9L18.0 70.0L18.7 69.0L19.5 68.1L20.5 67.4L21.4 67.0L22.2 66.1L22.4 65.1L22.6 63.9L22.3 63.1M34.9 20.0L35.8 20.5L36.8 20.9L38.0 20.9L39.1 20.9L40.0 21.4L40.9 22.2L41.6 22.8L42.7 23.5M34.9 20.0L34.5 21.1L34.3 22.1L33.7 22.9L33.1 23.8L32.2 24.3L31.1 24.6L30.0 24.6L28.9 24.2L28.0 24.3L26.8 24.4M34.9 20.0L33.9 20.0L32.9 19.5L31.7 19.4L30.8 19.8L29.9 20.0L29.1 20.6L28.4 21.3L27.7 21.9M34.9 20.0L34.0 19.7L33.1 19.8L32.2 19.9L30.9 19.8L29.9 20.3L29.2 20.9M34.9 20.0L35.7 19.6L36.5 18.7L37.4 18.2L38.2 17.3L38.5 16.3L39.1 15.2L39.8 14.4M46.7 39.4L46.2 40.2L45.2 41.1L44.9 42.0L44.3 42.8L43.5 43.5L42.4 43.8L41.4 43.7L40.4 43.4L39.1 43.3M46.7 39.4L46.8 38.4L47.5 37.4L48.1 36.6L48.4 35.7L48.8 34.8L49.7 34.1L50.4 33.0L51.3 32.3L52.3 31.9L53.2 31.9L54.1 31.5M46.7 39.4L47.9 39.5L49.0 39.2L50.3 39.1L51.2 39.3L52.4 39.8L53.5 39.7L54.4 39.7M49.9 73.4L50.8 73.4L52.1 73.8L52.9 74.2L53.9 74.2M49.9 73.4L49.0 74.2L48.0 74.5L47.1 75.3L46.7 76.2L46.4 77.2L45.9 78.3L45.8 79.2L45.4 80.0M49.9 73.4L49.8 72.5L50.2 71.5L50.6 70.3L50.8 69.4M52.3 72.6L51.4 72.1L50.8 71.3L50.6 70.2M52.3 72.6L52.4 71.3L52.1 70.3L52.0 69.3L51.5 68.1L50.9 67.2L50.3 66.3L49.5 65.5M52.3 72.6L53.2 72.2L54.0 71.8L54.8 71.3L55.9 71.0L57.0 70.7M52.3 72.6L52.5 73.8L52.3 75.0L51.9 75.9M80.9 17.5L81.9 17.1L83.2 17.3L84.4 17.2L85.4 17.6L86.5 17.9L87.5 18.2M80.9 17.5L80.4 18.6L80.2 19.5L79.9 20.5L79.3 21.5L79.0 22.5M80.9 17.5L79.7 17.8L78.6 18.2L77.5 18.7L76.5 18.9L75.7 19.5L75.2 20.3L74.2 21.1L73.3 21.4L72.4 21.5M80.9 17.5L81.4 16.5L82.1 15.5L82.8 14.5L82.9 13.4L83.4 12.4L84.0 11.4L85.0 10.7M71.1 47.3L70.5 48.2L69.9 49.1L69.2 49.8L68.3 50.4M71.1 47.3L70.0 46.8L69.1 46.0L68.1 45.6L67.0 45.2L66.0 44.8L65.0 44.9L64.0 44.9M71.1 47.3L71.7 46.2L72.3 45.3L73.2 44.7L74.1 44.2L75.1 44.0L76.0 43.5L77.0 42.9L78.1 42.6L79.0 42.8L80.2 43.2M72.3 49.5L71.3 49.0L70.3 48.9L69.3 48.9L68.2 49.4L67.0 49.8M72.3 49.5L72.7 50.5L72.8 51.6L73.0 52.4L73.0 53.5L72.6 54.7M63.5 70.9L62.3 70.9L61.0 71.2L60.2 71.8L59.5 72.4L58.7 73.3L58.1 74.4L57.5 75.2L56.5 75.9L55.6 76.4L54.6 76.9L53.4 76.8M63.5 70.9L64.3 70.2L64.8 69.3L65.0 68.1L64.7 67.3L64.1 66.4L63.6 65.5L62.7 64.8L62.0 64.0M63.5 70.9L64.2 71.9L65.0 72.7L65.4 73.7L65.9 74.8L66.2 75.9L66.3 76.8L66.7 77.6L67.0 78.8M60.8 69.2L61.9 68.9L63.1 69.0L64.0 69.4L65.3 69.3L66.4 68.8M60.8 69.2L61.9 68.6L62.7 67.6L63.7 66.9L64.6 66.7M60.8 69.2L61.9 69.7L62.7 70.6L63.2 71.3L64.1 72.0M60.8 69.2L59.6 69.1L58.6 69.5L57.8 70.3L57.0 70.8L56.1 71.3M60.8 69.2L60.2 68.4L59.0 67.9L58.1 67.6L57.1 67.5L56.0 67.0M108.9 5.6L107.9 5.3L106.8 5.1L105.7 5.3L104.6 5.0L103.5 5.3L102.3 5.5L101.2 5.6M108.9 5.6L110.1 5.1L110.9 4.4L111.6 3.3L112.0 2.4M108.9 5.6L109.3 6.6L109.7 7.4L110.5 8.0L111.0 9.1L111.4 10.1L111.2 11.1L111.0 12.1L111.2 13.0M108.9 5.6L107.6 5.5L106.4 5.7L105.4 6.0L104.1 6.3L103.3 7.2L102.9 8.1L102.2 9.2M105.1 3.0L105.1 1.8L105.6 0.7L105.7 -0.2L105.4 -1.1L105.5 -2.2L106.0 -3.1M105.1 3.0L105.2 3.9L104.9 5.1L104.2 5.8L103.1 6.4L102.6 7.3L101.9 8.1M88.5 39.3L87.6 39.1L86.4 38.5L85.4 38.4L84.3 37.7L83.0 37.3M88.5 39.3L89.4 38.7L90.4 37.9L91.5 37.3L92.7 37.3L93.8 37.8L94.6 38.5L95.5 39.4L95.7 40.4L95.4 41.5L95.4 42.7M91.8 39.2L90.8 38.5L90.0 38.0L88.8 37.4L87.8 37.1M91.8 39.2L92.8 39.9L93.8 40.3L94.6 40.7M97.5 72.2L96.4 71.7L95.5 71.1L94.9 70.3L94.3 69.5L93.4 68.8L92.8 68.1L91.9 67.3L91.2 66.4M97.5 72.2L98.7 72.1L99.7 72.3L100.6 72.8L101.7 73.5L102.3 74.1L103.1 74.9L103.7 75.8M97.5 72.2L98.5 72.9L99.3 73.3L100.5 73.7L101.7 73.6L102.6 74.0L103.7 74.5L105.0 74.7M98.7 71.5L99.3 70.8L99.5 69.9L100.0 68.9L100.2 67.7L100.5 66.9L100.4 65.6L100.5 64.6L100.4 63.6M98.7 71.5L99.4 72.4L100.0 73.6L100.2 74.5L100.8 75.2L101.1 76.4L101.8 77.4M98.7 71.5L97.8 70.9L96.9 70.4L96.0 70.2L94.8 70.3L93.9 70.8L93.1 71.4L92.3 71.8M-2.0 70.4L-2.5 71.5L-2.7 72.5L-3.3 73.6L-3.3 74.5L-2.9 75.7M-2.0 70.4L-1.0 70.1L0.1 70.0L1.2 70.0L2.4 69.8L3.4 69.2M81.2 7.0L80.2 6.4L79.6 5.7L79.2 4.5L79.4 3.4M81.2 7.0L81.8 6.0L82.1 5.1M81.2 7.0L82.1 6.6L82.8 5.8L83.0 4.6M81.2 7.0L81.3 8.2L81.2 9.1M81.2 7.0L80.1 7.7L79.3 8.2M22.6 4.5L23.6 4.2L24.6 4.0M22.6 4.5L22.5 5.5L22.5 6.8M22.6 4.5L21.7 4.3L20.9 3.8L20.1 3.2L18.9 2.7M22.7 29.0L21.7 29.1L20.6 29.2M22.7 29.0L23.9 29.1L25.0 29.4L25.9 29.9M71.8 49.9L71.6 49.0L71.8 48.0L72.3 47.1L72.9 46.4L73.3 45.3M71.8 49.9L72.7 50.3L73.4 51.1L74.2 51.7L75.2 51.9M71.8 49.9L70.8 50.6L69.5 50.9M5.6 42.8L6.7 42.8L7.8 42.3M5.6 42.8L4.7 43.2L3.8 44.1L2.7 44.7M31.2 77.1L30.4 77.8L29.7 78.4L29.3 79.4L28.9 80.6L29.2 81.7L29.0 82.9M31.2 77.1L32.1 76.5L32.7 75.7L33.3 74.7L33.8 73.7M90.6 62.1L91.2 61.0L91.5 59.9M90.6 62.1L90.0 63.0L89.3 63.7L88.9 64.7L88.9 65.6M46.1 44.2L45.1 44.0L43.8 44.0L42.5 44.2L41.3 44.4M46.1 44.2L47.4 44.1L48.5 44.3L49.5 44.6M46.1 44.2L45.4 44.9L44.6 45.3M39.8 25.0L40.2 26.0L40.5 26.9L41.0 28.0M39.8 25.0L38.6 24.7L37.5 24.2M39.8 25.0L39.5 23.9L39.5 22.9M14.2 78.2L13.4 77.9L12.5 77.6L11.7 76.9L11.0 76.0M14.2 78.2L15.0 77.4L15.7 76.6L16.8 76.1M14.2 78.2L13.7 79.2L13.1 80.0L12.7 80.9M112.6 12.5L113.0 11.5L113.2 10.6M112.6 12.5L111.8 13.3L111.3 14.3L110.7 15.3" stroke-width="1.4"/><path d="M19.3 11.4L19.7 12.7L20.3 15.0L21.4 17.2M21.1 17.4L21.8 16.7L22.4 16.1L23.5 15.5M21.1 17.4L21.7 18.4M21.1 17.4L20.3 16.8L19.1 16.6L18.2 16.8M27.8 15.2L29.5 16.2L31.7 18.1L33.0 18.8M24.8 25.5L26.5 23.7L27.8 21.4L29.8 20.4M30.4 20.6L30.7 21.6L30.6 22.9M30.4 20.6L30.2 21.7L30.3 22.8M30.4 20.6L29.5 20.3M30.4 20.6L31.5 20.0L32.3 19.6M23.5 30.3L25.8 31.3L27.4 31.3L29.1 31.8M26.8 73.5L29.6 72.6L30.9 73.5L33.4 73.5M34.3 73.3L34.6 72.4M34.3 73.3L35.3 74.0M34.3 73.3L33.8 74.1L33.2 75.0M34.3 73.3L33.4 73.3L32.2 72.9M34.3 73.3L33.9 72.4L33.9 71.2M42.1 73.7L42.6 74.5L43.5 75.4M42.1 73.7L41.3 74.3L40.2 74.7M42.1 73.7L41.1 73.2M42.1 73.7L42.5 72.6L42.7 71.3M42.1 73.7L42.9 74.3L43.5 75.3M41.6 28.1L42.4 29.6L43.3 30.9L44.3 33.1M41.9 29.0L42.4 29.8L43.0 30.5M41.9 29.0L41.4 30.1L40.7 31.0M41.9 29.0L41.6 28.0M61.3 43.4L63.5 44.4L65.4 44.5L67.4 45.9M59.0 43.0L57.9 43.6L57.0 44.4M59.0 43.0L58.7 41.9M59.0 43.0L59.5 42.2L60.2 41.5M59.0 43.0L59.7 44.1L60.3 44.8M49.9 73.3L51.5 73.3L54.4 72.0L56.6 70.9M56.6 71.7L57.4 72.4L58.2 73.3M56.6 71.7L55.8 72.2M56.6 71.7L55.6 70.9M60.0 71.1L59.8 72.0M60.0 71.1L59.7 70.1M96.3 13.3L98.1 12.4L100.3 12.3L101.9 10.6M85.9 24.5L85.8 27.2L87.7 28.2L88.3 30.2M84.5 22.4L83.4 23.0L82.4 23.2M84.5 22.4L84.2 21.3L83.7 20.4L83.0 19.5M84.5 22.4L85.7 22.1L86.8 22.3M84.5 22.4L85.6 22.7L86.4 23.5M84.5 22.4L84.5 23.7M71.7 47.3L70.3 48.9L68.6 51.3L67.6 52.5M63.7 64.5L63.4 65.6L62.8 66.6M63.7 64.5L62.7 64.0L61.7 63.4M63.7 64.5L64.2 63.3M63.7 64.5L64.7 65.3L65.3 66.4M77.7 41.7L80.4 40.7L81.4 40.2L84.6 40.0M94.6 51.7L95.7 54.4L95.5 56.5L96.4 57.3M93.0 46.9L93.8 47.7L94.6 48.6M93.0 46.9L92.3 47.8L91.6 48.6M93.0 46.9L92.3 46.2L91.8 45.1M93.0 46.9L93.9 46.7M93.0 46.9L94.0 46.3L94.5 45.3M97.5 63.4L98.3 64.2M97.5 63.4L96.7 62.9M18.2 5.0L17.5 4.0L16.9 3.0L15.9 2.5M18.2 5.0L17.6 6.1L17.4 7.1L16.9 7.9L16.4 8.8M23.5 30.0L24.6 30.1L25.4 29.8L26.3 29.0L27.2 28.5L27.9 27.5L28.6 26.7M23.5 30.0L22.6 30.8L21.7 31.5L21.3 32.5L21.1 33.8M23.5 30.0L23.3 28.9L22.7 28.0L22.6 27.0M23.8 32.3L22.6 32.5L21.3 32.5L20.2 32.1M23.8 32.3L24.6 31.7L25.2 31.0L25.9 30.1M23.8 32.3L24.5 32.9L25.2 33.6L26.1 34.4M18.8 72.0L20.0 71.5L20.7 70.9L21.8 70.4L22.9 70.0M18.8 72.0L19.8 72.7L20.5 73.3L21.3 74.0L21.8 74.8L22.8 75.5M18.8 72.0L18.0 71.4L16.9 71.2L15.7 70.6L14.6 70.1L13.5 70.1M17.8 70.9L18.0 72.1L18.6 73.0L18.8 74.2M17.8 70.9L18.0 70.0L18.7 69.0L19.5 68.1L20.5 67.4L21.4 67.0M34.9 20.0L35.8 20.5L36.8 20.9L38.0 20.9L39.1 20.9M34.9 20.0L34.5 21.1L34.3 22.1L33.7 22.9L33.1 23.8L32.2 24.3M34.9 20.0L33.9 20.0L32.9 19.5L31.7 19.4L30.8 19.8M34.9 20.0L34.0 19.7L33.1 19.8L32.2 19.9M34.9 20.0L35.7 19.6L36.5 18.7L37.4 18.2L38.2 17.3M46.7 39.4L46.2 40.2L45.2 41.1L44.9 42.0L44.3 42.8L43.5 43.5M46.7 39.4L46.8 38.4L47.5 37.4L48.1 36.6L48.4 35.7L48.8 34.8L49.7 34.1M46.7 39.4L47.9 39.5L49.0 39.2L50.3 39.1L51.2 39.3M49.9 73.4L50.8 73.4L52.1 73.8M49.9 73.4L49.0 74.2L48.0 74.5L47.1 75.3L46.7 76.2M49.9 73.4L49.8 72.5L50.2 71.5M52.3 72.6L51.4 72.1L50.8 71.3M52.3 72.6L52.4 71.3L52.1 70.3L52.0 69.3L51.5 68.1M52.3 72.6L53.2 72.2L54.0 71.8L54.8 71.3M52.3 72.6L52.5 73.8L52.3 75.0M80.9 17.5L81.9 17.1L83.2 17.3L84.4 17.2M80.9 17.5L80.4 18.6L80.2 19.5L79.9 20.5M80.9 17.5L79.7 17.8L78.6 18.2L77.5 18.7L76.5 18.9L75.7 19.5M80.9 17.5L81.4 16.5L82.1 15.5L82.8 14.5L82.9 13.4M71.1 47.3L70.5 48.2L69.9 49.1M71.1 47.3L70.0 46.8L69.1 46.0L68.1 45.6L67.0 45.2M71.1 47.3L71.7 46.2L72.3 45.3L73.2 44.7L74.1 44.2L75.1 44.0M72.3 49.5L71.3 49.0L70.3 48.9L69.3 48.9M72.3 49.5L72.7 50.5L72.8 51.6L73.0 52.4M63.5 70.9L62.3 70.9L61.0 71.2L60.2 71.8L59.5 72.4L58.7 73.3L58.1 74.4M63.5 70.9L64.3 70.2L64.8 69.3L65.0 68.1L64.7 67.3M63.5 70.9L64.2 71.9L65.0 72.7L65.4 73.7L65.9 74.8M60.8 69.2L61.9 68.9L63.1 69.0L64.0 69.4M60.8 69.2L61.9 68.6L62.7 67.6M60.8 69.2L61.9 69.7L62.7 70.6M60.8 69.2L59.6 69.1L58.6 69.5L57.8 70.3M60.8 69.2L60.2 68.4L59.0 67.9L58.1 67.6M108.9 5.6L107.9 5.3L106.8 5.1L105.7 5.3L104.6 5.0M108.9 5.6L110.1 5.1L110.9 4.4M108.9 5.6L109.3 6.6L109.7 7.4L110.5 8.0L111.0 9.1M108.9 5.6L107.6 5.5L106.4 5.7L105.4 6.0L104.1 6.3M105.1 3.0L105.1 1.8L105.6 0.7L105.7 -0.2M105.1 3.0L105.2 3.9L104.9 5.1L104.2 5.8M88.5 39.3L87.6 39.1L86.4 38.5L85.4 38.4M88.5 39.3L89.4 38.7L90.4 37.9L91.5 37.3L92.7 37.3L93.8 37.8M91.8 39.2L90.8 38.5L90.0 38.0M91.8 39.2L92.8 39.9L93.8 40.3M97.5 72.2L96.4 71.7L95.5 71.1L94.9 70.3L94.3 69.5M97.5 72.2L98.7 72.1L99.7 72.3L100.6 72.8L101.7 73.5M97.5 72.2L98.5 72.9L99.3 73.3L100.5 73.7L101.7 73.6M98.7 71.5L99.3 70.8L99.5 69.9L100.0 68.9L100.2 67.7M98.7 71.5L99.4 72.4L100.0 73.6L100.2 74.5M98.7 71.5L97.8 70.9L96.9 70.4L96.0 70.2L94.8 70.3M-2.0 70.4L-2.5 71.5L-2.7 72.5L-3.3 73.6M-2.0 70.4L-1.0 70.1L0.1 70.0L1.2 70.0M81.2 7.0L80.2 6.4L79.6 5.7M81.2 7.0L81.8 6.0M81.2 7.0L82.1 6.6L82.8 5.8M81.2 7.0L81.3 8.2M81.2 7.0L80.1 7.7M22.6 4.5L23.6 4.2M22.6 4.5L22.5 5.5M22.6 4.5L21.7 4.3L20.9 3.8M22.7 29.0L21.7 29.1M22.7 29.0L23.9 29.1L25.0 29.4M71.8 49.9L71.6 49.0L71.8 48.0L72.3 47.1M71.8 49.9L72.7 50.3L73.4 51.1M71.8 49.9L70.8 50.6M5.6 42.8L6.7 42.8M5.6 42.8L4.7 43.2L3.8 44.1M31.2 77.1L30.4 77.8L29.7 78.4L29.3 79.4M31.2 77.1L32.1 76.5L32.7 75.7M90.6 62.1L91.2 61.0M90.6 62.1L90.0 63.0L89.3 63.7M46.1 44.2L45.1 44.0L43.8 44.0M46.1 44.2L47.4 44.1L48.5 44.3M46.1 44.2L45.4 44.9M39.8 25.0L40.2 26.0L40.5 26.9M39.8 25.0L38.6 24.7M39.8 25.0L39.5 23.9M14.2 78.2L13.4 77.9L12.5 77.6M14.2 78.2L15.0 77.4L15.7 76.6M14.2 78.2L13.7 79.2L13.1 80.0M112.6 12.5L113.0 11.5M112.6 12.5L111.8 13.3L111.3 14.3" stroke-width="2.3"/><path d="M21.1 17.4h0M19.6 17.1h0M30.4 20.6h0M34.3 73.3h0M42.1 73.7h0M41.9 29.0h0M43.4 29.3h0M59.0 43.0h0M56.6 71.7h0M60.0 71.1h0M84.5 22.4h0M63.7 64.5h0M93.0 46.9h0M97.5 63.4h0M18.2 5.0h0M18.8 4.6h0M18.7 7.0h0M23.5 30.0h0M20.6 29.5h0M25.1 28.8h0M23.1 29.3h0M23.8 32.3h0M21.6 32.6h0M25.7 32.7h0M18.8 72.0h0M21.0 71.4h0M19.2 71.1h0M17.8 70.9h0M18.2 71.5h0M15.2 72.9h0M34.9 20.0h0M33.5 19.3h0M36.9 20.4h0M37.9 19.0h0M46.7 39.4h0M46.4 40.4h0M45.1 38.2h0M43.1 41.9h0M49.9 73.4h0M51.4 72.0h0M49.0 72.3h0M52.3 72.6h0M54.4 70.3h0M53.9 70.6h0M80.9 17.5h0M78.3 19.9h0M82.2 16.8h0M77.6 19.9h0M71.1 47.3h0M71.5 46.2h0M70.1 46.8h0M72.3 49.5h0M71.2 47.9h0M72.7 51.2h0M63.5 70.9h0M63.9 72.2h0M65.5 70.2h0M66.0 70.8h0M60.8 69.2h0M61.5 70.3h0M108.9 5.6h0M107.9 6.2h0M109.3 4.4h0M105.1 3.0h0M107.4 4.6h0M103.5 0.5h0M88.5 39.3h0M91.1 40.6h0M87.0 38.3h0M88.4 41.1h0M91.8 39.2h0M97.5 72.2h0M98.2 71.1h0M99.5 71.3h0M99.2 74.4h0M98.7 71.5h0M97.1 72.6h0M101.2 73.0h0M-2.0 70.4h0M-2.7 71.8h0M81.2 7.0h0M80.5 7.9h0M22.6 4.5h0M22.9 5.2h0M22.7 29.0h0M71.8 49.9h0M72.4 50.2h0M5.6 42.8h0M31.2 77.1h0M29.6 77.2h0M90.6 62.1h0M90.8 61.6h0M46.1 44.2h0M46.2 45.3h0M39.8 25.0h0M14.2 78.2h0M112.6 12.5h0M111.1 12.0h0" stroke-width="3.6"/></g></svg>
<rect x="507.90" y="305.20" width="113.30" height="78.00" fill="#050b05"/>
<svg x="507.90" y="305.20" width="113.30" height="78.00" overflow="hidden"><path d="M78 75h0M111 62h0M113 44h0M61 48h0M68 41h0M112 10h0M40 27h0M105 38h0M31 35h0M82 34h0M21 43h0M109 15h0M84 41h0M28 57h0M75 25h0M9 60h0M43 75h0M77 49h0M97 16h0M111 57h0M45 37h0M64 43h0M22 20h0M52 59h0M14 41h0M113 9h0M90 61h0M76 75h0M12 41h0M85 33h0M17 49h0M81 40h0M84 19h0M83 70h0M96 48h0M41 69h0M65 70h0M54 5h0M101 47h0M76 38h0M101 77h0M63 73h0M100 48h0M10 61h0M47 36h0M105 44h0M100 45h0M19 22h0M36 75h0M98 57h0M79 11h0M78 35h0M10 56h0M67 49h0M4 44h0M23 48h0M63 54h0M38 42h0M3 8h0M50 33h0M43 64h0M98 14h0M22 76h0M75 50h0M105 4h0M24 42h0M28 72h0M97 57h0M16 38h0M106 46h0" stroke="#3d5a3d" stroke-width="1.4" stroke-linecap="round" opacity="0.6"/><g filter="url(#cb)" fill="none" stroke="#40cc40" stroke-linecap="round" stroke-linejoin="round"><path d="M5.9 9.5L5.3 10.8L4.4 13.5L4.0 15.4L3.6 17.3L4.1 19.6L3.2 21.2L3.8 23.9L3.1 25.5L3.7 27.9L3.5 30.2L4.5 32.2L3.9 34.5L4.8 35.7M3.8 22.4L4.5 21.7L4.9 20.8L5.5 19.7M3.8 22.4L3.5 23.7L3.2 24.8L3.0 25.7L2.8 26.6L2.6 27.8M3.8 22.4L2.6 22.7L1.7 23.1L0.7 24.0L-0.5 24.4M6.6 9.1L8.5 9.2L9.7 8.7L11.7 8.7L14.9 9.0L17.1 9.0L18.4 8.7L20.8 8.6L21.8 10.0L23.6 10.7L25.8 11.2L27.8 11.6L29.9 13.2L31.0 14.2L33.1 15.5L35.2 16.1M28.6 11.7L28.6 13.0L28.8 14.0M28.6 11.7L27.5 12.2L26.3 12.4M28.6 11.7L29.1 10.8L29.4 9.7M4.3 35.5L7.1 37.4L8.7 38.4L9.9 38.9L12.2 39.5L13.8 40.8L16.3 42.1L17.3 42.5L19.9 42.6L21.8 44.3L24.1 44.3L26.1 44.7L28.9 44.1L30.7 45.0L31.9 45.0L35.0 45.3L37.1 44.8M12.1 40.4L12.9 41.1L13.8 41.6L14.9 41.7M12.1 40.4L11.3 41.2L10.5 42.1L9.9 43.2M12.1 40.4L11.1 40.6L10.2 41.2L9.2 41.3M12.1 40.4L12.3 39.4L12.7 38.3M12.1 40.4L12.7 39.6L13.1 38.6L13.7 37.9L14.3 37.1L14.8 35.9M13.9 71.0L14.8 70.3L16.0 67.9L17.5 66.6L19.8 66.1L20.5 63.9L22.6 62.7L23.6 61.5L24.3 59.2L26.1 58.1L27.5 56.2L29.1 54.9L30.3 53.8L32.2 51.9L32.7 49.8L34.1 47.7L34.8 47.0L37.2 44.5M19.5 65.2L18.6 65.8L17.9 66.5L17.4 67.6L16.6 68.4M19.5 65.2L18.3 65.2L17.4 65.4L16.5 66.0M19.5 65.2L19.0 64.1L18.8 63.0M19.5 65.2L20.3 64.6L21.3 64.4L22.5 64.4L23.5 64.5M19.5 65.2L20.2 66.2L20.7 67.2L21.5 67.8M31.3 52.1L30.2 51.7L29.0 51.7M31.3 52.1L31.3 50.9L30.8 49.7M31.3 52.1L32.4 52.7L33.5 53.2M31.3 52.1L30.7 52.8L30.4 53.8L29.7 54.5L29.1 55.4M35.4 16.0L34.3 17.4L34.6 20.8L34.5 22.6L33.5 24.3L33.7 26.9L33.2 28.2L33.6 31.2L33.8 32.7L33.4 35.1L34.8 36.2L34.8 39.1L35.2 41.3L36.7 42.8L36.7 44.8M33.6 23.4L33.5 22.3L33.2 21.4M33.6 23.4L34.4 23.8L35.3 24.2M33.6 23.4L32.8 24.0L31.8 24.6M33.9 30.6L35.2 30.5L36.3 30.0M33.9 30.6L32.9 31.1L32.1 31.7L31.0 32.4M33.9 30.6L34.1 29.4L34.6 28.3L35.4 27.4L36.2 26.6M34.3 37.9L33.3 38.0L32.3 37.8L31.5 37.3L30.2 37.0M34.3 37.9L34.4 36.7L34.6 35.7L35.0 34.9L35.6 34.0L36.2 33.2M34.3 37.9L34.4 39.1L35.0 40.1M36.4 45.1L38.1 47.0L39.4 47.8L41.9 49.1L43.4 50.8L44.4 52.6L47.4 53.6L48.3 54.7L51.2 54.2L53.0 55.7M40.1 48.8L40.7 47.7L41.3 46.7L42.0 46.1L42.9 45.4M40.1 48.8L39.2 49.0L37.9 48.9L36.9 49.4L36.0 49.5M53.7 55.9L54.4 56.3L55.8 58.3L58.6 59.0L59.9 60.9L61.3 60.7L63.7 62.2L64.6 62.9L66.5 63.7L68.6 65.3L71.5 65.5L73.0 66.2L74.8 66.1M58.1 59.3L57.7 58.2L57.8 57.3L58.3 56.1M58.1 59.3L58.8 58.4L59.3 57.6L59.9 56.8L60.9 56.3M58.1 59.3L58.2 60.4L58.4 61.7L58.2 62.9M79.3 3.2L81.1 3.7L83.6 3.7L84.4 5.0L87.1 5.7L88.6 6.4L91.1 6.6L92.9 7.9L95.3 8.0L96.3 9.2L98.2 9.9L100.7 10.3L102.4 10.6L104.9 11.1L106.3 12.2L108.9 13.7M101.3 10.1L100.1 10.1L99.2 10.4L98.3 10.6L97.4 10.4M101.3 10.1L101.3 9.1L101.3 8.1M101.3 10.1L101.6 11.1L101.6 12.1L101.4 13.0M80.4 40.9L80.4 43.8L81.3 46.6L81.5 47.9L82.1 50.6L81.7 53.4L80.7 54.3L80.5 56.4L79.8 58.4L78.1 61.0L78.2 63.3L75.9 64.4L75.1 66.7M81.9 48.5L81.2 49.5L80.8 50.4L80.9 51.7L80.8 52.6M81.9 48.5L81.0 48.7L79.7 48.4L78.5 48.4L77.5 48.7M81.9 48.5L82.5 47.7L83.2 46.8L83.9 46.2M80.2 42.2L82.4 41.7L84.7 42.0L87.8 41.2L89.3 40.3L92.3 40.0L93.8 39.6L95.4 38.9L97.5 37.9L99.2 36.2L100.5 35.5L101.8 34.0L103.3 31.6L105.2 30.4M81.2 41.3L82.1 42.9L83.9 43.8L86.1 45.3L87.4 47.0L88.6 48.9L89.1 51.2L90.3 52.2L91.4 53.8L92.1 55.4L92.6 58.4L92.8 60.4L94.0 61.6L94.5 64.4L94.5 66.5M86.4 46.4L87.2 47.1L87.9 48.1L88.1 49.1M86.4 46.4L85.4 46.8L84.7 47.4L84.2 48.2M86.4 46.4L85.8 45.4L85.1 44.8L84.2 44.6L82.9 44.8L81.8 44.9M86.4 46.4L87.0 45.6L87.9 45.0L88.4 44.0L88.8 42.8L88.7 41.9M86.4 46.4L87.4 46.4L88.4 46.1L89.2 45.6L89.8 44.9L90.8 44.1M89.8 52.6L88.8 52.0L88.1 51.1M89.8 52.6L90.0 51.6L90.7 50.7M89.8 52.6L90.5 51.9L91.0 50.9M89.8 52.6L89.6 53.7L89.5 55.0M89.8 52.6L89.3 53.6L88.3 54.4L87.8 55.3M75.2 66.9L76.9 65.5L78.5 64.3L81.4 64.0L83.8 63.3L86.3 62.6L87.2 62.9L90.5 63.4L91.8 64.7L94.6 66.0M108.9 13.8L107.6 15.5L107.8 18.0L107.5 20.1L107.5 21.6L106.7 24.3L105.8 26.1L106.4 27.5L105.0 30.4M6.1 9.1L7.2 8.8L8.1 8.5L8.9 7.7L10.1 7.4L11.4 7.2M6.1 9.1L5.1 9.3L4.1 9.5L3.1 9.3L2.2 8.8L1.4 8.4L0.6 7.7L-0.0 6.9L-0.9 6.4M6.1 9.1L5.7 7.9L5.2 6.7L5.3 5.5L5.7 4.4L5.6 3.3L5.8 2.3L5.7 1.1L5.3 0.2M7.9 6.4L8.9 7.1L10.0 7.4L11.1 7.5M7.9 6.4L7.0 5.8L6.1 5.3M4.8 35.9L4.8 34.9L5.1 34.0L5.3 33.1L6.0 32.0L6.3 31.1L6.5 30.1L7.1 29.1L8.2 28.4L9.2 27.8M4.8 35.9L5.7 36.2L6.3 36.9L6.7 38.1L6.7 39.1L7.0 40.0M4.8 35.9L4.0 36.8L3.0 37.3L1.9 37.5L0.9 38.2L0.0 38.8L-1.1 38.8M1.3 38.7L1.4 39.8L0.9 41.0L1.0 42.1L0.8 43.2L0.9 44.5L0.7 45.6M1.3 38.7L1.5 37.7L1.5 36.7L1.8 35.6L2.7 34.6L3.0 33.5L3.8 32.7M1.3 38.7L2.5 39.0L3.6 39.1L4.5 38.9L5.4 39.0L6.5 38.6L7.7 38.5L8.8 38.9M13.2 71.3L14.1 72.0L15.1 72.2L15.9 72.9L16.5 73.6M13.2 71.3L12.2 72.0L11.5 72.8L11.0 73.7L10.3 74.3L9.7 75.2L8.8 75.9L8.2 76.6M13.2 71.3L12.3 71.2L11.3 71.0L10.4 70.4L9.9 69.6M13.2 71.3L13.7 70.2L14.4 69.1L15.2 68.5L15.9 67.5L16.7 66.8M13.2 71.3L13.9 70.4L14.1 69.4L14.2 68.2L14.1 66.9M9.4 69.5L9.0 70.3L8.7 71.3L8.3 72.2L7.5 73.1L6.7 73.6M9.4 69.5L9.7 68.3L9.6 67.0L10.0 66.1L10.0 64.9L9.6 63.9L9.2 62.8L8.6 62.1M9.4 69.5L9.6 70.8L10.1 71.6L10.4 72.4L11.1 73.3L11.9 74.0L12.4 75.1L13.1 75.8L13.7 76.7L14.1 77.5M35.3 16.0L35.7 17.2L35.7 18.3L36.1 19.3M35.3 16.0L35.0 15.0L34.9 14.1L34.6 13.2M35.3 16.0L36.1 15.3L36.8 14.4L37.9 13.9L39.1 13.6L40.0 13.2M36.8 45.1L35.8 44.4L35.1 43.4L34.4 42.4L33.7 41.8M36.8 45.1L37.3 44.3L38.2 43.6L39.0 42.6L39.9 41.7L40.2 40.6M36.8 45.1L36.8 46.2L37.0 47.1L37.0 48.1L36.5 49.2L36.2 50.2L36.3 51.4M34.8 42.9L35.8 42.5L36.8 42.4L37.7 41.9M34.8 42.9L33.8 43.4L32.8 43.6L31.7 43.9L30.5 44.3M53.1 55.5L52.6 54.5L52.0 53.7L51.5 52.8L50.9 52.0L50.6 50.9L50.1 49.9L50.1 48.9L49.9 47.8L49.7 46.6L49.3 45.5L48.5 44.7M53.1 55.5L53.9 54.9L55.0 54.3L56.1 54.2L57.3 54.1L58.3 53.8L59.2 53.2L60.1 52.8L61.1 52.7L62.2 52.9L63.3 53.0L64.3 52.7L65.3 52.7L66.2 52.6M53.1 55.5L53.7 56.4L54.6 57.2L55.0 58.2L55.4 59.4L56.2 60.2L56.8 60.9L57.2 62.1L57.7 63.2M55.8 56.1L55.1 55.3L54.4 54.4L54.0 53.2L53.5 52.3L53.4 51.1M55.8 56.1L56.8 55.6L57.8 55.2L58.5 54.7L59.7 54.4M55.8 56.1L56.2 57.0L56.5 58.0L56.5 59.1L56.1 60.1L55.8 61.1M78.9 3.3L79.4 4.3L80.3 5.1L81.4 5.8L82.1 6.4L83.1 6.8M78.9 3.3L77.7 3.6L76.8 4.3L75.9 4.8L74.8 4.8L73.6 5.1L72.5 5.7M78.9 3.3L78.3 2.4L77.8 1.5L77.1 0.8L76.1 0.2L75.3 -0.5L74.5 -1.4M78.9 3.3L79.9 2.9L80.8 2.3L81.8 2.1L83.0 2.2L84.1 2.3L85.0 2.1L86.1 1.7M75.6 0.1L76.5 -0.2L77.3 -0.7L78.5 -0.8L79.6 -1.0L80.6 -1.1M75.6 0.1L74.6 -0.1L73.4 -0.1L72.2 0.1L71.4 0.6L70.3 0.9L69.4 0.9M80.6 41.6L81.1 40.6L82.1 39.9L83.1 39.6L83.8 39.0L84.5 38.4L85.6 38.0L86.5 37.5M80.6 41.6L80.6 42.5L81.0 43.6L81.8 44.6L82.4 45.3L82.7 46.4L82.9 47.5L83.2 48.4M77.4 40.0L76.2 39.7L75.5 39.1L74.8 38.1M77.4 40.0L78.3 40.0L79.3 39.6L80.4 39.3M75.0 66.8L74.6 65.7L73.8 64.9L73.0 64.0L72.2 63.4L71.2 63.1L70.5 62.2M75.0 66.8L76.1 67.2L76.9 67.8L77.4 68.5L78.4 69.0L79.4 69.7L80.4 69.9L81.4 70.1M75.0 66.8L73.8 66.6L72.8 66.7L71.8 66.4L70.8 65.7M108.6 13.1L109.3 12.5L110.3 12.3L111.4 12.1L112.6 12.0L113.6 12.0M108.6 13.1L108.7 14.1L108.6 15.2L108.7 16.3L108.9 17.4L108.8 18.3L109.1 19.5L109.1 20.5L108.8 21.7L108.0 22.6M108.6 13.1L107.4 13.1L106.5 13.6L105.6 14.0L104.6 14.4M105.3 30.0L104.5 29.6L103.5 28.8L102.6 28.4L101.4 28.0L100.5 27.4L99.4 27.0M105.3 30.0L105.5 29.0L106.0 28.3L107.1 27.6L108.3 27.4L109.3 27.6L110.5 28.2L111.5 28.5L112.3 28.8M105.3 30.0L106.3 30.3L107.1 30.8L108.0 31.4L109.1 31.8L110.0 32.2L111.0 32.9M105.3 30.0L105.8 30.9L106.5 31.9L107.1 32.7L108.0 33.5L108.6 34.6L109.1 35.5L109.3 36.6L109.2 37.6M105.3 30.0L104.6 30.6L104.1 31.5L103.9 32.5L103.4 33.4L103.0 34.3M94.4 66.1L94.2 65.2L93.7 64.1L93.5 62.9L93.3 61.7L93.3 60.8L93.5 59.7L93.3 58.8L93.4 57.7M94.4 66.1L94.5 67.1L94.4 68.0L94.8 69.2L95.3 70.3L96.0 71.3L97.0 71.8L97.9 72.7M93.4 66.8L93.0 68.0L92.4 68.8L91.5 69.5L90.9 70.6M93.4 66.8L92.7 67.5L91.8 68.0L90.6 68.0L89.4 68.0L88.6 67.5L87.9 66.6M93.4 66.8L92.9 66.0L92.8 65.1L92.4 64.1L91.9 63.1L91.4 61.9L91.0 60.7L90.4 59.8M93.4 66.8L93.2 65.7L92.9 64.7L92.8 63.5L92.6 62.6L92.0 61.5M93.4 66.8L94.3 66.9L95.4 67.3L96.7 67.3L97.9 67.1L98.9 66.7L99.9 66.0M12.2 21.1L11.6 21.9L10.8 22.5L9.7 23.3M12.2 21.1L11.6 20.3L11.2 19.3L11.1 18.1L11.6 17.1M12.2 21.1L13.1 20.7L14.3 20.6L15.3 20.1L16.1 19.1L17.1 18.4M72.8 1.5L71.7 2.0L70.6 2.5L69.8 3.4L68.8 4.2M72.8 1.5L73.4 0.4L73.9 -0.4M105.6 11.2L104.7 10.9L103.4 10.8L102.3 10.9L101.3 10.7M105.6 11.2L106.3 10.4L106.9 9.5L108.0 8.8L108.5 8.1M105.6 11.2L106.0 12.1L105.9 13.3M48.9 2.3L48.4 1.2L48.0 0.2M48.9 2.3L49.7 1.6L50.4 0.7L51.2 0.1L52.0 -0.5M48.9 2.3L49.1 3.5L49.6 4.6M108.9 31.6L109.9 31.8L111.0 31.5M108.9 31.6L107.8 31.8L106.8 32.1L106.2 32.8L105.4 33.7L104.6 34.4M108.9 31.6L109.2 30.7L109.2 29.6L109.2 28.4M7.9 53.8L7.4 53.0L6.9 51.8M7.9 53.8L8.9 52.9L9.7 52.4L10.3 51.6L10.8 50.4M7.9 53.8L8.6 54.3L9.3 55.0L10.1 55.8L10.8 56.7M7.9 53.8L7.1 54.2L6.3 54.7M36.6 14.6L36.0 15.3L35.4 16.3L35.2 17.3M36.6 14.6L37.1 13.8L38.0 13.3L38.7 12.7L39.4 11.7M108.0 76.6L108.3 75.7L108.7 74.5L109.4 73.5M108.0 76.6L109.2 76.8L110.1 77.1L111.2 77.8L111.9 78.5L112.6 79.2M108.0 76.6L108.7 77.3L109.6 77.9L110.8 78.2L112.0 78.5M108.0 76.6L107.0 77.3L105.9 77.5L104.8 77.4L103.6 77.7M108.0 76.6L107.4 75.8L107.1 74.9L106.6 73.9L105.9 73.0M79.7 27.8L78.7 28.0L77.4 28.2L76.5 28.8L75.5 29.4M79.7 27.8L80.0 26.8L80.2 25.9L80.7 24.9L81.2 24.1M79.7 27.8L80.8 28.2L82.0 28.7L82.8 29.4L83.2 30.3L83.3 31.2L83.2 32.3M79.7 27.8L80.0 29.0L79.7 30.1L79.2 30.8L78.4 31.8L77.7 32.8M47.4 56.0L47.8 57.2L48.3 58.3M47.4 56.0L46.4 56.7L45.3 57.0M47.4 56.0L47.0 54.8L46.7 53.6M109.7 45.8L110.8 46.1L111.6 46.7L112.5 47.5L113.7 47.8M109.7 45.8L108.8 45.1L108.0 44.7L107.1 44.2L106.2 43.5M73.3 78.2L74.4 78.2L75.4 78.0L76.4 78.2L77.4 78.3L78.7 78.1M73.3 78.2L73.0 79.4L73.2 80.6L73.4 81.7L73.2 82.8M73.3 78.2L73.2 77.0L73.3 76.0L73.3 75.1L73.9 74.0L74.2 73.2M90.0 16.7L89.8 17.6L89.7 18.7L89.7 20.0M90.0 16.7L89.4 15.7L89.1 14.8M52.4 28.7L52.5 29.8L52.2 30.7M52.4 28.7L51.4 29.4L50.8 30.4M52.4 28.7L51.4 28.0L50.8 27.1M52.4 28.7L52.7 27.8L53.4 26.9" stroke-width="1.4"/><path d="M3.2 21.2L3.8 23.9L3.1 25.5L3.7 27.9M3.8 22.4L4.5 21.7L4.9 20.8M3.8 22.4L3.5 23.7L3.2 24.8L3.0 25.7M3.8 22.4L2.6 22.7L1.7 23.1M27.8 11.6L29.9 13.2L31.0 14.2L33.1 15.5M28.6 11.7L28.6 13.0M28.6 11.7L27.5 12.2M28.6 11.7L29.1 10.8M12.2 39.5L13.8 40.8L16.3 42.1L17.3 42.5M12.1 40.4L12.9 41.1L13.8 41.6M12.1 40.4L11.3 41.2L10.5 42.1M12.1 40.4L11.1 40.6L10.2 41.2M12.1 40.4L12.3 39.4M12.1 40.4L12.7 39.6L13.1 38.6L13.7 37.9M16.0 67.9L17.5 66.6L19.8 66.1L20.5 63.9M19.5 65.2L18.6 65.8L17.9 66.5M19.5 65.2L18.3 65.2L17.4 65.4M19.5 65.2L19.0 64.1M19.5 65.2L20.3 64.6L21.3 64.4M19.5 65.2L20.2 66.2L20.7 67.2M31.3 52.1L30.2 51.7M31.3 52.1L31.3 50.9M31.3 52.1L32.4 52.7M31.3 52.1L30.7 52.8L30.4 53.8M33.7 26.9L33.2 28.2L33.6 31.2L33.8 32.7M33.6 23.4L33.5 22.3M33.6 23.4L34.4 23.8M33.6 23.4L32.8 24.0M33.9 30.6L35.2 30.5M33.9 30.6L32.9 31.1L32.1 31.7M33.9 30.6L34.1 29.4L34.6 28.3M34.3 37.9L33.3 38.0L32.3 37.8M34.3 37.9L34.4 36.7L34.6 35.7L35.0 34.9M34.3 37.9L34.4 39.1M44.4 52.6L47.4 53.6L48.3 54.7L51.2 54.2M40.1 48.8L40.7 47.7L41.3 46.7M40.1 48.8L39.2 49.0L37.9 48.9M58.6 59.0L59.9 60.9L61.3 60.7L63.7 62.2M58.1 59.3L57.7 58.2L57.8 57.3M58.1 59.3L58.8 58.4L59.3 57.6M58.1 59.3L58.2 60.4L58.4 61.7M98.2 9.9L100.7 10.3L102.4 10.6L104.9 11.1M101.3 10.1L100.1 10.1L99.2 10.4M101.3 10.1L101.3 9.1M101.3 10.1L101.6 11.1L101.6 12.1M81.3 46.6L81.5 47.9L82.1 50.6L81.7 53.4M81.9 48.5L81.2 49.5L80.8 50.4M81.9 48.5L81.0 48.7L79.7 48.4M81.9 48.5L82.5 47.7L83.2 46.8M84.7 42.0L87.8 41.2L89.3 40.3L92.3 40.0M92.6 58.4L92.8 60.4L94.0 61.6L94.5 64.4M86.4 46.4L87.2 47.1L87.9 48.1M86.4 46.4L85.4 46.8L84.7 47.4M86.4 46.4L85.8 45.4L85.1 44.8L84.2 44.6M86.4 46.4L87.0 45.6L87.9 45.0L88.4 44.0M86.4 46.4L87.4 46.4L88.4 46.1L89.2 45.6M89.8 52.6L88.8 52.0M89.8 52.6L90.0 51.6M89.8 52.6L90.5 51.9M89.8 52.6L89.6 53.7M89.8 52.6L89.3 53.6L88.3 54.4M86.3 62.6L87.2 62.9L90.5 63.4L91.8 64.7M108.9 13.8L107.6 15.5L107.8 18.0L107.5 20.1M6.1 9.1L7.2 8.8L8.1 8.5L8.9 7.7M6.1 9.1L5.1 9.3L4.1 9.5L3.1 9.3L2.2 8.8M6.1 9.1L5.7 7.9L5.2 6.7L5.3 5.5L5.7 4.4M7.9 6.4L8.9 7.1L10.0 7.4M7.9 6.4L7.0 5.8M4.8 35.9L4.8 34.9L5.1 34.0L5.3 33.1L6.0 32.0L6.3 31.1M4.8 35.9L5.7 36.2L6.3 36.9L6.7 38.1M4.8 35.9L4.0 36.8L3.0 37.3L1.9 37.5M1.3 38.7L1.4 39.8L0.9 41.0L1.0 42.1M1.3 38.7L1.5 37.7L1.5 36.7L1.8 35.6M1.3 38.7L2.5 39.0L3.6 39.1L4.5 38.9L5.4 39.0M13.2 71.3L14.1 72.0L15.1 72.2M13.2 71.3L12.2 72.0L11.5 72.8L11.0 73.7L10.3 74.3M13.2 71.3L12.3 71.2L11.3 71.0M13.2 71.3L13.7 70.2L14.4 69.1L15.2 68.5M13.2 71.3L13.9 70.4L14.1 69.4M9.4 69.5L9.0 70.3L8.7 71.3L8.3 72.2M9.4 69.5L9.7 68.3L9.6 67.0L10.0 66.1L10.0 64.9M9.4 69.5L9.6 70.8L10.1 71.6L10.4 72.4L11.1 73.3L11.9 74.0M35.3 16.0L35.7 17.2L35.7 18.3M35.3 16.0L35.0 15.0L34.9 14.1M35.3 16.0L36.1 15.3L36.8 14.4L37.9 13.9M36.8 45.1L35.8 44.4L35.1 43.4M36.8 45.1L37.3 44.3L38.2 43.6L39.0 42.6M36.8 45.1L36.8 46.2L37.0 47.1L37.0 48.1M34.8 42.9L35.8 42.5L36.8 42.4M34.8 42.9L33.8 43.4L32.8 43.6M53.1 55.5L52.6 54.5L52.0 53.7L51.5 52.8L50.9 52.0L50.6 50.9L50.1 49.9M53.1 55.5L53.9 54.9L55.0 54.3L56.1 54.2L57.3 54.1L58.3 53.8L59.2 53.2L60.1 52.8M53.1 55.5L53.7 56.4L54.6 57.2L55.0 58.2L55.4 59.4M55.8 56.1L55.1 55.3L54.4 54.4L54.0 53.2M55.8 56.1L56.8 55.6L57.8 55.2M55.8 56.1L56.2 57.0L56.5 58.0L56.5 59.1M78.9 3.3L79.4 4.3L80.3 5.1L81.4 5.8M78.9 3.3L77.7 3.6L76.8 4.3L75.9 4.8M78.9 3.3L78.3 2.4L77.8 1.5L77.1 0.8M78.9 3.3L79.9 2.9L80.8 2.3L81.8 2.1L83.0 2.2M75.6 0.1L76.5 -0.2L77.3 -0.7L78.5 -0.8M75.6 0.1L74.6 -0.1L73.4 -0.1L72.2 0.1M80.6 41.6L81.1 40.6L82.1 39.9L83.1 39.6L83.8 39.0M80.6 41.6L80.6 42.5L81.0 43.6L81.8 44.6L82.4 45.3M77.4 40.0L76.2 39.7L75.5 39.1M77.4 40.0L78.3 40.0L79.3 39.6M75.0 66.8L74.6 65.7L73.8 64.9L73.0 64.0M75.0 66.8L76.1 67.2L76.9 67.8L77.4 68.5L78.4 69.0M75.0 66.8L73.8 66.6L72.8 66.7M108.6 13.1L109.3 12.5L110.3 12.3L111.4 12.1M108.6 13.1L108.7 14.1L108.6 15.2L108.7 16.3L108.9 17.4L108.8 18.3M108.6 13.1L107.4 13.1L106.5 13.6M105.3 30.0L104.5 29.6L103.5 28.8L102.6 28.4M105.3 30.0L105.5 29.0L106.0 28.3L107.1 27.6L108.3 27.4M105.3 30.0L106.3 30.3L107.1 30.8L108.0 31.4M105.3 30.0L105.8 30.9L106.5 31.9L107.1 32.7L108.0 33.5M105.3 30.0L104.6 30.6L104.1 31.5L103.9 32.5M94.4 66.1L94.2 65.2L93.7 64.1L93.5 62.9L93.3 61.7M94.4 66.1L94.5 67.1L94.4 68.0L94.8 69.2L95.3 70.3M93.4 66.8L93.0 68.0L92.4 68.8M93.4 66.8L92.7 67.5L91.8 68.0L90.6 68.0M93.4 66.8L92.9 66.0L92.8 65.1L92.4 64.1L91.9 63.1M93.4 66.8L93.2 65.7L92.9 64.7L92.8 63.5M93.4 66.8L94.3 66.9L95.4 67.3L96.7 67.3M12.2 21.1L11.6 21.9L10.8 22.5M12.2 21.1L11.6 20.3L11.2 19.3M12.2 21.1L13.1 20.7L14.3 20.6L15.3 20.1M72.8 1.5L71.7 2.0L70.6 2.5M72.8 1.5L73.4 0.4M105.6 11.2L104.7 10.9L103.4 10.8M105.6 11.2L106.3 10.4L106.9 9.5M105.6 11.2L106.0 12.1M48.9 2.3L48.4 1.2M48.9 2.3L49.7 1.6L50.4 0.7M48.9 2.3L49.1 3.5M108.9 31.6L109.9 31.8M108.9 31.6L107.8 31.8L106.8 32.1L106.2 32.8M108.9 31.6L109.2 30.7L109.2 29.6M7.9 53.8L7.4 53.0M7.9 53.8L8.9 52.9L9.7 52.4M7.9 53.8L8.6 54.3L9.3 55.0M7.9 53.8L7.1 54.2M36.6 14.6L36.0 15.3L35.4 16.3M36.6 14.6L37.1 13.8L38.0 13.3M108.0 76.6L108.3 75.7L108.7 74.5M108.0 76.6L109.2 76.8L110.1 77.1L111.2 77.8M108.0 76.6L108.7 77.3L109.6 77.9M108.0 76.6L107.0 77.3L105.9 77.5M108.0 76.6L107.4 75.8L107.1 74.9M79.7 27.8L78.7 28.0L77.4 28.2M79.7 27.8L80.0 26.8L80.2 25.9M79.7 27.8L80.8 28.2L82.0 28.7L82.8 29.4M79.7 27.8L80.0 29.0L79.7 30.1L79.2 30.8M47.4 56.0L47.8 57.2M47.4 56.0L46.4 56.7M47.4 56.0L47.0 54.8M109.7 45.8L110.8 46.1L111.6 46.7M109.7 45.8L108.8 45.1L108.0 44.7M73.3 78.2L74.4 78.2L75.4 78.0L76.4 78.2M73.3 78.2L73.0 79.4L73.2 80.6M73.3 78.2L73.2 77.0L73.3 76.0L73.3 75.1M90.0 16.7L89.8 17.6L89.7 18.7M90.0 16.7L89.4 15.7M52.4 28.7L52.5 29.8M52.4 28.7L51.4 29.4M52.4 28.7L51.4 28.0M52.4 28.7L52.7 27.8" stroke-width="2.3"/><path d="M3.8 22.4h0M5.0 23.7h0M28.6 11.7h0M28.1 12.6h0M12.1 40.4h0M10.7 40.3h0M19.5 65.2h0M31.3 52.1h0M30.9 52.5h0M33.6 23.4h0M33.9 30.6h0M34.3 37.9h0M34.2 36.5h0M40.1 48.8h0M58.1 59.3h0M101.3 10.1h0M81.9 48.5h0M86.4 46.4h0M86.1 45.4h0M89.8 52.6h0M6.1 9.1h0M6.7 7.4h0M4.7 7.4h0M7.9 6.4h0M4.8 35.9h0M6.5 33.3h0M2.0 33.2h0M4.8 33.9h0M1.3 38.7h0M-0.8 38.6h0M2.6 38.5h0M13.2 71.3h0M15.2 73.5h0M13.6 70.4h0M9.4 69.5h0M8.8 66.9h0M11.9 71.2h0M35.3 16.0h0M36.3 14.0h0M35.9 15.4h0M36.8 45.1h0M34.8 42.9h0M35.2 46.1h0M34.8 42.9h0M36.8 43.2h0M33.7 43.2h0M53.1 55.5h0M51.6 54.4h0M52.6 55.7h0M51.5 56.4h0M55.8 56.1h0M56.2 56.8h0M78.9 3.3h0M81.3 2.4h0M81.7 0.7h0M78.1 3.1h0M75.6 0.1h0M74.5 1.4h0M77.2 -2.3h0M80.6 41.6h0M82.6 41.0h0M80.3 40.1h0M77.4 40.0h0M76.4 38.7h0M75.0 66.8h0M73.8 67.3h0M76.4 66.3h0M108.6 13.1h0M109.9 15.9h0M108.7 15.2h0M105.3 30.0h0M105.4 28.5h0M107.7 29.2h0M94.4 66.1h0M94.9 67.8h0M91.3 67.6h0M92.8 63.3h0M93.4 66.8h0M94.3 65.6h0M95.3 66.2h0M12.2 21.1h0M72.8 1.5h0M71.1 2.1h0M105.6 11.2h0M104.5 12.8h0M48.9 2.3h0M108.9 31.6h0M7.9 53.8h0M36.6 14.6h0M108.0 76.6h0M106.7 76.8h0M79.7 27.8h0M77.9 26.3h0M47.4 56.0h0M109.7 45.8h0M73.3 78.2h0M90.0 16.7h0M52.4 28.7h0" stroke-width="3.6"/></g></svg>
<text x="619.80" y="293.80" font-size="9" text-anchor="end" fill="#e8e8e8">200 μm</text>
<line x1="597.50" y1="298.30" x2="615.90" y2="298.30" stroke="#e8e8e8" stroke-width="1.1"/>
<text x="619.80" y="372.10" font-size="9" text-anchor="end" fill="#e8e8e8">200 μm</text>
<line x1="596.20" y1="376.70" x2="613.20" y2="376.70" stroke="#e8e8e8" stroke-width="1.1"/>
<line x1="693.50" y1="11.80" x2="693.50" y2="107.60" stroke="#333" stroke-width="1.2"/>
<line x1="690.00" y1="107.10" x2="807.50" y2="107.10" stroke="#333" stroke-width="1.2"/>
<line x1="690.00" y1="107.10" x2="693.50" y2="107.10" stroke="#333" stroke-width="1"/>
<text transform="translate(689.20 110.45) scale(0.82 1)" font-size="9.3" text-anchor="end" fill="#2a2a2a">0</text>
<line x1="690.00" y1="88.14" x2="693.50" y2="88.14" stroke="#333" stroke-width="1"/>
<text transform="translate(689.20 91.49) scale(0.82 1)" font-size="9.3" text-anchor="end" fill="#2a2a2a">20</text>
<line x1="690.00" y1="69.18" x2="693.50" y2="69.18" stroke="#333" stroke-width="1"/>
<text transform="translate(689.20 72.53) scale(0.82 1)" font-size="9.3" text-anchor="end" fill="#2a2a2a">40</text>
<line x1="690.00" y1="50.22" x2="693.50" y2="50.22" stroke="#333" stroke-width="1"/>
<text transform="translate(689.20 53.57) scale(0.82 1)" font-size="9.3" text-anchor="end" fill="#2a2a2a">60</text>
<line x1="690.00" y1="31.26" x2="693.50" y2="31.26" stroke="#333" stroke-width="1"/>
<text transform="translate(689.20 34.61) scale(0.82 1)" font-size="9.3" text-anchor="end" fill="#2a2a2a">80</text>
<line x1="690.00" y1="12.30" x2="693.50" y2="12.30" stroke="#333" stroke-width="1"/>
<text transform="translate(689.20 15.65) scale(0.82 1)" font-size="9.3" text-anchor="end" fill="#2a2a2a">100</text>
<rect x="700.80" y="72.97" width="14.00" height="34.13" fill="#cdcdcd"/>
<line x1="707.80" y1="70.60" x2="707.80" y2="74.87" stroke="#5a5a5a" stroke-width="0.8"/>
<line x1="704.60" y1="70.60" x2="711.00" y2="70.60" stroke="#5a5a5a" stroke-width="0.8"/>
<line x1="704.60" y1="74.87" x2="711.00" y2="74.87" stroke="#5a5a5a" stroke-width="0.8"/>
<circle cx="705.80" cy="74.87" r="1.15" fill="#5a5a5a"/>
<circle cx="707.80" cy="72.97" r="1.15" fill="#5a5a5a"/>
<circle cx="709.80" cy="71.08" r="1.15" fill="#5a5a5a"/>
<rect x="722.00" y="68.71" width="14.00" height="38.39" fill="#acdcc0"/>
<line x1="729.00" y1="68.23" x2="729.00" y2="69.18" stroke="#1e5a38" stroke-width="0.8"/>
<line x1="725.80" y1="68.23" x2="732.20" y2="68.23" stroke="#1e5a38" stroke-width="0.8"/>
<line x1="725.80" y1="69.18" x2="732.20" y2="69.18" stroke="#1e5a38" stroke-width="0.8"/>
<circle cx="726.00" cy="68.71" r="1.15" fill="#1e5a38"/>
<circle cx="729.00" cy="68.23" r="1.15" fill="#1e5a38"/>
<circle cx="732.00" cy="68.71" r="1.15" fill="#1e5a38"/>
<rect x="743.60" y="50.22" width="14.00" height="56.88" fill="#fde2d2"/>
<line x1="750.60" y1="47.38" x2="750.60" y2="53.06" stroke="#d8a482" stroke-width="0.8"/>
<line x1="747.40" y1="47.38" x2="753.80" y2="47.38" stroke="#d8a482" stroke-width="0.8"/>
<line x1="747.40" y1="53.06" x2="753.80" y2="53.06" stroke="#d8a482" stroke-width="0.8"/>
<circle cx="750.60" cy="52.12" r="1.15" fill="#d8a482"/>
<circle cx="750.60" cy="50.22" r="1.15" fill="#d8a482"/>
<circle cx="750.60" cy="48.32" r="1.15" fill="#d8a482"/>
<rect x="764.50" y="41.69" width="14.00" height="65.41" fill="#ccd8ef"/>
<line x1="771.50" y1="34.10" x2="771.50" y2="49.27" stroke="#333a55" stroke-width="0.8"/>
<line x1="768.30" y1="34.10" x2="774.70" y2="34.10" stroke="#333a55" stroke-width="0.8"/>
<line x1="768.30" y1="49.27" x2="774.70" y2="49.27" stroke="#333a55" stroke-width="0.8"/>
<circle cx="771.50" cy="48.32" r="1.15" fill="#333a55"/>
<circle cx="771.50" cy="41.69" r="1.15" fill="#333a55"/>
<circle cx="771.50" cy="35.05" r="1.15" fill="#333a55"/>
<rect x="785.80" y="33.16" width="14.00" height="73.94" fill="#dac3e6"/>
<line x1="792.80" y1="29.84" x2="792.80" y2="36.95" stroke="#4a3a5a" stroke-width="0.8"/>
<line x1="789.60" y1="29.84" x2="796.00" y2="29.84" stroke="#4a3a5a" stroke-width="0.8"/>
<line x1="789.60" y1="36.95" x2="796.00" y2="36.95" stroke="#4a3a5a" stroke-width="0.8"/>
<circle cx="792.80" cy="36.00" r="1.15" fill="#4a3a5a"/>
<circle cx="792.80" cy="33.16" r="1.15" fill="#4a3a5a"/>
<circle cx="792.80" cy="30.31" r="1.15" fill="#4a3a5a"/>
<path d="M707.60 10.40V8.40H792.70V14.40" fill="none" stroke="#777" stroke-width="1"/>
<circle cx="744.00" cy="5.90" r="1.25" fill="#151515"/>
<circle cx="748.10" cy="5.90" r="1.25" fill="#151515"/>
<circle cx="752.20" cy="5.90" r="1.25" fill="#151515"/>
<circle cx="756.30" cy="5.90" r="1.25" fill="#151515"/>
<path d="M750.50 25.30V19.30H792.70V25.30" fill="none" stroke="#777" stroke-width="1"/>
<circle cx="769.55" cy="16.80" r="1.25" fill="#151515"/>
<circle cx="773.65" cy="16.80" r="1.25" fill="#151515"/>
<text transform="translate(671.86 59.50) rotate(-90) scale(0.82 1)" font-size="9.6" font-weight="bold" text-anchor="middle" fill="#111">Wound healing area (%)</text>
<text x="710.60" y="112.80" font-size="6.9" font-weight="bold" text-anchor="end" fill="#1a1a1a" transform="rotate(-45 710.5999999999999 112.8)">Ctrl</text>
<text x="731.80" y="112.80" font-size="6.9" font-weight="bold" text-anchor="end" fill="#1a1a1a" transform="rotate(-45 731.8 112.8)">SFH</text>
<text x="753.40" y="112.80" font-size="6.9" font-weight="bold" text-anchor="end" fill="#1a1a1a" transform="rotate(-45 753.4 112.8)">SAB@SFH</text>
<text x="774.30" y="112.80" font-size="6.9" font-weight="bold" text-anchor="end" fill="#1a1a1a" transform="rotate(-45 774.3 112.8)">SAB@SFH+SFM</text>
<text x="795.60" y="112.80" font-size="6.9" font-weight="bold" text-anchor="end" fill="#1a1a1a" transform="rotate(-45 795.5999999999999 112.8)">SAB@SFH+MSFM</text>
<line x1="689.10" y1="162.50" x2="689.10" y2="252.60" stroke="#333" stroke-width="1.2"/>
<line x1="685.60" y1="252.10" x2="822.60" y2="252.10" stroke="#333" stroke-width="1.2"/>
<line x1="685.60" y1="252.10" x2="689.10" y2="252.10" stroke="#333" stroke-width="1"/>
<text transform="translate(684.80 255.45) scale(0.88 1)" font-size="9.3" text-anchor="end" fill="#2a2a2a">0</text>
<line x1="685.60" y1="234.28" x2="689.10" y2="234.28" stroke="#333" stroke-width="1"/>
<text transform="translate(684.80 237.63) scale(0.88 1)" font-size="9.3" text-anchor="end" fill="#2a2a2a">20</text>
<line x1="685.60" y1="216.46" x2="689.10" y2="216.46" stroke="#333" stroke-width="1"/>
<text transform="translate(684.80 219.81) scale(0.88 1)" font-size="9.3" text-anchor="end" fill="#2a2a2a">40</text>
<line x1="685.60" y1="198.64" x2="689.10" y2="198.64" stroke="#333" stroke-width="1"/>
<text transform="translate(684.80 201.99) scale(0.88 1)" font-size="9.3" text-anchor="end" fill="#2a2a2a">60</text>
<line x1="685.60" y1="180.82" x2="689.10" y2="180.82" stroke="#333" stroke-width="1"/>
<text transform="translate(684.80 184.17) scale(0.88 1)" font-size="9.3" text-anchor="end" fill="#2a2a2a">80</text>
<line x1="685.60" y1="163.00" x2="689.10" y2="163.00" stroke="#333" stroke-width="1"/>
<text transform="translate(684.80 166.35) scale(0.88 1)" font-size="9.3" text-anchor="end" fill="#2a2a2a">100</text>
<rect x="693.70" y="231.61" width="8.00" height="20.49" fill="#d9d9d9"/>
<line x1="697.70" y1="228.04" x2="697.70" y2="234.28" stroke="#5a5a5a" stroke-width="0.8"/>
<line x1="695.90" y1="228.04" x2="699.50" y2="228.04" stroke="#5a5a5a" stroke-width="0.8"/>
<line x1="695.90" y1="234.28" x2="699.50" y2="234.28" stroke="#5a5a5a" stroke-width="0.8"/>
<circle cx="697.70" cy="233.39" r="1.15" fill="#5a5a5a"/>
<circle cx="697.70" cy="231.61" r="1.15" fill="#5a5a5a"/>
<circle cx="697.70" cy="228.93" r="1.15" fill="#5a5a5a"/>
<rect x="762.10" y="225.37" width="8.00" height="26.73" fill="#d9d9d9"/>
<line x1="766.10" y1="221.81" x2="766.10" y2="228.93" stroke="#5a5a5a" stroke-width="0.8"/>
<line x1="764.30" y1="221.81" x2="767.90" y2="221.81" stroke="#5a5a5a" stroke-width="0.8"/>
<line x1="764.30" y1="228.93" x2="767.90" y2="228.93" stroke="#5a5a5a" stroke-width="0.8"/>
<circle cx="766.10" cy="228.04" r="1.15" fill="#5a5a5a"/>
<circle cx="766.10" cy="225.37" r="1.15" fill="#5a5a5a"/>
<circle cx="766.10" cy="222.70" r="1.15" fill="#5a5a5a"/>
<rect x="705.90" y="223.59" width="8.00" height="28.51" fill="#a9d9ba"/>
<line x1="709.90" y1="220.91" x2="709.90" y2="226.26" stroke="#1e5a38" stroke-width="0.8"/>
<line x1="708.10" y1="220.91" x2="711.70" y2="220.91" stroke="#1e5a38" stroke-width="0.8"/>
<line x1="708.10" y1="226.26" x2="711.70" y2="226.26" stroke="#1e5a38" stroke-width="0.8"/>
<circle cx="709.90" cy="225.37" r="1.15" fill="#1e5a38"/>
<circle cx="709.90" cy="223.59" r="1.15" fill="#1e5a38"/>
<circle cx="709.90" cy="221.81" r="1.15" fill="#1e5a38"/>
<rect x="774.30" y="215.57" width="8.00" height="36.53" fill="#a9d9ba"/>
<line x1="778.30" y1="212.90" x2="778.30" y2="219.13" stroke="#1e5a38" stroke-width="0.8"/>
<line x1="776.50" y1="212.90" x2="780.10" y2="212.90" stroke="#1e5a38" stroke-width="0.8"/>
<line x1="776.50" y1="219.13" x2="780.10" y2="219.13" stroke="#1e5a38" stroke-width="0.8"/>
<circle cx="778.30" cy="218.24" r="1.15" fill="#1e5a38"/>
<circle cx="778.30" cy="215.57" r="1.15" fill="#1e5a38"/>
<circle cx="778.30" cy="213.79" r="1.15" fill="#1e5a38"/>
<rect x="717.90" y="202.20" width="8.00" height="49.90" fill="#fde4d4"/>
<line x1="721.90" y1="200.42" x2="721.90" y2="203.99" stroke="#d8a482" stroke-width="0.8"/>
<line x1="720.10" y1="200.42" x2="723.70" y2="200.42" stroke="#d8a482" stroke-width="0.8"/>
<line x1="720.10" y1="203.99" x2="723.70" y2="203.99" stroke="#d8a482" stroke-width="0.8"/>
<circle cx="721.90" cy="203.09" r="1.15" fill="#d8a482"/>
<circle cx="721.90" cy="202.20" r="1.15" fill="#d8a482"/>
<circle cx="721.90" cy="201.31" r="1.15" fill="#d8a482"/>
<rect x="786.30" y="198.64" width="8.00" height="53.46" fill="#fde4d4"/>
<line x1="790.30" y1="193.29" x2="790.30" y2="202.20" stroke="#d8a482" stroke-width="0.8"/>
<line x1="788.50" y1="193.29" x2="792.10" y2="193.29" stroke="#d8a482" stroke-width="0.8"/>
<line x1="788.50" y1="202.20" x2="792.10" y2="202.20" stroke="#d8a482" stroke-width="0.8"/>
<circle cx="790.30" cy="201.31" r="1.15" fill="#d8a482"/>
<circle cx="790.30" cy="198.64" r="1.15" fill="#d8a482"/>
<circle cx="790.30" cy="194.19" r="1.15" fill="#d8a482"/>
<rect x="730.00" y="198.64" width="8.00" height="53.46" fill="#d0dbf0"/>
<line x1="734.00" y1="195.97" x2="734.00" y2="199.53" stroke="#333a55" stroke-width="0.8"/>
<line x1="732.20" y1="195.97" x2="735.80" y2="195.97" stroke="#333a55" stroke-width="0.8"/>
<line x1="732.20" y1="199.53" x2="735.80" y2="199.53" stroke="#333a55" stroke-width="0.8"/>
<circle cx="734.00" cy="198.64" r="1.15" fill="#333a55"/>
<circle cx="734.00" cy="198.64" r="1.15" fill="#333a55"/>
<circle cx="734.00" cy="196.86" r="1.15" fill="#333a55"/>
<rect x="798.50" y="193.29" width="8.00" height="58.81" fill="#d0dbf0"/>
<line x1="802.50" y1="190.62" x2="802.50" y2="195.97" stroke="#333a55" stroke-width="0.8"/>
<line x1="800.70" y1="190.62" x2="804.30" y2="190.62" stroke="#333a55" stroke-width="0.8"/>
<line x1="800.70" y1="195.97" x2="804.30" y2="195.97" stroke="#333a55" stroke-width="0.8"/>
<circle cx="802.50" cy="195.08" r="1.15" fill="#333a55"/>
<circle cx="802.50" cy="193.29" r="1.15" fill="#333a55"/>
<circle cx="802.50" cy="191.51" r="1.15" fill="#333a55"/>
<rect x="742.00" y="190.62" width="8.00" height="61.48" fill="#dcc6e8"/>
<line x1="746.00" y1="187.95" x2="746.00" y2="192.40" stroke="#4a3a5a" stroke-width="0.8"/>
<line x1="744.20" y1="187.95" x2="747.80" y2="187.95" stroke="#4a3a5a" stroke-width="0.8"/>
<line x1="744.20" y1="192.40" x2="747.80" y2="192.40" stroke="#4a3a5a" stroke-width="0.8"/>
<circle cx="746.00" cy="191.51" r="1.15" fill="#4a3a5a"/>
<circle cx="746.00" cy="190.62" r="1.15" fill="#4a3a5a"/>
<circle cx="746.00" cy="188.84" r="1.15" fill="#4a3a5a"/>
<rect x="810.70" y="183.49" width="8.00" height="68.61" fill="#dcc6e8"/>
<line x1="814.70" y1="180.82" x2="814.70" y2="186.17" stroke="#4a3a5a" stroke-width="0.8"/>
<line x1="812.90" y1="180.82" x2="816.50" y2="180.82" stroke="#4a3a5a" stroke-width="0.8"/>
<line x1="812.90" y1="186.17" x2="816.50" y2="186.17" stroke="#4a3a5a" stroke-width="0.8"/>
<circle cx="814.70" cy="185.27" r="1.15" fill="#4a3a5a"/>
<circle cx="814.70" cy="183.49" r="1.15" fill="#4a3a5a"/>
<circle cx="814.70" cy="181.71" r="1.15" fill="#4a3a5a"/>
<path d="M709.80 197.70V192.70H722.00V197.70" fill="none" stroke="#777" stroke-width="1"/>
<circle cx="713.85" cy="188.50" r="1.25" fill="#151515"/>
<circle cx="717.95" cy="188.50" r="1.25" fill="#151515"/>
<path d="M722.00 185.50V180.50H746.00V185.50" fill="none" stroke="#777" stroke-width="1"/>
<circle cx="734.00" cy="176.30" r="1.25" fill="#151515"/>
<path d="M778.20 190.40V185.40H790.30V190.40" fill="none" stroke="#777" stroke-width="1"/>
<circle cx="784.25" cy="181.20" r="1.25" fill="#151515"/>
<path d="M790.30 178.20V173.20H814.70V178.20" fill="none" stroke="#777" stroke-width="1"/>
<circle cx="802.50" cy="169.00" r="1.25" fill="#151515"/>
<text transform="translate(669.29 207.50) rotate(-90) scale(1 1)" font-size="8.3" font-weight="bold" text-anchor="middle" fill="#111">Number of branches</text>
<text x="721.50" y="264.30" font-size="9.8" text-anchor="middle" fill="#111">4</text>
<text x="790.00" y="264.30" font-size="9.8" text-anchor="middle" fill="#111">8</text>
<text x="757.00" y="272.00" font-size="8.5" font-weight="bold" text-anchor="middle" fill="#111">Time (hour)</text>
<line x1="688.10" y1="284.00" x2="688.10" y2="373.40" stroke="#333" stroke-width="1.2"/>
<line x1="684.60" y1="372.90" x2="823.00" y2="372.90" stroke="#333" stroke-width="1.2"/>
<line x1="684.60" y1="372.90" x2="688.10" y2="372.90" stroke="#333" stroke-width="1"/>
<text transform="translate(683.80 376.25) scale(0.88 1)" font-size="9.3" text-anchor="end" fill="#2a2a2a">0</text>
<line x1="684.60" y1="350.80" x2="688.10" y2="350.80" stroke="#333" stroke-width="1"/>
<text transform="translate(683.80 354.15) scale(0.88 1)" font-size="9.3" text-anchor="end" fill="#2a2a2a">20</text>
<line x1="684.60" y1="328.70" x2="688.10" y2="328.70" stroke="#333" stroke-width="1"/>
<text transform="translate(683.80 332.05) scale(0.88 1)" font-size="9.3" text-anchor="end" fill="#2a2a2a">40</text>
<line x1="684.60" y1="306.60" x2="688.10" y2="306.60" stroke="#333" stroke-width="1"/>
<text transform="translate(683.80 309.95) scale(0.88 1)" font-size="9.3" text-anchor="end" fill="#2a2a2a">60</text>
<line x1="684.60" y1="284.50" x2="688.10" y2="284.50" stroke="#333" stroke-width="1"/>
<text transform="translate(683.80 287.85) scale(0.88 1)" font-size="9.3" text-anchor="end" fill="#2a2a2a">80</text>
<rect x="692.10" y="356.32" width="8.00" height="16.57" fill="#d9d9d9"/>
<line x1="696.10" y1="354.11" x2="696.10" y2="357.43" stroke="#5a5a5a" stroke-width="0.8"/>
<line x1="694.30" y1="354.11" x2="697.90" y2="354.11" stroke="#5a5a5a" stroke-width="0.8"/>
<line x1="694.30" y1="357.43" x2="697.90" y2="357.43" stroke="#5a5a5a" stroke-width="0.8"/>
<circle cx="696.10" cy="356.32" r="1.15" fill="#5a5a5a"/>
<circle cx="696.10" cy="356.32" r="1.15" fill="#5a5a5a"/>
<circle cx="696.10" cy="355.22" r="1.15" fill="#5a5a5a"/>
<rect x="760.50" y="346.38" width="8.00" height="26.52" fill="#d9d9d9"/>
<line x1="764.50" y1="343.06" x2="764.50" y2="348.59" stroke="#5a5a5a" stroke-width="0.8"/>
<line x1="762.70" y1="343.06" x2="766.30" y2="343.06" stroke="#5a5a5a" stroke-width="0.8"/>
<line x1="762.70" y1="348.59" x2="766.30" y2="348.59" stroke="#5a5a5a" stroke-width="0.8"/>
<circle cx="764.50" cy="347.48" r="1.15" fill="#5a5a5a"/>
<circle cx="764.50" cy="346.38" r="1.15" fill="#5a5a5a"/>
<circle cx="764.50" cy="344.17" r="1.15" fill="#5a5a5a"/>
<rect x="704.20" y="345.27" width="8.00" height="27.62" fill="#a9d9ba"/>
<line x1="708.20" y1="341.96" x2="708.20" y2="346.38" stroke="#1e5a38" stroke-width="0.8"/>
<line x1="706.40" y1="341.96" x2="710.00" y2="341.96" stroke="#1e5a38" stroke-width="0.8"/>
<line x1="706.40" y1="346.38" x2="710.00" y2="346.38" stroke="#1e5a38" stroke-width="0.8"/>
<circle cx="708.20" cy="345.27" r="1.15" fill="#1e5a38"/>
<circle cx="708.20" cy="345.27" r="1.15" fill="#1e5a38"/>
<circle cx="708.20" cy="343.06" r="1.15" fill="#1e5a38"/>
<rect x="772.80" y="330.91" width="8.00" height="41.99" fill="#a9d9ba"/>
<line x1="776.80" y1="327.59" x2="776.80" y2="333.12" stroke="#1e5a38" stroke-width="0.8"/>
<line x1="775.00" y1="327.59" x2="778.60" y2="327.59" stroke="#1e5a38" stroke-width="0.8"/>
<line x1="775.00" y1="333.12" x2="778.60" y2="333.12" stroke="#1e5a38" stroke-width="0.8"/>
<circle cx="776.80" cy="332.01" r="1.15" fill="#1e5a38"/>
<circle cx="776.80" cy="330.91" r="1.15" fill="#1e5a38"/>
<circle cx="776.80" cy="328.70" r="1.15" fill="#1e5a38"/>
<rect x="716.30" y="326.49" width="8.00" height="46.41" fill="#fde4d4"/>
<line x1="720.30" y1="324.28" x2="720.30" y2="328.70" stroke="#d8a482" stroke-width="0.8"/>
<line x1="718.50" y1="324.28" x2="722.10" y2="324.28" stroke="#d8a482" stroke-width="0.8"/>
<line x1="718.50" y1="328.70" x2="722.10" y2="328.70" stroke="#d8a482" stroke-width="0.8"/>
<circle cx="720.30" cy="327.59" r="1.15" fill="#d8a482"/>
<circle cx="720.30" cy="326.49" r="1.15" fill="#d8a482"/>
<circle cx="720.30" cy="325.38" r="1.15" fill="#d8a482"/>
<rect x="784.80" y="312.12" width="8.00" height="60.77" fill="#fde4d4"/>
<line x1="788.80" y1="309.91" x2="788.80" y2="313.23" stroke="#d8a482" stroke-width="0.8"/>
<line x1="787.00" y1="309.91" x2="790.60" y2="309.91" stroke="#d8a482" stroke-width="0.8"/>
<line x1="787.00" y1="313.23" x2="790.60" y2="313.23" stroke="#d8a482" stroke-width="0.8"/>
<circle cx="788.80" cy="312.12" r="1.15" fill="#d8a482"/>
<circle cx="788.80" cy="312.12" r="1.15" fill="#d8a482"/>
<circle cx="788.80" cy="311.02" r="1.15" fill="#d8a482"/>
<rect x="728.50" y="326.49" width="8.00" height="46.41" fill="#d0dbf0"/>
<line x1="732.50" y1="324.28" x2="732.50" y2="327.59" stroke="#333a55" stroke-width="0.8"/>
<line x1="730.70" y1="324.28" x2="734.30" y2="324.28" stroke="#333a55" stroke-width="0.8"/>
<line x1="730.70" y1="327.59" x2="734.30" y2="327.59" stroke="#333a55" stroke-width="0.8"/>
<circle cx="732.50" cy="326.49" r="1.15" fill="#333a55"/>
<circle cx="732.50" cy="326.49" r="1.15" fill="#333a55"/>
<circle cx="732.50" cy="325.38" r="1.15" fill="#333a55"/>
<rect x="797.00" y="309.91" width="8.00" height="62.99" fill="#d0dbf0"/>
<line x1="801.00" y1="306.60" x2="801.00" y2="312.12" stroke="#333a55" stroke-width="0.8"/>
<line x1="799.20" y1="306.60" x2="802.80" y2="306.60" stroke="#333a55" stroke-width="0.8"/>
<line x1="799.20" y1="312.12" x2="802.80" y2="312.12" stroke="#333a55" stroke-width="0.8"/>
<circle cx="801.00" cy="311.02" r="1.15" fill="#333a55"/>
<circle cx="801.00" cy="309.91" r="1.15" fill="#333a55"/>
<circle cx="801.00" cy="307.70" r="1.15" fill="#333a55"/>
<rect x="740.50" y="317.65" width="8.00" height="55.25" fill="#dcc6e8"/>
<line x1="744.50" y1="314.33" x2="744.50" y2="320.96" stroke="#4a3a5a" stroke-width="0.8"/>
<line x1="742.70" y1="314.33" x2="746.30" y2="314.33" stroke="#4a3a5a" stroke-width="0.8"/>
<line x1="742.70" y1="320.96" x2="746.30" y2="320.96" stroke="#4a3a5a" stroke-width="0.8"/>
<circle cx="744.50" cy="319.86" r="1.15" fill="#4a3a5a"/>
<circle cx="744.50" cy="317.65" r="1.15" fill="#4a3a5a"/>
<circle cx="744.50" cy="315.44" r="1.15" fill="#4a3a5a"/>
<rect x="809.00" y="301.07" width="8.00" height="71.82" fill="#dcc6e8"/>
<line x1="813.00" y1="297.76" x2="813.00" y2="303.28" stroke="#4a3a5a" stroke-width="0.8"/>
<line x1="811.20" y1="297.76" x2="814.80" y2="297.76" stroke="#4a3a5a" stroke-width="0.8"/>
<line x1="811.20" y1="303.28" x2="814.80" y2="303.28" stroke="#4a3a5a" stroke-width="0.8"/>
<circle cx="813.00" cy="302.18" r="1.15" fill="#4a3a5a"/>
<circle cx="813.00" cy="301.07" r="1.15" fill="#4a3a5a"/>
<circle cx="813.00" cy="298.87" r="1.15" fill="#4a3a5a"/>
<path d="M708.50 325.90V320.90H720.80V325.90" fill="none" stroke="#777" stroke-width="1"/>
<circle cx="712.60" cy="316.70" r="1.25" fill="#151515"/>
<circle cx="716.70" cy="316.70" r="1.25" fill="#151515"/>
<path d="M720.80 312.20V307.20H744.80V312.20" fill="none" stroke="#777" stroke-width="1"/>
<circle cx="730.75" cy="303.00" r="1.25" fill="#151515"/>
<circle cx="734.85" cy="303.00" r="1.25" fill="#151515"/>
<path d="M777.30 306.70V301.70H789.30V306.70" fill="none" stroke="#777" stroke-width="1"/>
<circle cx="781.25" cy="297.50" r="1.25" fill="#151515"/>
<circle cx="785.35" cy="297.50" r="1.25" fill="#151515"/>
<path d="M789.30 292.60V287.60H813.50V292.60" fill="none" stroke="#777" stroke-width="1"/>
<circle cx="801.40" cy="283.40" r="1.25" fill="#151515"/>
<text transform="translate(669.86 328.50) rotate(-90) scale(1 1)" font-size="8.5" font-weight="bold" text-anchor="middle" fill="#111">Number of junctions</text>
<text x="720.30" y="385.00" font-size="9.8" text-anchor="middle" fill="#111">4</text>
<text x="788.90" y="385.20" font-size="9.8" text-anchor="middle" fill="#111">8</text>
<text x="753.70" y="394.50" font-size="8.5" font-weight="bold" text-anchor="middle" fill="#111">Time (hour)</text>
<line x1="52.30" y1="427.90" x2="52.30" y2="528.10" stroke="#333" stroke-width="1.2"/>
<line x1="48.80" y1="527.60" x2="172.40" y2="527.60" stroke="#333" stroke-width="1.2"/>
<line x1="48.80" y1="527.60" x2="52.30" y2="527.60" stroke="#333" stroke-width="1"/>
<text transform="translate(48.00 531.38) scale(0.92 1)" font-size="10.5" text-anchor="end" fill="#2a2a2a">0</text>
<line x1="48.80" y1="502.80" x2="52.30" y2="502.80" stroke="#333" stroke-width="1"/>
<text transform="translate(48.00 506.58) scale(0.92 1)" font-size="10.5" text-anchor="end" fill="#2a2a2a">5</text>
<line x1="48.80" y1="478.00" x2="52.30" y2="478.00" stroke="#333" stroke-width="1"/>
<text transform="translate(48.00 481.78) scale(0.92 1)" font-size="10.5" text-anchor="end" fill="#2a2a2a">10</text>
<line x1="48.80" y1="453.20" x2="52.30" y2="453.20" stroke="#333" stroke-width="1"/>
<text transform="translate(48.00 456.98) scale(0.92 1)" font-size="10.5" text-anchor="end" fill="#2a2a2a">15</text>
<line x1="48.80" y1="428.40" x2="52.30" y2="428.40" stroke="#333" stroke-width="1"/>
<text transform="translate(48.00 432.18) scale(0.92 1)" font-size="10.5" text-anchor="end" fill="#2a2a2a">20</text>
<rect x="60.20" y="522.64" width="14.80" height="4.96" fill="#cdcdcd"/>
<line x1="67.60" y1="521.65" x2="67.60" y2="523.63" stroke="#5a5a5a" stroke-width="0.8"/>
<line x1="64.40" y1="521.65" x2="70.80" y2="521.65" stroke="#5a5a5a" stroke-width="0.8"/>
<line x1="64.40" y1="523.63" x2="70.80" y2="523.63" stroke="#5a5a5a" stroke-width="0.8"/>
<circle cx="64.60" cy="522.64" r="1.15" fill="#5a5a5a"/>
<circle cx="67.60" cy="522.64" r="1.15" fill="#5a5a5a"/>
<circle cx="70.60" cy="522.64" r="1.15" fill="#5a5a5a"/>
<rect x="82.30" y="522.14" width="14.80" height="5.46" fill="#acdcc0"/>
<line x1="89.70" y1="521.15" x2="89.70" y2="523.14" stroke="#1e5a38" stroke-width="0.8"/>
<line x1="86.50" y1="521.15" x2="92.90" y2="521.15" stroke="#1e5a38" stroke-width="0.8"/>
<line x1="86.50" y1="523.14" x2="92.90" y2="523.14" stroke="#1e5a38" stroke-width="0.8"/>
<circle cx="86.70" cy="522.14" r="1.15" fill="#1e5a38"/>
<circle cx="89.70" cy="522.14" r="1.15" fill="#1e5a38"/>
<circle cx="92.70" cy="522.14" r="1.15" fill="#1e5a38"/>
<rect x="104.40" y="462.13" width="14.80" height="65.47" fill="#fde2d2"/>
<line x1="111.80" y1="454.69" x2="111.80" y2="468.08" stroke="#d8a482" stroke-width="0.8"/>
<line x1="108.60" y1="454.69" x2="115.00" y2="454.69" stroke="#d8a482" stroke-width="0.8"/>
<line x1="108.60" y1="468.08" x2="115.00" y2="468.08" stroke="#d8a482" stroke-width="0.8"/>
<circle cx="111.80" cy="466.07" r="1.15" fill="#d8a482"/>
<circle cx="111.80" cy="462.13" r="1.15" fill="#d8a482"/>
<circle cx="111.80" cy="456.70" r="1.15" fill="#d8a482"/>
<rect x="126.50" y="469.57" width="14.80" height="58.03" fill="#ccd8ef"/>
<line x1="133.90" y1="461.63" x2="133.90" y2="477.01" stroke="#333a55" stroke-width="0.8"/>
<line x1="130.70" y1="461.63" x2="137.10" y2="461.63" stroke="#333a55" stroke-width="0.8"/>
<line x1="130.70" y1="477.01" x2="137.10" y2="477.01" stroke="#333a55" stroke-width="0.8"/>
<circle cx="133.90" cy="474.70" r="1.15" fill="#333a55"/>
<circle cx="133.90" cy="469.57" r="1.15" fill="#333a55"/>
<circle cx="133.90" cy="463.94" r="1.15" fill="#333a55"/>
<rect x="149.40" y="445.26" width="14.80" height="82.34" fill="#dac3e6"/>
<line x1="156.80" y1="439.31" x2="156.80" y2="450.72" stroke="#4a3a5a" stroke-width="0.8"/>
<line x1="153.60" y1="439.31" x2="160.00" y2="439.31" stroke="#4a3a5a" stroke-width="0.8"/>
<line x1="153.60" y1="450.72" x2="160.00" y2="450.72" stroke="#4a3a5a" stroke-width="0.8"/>
<circle cx="156.80" cy="449.01" r="1.15" fill="#4a3a5a"/>
<circle cx="156.80" cy="445.26" r="1.15" fill="#4a3a5a"/>
<circle cx="156.80" cy="441.02" r="1.15" fill="#4a3a5a"/>
<path d="M67.60 417.70V411.70H135.60V417.70" fill="none" stroke="#777" stroke-width="1"/>
<circle cx="95.45" cy="409.20" r="1.25" fill="#151515"/>
<circle cx="99.55" cy="409.20" r="1.25" fill="#151515"/>
<circle cx="103.65" cy="409.20" r="1.25" fill="#151515"/>
<circle cx="107.75" cy="409.20" r="1.25" fill="#151515"/>
<path d="M67.60 432.40V426.40H111.80V432.40" fill="none" stroke="#777" stroke-width="1"/>
<circle cx="83.55" cy="423.90" r="1.25" fill="#151515"/>
<circle cx="87.65" cy="423.90" r="1.25" fill="#151515"/>
<circle cx="91.75" cy="423.90" r="1.25" fill="#151515"/>
<circle cx="95.85" cy="423.90" r="1.25" fill="#151515"/>
<path d="M113.90 432.40V426.40H156.80V432.40" fill="none" stroke="#777" stroke-width="1"/>
<circle cx="135.35" cy="423.90" r="1.25" fill="#151515"/>
<text transform="translate(28.95 474.70) rotate(-90) scale(1 1)" font-size="8.2" font-weight="bold" text-anchor="middle" fill="#111">Relative mRNA expression</text>
<text x="111.60" y="538.40" font-size="8.5" font-weight="bold" font-style="italic" text-anchor="middle" fill="#111">HIF-α</text>
<line x1="209.20" y1="423.80" x2="209.20" y2="527.80" stroke="#333" stroke-width="1.2"/>
<line x1="205.70" y1="527.30" x2="328.00" y2="527.30" stroke="#333" stroke-width="1.2"/>
<line x1="205.70" y1="527.30" x2="209.20" y2="527.30" stroke="#333" stroke-width="1"/>
<text transform="translate(204.90 531.08) scale(0.92 1)" font-size="10.5" text-anchor="end" fill="#2a2a2a">0</text>
<line x1="205.70" y1="506.70" x2="209.20" y2="506.70" stroke="#333" stroke-width="1"/>
<text transform="translate(204.90 510.48) scale(0.92 1)" font-size="10.5" text-anchor="end" fill="#2a2a2a">1</text>
<line x1="205.70" y1="486.10" x2="209.20" y2="486.10" stroke="#333" stroke-width="1"/>
<text transform="translate(204.90 489.88) scale(0.92 1)" font-size="10.5" text-anchor="end" fill="#2a2a2a">2</text>
<line x1="205.70" y1="465.50" x2="209.20" y2="465.50" stroke="#333" stroke-width="1"/>
<text transform="translate(204.90 469.28) scale(0.92 1)" font-size="10.5" text-anchor="end" fill="#2a2a2a">3</text>
<line x1="205.70" y1="444.90" x2="209.20" y2="444.90" stroke="#333" stroke-width="1"/>
<text transform="translate(204.90 448.68) scale(0.92 1)" font-size="10.5" text-anchor="end" fill="#2a2a2a">4</text>
<line x1="205.70" y1="424.30" x2="209.20" y2="424.30" stroke="#333" stroke-width="1"/>
<text transform="translate(204.90 428.08) scale(0.92 1)" font-size="10.5" text-anchor="end" fill="#2a2a2a">5</text>
<rect x="216.80" y="506.70" width="14.80" height="20.60" fill="#cdcdcd"/>
<line x1="224.20" y1="506.29" x2="224.20" y2="507.11" stroke="#5a5a5a" stroke-width="0.8"/>
<line x1="221.00" y1="506.29" x2="227.40" y2="506.29" stroke="#5a5a5a" stroke-width="0.8"/>
<line x1="221.00" y1="507.11" x2="227.40" y2="507.11" stroke="#5a5a5a" stroke-width="0.8"/>
<circle cx="221.20" cy="506.70" r="1.15" fill="#5a5a5a"/>
<circle cx="224.20" cy="506.70" r="1.15" fill="#5a5a5a"/>
<circle cx="227.20" cy="506.70" r="1.15" fill="#5a5a5a"/>
<rect x="240.50" y="504.02" width="14.80" height="23.28" fill="#acdcc0"/>
<line x1="247.90" y1="499.49" x2="247.90" y2="507.73" stroke="#1e5a38" stroke-width="0.8"/>
<line x1="244.70" y1="499.49" x2="251.10" y2="499.49" stroke="#1e5a38" stroke-width="0.8"/>
<line x1="244.70" y1="507.73" x2="251.10" y2="507.73" stroke="#1e5a38" stroke-width="0.8"/>
<circle cx="244.90" cy="504.02" r="1.15" fill="#1e5a38"/>
<circle cx="247.90" cy="504.02" r="1.15" fill="#1e5a38"/>
<circle cx="250.90" cy="504.02" r="1.15" fill="#1e5a38"/>
<rect x="263.40" y="452.11" width="14.80" height="75.19" fill="#fde2d2"/>
<line x1="270.80" y1="443.87" x2="270.80" y2="459.32" stroke="#d8a482" stroke-width="0.8"/>
<line x1="267.60" y1="443.87" x2="274.00" y2="443.87" stroke="#d8a482" stroke-width="0.8"/>
<line x1="267.60" y1="459.32" x2="274.00" y2="459.32" stroke="#d8a482" stroke-width="0.8"/>
<circle cx="270.80" cy="457.00" r="1.15" fill="#d8a482"/>
<circle cx="270.80" cy="452.11" r="1.15" fill="#d8a482"/>
<circle cx="270.80" cy="446.19" r="1.15" fill="#d8a482"/>
<rect x="286.60" y="480.33" width="14.80" height="46.97" fill="#ccd8ef"/>
<line x1="294.00" y1="473.33" x2="294.00" y2="486.10" stroke="#333a55" stroke-width="0.8"/>
<line x1="290.80" y1="473.33" x2="297.20" y2="473.33" stroke="#333a55" stroke-width="0.8"/>
<line x1="290.80" y1="486.10" x2="297.20" y2="486.10" stroke="#333a55" stroke-width="0.8"/>
<circle cx="294.00" cy="484.18" r="1.15" fill="#333a55"/>
<circle cx="294.00" cy="480.33" r="1.15" fill="#333a55"/>
<circle cx="294.00" cy="475.24" r="1.15" fill="#333a55"/>
<rect x="310.30" y="449.43" width="14.80" height="77.87" fill="#dac3e6"/>
<line x1="317.70" y1="437.69" x2="317.70" y2="460.35" stroke="#4a3a5a" stroke-width="0.8"/>
<line x1="314.50" y1="437.69" x2="320.90" y2="437.69" stroke="#4a3a5a" stroke-width="0.8"/>
<line x1="314.50" y1="460.35" x2="320.90" y2="460.35" stroke="#4a3a5a" stroke-width="0.8"/>
<circle cx="317.70" cy="456.95" r="1.15" fill="#4a3a5a"/>
<circle cx="317.70" cy="449.43" r="1.15" fill="#4a3a5a"/>
<circle cx="317.70" cy="441.09" r="1.15" fill="#4a3a5a"/>
<path d="M224.30 412.80V406.80H317.70V412.80" fill="none" stroke="#777" stroke-width="1"/>
<circle cx="264.85" cy="404.30" r="1.25" fill="#151515"/>
<circle cx="268.95" cy="404.30" r="1.25" fill="#151515"/>
<circle cx="273.05" cy="404.30" r="1.25" fill="#151515"/>
<circle cx="277.15" cy="404.30" r="1.25" fill="#151515"/>
<path d="M224.30 426.80V420.80H294.00V426.80" fill="none" stroke="#777" stroke-width="1"/>
<circle cx="257.10" cy="418.30" r="1.25" fill="#151515"/>
<circle cx="261.20" cy="418.30" r="1.25" fill="#151515"/>
<path d="M224.30 441.00V435.00H270.90V441.00" fill="none" stroke="#777" stroke-width="1"/>
<circle cx="241.45" cy="432.50" r="1.25" fill="#151515"/>
<circle cx="245.55" cy="432.50" r="1.25" fill="#151515"/>
<circle cx="249.65" cy="432.50" r="1.25" fill="#151515"/>
<circle cx="253.75" cy="432.50" r="1.25" fill="#151515"/>
<text transform="translate(190.79 471.70) rotate(-90) scale(1 1)" font-size="8.3" font-weight="bold" text-anchor="middle" fill="#111">Relative mRNA expression</text>
<text x="272.60" y="538.40" font-size="8.5" font-weight="bold" font-style="italic" text-anchor="middle" fill="#111">FGF</text>
<line x1="375.10" y1="424.80" x2="375.10" y2="527.10" stroke="#333" stroke-width="1.2"/>
<line x1="371.60" y1="526.60" x2="497.00" y2="526.60" stroke="#333" stroke-width="1.2"/>
<line x1="371.60" y1="526.60" x2="375.10" y2="526.60" stroke="#333" stroke-width="1"/>
<text transform="translate(370.80 530.38) scale(0.92 1)" font-size="10.5" text-anchor="end" fill="#2a2a2a">0</text>
<line x1="371.60" y1="501.28" x2="375.10" y2="501.28" stroke="#333" stroke-width="1"/>
<text transform="translate(370.80 505.06) scale(0.92 1)" font-size="10.5" text-anchor="end" fill="#2a2a2a">5</text>
<line x1="371.60" y1="475.95" x2="375.10" y2="475.95" stroke="#333" stroke-width="1"/>
<text transform="translate(370.80 479.73) scale(0.92 1)" font-size="10.5" text-anchor="end" fill="#2a2a2a">10</text>
<line x1="371.60" y1="450.62" x2="375.10" y2="450.62" stroke="#333" stroke-width="1"/>
<text transform="translate(370.80 454.40) scale(0.92 1)" font-size="10.5" text-anchor="end" fill="#2a2a2a">15</text>
<line x1="371.60" y1="425.30" x2="375.10" y2="425.30" stroke="#333" stroke-width="1"/>
<text transform="translate(370.80 429.08) scale(0.92 1)" font-size="10.5" text-anchor="end" fill="#2a2a2a">20</text>
<rect x="382.90" y="521.53" width="14.80" height="5.07" fill="#cdcdcd"/>
<line x1="390.30" y1="521.03" x2="390.30" y2="522.04" stroke="#5a5a5a" stroke-width="0.8"/>
<line x1="387.10" y1="521.03" x2="393.50" y2="521.03" stroke="#5a5a5a" stroke-width="0.8"/>
<line x1="387.10" y1="522.04" x2="393.50" y2="522.04" stroke="#5a5a5a" stroke-width="0.8"/>
<circle cx="387.30" cy="521.53" r="1.15" fill="#5a5a5a"/>
<circle cx="390.30" cy="521.53" r="1.15" fill="#5a5a5a"/>
<circle cx="393.30" cy="521.53" r="1.15" fill="#5a5a5a"/>
<rect x="405.40" y="521.53" width="14.80" height="5.07" fill="#acdcc0"/>
<line x1="412.80" y1="519.00" x2="412.80" y2="523.05" stroke="#1e5a38" stroke-width="0.8"/>
<line x1="409.60" y1="519.00" x2="416.00" y2="519.00" stroke="#1e5a38" stroke-width="0.8"/>
<line x1="409.60" y1="523.05" x2="416.00" y2="523.05" stroke="#1e5a38" stroke-width="0.8"/>
<circle cx="409.80" cy="521.53" r="1.15" fill="#1e5a38"/>
<circle cx="412.80" cy="521.53" r="1.15" fill="#1e5a38"/>
<circle cx="415.80" cy="521.53" r="1.15" fill="#1e5a38"/>
<rect x="428.40" y="471.90" width="14.80" height="54.70" fill="#fde2d2"/>
<line x1="435.80" y1="459.74" x2="435.80" y2="483.55" stroke="#d8a482" stroke-width="0.8"/>
<line x1="432.60" y1="459.74" x2="439.00" y2="459.74" stroke="#d8a482" stroke-width="0.8"/>
<line x1="432.60" y1="483.55" x2="439.00" y2="483.55" stroke="#d8a482" stroke-width="0.8"/>
<circle cx="435.80" cy="479.98" r="1.15" fill="#d8a482"/>
<circle cx="435.80" cy="471.90" r="1.15" fill="#d8a482"/>
<circle cx="435.80" cy="463.31" r="1.15" fill="#d8a482"/>
<rect x="450.80" y="475.44" width="14.80" height="51.16" fill="#ccd8ef"/>
<line x1="458.20" y1="461.77" x2="458.20" y2="488.61" stroke="#333a55" stroke-width="0.8"/>
<line x1="455.00" y1="461.77" x2="461.40" y2="461.77" stroke="#333a55" stroke-width="0.8"/>
<line x1="455.00" y1="488.61" x2="461.40" y2="488.61" stroke="#333a55" stroke-width="0.8"/>
<circle cx="458.20" cy="484.59" r="1.15" fill="#333a55"/>
<circle cx="458.20" cy="475.44" r="1.15" fill="#333a55"/>
<circle cx="458.20" cy="465.79" r="1.15" fill="#333a55"/>
<rect x="474.00" y="466.83" width="14.80" height="59.77" fill="#dac3e6"/>
<line x1="481.40" y1="454.17" x2="481.40" y2="481.02" stroke="#4a3a5a" stroke-width="0.8"/>
<line x1="478.20" y1="454.17" x2="484.60" y2="454.17" stroke="#4a3a5a" stroke-width="0.8"/>
<line x1="478.20" y1="481.02" x2="484.60" y2="481.02" stroke="#4a3a5a" stroke-width="0.8"/>
<circle cx="481.40" cy="476.99" r="1.15" fill="#4a3a5a"/>
<circle cx="481.40" cy="466.83" r="1.15" fill="#4a3a5a"/>
<circle cx="481.40" cy="458.20" r="1.15" fill="#4a3a5a"/>
<path d="M391.10 425.20V419.20H481.90V425.20" fill="none" stroke="#777" stroke-width="1"/>
<circle cx="432.40" cy="416.70" r="1.25" fill="#151515"/>
<circle cx="436.50" cy="416.70" r="1.25" fill="#151515"/>
<circle cx="440.60" cy="416.70" r="1.25" fill="#151515"/>
<path d="M391.10 440.50V434.50H458.70V440.50" fill="none" stroke="#777" stroke-width="1"/>
<circle cx="420.80" cy="432.00" r="1.25" fill="#151515"/>
<circle cx="424.90" cy="432.00" r="1.25" fill="#151515"/>
<circle cx="429.00" cy="432.00" r="1.25" fill="#151515"/>
<path d="M391.10 455.00V449.00H436.20V455.00" fill="none" stroke="#777" stroke-width="1"/>
<circle cx="409.55" cy="446.50" r="1.25" fill="#151515"/>
<circle cx="413.65" cy="446.50" r="1.25" fill="#151515"/>
<circle cx="417.75" cy="446.50" r="1.25" fill="#151515"/>
<text transform="translate(354.75 472.90) rotate(-90) scale(1 1)" font-size="8.2" font-weight="bold" text-anchor="middle" fill="#111">Relative mRNA expression</text>
<text x="435.00" y="538.40" font-size="8.5" font-weight="bold" font-style="italic" text-anchor="middle" fill="#111">eNOS</text>
<line x1="540.90" y1="425.55" x2="540.90" y2="526.30" stroke="#333" stroke-width="1.2"/>
<line x1="537.40" y1="525.80" x2="660.00" y2="525.80" stroke="#333" stroke-width="1.2"/>
<line x1="537.40" y1="525.80" x2="540.90" y2="525.80" stroke="#333" stroke-width="1"/>
<text transform="translate(536.60 529.58) scale(0.92 1)" font-size="10.5" text-anchor="end" fill="#2a2a2a">0</text>
<line x1="537.40" y1="492.55" x2="540.90" y2="492.55" stroke="#333" stroke-width="1"/>
<text transform="translate(536.60 496.33) scale(0.92 1)" font-size="10.5" text-anchor="end" fill="#2a2a2a">5</text>
<line x1="537.40" y1="459.30" x2="540.90" y2="459.30" stroke="#333" stroke-width="1"/>
<text transform="translate(536.60 463.08) scale(0.92 1)" font-size="10.5" text-anchor="end" fill="#2a2a2a">10</text>
<line x1="537.40" y1="426.05" x2="540.90" y2="426.05" stroke="#333" stroke-width="1"/>
<text transform="translate(536.60 429.83) scale(0.92 1)" font-size="10.5" text-anchor="end" fill="#2a2a2a">15</text>
<rect x="548.70" y="519.15" width="14.80" height="6.65" fill="#cdcdcd"/>
<line x1="556.10" y1="518.48" x2="556.10" y2="519.81" stroke="#5a5a5a" stroke-width="0.8"/>
<line x1="552.90" y1="518.48" x2="559.30" y2="518.48" stroke="#5a5a5a" stroke-width="0.8"/>
<line x1="552.90" y1="519.81" x2="559.30" y2="519.81" stroke="#5a5a5a" stroke-width="0.8"/>
<circle cx="553.10" cy="519.15" r="1.15" fill="#5a5a5a"/>
<circle cx="556.10" cy="519.15" r="1.15" fill="#5a5a5a"/>
<circle cx="559.10" cy="519.15" r="1.15" fill="#5a5a5a"/>
<rect x="571.00" y="519.15" width="14.80" height="6.65" fill="#acdcc0"/>
<line x1="578.40" y1="516.49" x2="578.40" y2="521.81" stroke="#1e5a38" stroke-width="0.8"/>
<line x1="575.20" y1="516.49" x2="581.60" y2="516.49" stroke="#1e5a38" stroke-width="0.8"/>
<line x1="575.20" y1="521.81" x2="581.60" y2="521.81" stroke="#1e5a38" stroke-width="0.8"/>
<circle cx="575.40" cy="519.15" r="1.15" fill="#1e5a38"/>
<circle cx="578.40" cy="519.15" r="1.15" fill="#1e5a38"/>
<circle cx="581.40" cy="519.15" r="1.15" fill="#1e5a38"/>
<rect x="593.40" y="490.55" width="14.80" height="35.25" fill="#fde2d2"/>
<line x1="600.80" y1="485.90" x2="600.80" y2="493.88" stroke="#d8a482" stroke-width="0.8"/>
<line x1="597.60" y1="485.90" x2="604.00" y2="485.90" stroke="#d8a482" stroke-width="0.8"/>
<line x1="597.60" y1="493.88" x2="604.00" y2="493.88" stroke="#d8a482" stroke-width="0.8"/>
<circle cx="600.80" cy="492.68" r="1.15" fill="#d8a482"/>
<circle cx="600.80" cy="490.55" r="1.15" fill="#d8a482"/>
<circle cx="600.80" cy="487.10" r="1.15" fill="#d8a482"/>
<rect x="615.80" y="477.92" width="14.80" height="47.88" fill="#ccd8ef"/>
<line x1="623.20" y1="467.28" x2="623.20" y2="488.56" stroke="#333a55" stroke-width="0.8"/>
<line x1="620.00" y1="467.28" x2="626.40" y2="467.28" stroke="#333a55" stroke-width="0.8"/>
<line x1="620.00" y1="488.56" x2="626.40" y2="488.56" stroke="#333a55" stroke-width="0.8"/>
<circle cx="623.20" cy="485.37" r="1.15" fill="#333a55"/>
<circle cx="623.20" cy="477.92" r="1.15" fill="#333a55"/>
<circle cx="623.20" cy="470.47" r="1.15" fill="#333a55"/>
<rect x="638.20" y="464.62" width="14.80" height="61.18" fill="#dac3e6"/>
<line x1="645.60" y1="459.30" x2="645.60" y2="468.61" stroke="#4a3a5a" stroke-width="0.8"/>
<line x1="642.40" y1="459.30" x2="648.80" y2="459.30" stroke="#4a3a5a" stroke-width="0.8"/>
<line x1="642.40" y1="468.61" x2="648.80" y2="468.61" stroke="#4a3a5a" stroke-width="0.8"/>
<circle cx="645.60" cy="467.21" r="1.15" fill="#4a3a5a"/>
<circle cx="645.60" cy="464.62" r="1.15" fill="#4a3a5a"/>
<circle cx="645.60" cy="460.70" r="1.15" fill="#4a3a5a"/>
<path d="M556.00 437.80V431.80H623.20V437.80" fill="none" stroke="#777" stroke-width="1"/>
<circle cx="583.45" cy="429.30" r="1.25" fill="#151515"/>
<circle cx="587.55" cy="429.30" r="1.25" fill="#151515"/>
<circle cx="591.65" cy="429.30" r="1.25" fill="#151515"/>
<circle cx="595.75" cy="429.30" r="1.25" fill="#151515"/>
<path d="M556.00 453.60V447.60H600.80V453.60" fill="none" stroke="#777" stroke-width="1"/>
<circle cx="574.30" cy="445.10" r="1.25" fill="#151515"/>
<circle cx="578.40" cy="445.10" r="1.25" fill="#151515"/>
<circle cx="582.50" cy="445.10" r="1.25" fill="#151515"/>
<path d="M603.20 453.60V447.60H645.60V453.60" fill="none" stroke="#777" stroke-width="1"/>
<circle cx="622.35" cy="445.10" r="1.25" fill="#151515"/>
<circle cx="626.45" cy="445.10" r="1.25" fill="#151515"/>
<text transform="translate(517.95 472.60) rotate(-90) scale(1 1)" font-size="8.2" font-weight="bold" text-anchor="middle" fill="#111">Relative mRNA expression</text>
<text x="601.30" y="538.40" font-size="8.5" font-weight="bold" font-style="italic" text-anchor="middle" fill="#111">ANG-1</text>
<line x1="695.40" y1="422.00" x2="695.40" y2="525.00" stroke="#333" stroke-width="1.2"/>
<line x1="691.90" y1="524.50" x2="818.50" y2="524.50" stroke="#333" stroke-width="1.2"/>
<line x1="691.90" y1="524.50" x2="695.40" y2="524.50" stroke="#333" stroke-width="1"/>
<text transform="translate(691.10 528.28) scale(0.92 1)" font-size="10.5" text-anchor="end" fill="#2a2a2a">0</text>
<line x1="691.90" y1="504.10" x2="695.40" y2="504.10" stroke="#333" stroke-width="1"/>
<text transform="translate(691.10 507.88) scale(0.92 1)" font-size="10.5" text-anchor="end" fill="#2a2a2a">2</text>
<line x1="691.90" y1="483.70" x2="695.40" y2="483.70" stroke="#333" stroke-width="1"/>
<text transform="translate(691.10 487.48) scale(0.92 1)" font-size="10.5" text-anchor="end" fill="#2a2a2a">4</text>
<line x1="691.90" y1="463.30" x2="695.40" y2="463.30" stroke="#333" stroke-width="1"/>
<text transform="translate(691.10 467.08) scale(0.92 1)" font-size="10.5" text-anchor="end" fill="#2a2a2a">6</text>
<line x1="691.90" y1="442.90" x2="695.40" y2="442.90" stroke="#333" stroke-width="1"/>
<text transform="translate(691.10 446.68) scale(0.92 1)" font-size="10.5" text-anchor="end" fill="#2a2a2a">8</text>
<line x1="691.90" y1="422.50" x2="695.40" y2="422.50" stroke="#333" stroke-width="1"/>
<text transform="translate(691.10 426.28) scale(0.92 1)" font-size="10.5" text-anchor="end" fill="#2a2a2a">10</text>
<rect x="702.70" y="514.30" width="14.80" height="10.20" fill="#cdcdcd"/>
<line x1="710.10" y1="513.79" x2="710.10" y2="514.81" stroke="#5a5a5a" stroke-width="0.8"/>
<line x1="706.90" y1="513.79" x2="713.30" y2="513.79" stroke="#5a5a5a" stroke-width="0.8"/>
<line x1="706.90" y1="514.81" x2="713.30" y2="514.81" stroke="#5a5a5a" stroke-width="0.8"/>
<circle cx="707.10" cy="514.30" r="1.15" fill="#5a5a5a"/>
<circle cx="710.10" cy="514.30" r="1.15" fill="#5a5a5a"/>
<circle cx="713.10" cy="514.30" r="1.15" fill="#5a5a5a"/>
<rect x="725.60" y="509.71" width="14.80" height="14.79" fill="#acdcc0"/>
<line x1="733.00" y1="507.16" x2="733.00" y2="511.75" stroke="#1e5a38" stroke-width="0.8"/>
<line x1="729.80" y1="507.16" x2="736.20" y2="507.16" stroke="#1e5a38" stroke-width="0.8"/>
<line x1="729.80" y1="511.75" x2="736.20" y2="511.75" stroke="#1e5a38" stroke-width="0.8"/>
<circle cx="730.00" cy="509.71" r="1.15" fill="#1e5a38"/>
<circle cx="733.00" cy="509.71" r="1.15" fill="#1e5a38"/>
<circle cx="736.00" cy="509.71" r="1.15" fill="#1e5a38"/>
<rect x="748.20" y="478.09" width="14.80" height="46.41" fill="#fde2d2"/>
<line x1="755.60" y1="468.40" x2="755.60" y2="486.76" stroke="#d8a482" stroke-width="0.8"/>
<line x1="752.40" y1="468.40" x2="758.80" y2="468.40" stroke="#d8a482" stroke-width="0.8"/>
<line x1="752.40" y1="486.76" x2="758.80" y2="486.76" stroke="#d8a482" stroke-width="0.8"/>
<circle cx="755.60" cy="484.01" r="1.15" fill="#d8a482"/>
<circle cx="755.60" cy="478.09" r="1.15" fill="#d8a482"/>
<circle cx="755.60" cy="471.15" r="1.15" fill="#d8a482"/>
<rect x="771.60" y="475.54" width="14.80" height="48.96" fill="#ccd8ef"/>
<line x1="779.00" y1="468.91" x2="779.00" y2="481.66" stroke="#333a55" stroke-width="0.8"/>
<line x1="775.80" y1="468.91" x2="782.20" y2="468.91" stroke="#333a55" stroke-width="0.8"/>
<line x1="775.80" y1="481.66" x2="782.20" y2="481.66" stroke="#333a55" stroke-width="0.8"/>
<circle cx="779.00" cy="479.75" r="1.15" fill="#333a55"/>
<circle cx="779.00" cy="475.54" r="1.15" fill="#333a55"/>
<circle cx="779.00" cy="470.82" r="1.15" fill="#333a55"/>
<rect x="794.00" y="461.26" width="14.80" height="63.24" fill="#dac3e6"/>
<line x1="801.40" y1="445.45" x2="801.40" y2="478.60" stroke="#4a3a5a" stroke-width="0.8"/>
<line x1="798.20" y1="445.45" x2="804.60" y2="445.45" stroke="#4a3a5a" stroke-width="0.8"/>
<line x1="798.20" y1="478.60" x2="804.60" y2="478.60" stroke="#4a3a5a" stroke-width="0.8"/>
<circle cx="801.40" cy="473.63" r="1.15" fill="#4a3a5a"/>
<circle cx="801.40" cy="461.26" r="1.15" fill="#4a3a5a"/>
<circle cx="801.40" cy="450.42" r="1.15" fill="#4a3a5a"/>
<path d="M710.10 433.10V427.10H801.40V433.10" fill="none" stroke="#777" stroke-width="1"/>
<circle cx="751.65" cy="424.60" r="1.25" fill="#151515"/>
<circle cx="755.75" cy="424.60" r="1.25" fill="#151515"/>
<circle cx="759.85" cy="424.60" r="1.25" fill="#151515"/>
<path d="M710.10 447.00V441.00H779.00V447.00" fill="none" stroke="#777" stroke-width="1"/>
<circle cx="742.50" cy="438.50" r="1.25" fill="#151515"/>
<circle cx="746.60" cy="438.50" r="1.25" fill="#151515"/>
<path d="M710.10 461.50V455.50H755.60V461.50" fill="none" stroke="#777" stroke-width="1"/>
<circle cx="730.80" cy="453.00" r="1.25" fill="#151515"/>
<circle cx="734.90" cy="453.00" r="1.25" fill="#151515"/>
<text transform="translate(675.25 470.60) rotate(-90) scale(1 1)" font-size="8.2" font-weight="bold" text-anchor="middle" fill="#111">Relative mRNA expression</text>
<text x="756.60" y="538.40" font-size="8.5" font-weight="bold" font-style="italic" text-anchor="middle" fill="#111">VEGF</text>
<rect x="31.00" y="553.00" width="37.00" height="11.70" fill="#cdcdcd"/>
<text x="72.80" y="561.60" font-size="9.2" font-weight="bold" text-anchor="start" fill="#111">Control</text>
<rect x="192.00" y="553.00" width="37.00" height="11.70" fill="#acdcc0"/>
<text x="233.80" y="561.60" font-size="9.2" font-weight="bold" text-anchor="start" fill="#111">SFH</text>
<rect x="354.00" y="553.00" width="37.00" height="11.70" fill="#fde2d2"/>
<text x="395.80" y="561.60" font-size="9.2" font-weight="bold" text-anchor="start" fill="#111">SalB@SFH</text>
<rect x="517.00" y="553.00" width="37.00" height="11.70" fill="#ccd8ef"/>
<text x="558.80" y="561.60" font-size="9.2" font-weight="bold" text-anchor="start" fill="#111">SalB@SFH+SFM</text>
<rect x="676.00" y="553.00" width="37.00" height="11.70" fill="#dac3e6"/>
<text x="717.80" y="561.60" font-size="9.2" font-weight="bold" text-anchor="start" fill="#111">SalB@SFH+MSFM</text>
</svg>
</body></html>
